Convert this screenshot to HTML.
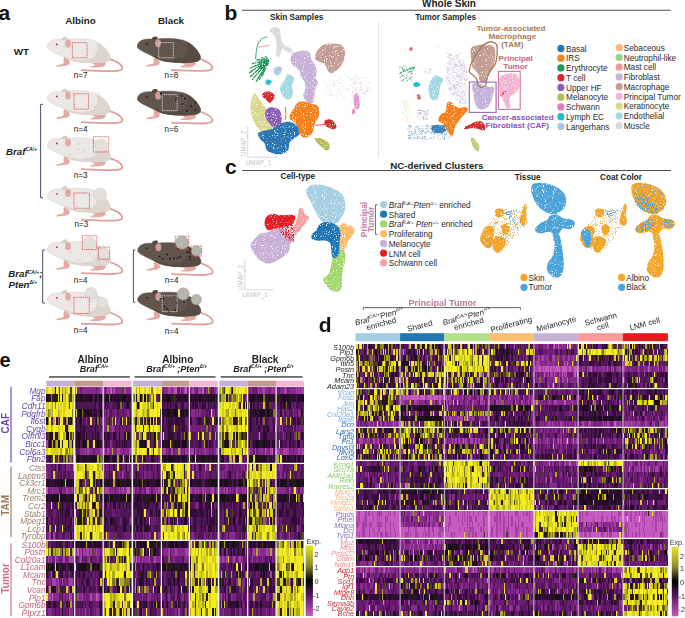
<!DOCTYPE html><html><head><meta charset="utf-8"><style>html,body{margin:0;padding:0;background:#fff;}body{width:685px;height:618px;overflow:hidden;}svg{display:block;font-family:"Liberation Sans",sans-serif;}</style></head><body>
<svg width="685" height="618" viewBox="0 0 685 618">
<defs>
<g id="mA">
<path d="M60.5,12 C70,14.5 76.5,19 74.6,22.6 C72.6,25.4 62,24.6 34.5,23.6" fill="none" stroke="#dfa09c" stroke-width="1.8" stroke-linecap="round"/>
<path d="M43,14 C49,15.2 56,14.5 58.5,16.5 C59,18.8 56.5,20.6 50.5,21 L44,21 C42.3,20.7 43,19.6 45,19.4 L48,18.6 C46,17.5 44,16 43,14 Z" fill="#e6aaa4"/>
<path d="M0,0 C0,-3 2.5,-5.5 6,-6.6 C9,-7.5 13,-7.4 16,-7 C24,-8 36,-8.5 46,-6.2 C54,-3.5 60,2.5 62.8,9 C64,12.5 62,15 57.5,15.6 C50,16.5 40,16.6 31,15.4 C25,14.6 20,13 16.5,10.5 C11,7.5 5,5.2 2.4,3.2 C0.8,2 -0.3,1 0,0 Z" fill="#ece8e5" stroke="#d6cec6" stroke-width="0.5"/>
<path d="M49,-4.4 C55,-2 60,3.5 62.8,9 C64,12.5 62,15 57.5,15.6 C50,16.5 42,16.6 30,15.2 C33,13.4 40,12.6 45,11.3 C49.5,8 51,2 49,-4.4 Z" fill="#ddd6cf"/>
<path d="M16.5,10.5 C20,13 25,14.6 31,15.4 C40,16.6 50,16.5 57.5,15.6 L56.5,14 C48,14.8 40,14.7 32,13.6 C26,12.8 21,11.4 17.5,9.3 Z" fill="#ddd6cf"/>
<path d="M17,11 C20,12.5 23,14 22.5,16.5 C22,18.4 19.5,19.3 16,19.5 L10.5,20.2 C8.8,20.4 8.6,19 10,18.6 L15.5,17.4 C16.5,16.6 16.8,15 16,13 Z" fill="#e6aaa4"/>
<path d="M14.2,-6.6 C14.5,-9.6 17.5,-10.6 20,-9.4 C20.5,-8.5 20,-7 19,-6.4 Z" fill="#d6cec6"/>
<ellipse cx="20.7" cy="-3.2" rx="2.9" ry="4" fill="#e2aaa7"/>
<circle cx="9.5" cy="-2.2" r="0.85" fill="#b3202d"/>
</g>
<g id="mB">
<path d="M60.5,12 C70,14.5 76.5,19 74.6,22.6 C72.6,25.4 62,24.6 34.5,23.6" fill="none" stroke="#dfa09c" stroke-width="1.8" stroke-linecap="round"/>
<path d="M43,14 C49,15.2 56,14.5 58.5,16.5 C59,18.8 56.5,20.6 50.5,21 L44,21 C42.3,20.7 43,19.6 45,19.4 L48,18.6 C46,17.5 44,16 43,14 Z" fill="#e6aaa4"/>
<path d="M0,0 C0,-3 2.5,-5.5 6,-6.6 C9,-7.5 13,-7.4 16,-7 C24,-8 36,-8.5 46,-6.2 C54,-3.5 60,2.5 62.8,9 C64,12.5 62,15 57.5,15.6 C50,16.5 40,16.6 31,15.4 C25,14.6 20,13 16.5,10.5 C11,7.5 5,5.2 2.4,3.2 C0.8,2 -0.3,1 0,0 Z" fill="#62554d" stroke="#55483f" stroke-width="0.5"/>
<path d="M49,-4.4 C55,-2 60,3.5 62.8,9 C64,12.5 62,15 57.5,15.6 C50,16.5 42,16.6 30,15.2 C33,13.4 40,12.6 45,11.3 C49.5,8 51,2 49,-4.4 Z" fill="#584b43"/>
<path d="M16.5,10.5 C20,13 25,14.6 31,15.4 C40,16.6 50,16.5 57.5,15.6 L56.5,14 C48,14.8 40,14.7 32,13.6 C26,12.8 21,11.4 17.5,9.3 Z" fill="#584b43"/>
<path d="M17,11 C20,12.5 23,14 22.5,16.5 C22,18.4 19.5,19.3 16,19.5 L10.5,20.2 C8.8,20.4 8.6,19 10,18.6 L15.5,17.4 C16.5,16.6 16.8,15 16,13 Z" fill="#e6aaa4"/>
<path d="M14.2,-6.6 C14.5,-9.6 17.5,-10.6 20,-9.4 C20.5,-8.5 20,-7 19,-6.4 Z" fill="#55483f"/>
<ellipse cx="20.7" cy="-3.2" rx="2.9" ry="4" fill="#cf9c98"/>
<circle cx="9.5" cy="-2.2" r="0.85" fill="#1a1210"/>
</g>
</defs>
<text x="-1.5" y="19.7" font-size="21" font-weight="bold" fill="#111">a</text>
<text x="80.5" y="23.5" font-size="9.8" font-weight="bold" text-anchor="middle" fill="#231f20">Albino</text>
<text x="171" y="23.5" font-size="9.8" font-weight="bold" text-anchor="middle" fill="#231f20">Black</text>
<text x="13.8" y="55" font-size="9.8" font-weight="bold" fill="#231f20">WT</text>
<use href="#mA" x="47.3" y="46.6"/>
<rect x="72.4" y="42.6" width="14.6" height="15.2" fill="none" stroke="#d5453f" stroke-width="0.8" stroke-dasharray="1.1 0.7"/>
<text x="73.7" y="77.6" font-size="8.2" fill="#222">n=7</text>
<use href="#mB" x="137.3" y="46.4"/>
<rect x="158.7" y="42.6" width="14.6" height="15.2" fill="none" stroke="#ebebeb" stroke-width="0.8" stroke-dasharray="1.1 0.7"/>
<text x="164.5" y="77.6" font-size="8.2" fill="#222">n=8</text>
<use href="#mA" x="47.3" y="98.6"/>
<circle cx="74.4" cy="107.9" r="0.7" fill="#eab9b9"/>
<circle cx="98.3" cy="97.2" r="0.7" fill="#eab9b9"/>
<circle cx="88.1" cy="100.7" r="0.7" fill="#eab9b9"/>
<circle cx="94.1" cy="106.8" r="0.7" fill="#eab9b9"/>
<circle cx="72.9" cy="93.1" r="0.7" fill="#eab9b9"/>
<circle cx="101.1" cy="100.4" r="0.7" fill="#eab9b9"/>
<circle cx="98.3" cy="92.6" r="0.7" fill="#eab9b9"/>
<circle cx="86.2" cy="105.6" r="0.7" fill="#eab9b9"/>
<rect x="74" y="93.8" width="14.6" height="15.3" fill="none" stroke="#d5453f" stroke-width="0.8" stroke-dasharray="1.1 0.7"/>
<text x="73.7" y="131.8" font-size="8.2" fill="#222">n=4</text>
<use href="#mB" x="137.4" y="99"/>
<circle cx="195.7" cy="110.1" r="0.9" fill="#1e1712"/>
<circle cx="161.5" cy="94.5" r="0.9" fill="#1e1712"/>
<circle cx="191.1" cy="106.2" r="0.9" fill="#1e1712"/>
<circle cx="184.8" cy="98.5" r="0.9" fill="#1e1712"/>
<circle cx="182.4" cy="103.9" r="0.9" fill="#1e1712"/>
<circle cx="181.5" cy="95.9" r="0.9" fill="#1e1712"/>
<circle cx="175.8" cy="100.1" r="0.9" fill="#1e1712"/>
<circle cx="186.9" cy="110.9" r="0.9" fill="#1e1712"/>
<circle cx="195.5" cy="102.8" r="0.9" fill="#1e1712"/>
<circle cx="176.3" cy="97.8" r="0.9" fill="#1e1712"/>
<circle cx="160.8" cy="93.5" r="0.9" fill="#1e1712"/>
<circle cx="177.1" cy="98.7" r="0.9" fill="#1e1712"/>
<rect x="162.2" y="94.6" width="14.9" height="16" fill="none" stroke="#ebebeb" stroke-width="0.8" stroke-dasharray="1.1 0.7"/>
<text x="164.39999999999998" y="131.8" font-size="8.2" fill="#222">n=6</text>
<use href="#mA" x="47.3" y="145.6"/>
<circle cx="78.3" cy="149.4" r="0.7" fill="#eab9b9"/>
<circle cx="83.4" cy="150.5" r="0.7" fill="#eab9b9"/>
<circle cx="93.1" cy="140.8" r="0.7" fill="#eab9b9"/>
<circle cx="69.8" cy="154.7" r="0.7" fill="#eab9b9"/>
<circle cx="79.2" cy="143.8" r="0.7" fill="#eab9b9"/>
<circle cx="107.1" cy="148.1" r="0.7" fill="#eab9b9"/>
<circle cx="101.1" cy="148.2" r="0.7" fill="#eab9b9"/>
<circle cx="93.6" cy="142.3" r="0.7" fill="#eab9b9"/>
<circle cx="101.2" cy="145.3" r="6.3" fill="#e4e0dc" stroke="#d0c9c2" stroke-width="0.5"/>
<rect x="93.4" y="136.7" width="15.4" height="15.3" fill="none" stroke="#d5453f" stroke-width="0.8" stroke-dasharray="1.1 0.7"/>
<text x="73.7" y="178" font-size="8.2" fill="#222">n=3</text>
<use href="#mA" x="47.3" y="196.2"/>
<circle cx="78.3" cy="192.1" r="0.7" fill="#eab9b9"/>
<circle cx="84.4" cy="193.0" r="0.7" fill="#eab9b9"/>
<circle cx="71.8" cy="197.4" r="0.7" fill="#eab9b9"/>
<circle cx="104.2" cy="204.6" r="0.7" fill="#eab9b9"/>
<circle cx="98.4" cy="194.2" r="0.7" fill="#eab9b9"/>
<circle cx="89.7" cy="195.2" r="0.7" fill="#eab9b9"/>
<circle cx="75.9" cy="192.1" r="0.7" fill="#eab9b9"/>
<circle cx="77.4" cy="206.9" r="0.7" fill="#eab9b9"/>
<circle cx="100" cy="194.3" r="6.4" fill="#e4e0dc" stroke="#d0c9c2" stroke-width="0.5"/>
<rect x="74" y="193" width="15.4" height="15.3" fill="none" stroke="#d5453f" stroke-width="0.8" stroke-dasharray="1.1 0.7"/>
<text x="74.5" y="227" font-size="8.2" fill="#222">n=3</text>
<use href="#mA" x="47.3" y="249.5"/>
<circle cx="93.0" cy="256.9" r="0.7" fill="#eab9b9"/>
<circle cx="99.5" cy="260.5" r="0.7" fill="#eab9b9"/>
<circle cx="97.4" cy="260.1" r="0.7" fill="#eab9b9"/>
<circle cx="70.4" cy="251.9" r="0.7" fill="#eab9b9"/>
<circle cx="105.1" cy="255.2" r="0.7" fill="#eab9b9"/>
<circle cx="103.5" cy="245.5" r="0.7" fill="#eab9b9"/>
<circle cx="87.1" cy="247.9" r="0.7" fill="#eab9b9"/>
<circle cx="90.0" cy="253.8" r="0.7" fill="#eab9b9"/>
<circle cx="69.8" cy="247.4" r="0.7" fill="#eab9b9"/>
<circle cx="79.9" cy="260.0" r="0.7" fill="#eab9b9"/>
<circle cx="89.6" cy="243" r="6.3" fill="#e4e0dc" stroke="#d0c9c2" stroke-width="0.5"/>
<circle cx="104" cy="253.5" r="5.5" fill="#e4e0dc" stroke="#d0c9c2" stroke-width="0.5"/>
<rect x="82.4" y="235.8" width="14.3" height="13.8" fill="none" stroke="#d5453f" stroke-width="0.8" stroke-dasharray="1.1 0.7"/>
<rect x="98.3" y="247.2" width="11.3" height="12.1" fill="none" stroke="#d5453f" stroke-width="0.8" stroke-dasharray="1.1 0.7"/>
<text x="73.7" y="283.1" font-size="8.2" fill="#222">n=4</text>
<use href="#mB" x="137.7" y="250.5"/>
<circle cx="189.8" cy="259.3" r="0.9" fill="#1e1712"/>
<circle cx="178.1" cy="249.2" r="0.9" fill="#1e1712"/>
<circle cx="159.7" cy="256.4" r="0.9" fill="#1e1712"/>
<circle cx="177.6" cy="258.2" r="0.9" fill="#1e1712"/>
<circle cx="173.9" cy="258.4" r="0.9" fill="#1e1712"/>
<circle cx="170.1" cy="258.9" r="0.9" fill="#1e1712"/>
<circle cx="187.4" cy="252.0" r="0.9" fill="#1e1712"/>
<circle cx="180.2" cy="256.8" r="0.9" fill="#1e1712"/>
<circle cx="167.0" cy="254.5" r="0.9" fill="#1e1712"/>
<circle cx="190.3" cy="249.3" r="0.9" fill="#1e1712"/>
<circle cx="190.2" cy="256.8" r="0.9" fill="#1e1712"/>
<circle cx="191.8" cy="250.5" r="0.9" fill="#1e1712"/>
<circle cx="163.2" cy="258.9" r="0.9" fill="#1e1712"/>
<circle cx="190.3" cy="252.5" r="0.9" fill="#1e1712"/>
<circle cx="182" cy="242.7" r="6.6" fill="#b8b4b0" stroke="#a29e9a" stroke-width="0.5"/>
<circle cx="196.4" cy="251" r="5.2" fill="#b8b4b0" stroke="#a29e9a" stroke-width="0.5"/>
<rect x="175.3" y="236.2" width="13.4" height="13" fill="none" stroke="#d5453f" stroke-width="0.8" stroke-dasharray="1.1 0.7"/>
<rect x="191.1" y="245.9" width="10.6" height="10.2" fill="none" stroke="#d5453f" stroke-width="0.8" stroke-dasharray="1.1 0.7"/>
<text x="164.7" y="282.7" font-size="8.2" fill="#222">n=4</text>
<use href="#mA" x="47.3" y="300"/>
<circle cx="81.6" cy="296.7" r="0.7" fill="#eab9b9"/>
<circle cx="94.0" cy="295.3" r="0.7" fill="#eab9b9"/>
<circle cx="89.7" cy="300.6" r="0.7" fill="#eab9b9"/>
<circle cx="71.5" cy="303.1" r="0.7" fill="#eab9b9"/>
<circle cx="70.7" cy="301.8" r="0.7" fill="#eab9b9"/>
<circle cx="72.0" cy="295.6" r="0.7" fill="#eab9b9"/>
<circle cx="85.4" cy="308.9" r="0.7" fill="#eab9b9"/>
<circle cx="74.0" cy="298.0" r="0.7" fill="#eab9b9"/>
<circle cx="93.1" cy="311.1" r="0.7" fill="#eab9b9"/>
<circle cx="91.2" cy="301.1" r="0.7" fill="#eab9b9"/>
<circle cx="91" cy="293.5" r="6" fill="#e4e0dc" stroke="#d0c9c2" stroke-width="0.5"/>
<circle cx="102.4" cy="302.6" r="5.2" fill="#e4e0dc" stroke="#d0c9c2" stroke-width="0.5"/>
<rect x="74" y="297.4" width="15.2" height="16.1" fill="none" stroke="#d5453f" stroke-width="0.8" stroke-dasharray="1.1 0.7"/>
<text x="73.7" y="333.4" font-size="8.2" fill="#222">n=4</text>
<use href="#mB" x="137.7" y="300"/>
<circle cx="168.3" cy="311.3" r="0.9" fill="#1e1712"/>
<circle cx="164.5" cy="306.7" r="0.9" fill="#1e1712"/>
<circle cx="162.9" cy="298.5" r="0.9" fill="#1e1712"/>
<circle cx="197.7" cy="297.8" r="0.9" fill="#1e1712"/>
<circle cx="184.1" cy="302.3" r="0.9" fill="#1e1712"/>
<circle cx="176.9" cy="302.9" r="0.9" fill="#1e1712"/>
<circle cx="167.0" cy="308.9" r="0.9" fill="#1e1712"/>
<circle cx="163.1" cy="298.2" r="0.9" fill="#1e1712"/>
<circle cx="160.5" cy="298.8" r="0.9" fill="#1e1712"/>
<circle cx="175.2" cy="310.2" r="0.9" fill="#1e1712"/>
<circle cx="174.1" cy="296.0" r="0.9" fill="#1e1712"/>
<circle cx="169.5" cy="311.8" r="0.9" fill="#1e1712"/>
<circle cx="183.2" cy="293.9" r="6.1" fill="#b8b4b0" stroke="#a29e9a" stroke-width="0.5"/>
<circle cx="196.3" cy="299.5" r="5.2" fill="#b8b4b0" stroke="#a29e9a" stroke-width="0.5"/>
<rect x="162.2" y="295.8" width="14.9" height="15.8" fill="none" stroke="#ebebeb" stroke-width="0.8" stroke-dasharray="1.1 0.7"/>
<text x="164.7" y="334" font-size="8.2" fill="#222">n=4</text>
<path d="M43,104.3 H40.6 V197.8 H43" fill="none" stroke="#4b4d6e" stroke-width="1"/>
<path d="M45.2,250 H42.7 V303 H45.2" fill="none" stroke="#4b4d6e" stroke-width="1"/>
<path d="M135.4,250 H133.4 V302.3 H135.4" fill="none" stroke="#4b4d6e" stroke-width="1"/>
<text x="6" y="155" font-size="9.7" font-weight="bold" font-style="italic" fill="#231f20">Braf<tspan font-size="5" dy="-3.6">CA/+</tspan></text>
<text x="8.3" y="277.4" font-size="9.7" font-weight="bold" font-style="italic" fill="#231f20">Braf<tspan font-size="5" dy="-3.6">CA/+</tspan><tspan dy="3.6">;</tspan></text>
<text x="8.5" y="287.9" font-size="9.7" font-weight="bold" font-style="italic" fill="#231f20">Pten<tspan font-size="5" dy="-3.6">Δ/+</tspan></text>
<defs><filter id="spkD" x="-5%" y="-5%" width="110%" height="110%"><feTurbulence type="fractalNoise" baseFrequency="0.9" numOctaves="2" seed="3" result="n"/><feColorMatrix in="n" type="matrix" values="0 0 0 0 0 0 0 0 0 0 0 0 0 0 0 7 0 0 0 -1.7" result="m"/><feComposite in="SourceGraphic" in2="m" operator="in"/></filter></defs>
<defs><filter id="spkM" x="-5%" y="-5%" width="110%" height="110%"><feTurbulence type="fractalNoise" baseFrequency="0.9" numOctaves="2" seed="5" result="n"/><feColorMatrix in="n" type="matrix" values="0 0 0 0 0 0 0 0 0 0 0 0 0 0 0 7 0 0 0 -3.2" result="m"/><feComposite in="SourceGraphic" in2="m" operator="in"/></filter></defs>
<defs><filter id="spkS" x="-5%" y="-5%" width="110%" height="110%"><feTurbulence type="fractalNoise" baseFrequency="0.9" numOctaves="2" seed="7" result="n"/><feColorMatrix in="n" type="matrix" values="0 0 0 0 0 0 0 0 0 0 0 0 0 0 0 7 0 0 0 -3.9" result="m"/><feComposite in="SourceGraphic" in2="m" operator="in"/></filter></defs>
<text x="224.4" y="20.3" font-size="21" font-weight="bold" fill="#111">b</text>
<path d="M242,10.3 H670.7" stroke="#4d4d4d" stroke-width="1.1"/>
<text x="422" y="6.6" font-size="10" font-weight="bold" fill="#231f20">Whole Skin</text>
<text x="270" y="19.6" font-size="8.2" font-weight="bold" fill="#231f20">Skin Samples</text>
<text x="415.2" y="19.6" font-size="8.2" font-weight="bold" fill="#231f20">Tumor Samples</text>
<path d="M378.6,23 V158" stroke="#b5b5b5" stroke-width="0.8" stroke-dasharray="0.8 0.8"/>
<g filter="url(#spkD)">
<path d="M270.3,29.1 C271.2,28.3 273.3,27.3 274.9,27.3 C276.4,27.2 278.4,27.6 279.4,28.6 C280.3,29.7 280.2,31.8 280.5,33.6 C280.8,35.4 280.6,37.4 281.2,39.3 C281.8,41.1 282.8,43.4 284.4,44.9 C286.0,46.4 289.3,47.2 290.7,48.3 C292.2,49.5 293.2,51.0 293.0,51.7 C292.8,52.5 290.9,53.0 289.6,52.9 C288.3,52.7 286.4,51.2 285.0,50.6 C283.7,50.0 282.4,48.9 281.7,49.5 C280.9,50.0 281.1,52.7 280.5,54.0 C280.0,55.3 279.0,57.2 278.3,57.4 C277.5,57.6 276.3,56.8 276.0,55.1 C275.7,53.4 276.7,49.6 276.7,47.2 C276.7,44.7 276.5,42.5 276.0,40.4 C275.5,38.3 274.7,36.2 273.7,34.7 C272.7,33.3 270.4,32.7 269.9,31.8 C269.3,30.8 269.5,29.8 270.3,29.1Z" fill="#dadada"/>
<path d="M266.9,37.0 C266.0,37.4 262.9,37.8 261.3,39.3 C259.6,40.8 258.1,42.8 257.2,46.1 C256.2,49.3 255.9,56.4 255.6,58.5" fill="none" stroke="#22985a" stroke-width="0.9" stroke-linecap="round"/>
<path d="M259.0,47.2 C259.9,47.0 263.0,46.4 264.7,46.1 C266.4,45.8 268.4,45.5 269.2,45.4" fill="none" stroke="#e87070" stroke-width="0.8" stroke-linecap="round"/>
<path d="M267.6,61.2 C266.2,62.1 262.2,64.3 259.2,66.2 C256.2,68.1 251.1,71.5 249.5,72.6" fill="none" stroke="#22985a" stroke-width="1.3" stroke-linecap="round"/>
<path d="M267.6,61.2 C266.3,62.4 262.5,65.7 259.7,68.3 C256.8,70.8 251.9,75.3 250.4,76.7" fill="none" stroke="#22985a" stroke-width="1.3" stroke-linecap="round"/>
<path d="M267.6,61.2 C266.5,62.6 263.3,66.6 260.8,69.6 C258.3,72.6 254.0,77.7 252.6,79.4" fill="none" stroke="#22985a" stroke-width="1.3" stroke-linecap="round"/>
<path d="M267.6,61.2 C266.8,62.8 264.5,67.2 262.6,70.5 C260.7,73.9 257.3,79.4 256.3,81.2" fill="none" stroke="#22985a" stroke-width="1.3" stroke-linecap="round"/>
<path d="M267.6,61.2 C267.0,62.6 265.6,66.6 264.2,69.6 C262.8,72.6 260.2,77.7 259.4,79.4" fill="none" stroke="#22985a" stroke-width="1.3" stroke-linecap="round"/>
<path d="M267.6,61.2 C267.3,62.3 266.5,65.3 265.7,67.7 C264.8,70.1 262.9,74.2 262.4,75.5" fill="none" stroke="#22985a" stroke-width="1.3" stroke-linecap="round"/>
<path d="M267.6,61.2 C266.3,61.7 262.5,62.8 259.7,64.0 C256.8,65.1 251.9,67.4 250.4,68.0" fill="none" stroke="#22985a" stroke-width="1.3" stroke-linecap="round"/>
<path d="M267.6,61.2 C266.5,61.3 263.3,61.3 260.8,61.7 C258.3,62.1 254.0,63.2 252.6,63.5" fill="none" stroke="#22985a" stroke-width="1.3" stroke-linecap="round"/>
<path d="M267.6,61.2 C266.8,61.0 264.7,60.1 262.8,59.9 C261.0,59.7 257.7,59.9 256.7,59.9" fill="none" stroke="#22985a" stroke-width="1.3" stroke-linecap="round"/>
<path d="M267.6,61.2 C267.2,60.8 266.2,59.4 265.1,58.7 C264.1,58.1 261.9,57.8 261.3,57.6" fill="none" stroke="#22985a" stroke-width="1.3" stroke-linecap="round"/>
<path d="M267.6,61.2 C267.5,60.8 267.5,59.1 267.1,58.3 C266.8,57.5 265.6,57.0 265.3,56.7" fill="none" stroke="#22985a" stroke-width="1.3" stroke-linecap="round"/>
<path d="M259.0,61.9 C259.9,60.5 263.0,59.4 264.7,59.0 C266.4,58.6 268.6,58.6 269.2,59.7 C269.8,60.7 269.0,63.8 268.1,65.3 C267.1,66.8 265.0,68.3 263.5,68.7 C262.0,69.1 259.7,68.7 259.0,67.6 C258.2,66.5 258.0,63.4 259.0,61.9Z" fill="#22985a"/>
<path d="M291.8,54.0 C293.0,52.5 295.2,52.3 297.5,51.7 C299.8,51.2 303.4,50.4 305.4,50.6 C307.5,50.8 309.0,51.5 310.0,52.9 C310.9,54.2 310.4,56.6 311.1,58.5 C311.9,60.4 313.6,62.1 314.5,64.2 C315.5,66.3 316.6,68.7 316.8,71.0 C317.0,73.3 315.5,75.9 315.6,77.8 C315.8,79.7 317.9,80.6 317.9,82.3 C317.9,84.0 316.2,85.9 315.6,88.0 C315.1,90.1 314.9,92.5 314.5,94.8 C314.1,97.0 314.1,100.1 313.4,101.6 C312.6,103.1 311.3,104.0 310.0,103.8 C308.7,103.7 306.6,102.0 305.4,100.4 C304.3,98.9 303.2,96.9 303.2,94.8 C303.2,92.7 305.3,90.2 305.4,88.0 C305.6,85.7 305.1,83.1 304.3,81.2 C303.6,79.3 301.7,78.4 300.9,76.7 C300.2,75.0 300.5,72.5 299.8,71.0 C299.0,69.5 297.5,68.5 296.4,67.6 C295.2,66.6 293.9,66.5 293.0,65.3 C292.0,64.2 290.9,62.7 290.7,60.8 C290.5,58.9 290.7,55.5 291.8,54.0Z" fill="#c8b1d8"/>
<path d="M315.6,54.0 C316.4,51.9 318.3,48.9 320.2,47.2 C322.1,45.5 324.3,44.4 327.0,43.8 C329.6,43.2 333.4,43.4 336.0,43.8 C338.7,44.2 341.3,44.4 342.8,46.1 C344.3,47.8 345.1,51.2 345.1,54.0 C345.1,56.8 344.0,60.6 342.8,63.1 C341.7,65.5 340.2,67.0 338.3,68.7 C336.4,70.4 333.2,72.9 331.5,73.3 C329.8,73.6 329.2,72.5 328.1,71.0 C327.0,69.5 326.0,65.7 324.7,64.2 C323.4,62.7 321.7,62.7 320.2,61.9 C318.7,61.2 316.4,61.0 315.6,59.7 C314.9,58.3 314.9,56.1 315.6,54.0Z" fill="#c39c93"/>
<path d="M329.0,60.3h0.5v0.5h-0.5zM342.9,57.5h0.5v0.5h-0.5zM330.6,61.1h0.5v0.5h-0.5zM321.1,58.9h0.5v0.5h-0.5zM334.2,67.2h0.5v0.5h-0.5zM318.4,52.7h0.5v0.5h-0.5zM336.1,45.0h0.5v0.5h-0.5zM334.9,61.9h0.5v0.5h-0.5zM331.2,45.5h0.5v0.5h-0.5zM321.2,50.9h0.5v0.5h-0.5zM316.5,57.5h0.5v0.5h-0.5zM328.6,68.6h0.5v0.5h-0.5zM330.9,62.7h0.5v0.5h-0.5zM330.4,63.3h0.5v0.5h-0.5zM329.1,52.0h0.5v0.5h-0.5zM340.4,64.6h0.5v0.5h-0.5zM324.9,50.6h0.5v0.5h-0.5zM324.2,45.9h0.5v0.5h-0.5zM338.2,55.6h0.5v0.5h-0.5zM340.6,55.2h0.5v0.5h-0.5zM342.5,57.6h0.5v0.5h-0.5zM344.5,55.5h0.5v0.5h-0.5zM338.6,51.7h0.5v0.5h-0.5zM318.2,53.6h0.5v0.5h-0.5zM319.1,51.1h0.5v0.5h-0.5zM339.1,49.0h0.5v0.5h-0.5zM332.1,57.0h0.5v0.5h-0.5zM319.1,56.2h0.5v0.5h-0.5zM321.9,51.7h0.5v0.5h-0.5zM321.8,55.4h0.5v0.5h-0.5zM340.8,62.7h0.5v0.5h-0.5zM321.9,51.4h0.5v0.5h-0.5zM338.4,53.5h0.5v0.5h-0.5zM324.4,46.0h0.5v0.5h-0.5zM318.3,61.0h0.5v0.5h-0.5zM322.8,61.5h0.5v0.5h-0.5zM326.6,57.1h0.5v0.5h-0.5zM343.9,58.0h0.5v0.5h-0.5zM332.6,69.3h0.5v0.5h-0.5zM321.0,48.3h0.5v0.5h-0.5zM323.0,49.4h0.5v0.5h-0.5zM341.6,61.6h0.5v0.5h-0.5zM328.1,46.9h0.5v0.5h-0.5zM333.2,52.4h0.5v0.5h-0.5zM332.1,68.9h0.5v0.5h-0.5zM333.7,52.0h0.5v0.5h-0.5zM342.7,49.8h0.5v0.5h-0.5zM328.8,45.6h0.5v0.5h-0.5zM320.8,54.7h0.5v0.5h-0.5zM332.5,47.7h0.5v0.5h-0.5zM336.0,61.0h0.5v0.5h-0.5zM329.8,65.3h0.5v0.5h-0.5zM317.9,59.9h0.5v0.5h-0.5zM337.4,64.5h0.5v0.5h-0.5zM326.0,64.0h0.5v0.5h-0.5zM327.9,67.1h0.5v0.5h-0.5zM341.1,60.7h0.5v0.5h-0.5zM334.1,55.1h0.5v0.5h-0.5zM332.8,61.7h0.5v0.5h-0.5zM337.1,55.2h0.5v0.5h-0.5z" fill="#ffffff" fill-opacity="0.7"/>
<path d="M273.7,68.7 C274.2,67.6 275.8,66.6 277.1,66.5 C278.4,66.3 281.1,66.5 281.7,67.6 C282.2,68.7 281.3,71.9 280.5,73.3 C279.8,74.6 278.1,75.5 277.1,75.5 C276.1,75.5 275.0,74.4 274.4,73.3 C273.8,72.1 273.3,69.9 273.7,68.7Z" fill="#abc6e6"/>
<path d="M265.3,80.7 C265.6,79.9 267.0,79.3 268.1,79.4 C269.1,79.4 271.1,80.3 271.5,81.2 C271.8,82.1 271.2,84.0 270.3,84.6 C269.5,85.1 267.3,85.2 266.5,84.6 C265.6,83.9 265.1,81.6 265.3,80.7Z" fill="#1fbccc"/>
<path d="M280.5,85.7 C281.3,83.7 283.9,81.3 285.0,79.4 C286.2,77.5 286.2,75.0 287.3,74.4 C288.4,73.7 290.7,74.6 291.8,75.5 C293.0,76.5 294.1,78.4 294.1,80.0 C294.1,81.7 292.0,83.6 291.8,85.7 C291.7,87.8 293.2,90.4 293.0,92.5 C292.8,94.6 291.8,97.0 290.7,98.2 C289.6,99.3 287.5,99.7 286.2,99.3 C284.9,98.9 283.7,97.2 282.8,95.9 C281.8,94.6 280.9,93.1 280.5,91.4 C280.1,89.7 279.8,87.7 280.5,85.7Z" fill="#a2d8e2"/>
<path d="M262.4,93.6 C263.0,92.7 265.4,91.6 266.9,91.4 C268.4,91.2 270.1,91.8 271.5,92.5 C272.8,93.3 274.7,94.6 274.9,95.9 C275.0,97.2 273.5,99.3 272.6,100.4 C271.6,101.6 270.3,102.9 269.2,102.7 C268.1,102.5 266.8,100.3 265.8,99.3 C264.8,98.4 263.6,98.0 263.1,97.0 C262.5,96.1 261.7,94.6 262.4,93.6Z" fill="#d62a2a"/>
<path d="M252.6,95.9 C253.4,94.1 253.9,92.4 254.9,93.0 C256.0,93.5 257.3,96.9 259.0,99.3 C260.7,101.7 263.4,104.2 265.3,107.2 C267.2,110.3 268.8,113.9 270.3,117.4 C271.8,121.0 273.6,125.9 274.4,128.8 C275.2,131.6 276.2,133.2 275.3,134.4 C274.4,135.6 271.5,136.6 269.2,136.0 C266.8,135.5 263.7,133.2 261.3,131.0 C258.8,128.9 256.2,126.1 254.5,123.1 C252.8,120.1 251.7,116.1 251.1,112.9 C250.4,109.7 250.1,106.7 250.4,103.8 C250.6,101.0 251.9,97.7 252.6,95.9Z" fill="#d8d98e"/>
<path d="M265.8,110.6 C266.5,108.9 268.4,107.6 270.3,107.2 C272.2,106.9 275.4,107.6 277.1,108.4 C278.8,109.1 279.8,109.9 280.5,111.8 C281.3,113.7 281.8,117.3 281.7,119.7 C281.5,122.2 280.7,125.2 279.4,126.5 C278.1,127.8 275.4,128.2 273.7,127.6 C272.0,127.1 270.5,124.8 269.2,123.1 C267.9,121.4 266.4,119.5 265.8,117.4 C265.2,115.4 265.0,112.3 265.8,110.6Z" fill="#8d60b6"/>
<path d="M257.9,133.3 C258.4,132.0 261.1,131.8 263.5,131.0 C266.0,130.3 269.6,130.1 272.6,128.8 C275.6,127.4 278.6,124.2 281.7,123.1 C284.7,122.0 288.1,121.4 290.7,122.0 C293.4,122.5 296.0,124.6 297.5,126.5 C299.0,128.4 300.2,131.4 299.8,133.3 C299.4,135.2 296.9,136.3 295.2,137.8 C293.5,139.3 290.7,140.5 289.6,142.4 C288.4,144.3 289.6,147.3 288.4,149.2 C287.3,151.1 285.2,152.9 282.8,153.7 C280.3,154.5 276.4,154.3 273.7,153.7 C271.1,153.1 268.4,152.0 266.9,150.3 C265.4,148.6 265.8,145.4 264.7,143.5 C263.5,141.6 261.3,140.7 260.1,139.0 C259.0,137.3 257.3,134.6 257.9,133.3Z" fill="#2b77b3"/>
<path d="M293.0,109.5 C294.3,107.4 295.8,104.0 297.5,102.7 C299.2,101.4 300.9,101.4 303.2,101.6 C305.4,101.8 308.7,103.1 311.1,103.8 C313.6,104.6 316.6,104.2 317.9,106.1 C319.2,108.0 319.4,112.5 319.0,115.2 C318.7,117.8 316.6,119.5 315.6,122.0 C314.7,124.4 314.1,127.8 313.4,129.9 C312.6,132.0 312.4,133.1 311.1,134.4 C309.8,135.8 307.1,137.6 305.4,137.8 C303.7,138.0 302.0,137.1 300.9,135.6 C299.8,134.1 299.6,130.8 298.6,128.8 C297.7,126.7 296.6,124.6 295.2,123.1 C293.9,121.6 291.7,121.0 290.7,119.7 C289.8,118.4 289.2,116.9 289.6,115.2 C290.0,113.5 291.7,111.6 293.0,109.5Z" fill="#f6801f"/>
<path d="M285.3,107.2 C285.4,108.2 285.7,110.8 285.7,112.9 C285.7,115.0 285.4,118.6 285.3,119.7" fill="none" stroke="#f6801f" stroke-width="1.2" stroke-linecap="round"/>
<path d="M324.7,120.8 C325.5,120.0 327.7,119.1 329.2,119.3 C330.7,119.4 332.6,120.3 333.8,121.5 C335.0,122.7 336.5,125.2 336.5,126.5 C336.5,127.8 335.2,129.0 333.8,129.2 C332.4,129.4 329.6,128.5 328.1,127.6 C326.6,126.8 325.3,125.4 324.7,124.2 C324.1,123.1 324.0,121.7 324.7,120.8Z" fill="#d62a2a"/>
<path d="M314.5,125.4 C315.5,125.3 318.5,125.1 320.2,124.9 C321.9,124.7 324.0,124.4 324.7,124.2" fill="none" stroke="#d62a2a" stroke-width="0.8" stroke-linecap="round"/>
<path d="M314.5,139.0 C314.7,137.9 318.1,137.9 320.2,138.3 C322.3,138.7 325.4,140.0 327.0,141.2 C328.6,142.5 329.5,144.3 329.7,145.8 C329.9,147.3 329.1,149.7 328.1,150.3 C327.1,150.9 325.1,150.1 323.6,149.2 C322.1,148.2 320.6,146.3 319.0,144.6 C317.5,142.9 314.3,140.0 314.5,139.0Z" fill="#b7bc58"/>
<path d="M354.2,94.8 C354.9,93.6 357.3,92.8 358.2,94.3 C359.2,95.8 359.8,101.5 359.8,103.8 C359.9,106.2 359.5,107.5 358.7,108.4 C357.9,109.2 356.1,110.0 355.3,108.8 C354.5,107.7 353.9,103.9 353.7,101.6 C353.5,99.2 353.4,96.0 354.2,94.8Z" fill="#de7ec0" fill-opacity="0.8"/>
<path d="M351.9,110.2 C352.3,109.2 354.1,108.4 354.6,108.8 C355.2,109.3 355.7,111.9 355.3,112.9 C354.9,113.9 352.9,115.2 352.4,114.7 C351.8,114.3 351.5,111.2 351.9,110.2Z" fill="#de7ec0" fill-opacity="0.8"/>
<path d="M345.0,89.3h0.6v0.6h-0.6zM354.2,77.6h0.6v0.6h-0.6zM335.5,92.7h0.6v0.6h-0.6zM355.3,88.0h0.6v0.6h-0.6zM349.0,89.4h0.6v0.6h-0.6zM329.4,84.4h0.6v0.6h-0.6zM330.2,94.9h0.6v0.6h-0.6zM325.2,92.9h0.6v0.6h-0.6zM326.0,90.0h0.6v0.6h-0.6zM338.5,83.6h0.6v0.6h-0.6zM346.7,76.4h0.6v0.6h-0.6zM327.8,84.0h0.6v0.6h-0.6zM328.9,81.5h0.6v0.6h-0.6zM352.0,78.1h0.6v0.6h-0.6zM355.6,75.5h0.6v0.6h-0.6zM330.6,92.9h0.6v0.6h-0.6zM341.5,83.9h0.6v0.6h-0.6zM350.8,85.2h0.6v0.6h-0.6zM340.7,75.1h0.6v0.6h-0.6zM339.4,82.6h0.6v0.6h-0.6zM355.3,89.7h0.6v0.6h-0.6zM327.9,79.7h0.6v0.6h-0.6zM339.7,86.0h0.6v0.6h-0.6zM361.0,85.7h0.6v0.6h-0.6zM342.9,86.1h0.6v0.6h-0.6zM333.0,84.1h0.6v0.6h-0.6zM340.9,91.9h0.6v0.6h-0.6zM327.3,86.8h0.6v0.6h-0.6zM330.9,90.2h0.6v0.6h-0.6zM324.2,80.7h0.6v0.6h-0.6zM338.8,88.8h0.6v0.6h-0.6zM324.9,84.8h0.6v0.6h-0.6zM332.4,80.8h0.6v0.6h-0.6zM345.1,96.1h0.6v0.6h-0.6zM345.3,96.0h0.6v0.6h-0.6zM330.4,95.3h0.6v0.6h-0.6zM339.8,78.7h0.6v0.6h-0.6zM358.1,95.1h0.6v0.6h-0.6zM359.1,82.1h0.6v0.6h-0.6zM324.3,88.4h0.6v0.6h-0.6zM346.4,74.9h0.6v0.6h-0.6zM337.8,92.2h0.6v0.6h-0.6zM362.0,88.9h0.6v0.6h-0.6zM333.4,86.3h0.6v0.6h-0.6zM345.2,88.6h0.6v0.6h-0.6zM365.0,78.1h0.6v0.6h-0.6zM336.3,94.2h0.6v0.6h-0.6zM335.7,95.8h0.6v0.6h-0.6zM347.0,90.2h0.6v0.6h-0.6zM356.0,79.2h0.6v0.6h-0.6zM336.0,80.2h0.6v0.6h-0.6zM355.0,90.1h0.6v0.6h-0.6zM328.7,94.5h0.6v0.6h-0.6zM342.4,79.9h0.6v0.6h-0.6zM343.2,96.6h0.6v0.6h-0.6zM349.1,88.5h0.6v0.6h-0.6zM358.6,83.8h0.6v0.6h-0.6zM350.4,94.8h0.6v0.6h-0.6zM360.0,87.5h0.6v0.6h-0.6zM339.0,82.7h0.6v0.6h-0.6zM357.5,87.1h0.6v0.6h-0.6zM365.4,92.5h0.6v0.6h-0.6zM365.1,95.0h0.6v0.6h-0.6zM347.9,92.3h0.6v0.6h-0.6zM340.5,76.6h0.6v0.6h-0.6zM339.2,81.5h0.6v0.6h-0.6zM366.9,90.0h0.6v0.6h-0.6zM348.2,88.5h0.6v0.6h-0.6zM328.4,86.5h0.6v0.6h-0.6zM355.8,83.3h0.6v0.6h-0.6zM334.1,83.6h0.6v0.6h-0.6zM337.8,89.9h0.6v0.6h-0.6zM329.2,76.4h0.6v0.6h-0.6zM337.3,90.2h0.6v0.6h-0.6zM358.6,89.3h0.6v0.6h-0.6zM366.9,82.7h0.6v0.6h-0.6zM323.9,85.4h0.6v0.6h-0.6zM343.6,78.4h0.6v0.6h-0.6zM354.2,82.1h0.6v0.6h-0.6zM333.8,81.8h0.6v0.6h-0.6zM339.6,80.7h0.6v0.6h-0.6zM332.0,84.2h0.6v0.6h-0.6zM332.9,95.2h0.6v0.6h-0.6zM346.3,90.2h0.6v0.6h-0.6zM330.2,84.9h0.6v0.6h-0.6zM351.3,93.5h0.6v0.6h-0.6zM334.3,84.8h0.6v0.6h-0.6zM363.1,93.2h0.6v0.6h-0.6zM333.3,86.6h0.6v0.6h-0.6zM358.7,83.3h0.6v0.6h-0.6zM354.5,89.4h0.6v0.6h-0.6zM368.7,86.9h0.6v0.6h-0.6zM354.8,82.3h0.6v0.6h-0.6zM357.3,81.7h0.6v0.6h-0.6zM346.2,82.6h0.6v0.6h-0.6zM337.1,77.5h0.6v0.6h-0.6zM333.2,86.7h0.6v0.6h-0.6zM334.4,75.4h0.6v0.6h-0.6zM360.7,80.9h0.6v0.6h-0.6zM367.0,88.0h0.6v0.6h-0.6zM341.0,94.2h0.6v0.6h-0.6zM365.1,81.7h0.6v0.6h-0.6zM328.4,88.9h0.6v0.6h-0.6zM362.5,88.2h0.6v0.6h-0.6zM359.8,83.7h0.6v0.6h-0.6zM351.8,80.3h0.6v0.6h-0.6zM341.8,83.0h0.6v0.6h-0.6zM340.7,83.4h0.6v0.6h-0.6zM360.9,78.2h0.6v0.6h-0.6zM332.2,80.2h0.6v0.6h-0.6zM368.6,86.2h0.6v0.6h-0.6zM325.0,93.3h0.6v0.6h-0.6zM364.0,93.0h0.6v0.6h-0.6zM339.5,91.0h0.6v0.6h-0.6zM337.0,77.5h0.6v0.6h-0.6zM363.6,93.3h0.6v0.6h-0.6zM332.5,94.3h0.6v0.6h-0.6zM323.6,81.4h0.6v0.6h-0.6zM323.1,78.3h0.6v0.6h-0.6zM330.2,90.6h0.6v0.6h-0.6z" fill="#c8b1d8"/>
<path d="M353.2,88.4h0.6v0.6h-0.6zM362.9,91.7h0.6v0.6h-0.6zM351.6,79.1h0.6v0.6h-0.6zM350.7,79.0h0.6v0.6h-0.6zM364.0,77.0h0.6v0.6h-0.6zM359.4,78.7h0.6v0.6h-0.6zM354.0,83.2h0.6v0.6h-0.6zM366.3,86.8h0.6v0.6h-0.6zM365.7,90.8h0.6v0.6h-0.6zM366.1,89.6h0.6v0.6h-0.6zM368.9,90.6h0.6v0.6h-0.6zM353.2,91.7h0.6v0.6h-0.6zM358.4,89.8h0.6v0.6h-0.6zM360.1,83.1h0.6v0.6h-0.6zM355.6,83.2h0.6v0.6h-0.6zM354.5,76.8h0.6v0.6h-0.6zM365.9,90.7h0.6v0.6h-0.6zM369.7,88.5h0.6v0.6h-0.6zM359.9,89.6h0.6v0.6h-0.6zM357.4,78.0h0.6v0.6h-0.6zM352.0,85.0h0.6v0.6h-0.6zM353.1,83.8h0.6v0.6h-0.6zM361.1,82.5h0.6v0.6h-0.6zM350.3,84.4h0.6v0.6h-0.6zM352.7,79.2h0.6v0.6h-0.6zM351.8,81.9h0.6v0.6h-0.6zM369.0,82.3h0.6v0.6h-0.6zM363.7,93.4h0.6v0.6h-0.6zM348.3,77.3h0.6v0.6h-0.6zM365.6,91.5h0.6v0.6h-0.6zM361.8,77.6h0.6v0.6h-0.6zM356.7,92.1h0.6v0.6h-0.6zM367.4,90.8h0.6v0.6h-0.6zM352.0,91.8h0.6v0.6h-0.6zM355.9,89.0h0.6v0.6h-0.6zM361.0,89.1h0.6v0.6h-0.6zM352.2,87.0h0.6v0.6h-0.6zM360.5,86.4h0.6v0.6h-0.6zM355.5,89.2h0.6v0.6h-0.6zM355.1,80.4h0.6v0.6h-0.6z" fill="#de7ec0"/>
</g>
<path d="M247.7,126.5 V157.2 H277" fill="none" stroke="#cfcfcf" stroke-width="0.8"/>
<text transform="translate(246,156) rotate(-90)" font-size="6.3" fill="#c3c3c3">UMAP_2</text>
<text x="245.7" y="165.2" font-size="6.3" fill="#c3c3c3">UMAP_1</text>
<path d="M449.2,88.2h0.7v0.7h-0.7zM459.1,77.2h0.7v0.7h-0.7zM462.8,79.0h0.7v0.7h-0.7zM456.4,64.6h0.7v0.7h-0.7zM458.1,55.9h0.7v0.7h-0.7zM462.5,64.4h0.7v0.7h-0.7zM450.6,54.5h0.7v0.7h-0.7zM464.2,84.4h0.7v0.7h-0.7zM446.5,69.4h0.7v0.7h-0.7zM456.2,58.3h0.7v0.7h-0.7zM465.8,71.5h0.7v0.7h-0.7zM455.3,81.0h0.7v0.7h-0.7zM453.0,77.5h0.7v0.7h-0.7zM449.7,54.2h0.7v0.7h-0.7zM464.0,64.5h0.7v0.7h-0.7zM462.2,63.1h0.7v0.7h-0.7zM461.7,92.0h0.7v0.7h-0.7zM458.0,90.3h0.7v0.7h-0.7zM448.3,77.1h0.7v0.7h-0.7zM463.2,62.7h0.7v0.7h-0.7zM465.2,98.5h0.7v0.7h-0.7zM454.4,71.3h0.7v0.7h-0.7zM455.3,72.4h0.7v0.7h-0.7zM466.7,72.4h0.7v0.7h-0.7zM456.2,77.9h0.7v0.7h-0.7zM457.3,91.3h0.7v0.7h-0.7zM450.4,84.0h0.7v0.7h-0.7zM457.5,84.7h0.7v0.7h-0.7zM449.5,61.1h0.7v0.7h-0.7zM453.0,83.4h0.7v0.7h-0.7zM452.2,57.6h0.7v0.7h-0.7zM462.1,71.8h0.7v0.7h-0.7zM460.2,87.5h0.7v0.7h-0.7zM464.7,102.2h0.7v0.7h-0.7zM466.0,83.0h0.7v0.7h-0.7zM464.4,77.9h0.7v0.7h-0.7zM453.7,65.2h0.7v0.7h-0.7zM462.1,77.5h0.7v0.7h-0.7zM451.2,67.4h0.7v0.7h-0.7zM454.6,61.2h0.7v0.7h-0.7zM447.2,69.9h0.7v0.7h-0.7zM464.7,103.5h0.7v0.7h-0.7zM461.5,77.2h0.7v0.7h-0.7zM456.8,90.2h0.7v0.7h-0.7zM463.4,93.7h0.7v0.7h-0.7zM464.3,83.6h0.7v0.7h-0.7zM454.7,82.6h0.7v0.7h-0.7zM463.7,68.3h0.7v0.7h-0.7zM457.0,66.7h0.7v0.7h-0.7zM460.2,102.0h0.7v0.7h-0.7zM459.3,96.7h0.7v0.7h-0.7zM458.1,65.7h0.7v0.7h-0.7zM447.7,57.2h0.7v0.7h-0.7zM446.3,75.6h0.7v0.7h-0.7zM459.6,58.9h0.7v0.7h-0.7zM457.1,69.2h0.7v0.7h-0.7zM456.2,63.7h0.7v0.7h-0.7zM449.2,61.9h0.7v0.7h-0.7zM453.7,89.3h0.7v0.7h-0.7zM457.3,54.7h0.7v0.7h-0.7zM460.7,97.8h0.7v0.7h-0.7zM462.1,93.5h0.7v0.7h-0.7zM449.4,89.4h0.7v0.7h-0.7zM451.1,88.6h0.7v0.7h-0.7zM452.4,54.5h0.7v0.7h-0.7zM453.9,68.4h0.7v0.7h-0.7zM464.7,67.6h0.7v0.7h-0.7zM456.4,80.9h0.7v0.7h-0.7zM458.4,78.8h0.7v0.7h-0.7zM461.2,102.7h0.7v0.7h-0.7zM452.3,88.7h0.7v0.7h-0.7zM456.8,81.5h0.7v0.7h-0.7zM466.3,70.8h0.7v0.7h-0.7zM448.0,56.2h0.7v0.7h-0.7zM461.8,75.6h0.7v0.7h-0.7zM458.8,53.3h0.7v0.7h-0.7zM459.3,75.3h0.7v0.7h-0.7zM456.7,72.6h0.7v0.7h-0.7zM454.2,64.0h0.7v0.7h-0.7zM446.8,74.9h0.7v0.7h-0.7zM450.9,89.0h0.7v0.7h-0.7zM463.0,90.0h0.7v0.7h-0.7zM455.4,64.6h0.7v0.7h-0.7zM453.9,77.6h0.7v0.7h-0.7zM459.1,102.5h0.7v0.7h-0.7zM447.5,77.3h0.7v0.7h-0.7zM456.1,89.6h0.7v0.7h-0.7zM464.5,92.9h0.7v0.7h-0.7zM459.0,91.8h0.7v0.7h-0.7zM459.8,97.0h0.7v0.7h-0.7zM460.5,87.9h0.7v0.7h-0.7zM453.9,84.3h0.7v0.7h-0.7zM463.1,102.5h0.7v0.7h-0.7zM452.3,68.5h0.7v0.7h-0.7zM454.0,59.8h0.7v0.7h-0.7zM457.4,56.4h0.7v0.7h-0.7zM461.4,76.4h0.7v0.7h-0.7zM460.6,63.0h0.7v0.7h-0.7zM452.8,85.7h0.7v0.7h-0.7zM460.1,65.9h0.7v0.7h-0.7zM465.8,69.1h0.7v0.7h-0.7zM449.0,87.8h0.7v0.7h-0.7zM450.0,83.4h0.7v0.7h-0.7zM451.6,72.0h0.7v0.7h-0.7zM465.6,76.6h0.7v0.7h-0.7zM455.0,84.4h0.7v0.7h-0.7zM451.7,61.4h0.7v0.7h-0.7zM453.9,66.5h0.7v0.7h-0.7zM465.5,89.0h0.7v0.7h-0.7zM446.1,78.4h0.7v0.7h-0.7zM460.5,64.8h0.7v0.7h-0.7zM445.9,80.6h0.7v0.7h-0.7zM447.7,68.4h0.7v0.7h-0.7zM455.3,98.9h0.7v0.7h-0.7zM453.5,59.3h0.7v0.7h-0.7zM462.4,95.1h0.7v0.7h-0.7zM456.9,54.8h0.7v0.7h-0.7zM449.7,73.3h0.7v0.7h-0.7zM457.4,64.0h0.7v0.7h-0.7zM462.7,96.2h0.7v0.7h-0.7zM465.3,98.3h0.7v0.7h-0.7zM446.1,82.6h0.7v0.7h-0.7zM461.5,91.8h0.7v0.7h-0.7zM449.7,55.4h0.7v0.7h-0.7zM462.9,83.9h0.7v0.7h-0.7zM458.8,76.8h0.7v0.7h-0.7zM462.6,69.9h0.7v0.7h-0.7zM451.4,70.7h0.7v0.7h-0.7zM452.0,85.0h0.7v0.7h-0.7zM447.2,78.9h0.7v0.7h-0.7zM460.0,62.2h0.7v0.7h-0.7zM451.4,55.3h0.7v0.7h-0.7zM446.5,78.1h0.7v0.7h-0.7zM460.1,86.3h0.7v0.7h-0.7zM449.1,57.7h0.7v0.7h-0.7zM465.4,80.3h0.7v0.7h-0.7zM454.4,88.3h0.7v0.7h-0.7zM461.1,79.6h0.7v0.7h-0.7zM450.2,54.4h0.7v0.7h-0.7zM453.2,80.0h0.7v0.7h-0.7zM459.0,61.3h0.7v0.7h-0.7zM460.7,78.0h0.7v0.7h-0.7zM462.8,99.5h0.7v0.7h-0.7zM460.1,63.6h0.7v0.7h-0.7zM462.1,99.3h0.7v0.7h-0.7zM457.0,99.6h0.7v0.7h-0.7zM466.2,72.6h0.7v0.7h-0.7zM465.6,101.1h0.7v0.7h-0.7zM453.2,84.2h0.7v0.7h-0.7zM458.5,91.7h0.7v0.7h-0.7zM459.4,60.7h0.7v0.7h-0.7zM465.4,80.2h0.7v0.7h-0.7zM462.1,90.8h0.7v0.7h-0.7zM464.4,71.2h0.7v0.7h-0.7zM447.5,73.4h0.7v0.7h-0.7zM449.5,80.4h0.7v0.7h-0.7zM462.9,71.1h0.7v0.7h-0.7zM448.5,53.7h0.7v0.7h-0.7zM454.7,82.5h0.7v0.7h-0.7zM450.2,57.8h0.7v0.7h-0.7zM465.3,79.5h0.7v0.7h-0.7zM464.6,79.1h0.7v0.7h-0.7zM448.3,64.8h0.7v0.7h-0.7zM454.7,85.7h0.7v0.7h-0.7zM462.0,91.4h0.7v0.7h-0.7zM459.5,65.5h0.7v0.7h-0.7zM454.8,72.0h0.7v0.7h-0.7zM456.1,66.1h0.7v0.7h-0.7zM457.1,76.2h0.7v0.7h-0.7zM458.1,94.1h0.7v0.7h-0.7zM461.3,90.4h0.7v0.7h-0.7zM466.7,71.9h0.7v0.7h-0.7zM454.0,52.5h0.7v0.7h-0.7zM459.8,82.6h0.7v0.7h-0.7zM449.9,64.1h0.7v0.7h-0.7zM461.2,94.6h0.7v0.7h-0.7zM455.9,55.1h0.7v0.7h-0.7zM453.6,95.3h0.7v0.7h-0.7zM456.3,76.3h0.7v0.7h-0.7zM454.0,85.0h0.7v0.7h-0.7zM458.4,88.4h0.7v0.7h-0.7zM464.0,91.4h0.7v0.7h-0.7zM453.6,65.3h0.7v0.7h-0.7zM462.2,93.6h0.7v0.7h-0.7zM463.6,98.7h0.7v0.7h-0.7zM447.4,68.3h0.7v0.7h-0.7zM459.1,59.9h0.7v0.7h-0.7zM463.3,66.1h0.7v0.7h-0.7zM460.1,67.7h0.7v0.7h-0.7zM450.3,63.1h0.7v0.7h-0.7zM456.2,89.4h0.7v0.7h-0.7zM450.3,88.0h0.7v0.7h-0.7zM452.8,86.1h0.7v0.7h-0.7zM453.5,62.3h0.7v0.7h-0.7zM448.7,55.3h0.7v0.7h-0.7zM460.4,73.8h0.7v0.7h-0.7zM459.6,53.4h0.7v0.7h-0.7zM461.0,83.3h0.7v0.7h-0.7zM455.1,78.4h0.7v0.7h-0.7zM466.0,71.8h0.7v0.7h-0.7zM459.2,85.4h0.7v0.7h-0.7zM453.5,70.3h0.7v0.7h-0.7zM461.7,85.4h0.7v0.7h-0.7zM455.4,79.0h0.7v0.7h-0.7zM455.3,63.8h0.7v0.7h-0.7zM458.1,82.7h0.7v0.7h-0.7zM447.6,77.8h0.7v0.7h-0.7zM452.6,69.4h0.7v0.7h-0.7zM450.3,54.8h0.7v0.7h-0.7zM449.7,60.2h0.7v0.7h-0.7zM458.9,96.4h0.7v0.7h-0.7zM450.4,58.1h0.7v0.7h-0.7zM457.0,58.3h0.7v0.7h-0.7zM454.3,91.9h0.7v0.7h-0.7zM450.0,88.7h0.7v0.7h-0.7zM457.1,56.7h0.7v0.7h-0.7zM450.9,83.5h0.7v0.7h-0.7zM447.8,62.9h0.7v0.7h-0.7zM457.9,94.9h0.7v0.7h-0.7zM456.7,86.8h0.7v0.7h-0.7zM453.3,93.2h0.7v0.7h-0.7zM446.5,78.2h0.7v0.7h-0.7zM464.5,92.5h0.7v0.7h-0.7zM458.0,61.8h0.7v0.7h-0.7zM460.9,79.9h0.7v0.7h-0.7zM449.2,70.0h0.7v0.7h-0.7zM459.7,86.5h0.7v0.7h-0.7zM454.0,94.0h0.7v0.7h-0.7zM446.9,67.2h0.7v0.7h-0.7zM447.6,69.2h0.7v0.7h-0.7zM462.5,91.5h0.7v0.7h-0.7zM448.9,68.3h0.7v0.7h-0.7zM448.1,86.8h0.7v0.7h-0.7zM455.1,64.3h0.7v0.7h-0.7zM453.6,97.4h0.7v0.7h-0.7zM454.7,88.3h0.7v0.7h-0.7zM459.0,77.0h0.7v0.7h-0.7zM457.5,71.2h0.7v0.7h-0.7zM449.9,78.0h0.7v0.7h-0.7zM452.2,69.5h0.7v0.7h-0.7zM454.7,62.7h0.7v0.7h-0.7zM464.1,69.8h0.7v0.7h-0.7zM459.8,64.3h0.7v0.7h-0.7zM459.5,75.7h0.7v0.7h-0.7zM461.3,79.8h0.7v0.7h-0.7zM453.7,66.9h0.7v0.7h-0.7zM458.3,95.6h0.7v0.7h-0.7zM460.3,77.3h0.7v0.7h-0.7zM460.1,92.5h0.7v0.7h-0.7zM460.0,102.5h0.7v0.7h-0.7zM464.3,65.1h0.7v0.7h-0.7zM449.3,72.9h0.7v0.7h-0.7zM458.9,66.5h0.7v0.7h-0.7zM451.4,93.7h0.7v0.7h-0.7zM458.7,91.0h0.7v0.7h-0.7zM462.4,97.7h0.7v0.7h-0.7zM464.6,95.2h0.7v0.7h-0.7zM466.4,78.3h0.7v0.7h-0.7zM460.5,79.0h0.7v0.7h-0.7zM466.2,86.4h0.7v0.7h-0.7zM454.8,86.9h0.7v0.7h-0.7zM452.0,59.0h0.7v0.7h-0.7zM453.9,59.4h0.7v0.7h-0.7zM455.3,92.1h0.7v0.7h-0.7zM448.1,78.9h0.7v0.7h-0.7zM452.0,75.5h0.7v0.7h-0.7zM460.8,73.8h0.7v0.7h-0.7zM454.0,90.2h0.7v0.7h-0.7zM448.2,70.5h0.7v0.7h-0.7zM460.5,95.8h0.7v0.7h-0.7zM458.9,68.6h0.7v0.7h-0.7zM460.5,96.4h0.7v0.7h-0.7zM448.6,70.2h0.7v0.7h-0.7zM465.5,70.6h0.7v0.7h-0.7zM459.1,94.9h0.7v0.7h-0.7zM451.6,93.1h0.7v0.7h-0.7zM449.3,70.3h0.7v0.7h-0.7zM450.2,53.6h0.7v0.7h-0.7zM462.7,61.3h0.7v0.7h-0.7zM457.8,81.2h0.7v0.7h-0.7zM463.7,96.4h0.7v0.7h-0.7zM458.9,61.1h0.7v0.7h-0.7zM465.3,68.3h0.7v0.7h-0.7zM451.1,63.6h0.7v0.7h-0.7zM454.1,93.5h0.7v0.7h-0.7zM463.8,91.2h0.7v0.7h-0.7zM461.1,65.0h0.7v0.7h-0.7zM452.5,68.1h0.7v0.7h-0.7zM454.9,97.8h0.7v0.7h-0.7zM455.5,88.4h0.7v0.7h-0.7zM462.3,62.0h0.7v0.7h-0.7zM464.3,99.8h0.7v0.7h-0.7zM456.0,99.7h0.7v0.7h-0.7zM449.3,80.9h0.7v0.7h-0.7zM452.3,59.6h0.7v0.7h-0.7zM459.1,85.1h0.7v0.7h-0.7zM466.1,75.2h0.7v0.7h-0.7zM457.9,71.2h0.7v0.7h-0.7zM458.5,73.0h0.7v0.7h-0.7zM455.0,91.3h0.7v0.7h-0.7zM449.7,67.8h0.7v0.7h-0.7zM461.8,64.0h0.7v0.7h-0.7zM449.1,73.7h0.7v0.7h-0.7zM452.4,65.9h0.7v0.7h-0.7zM453.2,80.3h0.7v0.7h-0.7zM448.2,80.1h0.7v0.7h-0.7zM446.8,56.4h0.7v0.7h-0.7zM450.0,64.8h0.7v0.7h-0.7zM452.9,67.4h0.7v0.7h-0.7zM463.4,86.6h0.7v0.7h-0.7zM455.7,92.5h0.7v0.7h-0.7zM460.2,68.7h0.7v0.7h-0.7zM458.7,91.1h0.7v0.7h-0.7zM457.0,91.5h0.7v0.7h-0.7zM459.1,100.6h0.7v0.7h-0.7zM451.3,87.3h0.7v0.7h-0.7zM466.3,79.8h0.7v0.7h-0.7zM461.0,66.1h0.7v0.7h-0.7zM461.6,74.3h0.7v0.7h-0.7zM457.0,65.2h0.7v0.7h-0.7zM459.3,85.0h0.7v0.7h-0.7zM448.2,67.5h0.7v0.7h-0.7zM457.1,88.6h0.7v0.7h-0.7zM456.5,81.2h0.7v0.7h-0.7zM450.7,74.7h0.7v0.7h-0.7zM454.6,87.9h0.7v0.7h-0.7zM460.0,65.9h0.7v0.7h-0.7zM460.3,74.7h0.7v0.7h-0.7zM453.7,62.5h0.7v0.7h-0.7zM465.4,85.1h0.7v0.7h-0.7zM463.8,77.9h0.7v0.7h-0.7zM458.1,98.8h0.7v0.7h-0.7zM447.0,71.2h0.7v0.7h-0.7zM453.6,70.0h0.7v0.7h-0.7zM454.8,55.2h0.7v0.7h-0.7zM460.1,102.1h0.7v0.7h-0.7zM450.7,61.9h0.7v0.7h-0.7zM452.8,93.8h0.7v0.7h-0.7zM450.5,92.4h0.7v0.7h-0.7zM449.4,83.3h0.7v0.7h-0.7zM461.0,87.4h0.7v0.7h-0.7zM463.6,77.3h0.7v0.7h-0.7zM463.9,83.6h0.7v0.7h-0.7zM449.3,73.0h0.7v0.7h-0.7zM463.1,76.4h0.7v0.7h-0.7zM446.6,60.9h0.7v0.7h-0.7zM449.7,82.8h0.7v0.7h-0.7zM459.3,75.6h0.7v0.7h-0.7zM453.0,87.3h0.7v0.7h-0.7zM450.1,79.1h0.7v0.7h-0.7zM449.5,58.2h0.7v0.7h-0.7zM452.8,58.3h0.7v0.7h-0.7zM453.8,86.3h0.7v0.7h-0.7zM457.3,93.7h0.7v0.7h-0.7zM455.8,56.6h0.7v0.7h-0.7zM461.1,73.2h0.7v0.7h-0.7zM461.6,103.1h0.7v0.7h-0.7zM456.8,65.3h0.7v0.7h-0.7zM453.3,78.3h0.7v0.7h-0.7zM452.5,57.6h0.7v0.7h-0.7zM454.1,86.5h0.7v0.7h-0.7zM463.0,92.0h0.7v0.7h-0.7zM464.4,94.0h0.7v0.7h-0.7zM454.4,85.9h0.7v0.7h-0.7zM460.7,66.1h0.7v0.7h-0.7zM455.7,66.4h0.7v0.7h-0.7zM462.5,74.5h0.7v0.7h-0.7zM462.2,100.4h0.7v0.7h-0.7zM462.1,72.1h0.7v0.7h-0.7zM453.4,93.3h0.7v0.7h-0.7zM461.7,67.0h0.7v0.7h-0.7zM447.6,66.6h0.7v0.7h-0.7zM459.8,99.6h0.7v0.7h-0.7zM465.7,76.7h0.7v0.7h-0.7zM462.4,102.9h0.7v0.7h-0.7zM452.7,64.1h0.7v0.7h-0.7zM451.2,93.0h0.7v0.7h-0.7zM448.7,80.8h0.7v0.7h-0.7zM459.0,79.9h0.7v0.7h-0.7zM466.1,79.0h0.7v0.7h-0.7zM456.1,99.4h0.7v0.7h-0.7zM461.6,59.8h0.7v0.7h-0.7zM462.7,73.1h0.7v0.7h-0.7zM456.1,74.0h0.7v0.7h-0.7zM450.5,66.7h0.7v0.7h-0.7zM450.1,61.0h0.7v0.7h-0.7zM458.4,83.4h0.7v0.7h-0.7zM461.3,81.8h0.7v0.7h-0.7zM465.3,66.9h0.7v0.7h-0.7zM447.7,82.6h0.7v0.7h-0.7zM465.2,88.1h0.7v0.7h-0.7zM463.3,65.0h0.7v0.7h-0.7zM456.0,72.2h0.7v0.7h-0.7zM453.0,71.8h0.7v0.7h-0.7zM455.8,86.4h0.7v0.7h-0.7zM446.3,80.4h0.7v0.7h-0.7zM457.4,83.0h0.7v0.7h-0.7zM452.4,89.1h0.7v0.7h-0.7zM460.7,99.7h0.7v0.7h-0.7zM458.0,66.3h0.7v0.7h-0.7zM459.0,54.9h0.7v0.7h-0.7zM461.4,68.2h0.7v0.7h-0.7zM460.9,59.1h0.7v0.7h-0.7zM458.3,61.1h0.7v0.7h-0.7zM446.5,66.0h0.7v0.7h-0.7zM463.6,72.5h0.7v0.7h-0.7zM456.8,93.5h0.7v0.7h-0.7zM460.4,93.0h0.7v0.7h-0.7zM462.5,70.3h0.7v0.7h-0.7zM455.7,93.1h0.7v0.7h-0.7zM451.0,77.6h0.7v0.7h-0.7zM459.1,96.6h0.7v0.7h-0.7zM450.9,86.9h0.7v0.7h-0.7zM450.3,60.4h0.7v0.7h-0.7zM455.8,86.0h0.7v0.7h-0.7zM459.2,101.7h0.7v0.7h-0.7zM449.2,79.9h0.7v0.7h-0.7zM455.9,65.8h0.7v0.7h-0.7zM451.2,54.4h0.7v0.7h-0.7zM459.3,86.5h0.7v0.7h-0.7zM459.1,62.8h0.7v0.7h-0.7zM465.6,96.7h0.7v0.7h-0.7zM448.5,70.4h0.7v0.7h-0.7zM452.0,72.4h0.7v0.7h-0.7zM452.9,80.9h0.7v0.7h-0.7zM464.2,66.2h0.7v0.7h-0.7zM456.9,85.4h0.7v0.7h-0.7zM457.9,73.5h0.7v0.7h-0.7zM459.4,68.7h0.7v0.7h-0.7zM449.0,52.7h0.7v0.7h-0.7zM458.5,82.2h0.7v0.7h-0.7zM462.6,60.4h0.7v0.7h-0.7zM459.9,75.9h0.7v0.7h-0.7zM456.8,95.6h0.7v0.7h-0.7zM456.7,75.0h0.7v0.7h-0.7zM459.4,60.0h0.7v0.7h-0.7zM464.2,79.2h0.7v0.7h-0.7zM446.6,77.4h0.7v0.7h-0.7zM454.7,66.1h0.7v0.7h-0.7zM465.5,67.1h0.7v0.7h-0.7zM455.7,87.4h0.7v0.7h-0.7zM447.1,69.7h0.7v0.7h-0.7zM461.1,70.2h0.7v0.7h-0.7zM449.4,89.3h0.7v0.7h-0.7zM454.9,88.5h0.7v0.7h-0.7zM456.0,94.6h0.7v0.7h-0.7zM462.9,89.9h0.7v0.7h-0.7zM456.1,84.0h0.7v0.7h-0.7zM453.7,56.2h0.7v0.7h-0.7zM464.4,94.4h0.7v0.7h-0.7zM461.9,97.0h0.7v0.7h-0.7zM447.4,72.0h0.7v0.7h-0.7zM457.8,94.9h0.7v0.7h-0.7zM456.7,93.5h0.7v0.7h-0.7zM453.6,87.6h0.7v0.7h-0.7zM462.5,83.6h0.7v0.7h-0.7zM449.3,89.8h0.7v0.7h-0.7zM447.3,63.1h0.7v0.7h-0.7zM460.4,100.5h0.7v0.7h-0.7zM447.2,84.3h0.7v0.7h-0.7zM454.1,84.7h0.7v0.7h-0.7zM447.4,53.1h0.7v0.7h-0.7zM456.1,84.2h0.7v0.7h-0.7zM448.6,88.0h0.7v0.7h-0.7zM462.2,96.5h0.7v0.7h-0.7zM459.3,70.2h0.7v0.7h-0.7zM462.2,68.4h0.7v0.7h-0.7zM458.9,84.9h0.7v0.7h-0.7zM447.8,61.5h0.7v0.7h-0.7zM453.3,72.9h0.7v0.7h-0.7zM460.9,65.8h0.7v0.7h-0.7zM457.5,75.8h0.7v0.7h-0.7zM452.2,85.7h0.7v0.7h-0.7zM459.2,76.2h0.7v0.7h-0.7zM462.7,70.5h0.7v0.7h-0.7zM460.8,80.0h0.7v0.7h-0.7zM452.3,77.3h0.7v0.7h-0.7zM461.8,97.9h0.7v0.7h-0.7zM463.8,71.4h0.7v0.7h-0.7zM457.4,74.8h0.7v0.7h-0.7zM464.0,89.9h0.7v0.7h-0.7zM459.6,94.5h0.7v0.7h-0.7zM453.1,75.4h0.7v0.7h-0.7zM447.9,70.5h0.7v0.7h-0.7zM449.9,90.4h0.7v0.7h-0.7zM458.4,75.5h0.7v0.7h-0.7zM448.3,75.5h0.7v0.7h-0.7zM457.6,59.8h0.7v0.7h-0.7zM466.3,71.1h0.7v0.7h-0.7zM454.9,67.1h0.7v0.7h-0.7zM453.6,66.7h0.7v0.7h-0.7zM453.4,83.4h0.7v0.7h-0.7zM455.9,69.2h0.7v0.7h-0.7zM456.0,55.5h0.7v0.7h-0.7zM452.2,74.9h0.7v0.7h-0.7zM461.9,74.7h0.7v0.7h-0.7zM454.5,86.4h0.7v0.7h-0.7zM451.6,80.9h0.7v0.7h-0.7zM449.8,84.4h0.7v0.7h-0.7zM457.1,86.4h0.7v0.7h-0.7zM464.2,93.7h0.7v0.7h-0.7zM465.9,75.4h0.7v0.7h-0.7zM453.5,76.0h0.7v0.7h-0.7zM465.2,102.0h0.7v0.7h-0.7zM462.7,68.0h0.7v0.7h-0.7zM448.2,62.9h0.7v0.7h-0.7zM459.9,88.9h0.7v0.7h-0.7zM447.1,52.5h0.7v0.7h-0.7zM466.7,69.9h0.7v0.7h-0.7zM446.6,76.5h0.7v0.7h-0.7zM456.9,84.2h0.7v0.7h-0.7zM458.5,75.1h0.7v0.7h-0.7zM453.3,84.6h0.7v0.7h-0.7zM465.7,101.7h0.7v0.7h-0.7zM465.1,103.3h0.7v0.7h-0.7zM448.5,53.7h0.7v0.7h-0.7zM463.2,65.1h0.7v0.7h-0.7zM456.7,76.7h0.7v0.7h-0.7zM466.3,75.3h0.7v0.7h-0.7zM448.6,62.9h0.7v0.7h-0.7z" fill="#c8b1d8"/>
<path d="M402.6,102.7h0.6v0.6h-0.6zM409.5,108.9h0.6v0.6h-0.6zM408.8,124.9h0.6v0.6h-0.6zM410.0,124.6h0.6v0.6h-0.6zM404.4,104.6h0.6v0.6h-0.6zM410.2,116.1h0.6v0.6h-0.6zM404.5,120.8h0.6v0.6h-0.6zM407.4,113.5h0.6v0.6h-0.6zM405.9,117.5h0.6v0.6h-0.6zM405.4,115.3h0.6v0.6h-0.6zM404.2,115.7h0.6v0.6h-0.6zM407.9,111.3h0.6v0.6h-0.6zM409.8,113.8h0.6v0.6h-0.6zM405.1,111.2h0.6v0.6h-0.6zM405.8,102.1h0.6v0.6h-0.6zM408.0,109.0h0.6v0.6h-0.6zM404.7,109.2h0.6v0.6h-0.6zM402.7,100.4h0.6v0.6h-0.6zM407.8,121.2h0.6v0.6h-0.6zM405.9,122.0h0.6v0.6h-0.6zM407.6,115.4h0.6v0.6h-0.6zM406.9,119.3h0.6v0.6h-0.6zM409.4,109.1h0.6v0.6h-0.6zM411.5,121.8h0.6v0.6h-0.6zM408.9,125.2h0.6v0.6h-0.6zM409.3,108.7h0.6v0.6h-0.6zM402.4,118.3h0.6v0.6h-0.6zM406.3,106.8h0.6v0.6h-0.6zM405.1,102.6h0.6v0.6h-0.6zM403.0,106.4h0.6v0.6h-0.6zM403.9,102.1h0.6v0.6h-0.6zM406.8,105.1h0.6v0.6h-0.6zM404.9,119.5h0.6v0.6h-0.6zM413.6,122.2h0.6v0.6h-0.6zM402.8,112.8h0.6v0.6h-0.6zM405.5,119.9h0.6v0.6h-0.6zM410.5,112.1h0.6v0.6h-0.6zM403.5,105.7h0.6v0.6h-0.6zM403.8,101.2h0.6v0.6h-0.6zM407.1,100.2h0.6v0.6h-0.6zM407.8,103.2h0.6v0.6h-0.6zM405.5,116.9h0.6v0.6h-0.6zM405.2,122.6h0.6v0.6h-0.6zM407.5,104.6h0.6v0.6h-0.6zM404.0,103.8h0.6v0.6h-0.6zM410.2,121.7h0.6v0.6h-0.6zM405.9,123.3h0.6v0.6h-0.6zM402.2,100.8h0.6v0.6h-0.6zM405.5,105.9h0.6v0.6h-0.6zM402.1,114.7h0.6v0.6h-0.6zM407.7,120.4h0.6v0.6h-0.6zM410.0,121.4h0.6v0.6h-0.6zM400.8,104.3h0.6v0.6h-0.6zM409.1,119.6h0.6v0.6h-0.6zM413.2,121.3h0.6v0.6h-0.6zM409.5,108.2h0.6v0.6h-0.6zM404.0,105.9h0.6v0.6h-0.6zM404.3,100.1h0.6v0.6h-0.6zM404.5,102.2h0.6v0.6h-0.6zM406.4,108.5h0.6v0.6h-0.6zM402.4,112.4h0.6v0.6h-0.6zM406.0,109.1h0.6v0.6h-0.6zM407.9,123.4h0.6v0.6h-0.6zM407.5,105.4h0.6v0.6h-0.6zM401.7,105.9h0.6v0.6h-0.6zM404.4,103.2h0.6v0.6h-0.6zM407.0,121.3h0.6v0.6h-0.6zM407.3,101.3h0.6v0.6h-0.6zM404.9,109.8h0.6v0.6h-0.6zM406.7,116.6h0.6v0.6h-0.6zM411.9,117.7h0.6v0.6h-0.6zM405.2,107.2h0.6v0.6h-0.6zM400.0,101.7h0.6v0.6h-0.6zM402.1,111.8h0.6v0.6h-0.6zM406.9,116.8h0.6v0.6h-0.6zM404.3,106.0h0.6v0.6h-0.6zM410.1,124.9h0.6v0.6h-0.6zM404.8,110.3h0.6v0.6h-0.6zM408.1,104.2h0.6v0.6h-0.6zM408.1,121.9h0.6v0.6h-0.6zM407.7,118.0h0.6v0.6h-0.6zM408.4,115.9h0.6v0.6h-0.6zM403.4,114.5h0.6v0.6h-0.6zM405.1,121.2h0.6v0.6h-0.6zM408.5,105.6h0.6v0.6h-0.6zM406.0,102.9h0.6v0.6h-0.6zM408.8,107.8h0.6v0.6h-0.6zM410.0,118.9h0.6v0.6h-0.6zM403.3,103.0h0.6v0.6h-0.6zM405.4,117.1h0.6v0.6h-0.6z" fill="#d8d98e"/>
<path d="M427.5,118.8h0.6v0.6h-0.6zM427.2,110.2h0.6v0.6h-0.6zM423.8,113.6h0.6v0.6h-0.6zM423.1,110.6h0.6v0.6h-0.6zM419.3,113.8h0.6v0.6h-0.6zM419.7,113.9h0.6v0.6h-0.6zM417.5,110.2h0.6v0.6h-0.6zM425.1,113.5h0.6v0.6h-0.6zM422.9,116.6h0.6v0.6h-0.6zM421.2,109.9h0.6v0.6h-0.6zM425.9,115.2h0.6v0.6h-0.6zM424.5,115.5h0.6v0.6h-0.6zM428.0,113.0h0.6v0.6h-0.6zM425.7,113.0h0.6v0.6h-0.6zM423.6,115.9h0.6v0.6h-0.6zM420.7,110.2h0.6v0.6h-0.6zM422.5,116.5h0.6v0.6h-0.6zM423.8,113.8h0.6v0.6h-0.6zM424.4,111.2h0.6v0.6h-0.6zM419.2,112.6h0.6v0.6h-0.6zM426.3,111.3h0.6v0.6h-0.6zM418.5,110.3h0.6v0.6h-0.6zM417.6,112.1h0.6v0.6h-0.6zM423.6,117.5h0.6v0.6h-0.6zM420.9,113.0h0.6v0.6h-0.6zM420.4,112.4h0.6v0.6h-0.6zM425.9,114.8h0.6v0.6h-0.6zM420.1,110.4h0.6v0.6h-0.6zM425.9,116.4h0.6v0.6h-0.6zM426.4,111.7h0.6v0.6h-0.6zM423.3,118.5h0.6v0.6h-0.6zM423.8,118.7h0.6v0.6h-0.6zM419.1,119.0h0.6v0.6h-0.6zM417.8,113.5h0.6v0.6h-0.6zM417.5,117.4h0.6v0.6h-0.6zM424.9,119.0h0.6v0.6h-0.6zM426.2,118.8h0.6v0.6h-0.6zM423.2,119.2h0.6v0.6h-0.6zM425.6,112.8h0.6v0.6h-0.6zM428.1,113.1h0.6v0.6h-0.6zM419.4,110.1h0.6v0.6h-0.6zM422.4,111.3h0.6v0.6h-0.6zM427.6,118.8h0.6v0.6h-0.6zM419.6,110.4h0.6v0.6h-0.6zM423.1,111.0h0.6v0.6h-0.6zM423.3,117.4h0.6v0.6h-0.6zM420.0,113.5h0.6v0.6h-0.6zM427.3,113.8h0.6v0.6h-0.6zM421.0,118.2h0.6v0.6h-0.6zM426.3,118.2h0.6v0.6h-0.6zM424.9,113.4h0.6v0.6h-0.6zM424.9,117.6h0.6v0.6h-0.6zM424.3,111.7h0.6v0.6h-0.6zM420.5,113.4h0.6v0.6h-0.6zM425.8,114.9h0.6v0.6h-0.6zM423.3,117.6h0.6v0.6h-0.6zM418.4,115.6h0.6v0.6h-0.6zM420.9,114.9h0.6v0.6h-0.6zM426.5,111.8h0.6v0.6h-0.6zM427.8,110.1h0.6v0.6h-0.6z" fill="#8d60b6"/>
<path d="M410.1,78.2h0.7v0.7h-0.7zM401.5,80.8h0.7v0.7h-0.7zM401.7,75.5h0.7v0.7h-0.7zM400.1,76.9h0.7v0.7h-0.7zM401.0,76.1h0.7v0.7h-0.7zM410.3,77.0h0.7v0.7h-0.7zM405.7,78.6h0.7v0.7h-0.7zM406.9,80.1h0.7v0.7h-0.7zM410.5,71.8h0.7v0.7h-0.7zM403.5,80.1h0.7v0.7h-0.7zM400.0,76.9h0.7v0.7h-0.7zM412.2,67.2h0.7v0.7h-0.7zM403.9,69.6h0.7v0.7h-0.7zM407.3,70.6h0.7v0.7h-0.7zM403.7,79.1h0.7v0.7h-0.7zM399.7,66.2h0.7v0.7h-0.7zM409.3,77.6h0.7v0.7h-0.7zM411.8,80.7h0.7v0.7h-0.7zM412.4,69.0h0.7v0.7h-0.7zM410.6,79.6h0.7v0.7h-0.7zM400.1,72.7h0.7v0.7h-0.7zM401.1,67.0h0.7v0.7h-0.7zM406.3,75.5h0.7v0.7h-0.7zM414.3,66.8h0.7v0.7h-0.7zM406.7,80.8h0.7v0.7h-0.7zM410.9,73.3h0.7v0.7h-0.7zM402.5,74.9h0.7v0.7h-0.7zM402.8,75.1h0.7v0.7h-0.7zM409.0,71.0h0.7v0.7h-0.7zM411.4,71.2h0.7v0.7h-0.7zM406.1,78.1h0.7v0.7h-0.7zM402.6,67.7h0.7v0.7h-0.7zM407.8,71.7h0.7v0.7h-0.7zM412.7,68.7h0.7v0.7h-0.7zM404.6,65.6h0.7v0.7h-0.7zM405.9,69.7h0.7v0.7h-0.7zM405.8,77.0h0.7v0.7h-0.7zM410.1,77.8h0.7v0.7h-0.7zM407.3,74.0h0.7v0.7h-0.7zM405.2,71.1h0.7v0.7h-0.7zM402.1,69.6h0.7v0.7h-0.7zM403.3,70.1h0.7v0.7h-0.7zM402.8,73.4h0.7v0.7h-0.7zM409.7,71.4h0.7v0.7h-0.7zM408.8,79.3h0.7v0.7h-0.7zM402.9,70.8h0.7v0.7h-0.7zM410.8,69.8h0.7v0.7h-0.7zM410.2,71.1h0.7v0.7h-0.7zM399.7,77.3h0.7v0.7h-0.7zM412.2,73.2h0.7v0.7h-0.7zM413.1,68.1h0.7v0.7h-0.7zM405.8,67.5h0.7v0.7h-0.7zM407.6,76.0h0.7v0.7h-0.7zM411.4,66.4h0.7v0.7h-0.7zM401.5,66.9h0.7v0.7h-0.7zM406.7,65.9h0.7v0.7h-0.7zM411.5,72.7h0.7v0.7h-0.7zM409.9,68.8h0.7v0.7h-0.7zM409.1,72.0h0.7v0.7h-0.7zM409.0,71.3h0.7v0.7h-0.7zM412.0,70.2h0.7v0.7h-0.7zM401.7,67.2h0.7v0.7h-0.7zM400.7,80.3h0.7v0.7h-0.7zM403.1,78.7h0.7v0.7h-0.7zM402.3,74.7h0.7v0.7h-0.7zM402.6,69.6h0.7v0.7h-0.7zM410.6,74.5h0.7v0.7h-0.7zM413.8,68.5h0.7v0.7h-0.7zM402.9,65.7h0.7v0.7h-0.7zM402.0,80.5h0.7v0.7h-0.7zM407.7,72.3h0.7v0.7h-0.7zM404.1,76.9h0.7v0.7h-0.7zM409.7,67.2h0.7v0.7h-0.7zM399.3,67.5h0.7v0.7h-0.7zM411.8,76.5h0.7v0.7h-0.7zM402.2,68.5h0.7v0.7h-0.7zM403.5,75.6h0.7v0.7h-0.7zM410.7,68.5h0.7v0.7h-0.7zM403.9,68.5h0.7v0.7h-0.7zM413.7,68.6h0.7v0.7h-0.7z" fill="#22985a"/>
<path d="M423.2,138.0h0.6v0.6h-0.6zM442.9,127.4h0.6v0.6h-0.6zM444.0,133.7h0.6v0.6h-0.6zM409.1,138.4h0.6v0.6h-0.6zM418.1,128.8h0.6v0.6h-0.6zM425.2,133.0h0.6v0.6h-0.6zM412.5,134.5h0.6v0.6h-0.6zM442.4,131.9h0.6v0.6h-0.6zM440.8,133.6h0.6v0.6h-0.6zM442.1,126.9h0.6v0.6h-0.6zM422.4,131.2h0.6v0.6h-0.6zM411.7,138.7h0.6v0.6h-0.6zM434.1,125.7h0.6v0.6h-0.6zM431.9,130.4h0.6v0.6h-0.6zM415.3,126.6h0.6v0.6h-0.6zM426.7,125.3h0.6v0.6h-0.6zM431.0,131.9h0.6v0.6h-0.6zM412.6,137.3h0.6v0.6h-0.6zM409.0,126.8h0.6v0.6h-0.6zM441.7,127.5h0.6v0.6h-0.6zM425.2,132.6h0.6v0.6h-0.6zM425.6,131.6h0.6v0.6h-0.6zM428.6,131.4h0.6v0.6h-0.6zM409.7,136.4h0.6v0.6h-0.6zM419.2,125.0h0.6v0.6h-0.6zM424.5,136.4h0.6v0.6h-0.6zM433.8,131.1h0.6v0.6h-0.6zM427.4,127.5h0.6v0.6h-0.6zM433.3,129.5h0.6v0.6h-0.6zM410.0,126.2h0.6v0.6h-0.6zM411.2,134.4h0.6v0.6h-0.6zM444.5,135.5h0.6v0.6h-0.6zM416.5,126.4h0.6v0.6h-0.6zM447.4,129.8h0.6v0.6h-0.6zM414.3,132.8h0.6v0.6h-0.6zM433.4,132.3h0.6v0.6h-0.6zM426.3,128.8h0.6v0.6h-0.6zM428.1,131.1h0.6v0.6h-0.6zM436.0,130.9h0.6v0.6h-0.6zM422.2,138.9h0.6v0.6h-0.6zM411.9,135.5h0.6v0.6h-0.6zM424.9,136.2h0.6v0.6h-0.6zM437.1,132.7h0.6v0.6h-0.6zM433.0,127.7h0.6v0.6h-0.6zM407.9,135.4h0.6v0.6h-0.6zM418.2,125.9h0.6v0.6h-0.6zM441.5,133.0h0.6v0.6h-0.6zM408.6,132.0h0.6v0.6h-0.6zM414.2,137.1h0.6v0.6h-0.6zM418.7,138.2h0.6v0.6h-0.6zM433.1,125.4h0.6v0.6h-0.6zM424.5,138.6h0.6v0.6h-0.6zM436.8,126.6h0.6v0.6h-0.6zM422.8,128.3h0.6v0.6h-0.6zM411.2,133.1h0.6v0.6h-0.6zM436.6,127.5h0.6v0.6h-0.6zM430.6,137.1h0.6v0.6h-0.6zM444.9,126.8h0.6v0.6h-0.6zM410.4,137.8h0.6v0.6h-0.6zM421.0,126.7h0.6v0.6h-0.6zM441.0,128.2h0.6v0.6h-0.6zM437.6,134.5h0.6v0.6h-0.6zM419.6,131.1h0.6v0.6h-0.6zM419.5,136.3h0.6v0.6h-0.6zM419.2,128.3h0.6v0.6h-0.6zM443.4,128.4h0.6v0.6h-0.6zM425.7,131.9h0.6v0.6h-0.6zM407.4,128.5h0.6v0.6h-0.6zM438.6,138.9h0.6v0.6h-0.6zM421.7,131.3h0.6v0.6h-0.6zM409.7,131.5h0.6v0.6h-0.6zM422.4,131.7h0.6v0.6h-0.6zM419.9,128.9h0.6v0.6h-0.6zM445.8,135.8h0.6v0.6h-0.6zM422.5,125.3h0.6v0.6h-0.6zM409.5,125.7h0.6v0.6h-0.6zM412.8,132.9h0.6v0.6h-0.6zM429.3,126.2h0.6v0.6h-0.6zM444.3,134.2h0.6v0.6h-0.6zM437.2,137.6h0.6v0.6h-0.6zM420.5,137.7h0.6v0.6h-0.6zM448.5,137.8h0.6v0.6h-0.6zM409.2,136.9h0.6v0.6h-0.6zM448.8,125.8h0.6v0.6h-0.6zM443.8,136.4h0.6v0.6h-0.6zM408.6,134.8h0.6v0.6h-0.6zM439.3,135.4h0.6v0.6h-0.6zM409.7,138.7h0.6v0.6h-0.6zM410.4,125.5h0.6v0.6h-0.6zM447.2,131.4h0.6v0.6h-0.6zM414.8,130.1h0.6v0.6h-0.6zM433.6,128.2h0.6v0.6h-0.6zM445.9,134.3h0.6v0.6h-0.6zM423.6,129.7h0.6v0.6h-0.6zM412.1,138.9h0.6v0.6h-0.6zM420.2,138.2h0.6v0.6h-0.6zM430.1,132.2h0.6v0.6h-0.6zM414.7,131.7h0.6v0.6h-0.6zM411.4,130.9h0.6v0.6h-0.6zM433.1,138.0h0.6v0.6h-0.6zM416.6,126.9h0.6v0.6h-0.6zM440.5,126.2h0.6v0.6h-0.6zM415.5,131.4h0.6v0.6h-0.6zM425.3,139.0h0.6v0.6h-0.6zM410.0,137.2h0.6v0.6h-0.6zM426.8,126.3h0.6v0.6h-0.6zM417.3,137.8h0.6v0.6h-0.6zM414.7,130.5h0.6v0.6h-0.6zM408.9,131.5h0.6v0.6h-0.6zM436.8,135.2h0.6v0.6h-0.6zM421.6,130.6h0.6v0.6h-0.6zM442.1,137.3h0.6v0.6h-0.6zM426.1,125.1h0.6v0.6h-0.6zM446.9,129.4h0.6v0.6h-0.6zM427.3,124.9h0.6v0.6h-0.6zM408.2,125.9h0.6v0.6h-0.6zM430.2,128.1h0.6v0.6h-0.6zM440.8,126.4h0.6v0.6h-0.6zM434.9,124.6h0.6v0.6h-0.6zM422.4,138.3h0.6v0.6h-0.6zM418.1,128.9h0.6v0.6h-0.6zM408.6,137.2h0.6v0.6h-0.6zM428.1,128.0h0.6v0.6h-0.6zM430.9,128.2h0.6v0.6h-0.6zM444.7,130.6h0.6v0.6h-0.6zM410.1,127.5h0.6v0.6h-0.6zM409.5,135.6h0.6v0.6h-0.6zM411.6,131.5h0.6v0.6h-0.6zM432.3,125.6h0.6v0.6h-0.6zM434.3,133.6h0.6v0.6h-0.6zM446.6,138.2h0.6v0.6h-0.6zM448.6,132.1h0.6v0.6h-0.6zM427.8,130.6h0.6v0.6h-0.6zM412.8,133.1h0.6v0.6h-0.6zM449.4,131.7h0.6v0.6h-0.6zM443.3,128.2h0.6v0.6h-0.6zM423.1,130.5h0.6v0.6h-0.6zM448.2,129.7h0.6v0.6h-0.6zM439.3,126.5h0.6v0.6h-0.6zM439.3,131.3h0.6v0.6h-0.6zM449.1,124.5h0.6v0.6h-0.6zM418.3,137.5h0.6v0.6h-0.6zM425.8,128.4h0.6v0.6h-0.6zM444.0,130.6h0.6v0.6h-0.6zM444.4,132.4h0.6v0.6h-0.6zM409.8,125.7h0.6v0.6h-0.6zM443.9,137.8h0.6v0.6h-0.6zM414.4,139.1h0.6v0.6h-0.6zM442.6,132.2h0.6v0.6h-0.6zM439.9,132.1h0.6v0.6h-0.6zM408.7,128.6h0.6v0.6h-0.6zM421.6,137.6h0.6v0.6h-0.6zM418.8,134.6h0.6v0.6h-0.6zM434.0,126.0h0.6v0.6h-0.6zM426.6,132.4h0.6v0.6h-0.6zM437.9,129.5h0.6v0.6h-0.6zM448.9,136.2h0.6v0.6h-0.6zM408.3,137.4h0.6v0.6h-0.6zM433.0,138.2h0.6v0.6h-0.6zM416.9,135.8h0.6v0.6h-0.6zM437.5,130.2h0.6v0.6h-0.6zM422.2,133.2h0.6v0.6h-0.6zM448.6,134.5h0.6v0.6h-0.6zM434.4,134.5h0.6v0.6h-0.6zM442.8,133.0h0.6v0.6h-0.6zM437.3,124.8h0.6v0.6h-0.6zM443.8,138.6h0.6v0.6h-0.6zM431.6,132.8h0.6v0.6h-0.6zM446.7,132.7h0.6v0.6h-0.6zM444.9,132.4h0.6v0.6h-0.6zM431.3,137.9h0.6v0.6h-0.6zM446.2,133.1h0.6v0.6h-0.6zM430.1,132.5h0.6v0.6h-0.6zM427.0,129.8h0.6v0.6h-0.6zM416.8,128.5h0.6v0.6h-0.6zM416.6,138.3h0.6v0.6h-0.6zM424.4,137.3h0.6v0.6h-0.6zM427.1,139.1h0.6v0.6h-0.6zM432.3,129.3h0.6v0.6h-0.6zM425.2,128.2h0.6v0.6h-0.6zM421.1,128.5h0.6v0.6h-0.6zM419.0,130.0h0.6v0.6h-0.6zM408.3,138.3h0.6v0.6h-0.6zM441.4,129.3h0.6v0.6h-0.6zM442.7,125.0h0.6v0.6h-0.6zM433.3,133.0h0.6v0.6h-0.6zM444.5,138.8h0.6v0.6h-0.6zM432.9,136.6h0.6v0.6h-0.6zM436.7,125.6h0.6v0.6h-0.6zM411.8,125.9h0.6v0.6h-0.6zM439.1,131.3h0.6v0.6h-0.6zM422.2,131.7h0.6v0.6h-0.6zM446.9,131.4h0.6v0.6h-0.6zM442.5,129.7h0.6v0.6h-0.6zM434.9,135.8h0.6v0.6h-0.6zM415.0,137.8h0.6v0.6h-0.6zM415.6,126.6h0.6v0.6h-0.6zM448.2,127.7h0.6v0.6h-0.6zM425.4,138.2h0.6v0.6h-0.6zM416.1,134.1h0.6v0.6h-0.6zM437.5,125.4h0.6v0.6h-0.6zM412.1,138.9h0.6v0.6h-0.6zM442.1,134.2h0.6v0.6h-0.6zM433.9,131.6h0.6v0.6h-0.6zM445.6,124.6h0.6v0.6h-0.6zM419.2,128.5h0.6v0.6h-0.6zM434.3,138.2h0.6v0.6h-0.6zM417.7,125.9h0.6v0.6h-0.6zM417.5,137.0h0.6v0.6h-0.6zM433.4,126.4h0.6v0.6h-0.6zM437.2,130.3h0.6v0.6h-0.6zM409.7,129.0h0.6v0.6h-0.6zM443.3,138.4h0.6v0.6h-0.6zM423.6,135.9h0.6v0.6h-0.6zM446.6,125.8h0.6v0.6h-0.6zM415.3,129.2h0.6v0.6h-0.6zM421.2,133.8h0.6v0.6h-0.6zM448.9,127.2h0.6v0.6h-0.6zM419.0,131.9h0.6v0.6h-0.6zM438.1,126.5h0.6v0.6h-0.6zM431.1,133.5h0.6v0.6h-0.6zM439.8,129.5h0.6v0.6h-0.6zM420.8,132.8h0.6v0.6h-0.6zM423.1,130.9h0.6v0.6h-0.6zM440.1,138.7h0.6v0.6h-0.6zM449.1,126.8h0.6v0.6h-0.6zM430.1,132.3h0.6v0.6h-0.6zM430.5,127.2h0.6v0.6h-0.6zM420.9,130.1h0.6v0.6h-0.6zM415.4,131.5h0.6v0.6h-0.6zM445.6,134.1h0.6v0.6h-0.6zM413.9,128.0h0.6v0.6h-0.6zM422.7,136.5h0.6v0.6h-0.6zM408.6,125.5h0.6v0.6h-0.6zM442.8,129.7h0.6v0.6h-0.6zM415.0,132.3h0.6v0.6h-0.6zM409.0,134.9h0.6v0.6h-0.6zM444.8,125.1h0.6v0.6h-0.6zM429.4,138.1h0.6v0.6h-0.6zM420.4,128.7h0.6v0.6h-0.6zM444.5,124.3h0.6v0.6h-0.6zM409.1,133.2h0.6v0.6h-0.6zM442.1,132.8h0.6v0.6h-0.6zM436.2,130.4h0.6v0.6h-0.6zM447.8,128.9h0.6v0.6h-0.6zM431.0,126.8h0.6v0.6h-0.6zM420.1,133.4h0.6v0.6h-0.6zM410.3,135.5h0.6v0.6h-0.6zM417.4,136.0h0.6v0.6h-0.6zM413.0,133.6h0.6v0.6h-0.6zM428.2,127.9h0.6v0.6h-0.6zM440.5,134.5h0.6v0.6h-0.6zM424.4,132.4h0.6v0.6h-0.6zM425.2,135.7h0.6v0.6h-0.6zM408.7,125.0h0.6v0.6h-0.6zM431.3,125.2h0.6v0.6h-0.6zM444.4,137.5h0.6v0.6h-0.6zM417.1,127.0h0.6v0.6h-0.6zM444.0,125.2h0.6v0.6h-0.6zM428.7,125.9h0.6v0.6h-0.6z" fill="#2b77b3"/>
<path d="M429.0,69.4h0.7v0.7h-0.7zM424.9,71.4h0.7v0.7h-0.7zM423.8,72.3h0.7v0.7h-0.7zM429.1,68.6h0.7v0.7h-0.7zM428.5,70.9h0.7v0.7h-0.7zM428.1,73.1h0.7v0.7h-0.7zM430.7,70.4h0.7v0.7h-0.7zM429.7,72.3h0.7v0.7h-0.7zM430.6,68.5h0.7v0.7h-0.7zM430.4,69.5h0.7v0.7h-0.7zM424.4,71.4h0.7v0.7h-0.7zM429.6,73.1h0.7v0.7h-0.7zM426.1,72.5h0.7v0.7h-0.7zM423.6,73.2h0.7v0.7h-0.7zM425.6,71.1h0.7v0.7h-0.7zM424.3,68.6h0.7v0.7h-0.7zM423.5,71.4h0.7v0.7h-0.7zM427.6,72.4h0.7v0.7h-0.7zM429.7,70.5h0.7v0.7h-0.7zM429.7,69.4h0.7v0.7h-0.7z" fill="#abc6e6"/>
<path d="M429.1,55.3h0.5v0.5h-0.5zM438.3,47.7h0.5v0.5h-0.5zM411.7,57.1h0.5v0.5h-0.5zM419.7,50.4h0.5v0.5h-0.5zM434.0,47.6h0.5v0.5h-0.5zM436.8,52.1h0.5v0.5h-0.5zM411.9,58.5h0.5v0.5h-0.5zM426.8,46.0h0.5v0.5h-0.5zM434.7,56.4h0.5v0.5h-0.5zM431.8,54.6h0.5v0.5h-0.5zM439.3,45.0h0.5v0.5h-0.5zM438.8,54.4h0.5v0.5h-0.5zM417.3,53.9h0.5v0.5h-0.5zM419.8,54.5h0.5v0.5h-0.5zM430.7,52.6h0.5v0.5h-0.5zM412.7,50.7h0.5v0.5h-0.5zM418.7,56.0h0.5v0.5h-0.5zM437.5,56.4h0.5v0.5h-0.5zM425.5,47.4h0.5v0.5h-0.5zM430.8,48.8h0.5v0.5h-0.5zM439.5,47.4h0.5v0.5h-0.5zM438.6,45.0h0.5v0.5h-0.5zM433.0,50.0h0.5v0.5h-0.5zM426.8,51.0h0.5v0.5h-0.5zM418.9,51.3h0.5v0.5h-0.5zM434.0,50.1h0.5v0.5h-0.5zM420.5,56.5h0.5v0.5h-0.5zM415.0,50.1h0.5v0.5h-0.5zM425.1,52.5h0.5v0.5h-0.5zM414.8,56.2h0.5v0.5h-0.5z" fill="#c9c9c9"/>
<g filter="url(#spkD)">
<path d="M431.6,126.2 C432.6,125.2 436.1,124.8 438.3,124.7 C440.5,124.7 443.5,125.0 445.0,125.7 C446.4,126.5 447.4,128.0 447.0,129.2 C446.6,130.4 444.4,132.0 442.5,132.7 C440.6,133.3 437.5,133.4 435.8,133.2 C434.1,132.9 432.8,132.4 432.1,131.2 C431.4,130.0 430.6,127.3 431.6,126.2Z" fill="#2b77b3" fill-opacity="0.9"/>
<path d="M429.1,84.5 C430.0,81.4 432.8,77.2 434.6,75.8 C436.3,74.5 438.1,76.0 439.5,76.6 C441.0,77.2 443.2,77.8 443.3,79.6 C443.3,81.3 440.7,84.5 440.0,87.0 C439.3,89.5 439.5,92.4 439.0,94.5 C438.5,96.5 438.2,98.5 437.1,99.4 C435.9,100.3 433.4,100.7 432.1,99.9 C430.8,99.1 429.6,97.0 429.1,94.5 C428.6,91.9 428.2,87.6 429.1,84.5Z" fill="#a2d8e2"/>
<path d="M413.5,83.3 C414.0,82.5 416.1,81.8 417.2,82.1 C418.3,82.3 420.0,83.7 420.2,84.5 C420.4,85.4 419.4,86.7 418.4,87.0 C417.4,87.3 415.0,87.1 414.2,86.5 C413.4,85.9 413.0,84.0 413.5,83.3Z" fill="#1fbccc"/>
<path d="M447.0,103.1 C447.8,101.5 449.5,101.5 450.7,101.9 C451.9,102.3 453.0,104.6 454.4,105.6 C455.9,106.7 457.7,107.9 459.4,108.1 C461.0,108.3 462.9,106.7 464.4,106.9 C465.8,107.1 468.3,107.9 468.1,109.4 C467.9,110.8 464.8,113.5 463.1,115.6 C461.5,117.6 459.6,119.5 458.1,121.8 C456.7,124.0 455.5,126.7 454.4,129.2 C453.4,131.7 453.0,136.2 451.9,136.7 C450.9,137.1 449.7,133.8 448.2,131.7 C446.8,129.6 444.9,126.1 443.3,124.2 C441.6,122.4 438.7,122.2 438.3,120.5 C437.9,118.9 439.5,115.8 440.8,114.3 C442.0,112.9 444.7,113.7 445.7,111.8 C446.8,110.0 446.2,104.8 447.0,103.1Z" fill="#f6801f"/>
<path d="M464.4,127.2 C465.2,126.4 468.7,125.2 470.6,124.2 C472.4,123.3 473.7,122.2 475.5,121.8 C477.4,121.3 480.1,120.9 481.7,121.8 C483.4,122.6 485.0,125.3 485.4,126.7 C485.9,128.2 485.2,130.0 484.2,130.4 C483.2,130.9 481.1,129.6 479.2,129.2 C477.4,128.8 475.3,128.0 473.0,128.0 C470.8,128.0 467.0,129.3 465.6,129.2 C464.1,129.1 463.5,128.0 464.4,127.2Z" fill="#d62a2a"/>
<path d="M470.6,139.1 C470.6,137.4 472.8,137.4 474.3,138.6 C475.7,139.9 478.6,144.4 479.2,146.6 C479.9,148.7 478.8,151.1 478.0,151.5 C477.2,152.0 475.5,151.1 474.3,149.1 C473.0,147.0 470.6,140.9 470.6,139.1Z" fill="#b7bc58" fill-opacity="0.8"/>
<path d="M399.8,73.4 C401.1,72.7 404.8,70.7 407.3,69.6 C409.7,68.6 413.5,67.6 414.7,67.2" fill="none" stroke="#22985a" stroke-width="1.0" stroke-linecap="round"/>
<path d="M409.7,47.8 C410.2,47.2 411.8,46.9 412.2,47.3 C412.6,47.7 412.6,49.7 412.2,50.3 C411.8,50.9 410.2,51.2 409.7,50.8 C409.3,50.4 409.3,48.4 409.7,47.8Z" fill="#e06868"/>
<path d="M416.7,95.0 C417.0,94.2 419.0,93.8 419.7,94.5 C420.4,95.1 421.2,98.2 420.9,98.9 C420.6,99.7 418.4,99.6 417.7,98.9 C417.0,98.3 416.4,95.7 416.7,95.0Z" fill="#e06868"/>
<path d="M471.8,47.3 C473.2,45.9 476.6,45.2 479.2,44.8 C481.9,44.4 485.4,44.4 487.9,44.8 C490.4,45.2 492.9,45.2 494.1,47.3 C495.4,49.4 495.6,53.9 495.4,57.2 C495.2,60.5 493.9,64.5 492.9,67.2 C491.9,69.8 490.2,71.1 489.2,73.4 C488.1,75.6 487.7,79.2 486.7,80.8 C485.7,82.5 484.2,83.5 483.0,83.3 C481.7,83.1 480.1,81.2 479.2,79.6 C478.4,77.9 479.0,75.2 478.0,73.4 C477.0,71.5 474.2,70.5 473.0,68.4 C471.9,66.3 471.7,63.4 471.3,61.0 C470.9,58.5 470.5,55.8 470.6,53.5 C470.6,51.2 470.4,48.7 471.8,47.3Z" fill="#c39c93"/>
<path d="M471.8,85.0 C472.4,83.6 474.7,83.3 476.8,83.3 C478.8,83.3 482.1,84.4 484.2,85.0 C486.3,85.6 487.5,86.8 489.2,87.0 C490.8,87.3 493.4,85.7 494.1,86.5 C494.9,87.3 494.1,89.8 493.6,92.0 C493.2,94.1 492.6,96.9 491.7,99.4 C490.7,101.9 489.6,105.2 487.9,106.9 C486.3,108.5 483.6,109.4 481.7,109.4 C479.9,109.4 478.0,108.5 476.8,106.9 C475.5,105.2 474.9,101.9 474.3,99.4 C473.7,96.9 473.5,94.4 473.0,92.0 C472.6,89.6 471.2,86.5 471.8,85.0Z" fill="#c8b1d8"/>
<path d="M500.3,77.1 C501.6,75.0 504.3,74.0 506.5,73.4 C508.8,72.7 512.0,72.7 514.0,73.4 C516.0,74.0 517.5,75.2 518.5,77.1 C519.4,78.9 519.6,82.3 519.5,84.5 C519.3,86.8 518.8,89.1 517.7,90.7 C516.6,92.4 514.2,93.0 512.8,94.5 C511.3,95.9 509.4,97.4 509.0,99.4 C508.6,101.5 510.7,105.4 510.3,106.9 C509.9,108.3 507.6,108.9 506.5,108.1 C505.5,107.3 505.1,104.2 504.1,101.9 C503.0,99.6 501.2,97.1 500.3,94.5 C499.5,91.8 499.1,88.7 499.1,85.8 C499.1,82.9 499.1,79.2 500.3,77.1Z" fill="#f3b3d1"/>
<path d="M501.1,95.7 L505.3,91.5" fill="none" stroke="#d62a2a" stroke-width="1.2" stroke-linecap="round"/>
</g>
<path d="M469.3,70.9 C469.3,68.3 471.4,63.2 473.0,59.7 C474.7,56.2 477.2,52.5 479.2,49.8 C481.3,47.1 483.4,44.9 485.4,43.6 C487.5,42.3 489.8,41.6 491.7,41.8 C493.5,42.0 495.7,42.7 496.6,44.8 C497.5,47.0 497.3,51.6 497.1,54.7 C496.9,57.9 496.5,60.7 495.4,63.4 C494.3,66.1 491.8,68.5 490.4,70.9 C489.0,73.2 488.0,75.2 487.2,77.6 C486.4,79.9 486.6,83.4 485.7,85.0 C484.8,86.7 483.0,87.5 481.7,87.5 C480.4,87.5 478.8,86.4 478.0,85.0 C477.2,83.6 477.6,80.7 476.8,79.1 C475.9,77.4 474.3,76.5 473.0,75.1 C471.8,73.7 469.3,73.4 469.3,70.9Z" fill="none" stroke="#a47a4e" stroke-width="1.3"/>
<rect x="469.3" y="82.1" width="26.8" height="30.3" fill="none" stroke="#9466bd" stroke-width="1.1"/>
<rect x="498.4" y="71.4" width="21.8" height="38.0" fill="none" stroke="#d4708f" stroke-width="1.1"/>
<text x="511" y="31" font-size="8.1" font-weight="bold" text-anchor="middle" fill="#a87b52">Tumor-associated</text>
<text x="512.3" y="39.2" font-size="8.1" font-weight="bold" text-anchor="middle" fill="#a87b52">Macrophage</text>
<text x="512.3" y="47" font-size="8.1" font-weight="bold" text-anchor="middle" fill="#a87b52">(TAM)</text>
<text x="515.7" y="60.6" font-size="8.1" font-weight="bold" text-anchor="middle" fill="#cf5f82">Principal</text>
<text x="515.6" y="68.8" font-size="8.1" font-weight="bold" text-anchor="middle" fill="#cf5f82">Tumor</text>
<text x="517.7" y="120" font-size="8.1" font-weight="bold" text-anchor="middle" fill="#8552b5">Cancer-associated</text>
<text x="517.3" y="128.2" font-size="8.1" font-weight="bold" text-anchor="middle" fill="#8552b5">Fibroblast (CAF)</text>
<circle cx="560.9" cy="48.40" r="3.6" fill="#2b77b3"/>
<text x="566.1" y="51.5" font-size="8.2" fill="#2a2a2a">Basal</text>
<circle cx="560.9" cy="58.15" r="3.6" fill="#f6801f"/>
<text x="566.1" y="61.25" font-size="8.2" fill="#2a2a2a">IRS</text>
<circle cx="560.9" cy="67.90" r="3.6" fill="#22985a"/>
<text x="566.1" y="71.0" font-size="8.2" fill="#2a2a2a">Erythrocyte</text>
<circle cx="560.9" cy="77.65" r="3.6" fill="#d62a2a"/>
<text x="566.1" y="80.75" font-size="8.2" fill="#2a2a2a">T cell</text>
<circle cx="560.9" cy="87.40" r="3.6" fill="#8d60b6"/>
<text x="566.1" y="90.5" font-size="8.2" fill="#2a2a2a">Upper HF</text>
<circle cx="560.9" cy="97.15" r="3.6" fill="#b7bc58"/>
<text x="566.1" y="100.25" font-size="8.2" fill="#2a2a2a">Melanocyte</text>
<circle cx="560.9" cy="106.90" r="3.6" fill="#de7ec0"/>
<text x="566.1" y="110.0" font-size="8.2" fill="#2a2a2a">Schwann</text>
<circle cx="560.9" cy="116.65" r="3.6" fill="#1fbccc"/>
<text x="566.1" y="119.75" font-size="8.2" fill="#2a2a2a">Lymph EC</text>
<circle cx="560.9" cy="126.40" r="3.6" fill="#abc6e6"/>
<text x="566.1" y="129.5" font-size="8.2" fill="#2a2a2a">Langerhans</text>
<circle cx="619.2" cy="47.70" r="3.6" fill="#fcb97b"/>
<text x="623.8" y="50.8" font-size="8.2" fill="#2a2a2a">Sebaceous</text>
<circle cx="619.2" cy="57.45" r="3.6" fill="#98d38a"/>
<text x="623.8" y="60.55" font-size="8.2" fill="#2a2a2a">Neutrophil-like</text>
<circle cx="619.2" cy="67.20" r="3.6" fill="#f49895"/>
<text x="623.8" y="70.3" font-size="8.2" fill="#2a2a2a">Mast cell</text>
<circle cx="619.2" cy="76.95" r="3.6" fill="#c8b1d8"/>
<text x="623.8" y="80.05" font-size="8.2" fill="#2a2a2a">Fibroblast</text>
<circle cx="619.2" cy="86.70" r="3.6" fill="#c39c93"/>
<text x="623.8" y="89.8" font-size="8.2" fill="#2a2a2a">Macrophage</text>
<circle cx="619.2" cy="96.45" r="3.6" fill="#f3b3d1"/>
<text x="623.8" y="99.55" font-size="8.2" fill="#2a2a2a">Principal Tumor</text>
<circle cx="619.2" cy="106.20" r="3.6" fill="#d8d98e"/>
<text x="623.8" y="109.3" font-size="8.2" fill="#2a2a2a">Keratinocyte</text>
<circle cx="619.2" cy="115.95" r="3.6" fill="#a2d8e2"/>
<text x="623.8" y="119.05" font-size="8.2" fill="#2a2a2a">Endothelial</text>
<circle cx="619.2" cy="125.70" r="3.6" fill="#dadada"/>
<text x="623.8" y="128.8" font-size="8.2" fill="#2a2a2a">Muscle</text>
<text x="225" y="174.3" font-size="21" font-weight="bold" fill="#111">c</text>
<path d="M242.2,170.5 H671" stroke="#4d4d4d" stroke-width="1.1"/>
<text x="390.3" y="169.1" font-size="9.7" font-weight="bold" fill="#231f20">NC-derived Clusters</text>
<text x="280.5" y="179.3" font-size="8.2" font-weight="bold" fill="#231f20">Cell-type</text>
<text x="540.5" y="179.5" font-size="8.2" font-weight="bold" text-anchor="end" fill="#231f20">Tissue</text>
<text x="600" y="179.6" font-size="8.2" font-weight="bold" fill="#231f20">Coat Color</text>
<g filter="url(#spkD)">
<path d="M253.0,240.7 C254.6,238.8 257.7,235.1 260.0,233.7 C262.4,232.4 265.1,233.1 267.0,232.6 C269.0,232.0 269.8,230.8 271.7,230.2 C273.7,229.6 276.4,229.1 278.7,229.1 C281.1,229.1 283.6,229.1 285.7,230.2 C287.9,231.4 290.8,233.5 291.6,236.1 C292.4,238.6 291.0,242.7 290.4,245.4 C289.8,248.1 289.6,250.3 288.1,252.4 C286.5,254.6 283.8,256.5 281.1,258.3 C278.3,260.0 274.4,262.1 271.7,262.9 C269.0,263.7 267.0,263.7 264.7,262.9 C262.4,262.1 259.8,260.4 257.7,258.3 C255.6,256.1 253.0,252.2 251.9,250.1 C250.7,247.9 250.5,247.0 250.7,245.4 C250.9,243.8 251.5,242.7 253.0,240.7Z" fill="#c9b0d8"/>
<path d="M265.9,217.4 C267.0,215.4 269.6,214.3 271.7,213.9 C273.9,213.5 276.4,214.8 278.7,215.0 C281.1,215.2 283.2,215.0 285.7,215.0 C288.3,215.0 292.4,214.5 293.9,215.0 C295.5,215.6 295.3,217.0 295.1,218.5 C294.9,220.1 294.3,223.0 292.7,224.4 C291.2,225.7 287.9,226.1 285.7,226.7 C283.6,227.3 281.8,227.5 279.9,227.9 C277.9,228.3 276.0,228.7 274.1,229.1 C272.1,229.4 269.8,230.8 268.2,230.2 C266.7,229.6 265.1,227.7 264.7,225.6 C264.3,223.4 264.7,219.3 265.9,217.4Z" fill="#e31f26"/>
</g><g filter="url(#spkM)">
<path d="M278.7,225.6 C279.7,224.4 283.3,224.8 285.7,224.4 C288.1,224.0 291.8,221.7 293.2,223.2 C294.6,224.8 293.6,230.8 293.9,233.7 C294.2,236.6 295.7,239.4 295.1,240.7 C294.5,242.1 292.2,242.5 290.4,241.9 C288.7,241.3 286.3,239.0 284.6,237.2 C282.8,235.5 280.9,233.3 279.9,231.4 C278.9,229.4 277.8,226.7 278.7,225.6Z" fill="#e31f26"/>
</g><g filter="url(#spkD)">
<path d="M293.9,226.7 C294.5,224.0 296.6,220.1 297.4,217.4 C298.2,214.6 298.0,212.0 298.6,210.4 C299.2,208.7 300.1,207.6 300.9,207.6 C301.7,207.6 302.5,209.1 303.3,210.4 C304.0,211.6 304.6,213.9 305.6,215.0 C306.6,216.2 309.1,216.0 309.1,217.4 C309.1,218.7 307.1,221.1 305.6,223.2 C304.0,225.4 301.3,228.3 299.7,230.2 C298.2,232.2 297.2,234.3 296.2,234.9 C295.3,235.5 294.3,235.1 293.9,233.7 C293.5,232.4 293.3,229.4 293.9,226.7Z" fill="#f4a0a0"/>
<path d="M306.8,189.3 C307.6,187.9 309.1,185.9 311.4,185.1 C313.8,184.4 317.3,184.2 320.8,184.7 C324.3,185.2 328.9,186.6 332.5,188.2 C336.0,189.7 339.7,191.5 341.8,194.0 C343.9,196.5 344.9,200.2 345.3,203.4 C345.7,206.5 344.9,210.2 344.1,212.7 C343.4,215.2 341.8,216.8 340.6,218.5 C339.5,220.3 338.9,222.2 337.1,223.2 C335.4,224.2 332.5,224.6 330.1,224.4 C327.8,224.2 324.9,223.0 323.1,222.0 C321.4,221.1 321.0,220.5 319.6,218.5 C318.2,216.6 316.5,213.3 314.9,210.4 C313.4,207.4 311.7,203.7 310.3,201.0 C308.8,198.3 306.9,196.0 306.3,194.0 C305.7,192.1 305.9,190.8 306.8,189.3Z" fill="#a6cfe4"/>
<path d="M333.6,254.7 C335.0,252.4 337.7,251.1 339.5,250.1 C341.2,249.1 343.2,247.4 344.1,248.9 C345.1,250.5 345.5,256.1 345.3,259.4 C345.1,262.7 343.5,265.6 343.0,268.8 C342.4,271.9 342.0,275.0 341.8,278.1 C341.6,281.2 342.6,285.2 341.8,287.5 C341.0,289.7 339.1,291.3 337.1,291.7 C335.2,292.0 332.3,291.3 330.1,289.8 C328.0,288.3 325.4,284.7 324.3,282.8 C323.1,280.8 322.3,279.7 323.1,278.1 C323.9,276.6 327.6,275.8 328.9,273.4 C330.3,271.1 330.5,267.2 331.3,264.1 C332.1,261.0 332.3,257.1 333.6,254.7Z" fill="#a4d66e"/>
<path d="M339.5,225.6 C340.3,223.4 342.6,223.2 344.1,223.2 C345.7,223.2 347.2,225.0 348.8,225.6 C350.4,226.1 352.5,225.7 353.5,226.7 C354.4,227.7 355.0,229.6 354.6,231.4 C354.3,233.1 352.3,235.5 351.1,237.2 C350.0,239.0 348.6,240.1 347.6,241.9 C346.7,243.7 346.3,246.4 345.3,247.7 C344.3,249.1 342.8,250.5 341.8,250.1 C340.8,249.7 339.9,247.7 339.5,245.4 C339.0,243.1 339.0,239.4 339.0,236.1 C339.0,232.8 338.6,227.7 339.5,225.6Z" fill="#fdbc6c"/>
<path d="M311.4,234.9 C312.0,233.3 314.7,232.0 316.1,230.2 C317.5,228.5 318.0,225.7 319.6,224.4 C321.2,223.0 323.3,222.2 325.4,222.0 C327.6,221.9 330.3,222.4 332.5,223.2 C334.6,224.0 336.9,225.0 338.3,226.7 C339.7,228.5 340.4,231.4 340.6,233.7 C340.8,236.1 339.7,238.0 339.5,240.7 C339.3,243.5 339.8,247.4 339.5,250.1 C339.1,252.8 338.3,255.9 337.1,257.1 C336.0,258.3 333.4,258.3 332.5,257.1 C331.5,255.9 331.7,252.4 331.3,250.1 C330.9,247.7 331.1,244.6 330.1,243.1 C329.1,241.5 327.4,241.1 325.4,240.7 C323.5,240.3 320.6,240.9 318.4,240.7 C316.3,240.5 313.8,240.5 312.6,239.6 C311.4,238.6 310.8,236.5 311.4,234.9Z" fill="#1f78b4"/>
</g>
<path d="M244.9,259.4 V289.8 H274" fill="none" stroke="#cfcfcf" stroke-width="0.8"/>
<text transform="translate(243.3,290) rotate(-90)" font-size="6.3" fill="#c3c3c3">UMAP_2</text>
<text x="242.5" y="297" font-size="6.3" fill="#c3c3c3">UMAP_1</text>
<text transform="translate(367.3,219.5) rotate(-90)" font-size="8.4" font-weight="bold" fill="#c27fa5" text-anchor="middle">Principal</text>
<text transform="translate(374,219.5) rotate(-90)" font-size="8.4" font-weight="bold" fill="#c27fa5" text-anchor="middle">Tumor</text>
<path d="M377.8,204.6 H375.5 V234.4 H377.8" fill="none" stroke="#555" stroke-width="0.8"/>
<circle cx="383.6" cy="204.50" r="3.6" fill="#a6cfe4"/>
<text x="388.8" y="208.00" font-size="8.2" fill="#2a2a2a"><tspan font-style="italic">Braf<tspan font-size="4.3" dy="-3">CA/+</tspan><tspan dy="3">Pten</tspan><tspan font-size="4.3" dy="-3">Δ/+</tspan></tspan><tspan dy="3"> enriched</tspan></text>
<circle cx="383.6" cy="214.22" r="3.6" fill="#1f78b4"/>
<text x="388.8" y="217.72" font-size="8.2" fill="#2a2a2a">Shared</text>
<circle cx="383.6" cy="223.94" r="3.6" fill="#a4d66e"/>
<text x="388.8" y="227.44" font-size="8.2" fill="#2a2a2a"><tspan font-style="italic">Braf<tspan font-size="4.3" dy="-3">CA/+</tspan><tspan dy="3"> Pten</tspan><tspan font-size="4.3" dy="-3">+/+</tspan></tspan><tspan dy="3"> enriched</tspan></text>
<circle cx="383.6" cy="233.66" r="3.6" fill="#fdbc6c"/>
<text x="388.8" y="237.16" font-size="8.2" fill="#2a2a2a">Proliferating</text>
<circle cx="383.6" cy="243.38" r="3.6" fill="#c9b0d8"/>
<text x="388.8" y="246.88" font-size="8.2" fill="#2a2a2a">Melanocyte</text>
<circle cx="383.6" cy="253.10" r="3.6" fill="#e31f26"/>
<text x="388.8" y="256.60" font-size="8.2" fill="#2a2a2a">LNM cell</text>
<circle cx="383.6" cy="262.82" r="3.6" fill="#f4a0a0"/>
<text x="388.8" y="266.32" font-size="8.2" fill="#2a2a2a">Schwann cell</text>
<g filter="url(#spkS)">
<path d="M480.1,238.1 C480.7,234.8 484.5,229.8 486.9,226.3 C489.2,222.8 492.5,219.8 494.1,217.2 C495.8,214.7 495.3,212.2 496.9,210.9 C498.4,209.5 500.6,209.2 503.2,209.1 C505.8,208.9 509.7,209.7 512.3,210.0 C514.8,210.3 516.8,211.6 518.6,210.9 C520.4,210.1 521.9,206.6 523.1,205.4 C524.4,204.2 525.3,200.8 525.9,203.6 C526.5,206.5 527.8,218.3 526.8,222.7 C525.7,227.0 521.6,227.3 519.5,229.9 C517.4,232.5 516.0,235.5 514.1,238.1 C512.1,240.6 510.1,242.8 507.7,245.3 C505.3,247.8 502.3,252.4 499.6,253.0 C496.9,253.6 494.1,250.1 491.4,249.0 C488.7,247.8 485.1,248.1 483.3,246.2 C481.4,244.4 479.5,241.4 480.1,238.1Z" fill="#f3a629"/>
</g><g filter="url(#spkD)">
<path d="M495.0,210.9 C495.3,209.7 496.6,208.9 497.8,208.6 C499.0,208.3 501.2,208.5 502.3,209.1 C503.3,209.6 504.0,210.7 504.1,211.8 C504.3,212.9 504.0,215.0 503.2,215.9 C502.4,216.8 500.8,217.2 499.6,217.2 C498.4,217.2 496.7,216.9 495.9,215.9 C495.2,214.8 494.7,212.1 495.0,210.9Z" fill="#f3a629"/>
<path d="M480.5,236.3 C481.0,234.5 482.5,231.4 483.3,229.9 C484.0,228.4 484.0,227.9 485.1,227.2 C486.1,226.5 488.2,225.8 489.6,225.8 C491.0,225.8 492.5,226.1 493.2,227.2 C494.0,228.3 494.1,230.8 494.1,232.6 C494.1,234.5 493.2,236.3 493.2,238.1 C493.2,239.9 494.4,242.0 494.1,243.5 C493.8,245.0 492.6,246.4 491.4,247.1 C490.2,247.9 488.2,248.4 486.9,248.1 C485.5,247.7 484.3,246.5 483.3,245.3 C482.2,244.1 481.0,242.3 480.5,240.8 C480.1,239.3 480.1,238.1 480.5,236.3Z" fill="#f3a629"/>
<path d="M493.2,239.0 C493.8,237.5 495.3,236.6 496.9,236.3 C498.4,236.0 500.8,236.6 502.3,237.2 C503.8,237.8 505.5,238.5 505.9,239.9 C506.4,241.3 505.8,243.7 505.0,245.3 C504.3,247.0 502.6,248.6 501.4,249.9 C500.2,251.1 499.0,252.9 497.8,253.0 C496.6,253.2 494.9,252.1 494.1,250.8 C493.4,249.5 493.4,247.3 493.2,245.3 C493.1,243.4 492.6,240.5 493.2,239.0Z" fill="#f3a629"/>
<path d="M501.4,227.2 C501.6,225.6 503.1,224.5 504.1,224.0 C505.1,223.6 506.4,223.8 507.3,224.5 C508.2,225.2 509.3,226.7 509.5,228.1 C509.8,229.5 509.2,231.4 508.6,232.6 C508.0,233.8 506.9,235.2 505.9,235.4 C504.9,235.5 503.5,234.9 502.7,233.5 C502.0,232.2 501.2,228.8 501.4,227.2Z" fill="#f3a629"/>
<path d="M520.4,216.3 C520.9,214.7 521.6,212.7 522.2,210.9 C522.8,209.1 523.5,206.6 524.1,205.4 C524.6,204.2 525.0,203.3 525.4,203.6 C525.9,203.9 526.7,205.6 526.8,207.3 C526.8,208.9 525.9,211.3 525.9,213.6 C525.9,215.9 526.9,218.9 526.8,220.9 C526.6,222.8 525.9,224.8 525.0,225.4 C524.1,226.0 522.2,225.2 521.3,224.5 C520.4,223.7 519.7,222.2 519.5,220.9 C519.4,219.5 520.0,218.0 520.4,216.3Z" fill="#f3a629"/>
<path d="M531.7,185.6 C532.6,183.9 534.3,183.4 536.8,183.0 C539.3,182.7 543.5,182.7 546.9,183.4 C550.2,184.1 554.2,185.6 557.0,187.3 C559.8,188.9 562.1,191.0 563.7,193.1 C565.2,195.2 566.1,197.5 566.2,199.9 C566.4,202.3 565.5,205.5 564.5,207.4 C563.5,209.4 561.7,210.5 560.3,211.6 C558.9,212.8 557.8,213.8 556.1,214.2 C554.4,214.5 552.3,214.2 550.2,213.7 C548.1,213.1 545.5,212.0 543.5,210.8 C541.5,209.6 540.0,208.4 538.5,206.6 C536.9,204.8 535.4,202.1 534.3,199.9 C533.1,197.6 532.1,195.5 531.7,193.1 C531.3,190.8 530.9,187.3 531.7,185.6Z" fill="#4ba3dc"/>
<path d="M535.1,228.5 C535.8,227.1 538.2,224.8 540.1,223.4 C542.1,222.0 545.2,221.3 546.9,220.1 C548.5,218.8 548.5,216.7 550.2,215.8 C551.9,215.0 554.7,214.6 557.0,215.0 C559.2,215.4 561.4,217.7 563.7,218.4 C565.9,219.1 568.6,218.7 570.4,219.2 C572.2,219.8 574.1,220.5 574.6,221.7 C575.2,223.0 574.8,225.5 573.8,226.8 C572.8,228.0 570.6,229.0 568.7,229.3 C566.9,229.6 564.5,227.8 562.8,228.5 C561.2,229.2 560.2,232.7 558.6,233.5 C557.1,234.3 555.3,233.8 553.6,233.5 C551.9,233.2 550.5,231.8 548.5,231.8 C546.6,231.8 543.9,233.5 541.8,233.5 C539.7,233.5 537.1,232.7 535.9,231.8 C534.8,231.0 534.4,229.9 535.1,228.5Z" fill="#4ba3dc"/>
<path d="M552.8,233.5 C553.5,231.7 557.2,232.9 558.6,234.3 C560.0,235.8 560.5,239.0 561.2,241.9 C561.9,244.9 562.4,248.6 562.8,252.0 C563.3,255.4 563.7,258.7 563.7,262.1 C563.7,265.5 563.7,269.7 562.8,272.2 C562.0,274.7 560.5,276.5 558.6,277.2 C556.8,277.9 553.9,277.7 551.9,276.4 C550.0,275.1 547.4,272.1 546.9,269.7 C546.3,267.3 547.6,264.5 548.5,262.1 C549.5,259.7 551.8,258.2 552.8,255.4 C553.7,252.6 554.4,248.9 554.4,245.3 C554.4,241.6 552.1,235.3 552.8,233.5Z" fill="#4ba3dc"/>
</g>
<g filter="url(#spkM)">
<path d="M505.9,211.8 C507.9,211.2 514.8,209.9 516.8,209.8 C518.8,209.7 518.7,210.3 517.9,211.2 C517.1,212.2 512.9,213.3 511.8,215.4 C510.7,217.5 511.6,222.3 511.2,223.8 C510.8,225.2 510.0,225.3 509.5,224.1 C509.1,222.9 509.4,218.3 508.6,216.5 C507.9,214.7 505.5,214.4 505.0,213.6 C504.6,212.8 504.0,212.4 505.9,211.8Z" fill="#4ba3dc"/>
<path d="M512.1,219.2 C511.4,217.2 512.4,216.7 513.5,218.5 C514.7,220.3 518.2,227.9 518.8,229.9 C519.4,232.0 518.5,232.6 517.3,230.8 C516.2,229.0 512.7,221.3 512.1,219.2Z" fill="#4ba3dc"/>
</g>
<path d="M498.4,237.4h0.7v0.7h-0.7zM490.9,241.1h0.7v0.7h-0.7zM487.0,240.2h0.7v0.7h-0.7zM511.0,210.4h0.7v0.7h-0.7zM505.1,225.8h0.7v0.7h-0.7zM499.3,252.9h0.7v0.7h-0.7zM524.0,223.5h0.7v0.7h-0.7zM497.1,250.8h0.7v0.7h-0.7zM507.4,230.7h0.7v0.7h-0.7zM496.7,213.7h0.7v0.7h-0.7zM481.5,239.9h0.7v0.7h-0.7zM490.3,243.0h0.7v0.7h-0.7zM514.2,213.2h0.7v0.7h-0.7zM510.0,214.5h0.7v0.7h-0.7zM495.7,223.2h0.7v0.7h-0.7zM509.2,230.6h0.7v0.7h-0.7zM508.2,238.0h0.7v0.7h-0.7zM501.3,243.2h0.7v0.7h-0.7zM500.8,242.6h0.7v0.7h-0.7zM506.3,209.5h0.7v0.7h-0.7zM495.7,238.9h0.7v0.7h-0.7zM520.0,227.1h0.7v0.7h-0.7zM503.3,242.6h0.7v0.7h-0.7zM493.1,222.0h0.7v0.7h-0.7zM508.7,235.1h0.7v0.7h-0.7zM486.5,239.5h0.7v0.7h-0.7zM515.9,216.2h0.7v0.7h-0.7zM497.6,217.6h0.7v0.7h-0.7zM485.9,246.4h0.7v0.7h-0.7zM518.4,218.4h0.7v0.7h-0.7zM488.7,226.1h0.7v0.7h-0.7zM512.5,229.5h0.7v0.7h-0.7zM520.2,223.5h0.7v0.7h-0.7zM504.5,239.1h0.7v0.7h-0.7zM501.6,239.1h0.7v0.7h-0.7zM501.9,210.2h0.7v0.7h-0.7zM485.8,242.3h0.7v0.7h-0.7zM512.3,232.3h0.7v0.7h-0.7zM487.8,245.8h0.7v0.7h-0.7zM494.4,224.7h0.7v0.7h-0.7zM513.3,230.4h0.7v0.7h-0.7zM491.4,242.1h0.7v0.7h-0.7zM521.9,216.4h0.7v0.7h-0.7zM489.5,243.8h0.7v0.7h-0.7zM497.1,223.5h0.7v0.7h-0.7zM518.3,222.6h0.7v0.7h-0.7zM496.2,238.1h0.7v0.7h-0.7zM497.3,241.7h0.7v0.7h-0.7zM509.3,227.3h0.7v0.7h-0.7zM494.0,227.0h0.7v0.7h-0.7zM497.8,241.1h0.7v0.7h-0.7zM494.1,248.7h0.7v0.7h-0.7zM507.1,223.6h0.7v0.7h-0.7zM516.4,215.1h0.7v0.7h-0.7zM505.3,219.4h0.7v0.7h-0.7zM484.6,232.0h0.7v0.7h-0.7zM511.5,229.3h0.7v0.7h-0.7zM520.2,218.9h0.7v0.7h-0.7zM498.2,237.1h0.7v0.7h-0.7zM506.0,214.6h0.7v0.7h-0.7zM499.3,244.3h0.7v0.7h-0.7zM491.4,238.5h0.7v0.7h-0.7zM512.0,219.6h0.7v0.7h-0.7zM499.2,230.2h0.7v0.7h-0.7zM500.6,210.6h0.7v0.7h-0.7zM500.6,227.3h0.7v0.7h-0.7zM502.4,237.5h0.7v0.7h-0.7zM514.0,220.4h0.7v0.7h-0.7zM495.1,222.9h0.7v0.7h-0.7zM499.6,250.3h0.7v0.7h-0.7z" fill="#4ba3dc"/>
<path d="M550.0,201.3h0.6v0.6h-0.6zM560.8,211.0h0.6v0.6h-0.6zM562.1,194.4h0.6v0.6h-0.6zM564.4,196.2h0.6v0.6h-0.6zM542.3,186.0h0.6v0.6h-0.6zM549.4,187.9h0.6v0.6h-0.6zM541.2,202.0h0.6v0.6h-0.6zM558.5,206.5h0.6v0.6h-0.6zM534.7,185.0h0.6v0.6h-0.6zM540.5,200.2h0.6v0.6h-0.6zM560.7,208.0h0.6v0.6h-0.6zM563.9,201.4h0.6v0.6h-0.6zM553.7,192.1h0.6v0.6h-0.6zM542.6,189.5h0.6v0.6h-0.6zM550.2,201.9h0.6v0.6h-0.6zM551.5,195.2h0.6v0.6h-0.6zM546.3,190.8h0.6v0.6h-0.6zM559.8,201.1h0.6v0.6h-0.6zM557.5,208.3h0.6v0.6h-0.6zM541.4,186.7h0.6v0.6h-0.6zM559.0,195.7h0.6v0.6h-0.6zM558.5,193.7h0.6v0.6h-0.6zM546.2,197.4h0.6v0.6h-0.6zM536.2,191.6h0.6v0.6h-0.6zM539.8,192.3h0.6v0.6h-0.6z" fill="#f3a629"/>
<path d="M556.8,228.9h0.6v0.6h-0.6zM557.5,228.8h0.6v0.6h-0.6zM545.9,221.8h0.6v0.6h-0.6zM563.4,225.8h0.6v0.6h-0.6zM564.8,221.7h0.6v0.6h-0.6zM563.6,221.9h0.6v0.6h-0.6zM536.1,227.5h0.6v0.6h-0.6zM571.0,225.1h0.6v0.6h-0.6zM554.7,222.3h0.6v0.6h-0.6zM550.5,219.9h0.6v0.6h-0.6zM558.6,232.9h0.6v0.6h-0.6zM555.0,229.0h0.6v0.6h-0.6zM561.6,225.2h0.6v0.6h-0.6zM568.8,223.2h0.6v0.6h-0.6zM562.0,219.8h0.6v0.6h-0.6zM558.1,219.1h0.6v0.6h-0.6zM538.8,232.6h0.6v0.6h-0.6zM570.4,226.4h0.6v0.6h-0.6zM564.8,220.4h0.6v0.6h-0.6zM552.6,222.3h0.6v0.6h-0.6zM555.7,226.5h0.6v0.6h-0.6zM556.4,218.1h0.6v0.6h-0.6zM559.0,220.4h0.6v0.6h-0.6zM557.4,221.5h0.6v0.6h-0.6zM553.3,227.7h0.6v0.6h-0.6z" fill="#f3a629"/>
<g filter="url(#spkS)">
<path d="M580.1,238.1 C580.7,234.8 584.5,229.8 586.9,226.3 C589.2,222.8 592.5,219.8 594.1,217.2 C595.8,214.7 595.3,212.2 596.9,210.9 C598.4,209.5 600.6,209.2 603.2,209.1 C605.8,208.9 609.7,209.7 612.3,210.0 C614.8,210.3 616.8,211.6 618.6,210.9 C620.4,210.1 621.9,206.6 623.1,205.4 C624.4,204.2 625.3,200.8 625.9,203.6 C626.5,206.5 627.8,218.3 626.8,222.7 C625.7,227.0 621.6,227.3 619.5,229.9 C617.4,232.5 616.0,235.5 614.1,238.1 C612.1,240.6 610.1,242.8 607.7,245.3 C605.3,247.8 602.3,252.4 599.6,253.0 C596.9,253.6 594.1,250.1 591.4,249.0 C588.7,247.8 585.1,248.1 583.3,246.2 C581.4,244.4 579.5,241.4 580.1,238.1Z" fill="#f3a629"/>
</g><g filter="url(#spkD)">
<path d="M595.0,210.9 C595.3,209.7 596.6,208.9 597.8,208.6 C599.0,208.3 601.2,208.5 602.3,209.1 C603.3,209.6 604.0,210.7 604.1,211.8 C604.3,212.9 604.0,215.0 603.2,215.9 C602.4,216.8 600.8,217.2 599.6,217.2 C598.4,217.2 596.7,216.9 595.9,215.9 C595.2,214.8 594.7,212.1 595.0,210.9Z" fill="#f3a629"/>
<path d="M580.5,236.3 C581.0,234.5 582.5,231.4 583.3,229.9 C584.0,228.4 584.0,227.9 585.1,227.2 C586.1,226.5 588.2,225.8 589.6,225.8 C591.0,225.8 592.5,226.1 593.2,227.2 C594.0,228.3 594.1,230.8 594.1,232.6 C594.1,234.5 593.2,236.3 593.2,238.1 C593.2,239.9 594.4,242.0 594.1,243.5 C593.8,245.0 592.6,246.4 591.4,247.1 C590.2,247.9 588.2,248.4 586.9,248.1 C585.5,247.7 584.3,246.5 583.3,245.3 C582.2,244.1 581.0,242.3 580.5,240.8 C580.1,239.3 580.1,238.1 580.5,236.3Z" fill="#f3a629"/>
<path d="M593.2,239.0 C593.8,237.5 595.3,236.6 596.9,236.3 C598.4,236.0 600.8,236.6 602.3,237.2 C603.8,237.8 605.5,238.5 605.9,239.9 C606.4,241.3 605.8,243.7 605.0,245.3 C604.3,247.0 602.6,248.6 601.4,249.9 C600.2,251.1 599.0,252.9 597.8,253.0 C596.6,253.2 594.9,252.1 594.1,250.8 C593.4,249.5 593.4,247.3 593.2,245.3 C593.1,243.4 592.6,240.5 593.2,239.0Z" fill="#f3a629"/>
<path d="M601.4,227.2 C601.6,225.6 603.1,224.5 604.1,224.0 C605.1,223.6 606.4,223.8 607.3,224.5 C608.2,225.2 609.3,226.7 609.5,228.1 C609.8,229.5 609.2,231.4 608.6,232.6 C608.0,233.8 606.9,235.2 605.9,235.4 C604.9,235.5 603.5,234.9 602.7,233.5 C602.0,232.2 601.2,228.8 601.4,227.2Z" fill="#f3a629"/>
<path d="M620.4,216.3 C620.9,214.7 621.6,212.7 622.2,210.9 C622.8,209.1 623.5,206.6 624.1,205.4 C624.6,204.2 625.0,203.3 625.4,203.6 C625.9,203.9 626.7,205.6 626.8,207.3 C626.8,208.9 625.9,211.3 625.9,213.6 C625.9,215.9 626.9,218.9 626.8,220.9 C626.6,222.8 625.9,224.8 625.0,225.4 C624.1,226.0 622.2,225.2 621.3,224.5 C620.4,223.7 619.7,222.2 619.5,220.9 C619.4,219.5 620.0,218.0 620.4,216.3Z" fill="#f3a629"/>
<path d="M580.9,233.5 C580.9,230.8 583.6,228.7 585.1,228.5 C586.6,228.2 589.2,229.6 590.1,231.8 C591.1,234.1 591.3,239.4 591.0,241.9 C590.7,244.4 589.4,246.5 588.5,247.0 C587.5,247.4 586.4,246.7 585.1,244.4 C583.8,242.2 580.9,236.2 580.9,233.5Z" fill="#4ba3dc"/>
<path d="M631.7,185.6 C632.6,183.9 634.3,183.4 636.8,183.0 C639.3,182.7 643.5,182.7 646.9,183.4 C650.2,184.1 654.2,185.6 657.0,187.3 C659.8,188.9 662.1,191.0 663.7,193.1 C665.2,195.2 666.1,197.5 666.2,199.9 C666.4,202.3 665.5,205.5 664.5,207.4 C663.5,209.4 661.7,210.5 660.3,211.6 C658.9,212.8 657.8,213.8 656.1,214.2 C654.4,214.5 652.3,214.2 650.2,213.7 C648.1,213.1 645.5,212.0 643.5,210.8 C641.5,209.6 640.0,208.4 638.5,206.6 C636.9,204.8 635.4,202.1 634.3,199.9 C633.1,197.6 632.1,195.5 631.7,193.1 C631.3,190.8 630.9,187.3 631.7,185.6Z" fill="#f3a629"/>
<path d="M635.1,228.5 C635.8,227.1 638.2,224.8 640.1,223.4 C642.1,222.0 645.2,221.3 646.9,220.1 C648.5,218.8 648.5,216.7 650.2,215.8 C651.9,215.0 654.7,214.6 657.0,215.0 C659.2,215.4 661.4,217.7 663.7,218.4 C665.9,219.1 668.6,218.7 670.4,219.2 C672.2,219.8 674.1,220.5 674.6,221.7 C675.2,223.0 674.8,225.5 673.8,226.8 C672.8,228.0 670.6,229.0 668.7,229.3 C666.9,229.6 664.5,227.8 662.8,228.5 C661.2,229.2 660.2,232.7 658.6,233.5 C657.1,234.3 655.3,233.8 653.6,233.5 C651.9,233.2 650.5,231.8 648.5,231.8 C646.6,231.8 643.9,233.5 641.8,233.5 C639.7,233.5 637.1,232.7 635.9,231.8 C634.8,231.0 634.4,229.9 635.1,228.5Z" fill="#f3a629"/>
<path d="M652.8,233.5 C653.5,231.7 657.2,232.9 658.6,234.3 C660.0,235.8 660.5,239.0 661.2,241.9 C661.9,244.9 662.4,248.6 662.8,252.0 C663.3,255.4 663.7,258.7 663.7,262.1 C663.7,265.5 663.7,269.7 662.8,272.2 C662.0,274.7 660.5,276.5 658.6,277.2 C656.8,277.9 653.9,277.7 651.9,276.4 C650.0,275.1 647.4,272.1 646.9,269.7 C646.3,267.3 647.6,264.5 648.5,262.1 C649.5,259.7 651.8,258.2 652.8,255.4 C653.7,252.6 654.4,248.9 654.4,245.3 C654.4,241.6 652.1,235.3 652.8,233.5Z" fill="#f3a629"/>
</g>
<g filter="url(#spkM)">
<path d="M635.1,199.9 C635.7,197.8 637.9,193.4 640.1,193.1 C642.4,192.9 646.0,196.2 648.5,198.2 C651.1,200.1 653.6,202.7 655.3,204.9 C657.0,207.2 658.9,210.2 658.6,211.6 C658.4,213.1 656.1,213.8 653.6,213.7 C651.1,213.5 646.3,212.1 643.5,210.8 C640.7,209.5 638.2,207.6 636.8,205.8 C635.4,203.9 634.5,202.0 635.1,199.9Z" fill="#4ba3dc"/>
<path d="M635.1,228.5 C635.1,226.8 639.3,224.3 641.8,222.6 C644.3,220.9 648.0,218.2 650.2,218.4 C652.5,218.5 655.3,221.7 655.3,223.4 C655.3,225.1 652.5,226.9 650.2,228.5 C648.0,230.0 644.3,232.7 641.8,232.7 C639.3,232.7 635.1,230.1 635.1,228.5Z" fill="#4ba3dc"/>
<path d="M662.0,220.1 C662.6,218.8 666.8,218.8 668.7,219.2 C670.7,219.6 673.2,221.2 673.8,222.6 C674.3,224.0 673.5,226.9 672.1,227.6 C670.7,228.3 667.1,228.0 665.4,226.8 C663.7,225.5 661.4,221.3 662.0,220.1Z" fill="#4ba3dc"/>
<path d="M605.9,211.8 C607.9,211.2 614.8,209.9 616.8,209.8 C618.8,209.7 618.7,210.3 617.9,211.2 C617.1,212.2 612.9,213.3 611.8,215.4 C610.7,217.5 611.6,222.3 611.2,223.8 C610.8,225.2 610.0,225.3 609.5,224.1 C609.1,222.9 609.4,218.3 608.6,216.5 C607.9,214.7 605.5,214.4 605.0,213.6 C604.6,212.8 604.0,212.4 605.9,211.8Z" fill="#4ba3dc"/>
</g>
<path d="M636.7,197.4h0.7v0.7h-0.7zM654.9,207.7h0.7v0.7h-0.7zM647.4,198.6h0.7v0.7h-0.7zM644.6,209.6h0.7v0.7h-0.7zM650.6,206.6h0.7v0.7h-0.7zM646.7,188.5h0.7v0.7h-0.7zM661.1,208.6h0.7v0.7h-0.7zM644.7,186.0h0.7v0.7h-0.7zM649.4,198.5h0.7v0.7h-0.7zM658.4,201.6h0.7v0.7h-0.7zM649.2,200.9h0.7v0.7h-0.7zM644.7,184.6h0.7v0.7h-0.7zM660.7,192.3h0.7v0.7h-0.7zM662.4,199.3h0.7v0.7h-0.7zM651.9,212.1h0.7v0.7h-0.7zM653.2,207.5h0.7v0.7h-0.7zM662.7,193.4h0.7v0.7h-0.7zM650.0,204.9h0.7v0.7h-0.7zM652.1,194.5h0.7v0.7h-0.7zM638.1,201.9h0.7v0.7h-0.7zM665.1,200.2h0.7v0.7h-0.7zM635.6,198.4h0.7v0.7h-0.7zM665.1,201.8h0.7v0.7h-0.7zM634.6,187.0h0.7v0.7h-0.7zM635.5,199.7h0.7v0.7h-0.7zM647.0,184.2h0.7v0.7h-0.7zM643.4,205.4h0.7v0.7h-0.7zM648.9,212.2h0.7v0.7h-0.7zM656.0,209.3h0.7v0.7h-0.7zM661.3,195.0h0.7v0.7h-0.7zM645.7,204.4h0.7v0.7h-0.7zM651.6,191.1h0.7v0.7h-0.7zM651.9,211.4h0.7v0.7h-0.7zM643.0,193.8h0.7v0.7h-0.7zM638.1,188.6h0.7v0.7h-0.7zM660.3,205.0h0.7v0.7h-0.7zM665.0,203.9h0.7v0.7h-0.7zM638.2,189.8h0.7v0.7h-0.7zM639.5,197.3h0.7v0.7h-0.7zM650.5,202.1h0.7v0.7h-0.7zM649.3,211.5h0.7v0.7h-0.7zM651.7,191.2h0.7v0.7h-0.7zM637.1,183.2h0.7v0.7h-0.7zM655.8,186.9h0.7v0.7h-0.7zM653.2,189.3h0.7v0.7h-0.7zM646.4,183.5h0.7v0.7h-0.7zM644.7,193.3h0.7v0.7h-0.7zM640.7,187.2h0.7v0.7h-0.7zM651.6,204.6h0.7v0.7h-0.7zM638.6,184.4h0.7v0.7h-0.7zM641.0,204.8h0.7v0.7h-0.7zM641.2,203.2h0.7v0.7h-0.7zM636.6,190.0h0.7v0.7h-0.7zM656.9,197.8h0.7v0.7h-0.7zM653.8,191.9h0.7v0.7h-0.7zM654.8,192.4h0.7v0.7h-0.7zM648.3,196.9h0.7v0.7h-0.7zM663.2,206.5h0.7v0.7h-0.7zM650.6,209.4h0.7v0.7h-0.7zM652.8,205.6h0.7v0.7h-0.7zM649.6,200.9h0.7v0.7h-0.7zM653.8,208.6h0.7v0.7h-0.7zM655.9,211.2h0.7v0.7h-0.7zM665.7,202.1h0.7v0.7h-0.7zM656.9,199.1h0.7v0.7h-0.7zM640.6,198.2h0.7v0.7h-0.7zM647.7,192.3h0.7v0.7h-0.7zM643.5,196.8h0.7v0.7h-0.7zM640.9,187.4h0.7v0.7h-0.7zM659.5,194.2h0.7v0.7h-0.7zM644.3,207.4h0.7v0.7h-0.7zM655.8,197.0h0.7v0.7h-0.7zM642.4,207.8h0.7v0.7h-0.7zM639.9,197.5h0.7v0.7h-0.7zM640.0,201.5h0.7v0.7h-0.7zM649.9,184.6h0.7v0.7h-0.7zM658.9,189.7h0.7v0.7h-0.7zM652.0,205.3h0.7v0.7h-0.7zM649.0,211.5h0.7v0.7h-0.7zM638.2,191.0h0.7v0.7h-0.7zM662.1,209.2h0.7v0.7h-0.7zM649.5,187.2h0.7v0.7h-0.7zM660.5,192.6h0.7v0.7h-0.7zM657.8,191.0h0.7v0.7h-0.7zM645.3,194.7h0.7v0.7h-0.7zM646.9,197.3h0.7v0.7h-0.7zM648.0,203.2h0.7v0.7h-0.7zM648.5,208.5h0.7v0.7h-0.7zM641.6,203.8h0.7v0.7h-0.7zM638.8,204.8h0.7v0.7h-0.7zM655.2,200.0h0.7v0.7h-0.7zM648.3,212.6h0.7v0.7h-0.7zM644.1,185.6h0.7v0.7h-0.7zM643.1,184.4h0.7v0.7h-0.7zM662.5,209.0h0.7v0.7h-0.7zM638.1,202.6h0.7v0.7h-0.7zM646.0,184.9h0.7v0.7h-0.7zM652.9,190.7h0.7v0.7h-0.7zM635.6,192.5h0.7v0.7h-0.7zM654.8,208.2h0.7v0.7h-0.7zM654.4,190.0h0.7v0.7h-0.7zM641.3,202.0h0.7v0.7h-0.7zM659.0,202.5h0.7v0.7h-0.7zM642.8,207.9h0.7v0.7h-0.7zM645.9,202.6h0.7v0.7h-0.7zM661.0,203.7h0.7v0.7h-0.7zM647.6,201.4h0.7v0.7h-0.7zM638.8,196.6h0.7v0.7h-0.7zM660.4,198.1h0.7v0.7h-0.7zM637.1,184.1h0.7v0.7h-0.7zM651.7,206.9h0.7v0.7h-0.7zM635.6,196.9h0.7v0.7h-0.7zM647.6,186.9h0.7v0.7h-0.7zM653.4,190.9h0.7v0.7h-0.7zM655.6,198.7h0.7v0.7h-0.7zM649.8,190.2h0.7v0.7h-0.7zM642.5,186.2h0.7v0.7h-0.7zM649.8,185.3h0.7v0.7h-0.7zM635.7,196.5h0.7v0.7h-0.7zM655.2,189.3h0.7v0.7h-0.7zM654.4,200.4h0.7v0.7h-0.7zM663.6,208.3h0.7v0.7h-0.7zM662.3,193.0h0.7v0.7h-0.7zM641.5,196.3h0.7v0.7h-0.7zM633.8,196.3h0.7v0.7h-0.7zM642.0,194.1h0.7v0.7h-0.7zM642.3,186.9h0.7v0.7h-0.7zM653.9,192.5h0.7v0.7h-0.7zM641.1,192.8h0.7v0.7h-0.7zM643.9,207.7h0.7v0.7h-0.7zM639.2,186.9h0.7v0.7h-0.7zM643.1,200.8h0.7v0.7h-0.7zM641.5,186.5h0.7v0.7h-0.7zM662.6,196.9h0.7v0.7h-0.7zM646.7,188.4h0.7v0.7h-0.7zM654.9,205.5h0.7v0.7h-0.7zM640.6,202.5h0.7v0.7h-0.7zM635.2,192.8h0.7v0.7h-0.7zM641.7,207.8h0.7v0.7h-0.7zM653.1,199.0h0.7v0.7h-0.7zM646.8,200.2h0.7v0.7h-0.7zM648.3,191.1h0.7v0.7h-0.7zM660.4,207.8h0.7v0.7h-0.7zM645.1,195.6h0.7v0.7h-0.7zM658.1,188.3h0.7v0.7h-0.7zM638.3,193.9h0.7v0.7h-0.7zM653.2,193.0h0.7v0.7h-0.7zM649.6,199.0h0.7v0.7h-0.7zM663.5,201.1h0.7v0.7h-0.7zM641.1,202.7h0.7v0.7h-0.7zM650.9,192.5h0.7v0.7h-0.7zM647.3,206.3h0.7v0.7h-0.7zM640.5,203.4h0.7v0.7h-0.7zM640.9,188.4h0.7v0.7h-0.7zM646.9,198.7h0.7v0.7h-0.7zM633.3,188.2h0.7v0.7h-0.7zM644.9,200.0h0.7v0.7h-0.7zM655.9,187.3h0.7v0.7h-0.7zM660.1,194.2h0.7v0.7h-0.7zM647.2,194.2h0.7v0.7h-0.7zM652.1,206.6h0.7v0.7h-0.7zM637.0,198.2h0.7v0.7h-0.7zM641.6,191.5h0.7v0.7h-0.7zM645.3,202.5h0.7v0.7h-0.7zM647.5,204.8h0.7v0.7h-0.7zM665.8,201.4h0.7v0.7h-0.7zM660.6,204.8h0.7v0.7h-0.7zM643.4,205.6h0.7v0.7h-0.7zM660.3,196.9h0.7v0.7h-0.7zM653.7,194.9h0.7v0.7h-0.7zM663.5,199.4h0.7v0.7h-0.7zM640.1,196.4h0.7v0.7h-0.7zM652.0,194.8h0.7v0.7h-0.7zM643.1,202.6h0.7v0.7h-0.7zM642.7,198.2h0.7v0.7h-0.7zM634.6,193.0h0.7v0.7h-0.7zM635.7,198.0h0.7v0.7h-0.7zM643.0,194.8h0.7v0.7h-0.7zM639.0,183.4h0.7v0.7h-0.7zM651.4,211.5h0.7v0.7h-0.7zM633.7,197.8h0.7v0.7h-0.7zM660.5,190.5h0.7v0.7h-0.7zM636.3,184.9h0.7v0.7h-0.7zM655.7,206.8h0.7v0.7h-0.7zM646.4,193.9h0.7v0.7h-0.7zM659.3,208.2h0.7v0.7h-0.7zM647.3,207.5h0.7v0.7h-0.7zM657.4,202.4h0.7v0.7h-0.7zM660.7,204.0h0.7v0.7h-0.7zM661.6,194.0h0.7v0.7h-0.7zM646.7,192.8h0.7v0.7h-0.7zM659.6,194.0h0.7v0.7h-0.7zM646.1,200.7h0.7v0.7h-0.7zM635.0,192.2h0.7v0.7h-0.7zM646.5,208.0h0.7v0.7h-0.7zM659.3,206.1h0.7v0.7h-0.7zM656.9,199.0h0.7v0.7h-0.7zM634.7,194.0h0.7v0.7h-0.7zM640.1,183.6h0.7v0.7h-0.7zM643.0,193.2h0.7v0.7h-0.7z" fill="#4ba3dc"/>
<path d="M621.6,223.4h0.7v0.7h-0.7zM590.8,229.1h0.7v0.7h-0.7zM595.0,244.4h0.7v0.7h-0.7zM619.4,210.3h0.7v0.7h-0.7zM602.4,211.3h0.7v0.7h-0.7zM615.0,230.5h0.7v0.7h-0.7zM603.7,242.1h0.7v0.7h-0.7zM595.7,246.7h0.7v0.7h-0.7zM616.2,213.7h0.7v0.7h-0.7zM608.6,238.8h0.7v0.7h-0.7zM606.2,221.7h0.7v0.7h-0.7zM615.2,231.7h0.7v0.7h-0.7zM607.3,212.1h0.7v0.7h-0.7zM584.8,246.0h0.7v0.7h-0.7zM613.5,212.8h0.7v0.7h-0.7zM594.1,232.0h0.7v0.7h-0.7zM616.3,221.7h0.7v0.7h-0.7zM610.5,210.3h0.7v0.7h-0.7zM597.9,242.2h0.7v0.7h-0.7zM602.1,238.5h0.7v0.7h-0.7zM625.6,222.3h0.7v0.7h-0.7zM595.0,236.0h0.7v0.7h-0.7zM622.7,206.4h0.7v0.7h-0.7zM591.6,222.9h0.7v0.7h-0.7zM594.4,231.1h0.7v0.7h-0.7zM591.3,248.0h0.7v0.7h-0.7zM595.4,247.8h0.7v0.7h-0.7zM615.6,218.1h0.7v0.7h-0.7zM600.5,252.0h0.7v0.7h-0.7zM583.6,235.9h0.7v0.7h-0.7zM608.3,239.0h0.7v0.7h-0.7zM610.8,240.1h0.7v0.7h-0.7zM590.8,230.6h0.7v0.7h-0.7zM608.3,240.2h0.7v0.7h-0.7zM587.3,228.1h0.7v0.7h-0.7zM592.0,234.6h0.7v0.7h-0.7zM595.4,218.3h0.7v0.7h-0.7zM603.0,227.1h0.7v0.7h-0.7zM604.8,212.5h0.7v0.7h-0.7zM623.8,225.0h0.7v0.7h-0.7zM585.9,237.3h0.7v0.7h-0.7zM583.3,234.2h0.7v0.7h-0.7zM586.2,232.0h0.7v0.7h-0.7zM593.1,227.8h0.7v0.7h-0.7zM609.1,242.3h0.7v0.7h-0.7zM601.7,211.0h0.7v0.7h-0.7zM595.5,224.3h0.7v0.7h-0.7zM596.0,213.8h0.7v0.7h-0.7zM626.0,220.9h0.7v0.7h-0.7zM595.8,248.8h0.7v0.7h-0.7zM587.4,246.8h0.7v0.7h-0.7zM591.2,227.1h0.7v0.7h-0.7zM588.8,244.9h0.7v0.7h-0.7zM598.3,235.4h0.7v0.7h-0.7zM598.6,251.6h0.7v0.7h-0.7zM595.2,246.2h0.7v0.7h-0.7zM620.0,212.7h0.7v0.7h-0.7zM623.2,220.9h0.7v0.7h-0.7zM596.8,239.6h0.7v0.7h-0.7zM614.0,217.7h0.7v0.7h-0.7z" fill="#4ba3dc"/>
<circle cx="524" cy="277.4" r="3.6" fill="#f3a629"/><circle cx="524" cy="287.3" r="3.6" fill="#4ba3dc"/>
<text x="528.6" y="280.5" font-size="8.2" fill="#2a2a2a">Skin</text>
<text x="528.6" y="290.4" font-size="8.2" fill="#2a2a2a">Tumor</text>
<circle cx="621.6" cy="277.4" r="3.6" fill="#f3a629"/><circle cx="621.6" cy="287.3" r="3.6" fill="#4ba3dc"/>
<text x="626.2" y="280.5" font-size="8.2" fill="#2a2a2a">Albino</text>
<text x="626.2" y="290.4" font-size="8.2" fill="#2a2a2a">Black</text>
<text x="-0.5" y="367.4" font-size="20" font-weight="bold" fill="#111">e</text>
<defs><filter id="hb" x="-2%" y="-2%" width="104%" height="104%"><feGaussianBlur stdDeviation="0.45 0.3"/></filter></defs>
<g filter="url(#hb)">
<g transform="translate(46.30,386.50) scale(1.4175,7.6300)" shape-rendering="crispEdges">
<path fill="#a642a5" d="M8 4h1v1h-1zM0 7h1v1h-1zM16 9h1v1h-1z"/>
<path fill="#862a8b" d="M19 6h1v1h-1z"/>
<path fill="#6c1e73" d="M4 4h1v1h-1zM7 9h1v1h-1zM18 9h1v1h-1z"/>
<path fill="#501457" d="M4 1h1v1h-1zM3 4h1v1h-1zM12 4h1v1h-1zM16 4h1v1h-1zM0 6h1v1h-1zM1 7h1v1h-1zM3 7h1v1h-1zM0 9h2v1h-2zM9 9h2v1h-2zM15 9h1v1h-1z"/>
<path fill="#330b37" d="M2 1h1v1h-1zM7 4h1v1h-1zM13 4h1v1h-1zM15 4h1v1h-1zM14 5h1v1h-1zM2 6h1v1h-1zM7 6h1v1h-1zM5 7h1v1h-1zM9 7h1v1h-1zM18 7h1v1h-1zM11 9h1v1h-1zM13 9h1v1h-1z"/>
<path fill="#1d071e" d="M6 0h1v1h-1zM0 1h2v1h-2zM9 1h1v1h-1zM11 1h1v1h-1zM0 4h1v1h-1zM13 5h1v1h-1zM3 6h2v1h-2zM6 6h1v1h-1zM14 6h2v1h-2zM2 7h1v1h-1zM8 7h1v1h-1zM15 7h1v1h-1zM2 9h1v1h-1zM6 9h1v1h-1z"/>
<path fill="#241a14" d="M5 1h3v1h-3zM17 4h1v1h-1zM11 7h1v1h-1z"/>
<path fill="#494318" d="M9 0h1v1h-1zM17 0h1v1h-1zM16 1h2v1h-2zM16 2h1v1h-1zM9 4h1v1h-1zM1 6h1v1h-1zM17 6h1v1h-1zM3 9h2v1h-2z"/>
<path fill="#7b761e" d="M3 1h1v1h-1zM6 2h1v1h-1zM1 3h1v1h-1zM18 3h1v1h-1zM1 4h1v1h-1zM18 4h1v1h-1zM6 7h1v1h-1zM14 8h1v1h-1zM16 8h1v1h-1zM12 9h1v1h-1zM17 9h1v1h-1z"/>
<path fill="#aea923" d="M11 0h1v1h-1zM13 0h1v1h-1zM13 1h1v1h-1zM15 1h1v1h-1zM19 1h1v1h-1zM4 2h1v1h-1zM2 3h1v1h-1zM4 3h1v1h-1zM8 3h1v1h-1zM5 4h1v1h-1zM14 4h1v1h-1zM3 5h1v1h-1zM8 6h2v1h-2zM12 6h1v1h-1zM18 6h1v1h-1zM4 7h1v1h-1zM7 7h1v1h-1zM16 7h2v1h-2zM10 8h1v1h-1zM13 8h1v1h-1zM18 8h1v1h-1zM8 9h1v1h-1zM14 9h1v1h-1z"/>
<path fill="#d8d121" d="M0 0h1v1h-1zM4 0h2v1h-2zM8 0h1v1h-1zM12 0h1v1h-1zM14 0h1v1h-1zM12 1h1v1h-1zM18 1h1v1h-1zM0 2h2v1h-2zM3 2h1v1h-1zM8 2h1v1h-1zM10 2h1v1h-1zM12 2h2v1h-2zM15 2h1v1h-1zM18 2h2v1h-2zM0 3h1v1h-1zM3 3h1v1h-1zM9 3h2v1h-2zM12 3h1v1h-1zM0 5h1v1h-1zM4 5h1v1h-1zM8 5h2v1h-2zM11 5h1v1h-1zM15 5h2v1h-2zM5 6h1v1h-1zM13 6h1v1h-1zM16 6h1v1h-1zM19 7h1v1h-1zM0 8h1v1h-1zM3 8h6v1h-6zM17 8h1v1h-1zM19 9h1v1h-1z"/>
<path fill="#f2eb22" d="M1 0h1v1h-1zM3 0h1v1h-1zM10 0h1v1h-1zM15 0h2v1h-2zM18 0h2v1h-2zM8 1h1v1h-1zM10 1h1v1h-1zM2 2h1v1h-1zM7 2h1v1h-1zM11 2h1v1h-1zM14 2h1v1h-1zM17 2h1v1h-1zM6 3h2v1h-2zM13 3h4v1h-4zM19 3h1v1h-1zM6 4h1v1h-1zM10 4h2v1h-2zM1 5h1v1h-1zM7 5h1v1h-1zM10 5h1v1h-1zM12 5h1v1h-1zM17 5h3v1h-3zM10 7h1v1h-1zM12 7h3v1h-3zM11 8h1v1h-1zM15 8h1v1h-1zM19 8h1v1h-1zM5 9h1v1h-1z"/>
<path fill="#f8f228" d="M2 0h1v1h-1zM7 0h1v1h-1zM14 1h1v1h-1zM5 2h1v1h-1zM9 2h1v1h-1zM5 3h1v1h-1zM11 3h1v1h-1zM17 3h1v1h-1zM2 4h1v1h-1zM19 4h1v1h-1zM2 5h1v1h-1zM5 5h2v1h-2zM10 6h2v1h-2zM1 8h2v1h-2zM9 8h1v1h-1zM12 8h1v1h-1z"/>
</g>
<g transform="translate(74.65,386.50) scale(1.4225,7.6300)" shape-rendering="crispEdges">
<path fill="#a642a5" d="M18 0h1v1h-1zM7 8h1v1h-1zM9 8h1v1h-1zM18 8h1v1h-1z"/>
<path fill="#862a8b" d="M0 0h1v1h-1zM2 0h2v1h-2zM5 0h10v1h-10zM16 0h2v1h-2zM19 0h1v1h-1zM8 4h1v1h-1zM0 8h1v1h-1zM4 8h3v1h-3zM10 8h3v1h-3zM14 8h4v1h-4z"/>
<path fill="#6c1e73" d="M4 0h1v1h-1zM15 0h1v1h-1zM15 2h1v1h-1zM19 2h1v1h-1zM5 4h1v1h-1zM13 4h1v1h-1zM18 4h2v1h-2zM17 5h1v1h-1zM7 6h1v1h-1zM18 6h1v1h-1zM1 8h1v1h-1zM3 8h1v1h-1zM8 8h1v1h-1zM13 8h1v1h-1z"/>
<path fill="#501457" d="M13 1h1v1h-1zM16 1h1v1h-1zM0 2h1v1h-1zM2 2h12v1h-12zM16 2h1v1h-1zM12 3h1v1h-1zM16 3h1v1h-1zM2 4h1v1h-1zM6 4h2v1h-2zM9 4h2v1h-2zM12 4h1v1h-1zM14 4h1v1h-1zM2 5h2v1h-2zM5 5h1v1h-1zM7 5h7v1h-7zM15 5h2v1h-2zM18 5h1v1h-1zM9 6h3v1h-3zM13 6h1v1h-1zM15 6h1v1h-1zM17 6h1v1h-1zM19 6h1v1h-1zM4 7h1v1h-1zM12 7h1v1h-1zM2 8h1v1h-1zM19 8h1v1h-1z"/>
<path fill="#330b37" d="M1 1h1v1h-1zM3 1h1v1h-1zM6 1h2v1h-2zM9 1h1v1h-1zM12 1h1v1h-1zM19 1h1v1h-1zM1 2h1v1h-1zM14 2h1v1h-1zM17 2h2v1h-2zM8 3h1v1h-1zM10 3h1v1h-1zM13 3h3v1h-3zM17 3h1v1h-1zM0 4h2v1h-2zM3 4h1v1h-1zM17 4h1v1h-1zM0 5h2v1h-2zM4 5h1v1h-1zM6 5h1v1h-1zM14 5h1v1h-1zM19 5h1v1h-1zM0 6h2v1h-2zM4 6h3v1h-3zM8 6h1v1h-1zM12 6h1v1h-1zM14 6h1v1h-1zM16 6h1v1h-1zM2 7h1v1h-1zM11 7h1v1h-1zM15 7h1v1h-1zM17 7h2v1h-2zM3 9h3v1h-3zM7 9h1v1h-1zM9 9h2v1h-2zM17 9h1v1h-1z"/>
<path fill="#1d071e" d="M0 1h1v1h-1zM4 1h2v1h-2zM8 1h1v1h-1zM10 1h2v1h-2zM14 1h2v1h-2zM17 1h2v1h-2zM0 3h1v1h-1zM3 3h2v1h-2zM7 3h1v1h-1zM9 3h1v1h-1zM11 3h1v1h-1zM18 3h1v1h-1zM4 4h1v1h-1zM15 4h1v1h-1zM2 6h2v1h-2zM0 7h1v1h-1zM3 7h1v1h-1zM6 7h2v1h-2zM10 7h1v1h-1zM14 7h1v1h-1zM16 7h1v1h-1zM19 7h1v1h-1zM2 9h1v1h-1zM6 9h1v1h-1zM8 9h1v1h-1zM11 9h4v1h-4zM19 9h1v1h-1z"/>
<path fill="#241a14" d="M2 1h1v1h-1zM2 3h1v1h-1zM6 3h1v1h-1zM19 3h1v1h-1zM1 7h1v1h-1zM5 7h1v1h-1zM8 7h1v1h-1zM1 9h1v1h-1zM15 9h1v1h-1z"/>
<path fill="#7b761e" d="M5 3h1v1h-1zM16 4h1v1h-1zM18 9h1v1h-1z"/>
<path fill="#aea923" d="M9 7h1v1h-1zM16 9h1v1h-1z"/>
<path fill="#d8d121" d="M1 3h1v1h-1zM0 9h1v1h-1z"/>
<path fill="#f2eb22" d="M11 4h1v1h-1zM13 7h1v1h-1z"/>
<path fill="#f8f228" d="M1 0h1v1h-1z"/>
</g>
<g transform="translate(103.10,386.50) scale(1.4250,7.6300)" shape-rendering="crispEdges">
<path fill="#c65abe" d="M5 0h1v1h-1zM0 8h1v1h-1z"/>
<path fill="#a642a5" d="M3 0h1v1h-1zM7 0h1v1h-1zM15 0h1v1h-1zM6 5h1v1h-1zM3 8h1v1h-1zM10 8h2v1h-2zM18 8h2v1h-2z"/>
<path fill="#862a8b" d="M0 0h1v1h-1zM2 0h1v1h-1zM4 0h1v1h-1zM6 0h1v1h-1zM8 0h5v1h-5zM14 0h1v1h-1zM16 0h4v1h-4zM1 3h1v1h-1zM3 3h1v1h-1zM8 3h1v1h-1zM17 3h1v1h-1zM0 4h2v1h-2zM0 5h2v1h-2zM5 5h1v1h-1zM7 5h1v1h-1zM5 7h1v1h-1zM2 8h1v1h-1zM4 8h2v1h-2zM7 8h1v1h-1zM9 8h1v1h-1zM12 8h2v1h-2zM15 8h3v1h-3z"/>
<path fill="#6c1e73" d="M1 0h1v1h-1zM0 2h1v1h-1zM5 2h1v1h-1zM14 2h1v1h-1zM0 3h1v1h-1zM4 3h1v1h-1zM6 3h2v1h-2zM9 3h1v1h-1zM11 3h3v1h-3zM15 3h2v1h-2zM18 3h1v1h-1zM2 4h1v1h-1zM5 4h1v1h-1zM9 4h2v1h-2zM14 4h2v1h-2zM18 4h1v1h-1zM2 5h1v1h-1zM4 5h1v1h-1zM9 5h2v1h-2zM12 5h4v1h-4zM17 5h1v1h-1zM19 5h1v1h-1zM6 6h1v1h-1zM10 6h1v1h-1zM12 6h3v1h-3zM0 7h1v1h-1zM6 7h1v1h-1zM1 8h1v1h-1zM8 8h1v1h-1zM14 8h1v1h-1z"/>
<path fill="#501457" d="M0 1h1v1h-1zM2 2h3v1h-3zM6 2h4v1h-4zM13 2h1v1h-1zM15 2h1v1h-1zM18 2h2v1h-2zM2 3h1v1h-1zM5 3h1v1h-1zM10 3h1v1h-1zM14 3h1v1h-1zM19 3h1v1h-1zM7 4h1v1h-1zM8 5h1v1h-1zM11 5h1v1h-1zM16 5h1v1h-1zM18 5h1v1h-1zM2 6h1v1h-1zM5 6h1v1h-1zM9 6h1v1h-1zM19 6h1v1h-1zM1 7h1v1h-1zM3 7h2v1h-2zM7 7h2v1h-2zM10 7h1v1h-1zM12 7h1v1h-1zM14 7h1v1h-1zM17 7h3v1h-3zM5 9h1v1h-1zM13 9h1v1h-1zM15 9h1v1h-1z"/>
<path fill="#330b37" d="M1 1h1v1h-1zM6 1h2v1h-2zM9 1h1v1h-1zM11 1h1v1h-1zM16 1h2v1h-2zM19 1h1v1h-1zM1 2h1v1h-1zM10 2h2v1h-2zM16 2h1v1h-1zM4 4h1v1h-1zM12 4h1v1h-1zM17 4h1v1h-1zM0 6h2v1h-2zM3 6h2v1h-2zM7 6h2v1h-2zM15 6h1v1h-1zM2 7h1v1h-1zM9 7h1v1h-1zM11 7h1v1h-1zM13 7h1v1h-1zM15 7h2v1h-2zM6 9h1v1h-1zM8 9h2v1h-2zM17 9h1v1h-1z"/>
<path fill="#1d071e" d="M2 1h2v1h-2zM5 1h1v1h-1zM8 1h1v1h-1zM10 1h1v1h-1zM13 1h3v1h-3zM18 1h1v1h-1zM17 2h1v1h-1zM19 4h1v1h-1zM11 6h1v1h-1zM17 6h1v1h-1zM0 9h5v1h-5zM7 9h1v1h-1zM12 9h1v1h-1zM16 9h1v1h-1zM19 9h1v1h-1z"/>
<path fill="#241a14" d="M12 1h1v1h-1zM18 6h1v1h-1zM11 9h1v1h-1z"/>
<path fill="#494318" d="M13 0h1v1h-1zM3 4h1v1h-1zM11 4h1v1h-1z"/>
<path fill="#7b761e" d="M4 1h1v1h-1zM12 2h1v1h-1z"/>
<path fill="#aea923" d="M6 4h1v1h-1zM3 5h1v1h-1zM16 6h1v1h-1zM6 8h1v1h-1zM10 9h1v1h-1z"/>
<path fill="#d8d121" d="M13 4h1v1h-1zM14 9h1v1h-1zM18 9h1v1h-1z"/>
<path fill="#f2eb22" d="M8 4h1v1h-1zM16 4h1v1h-1z"/>
</g>
<g transform="translate(133.10,386.50) scale(1.4100,7.6300)" shape-rendering="crispEdges">
<path fill="#862a8b" d="M19 6h1v1h-1zM18 7h1v1h-1z"/>
<path fill="#6c1e73" d="M14 1h1v1h-1zM16 1h1v1h-1zM15 4h1v1h-1zM2 6h1v1h-1zM11 6h1v1h-1zM13 7h1v1h-1zM3 9h1v1h-1zM9 9h1v1h-1zM11 9h2v1h-2zM16 9h1v1h-1zM18 9h1v1h-1z"/>
<path fill="#501457" d="M10 1h1v1h-1zM18 1h1v1h-1zM8 4h1v1h-1zM10 4h1v1h-1zM18 4h1v1h-1zM10 6h1v1h-1zM9 7h1v1h-1zM12 7h1v1h-1zM14 7h1v1h-1zM19 7h1v1h-1zM4 9h2v1h-2zM10 9h1v1h-1zM15 9h1v1h-1z"/>
<path fill="#330b37" d="M14 2h1v1h-1zM19 3h1v1h-1zM2 4h1v1h-1zM11 4h1v1h-1zM19 4h1v1h-1zM1 5h1v1h-1zM6 6h1v1h-1zM12 6h1v1h-1zM14 8h1v1h-1zM8 9h1v1h-1zM14 9h1v1h-1zM17 9h1v1h-1z"/>
<path fill="#1d071e" d="M2 1h1v1h-1zM5 1h1v1h-1zM8 1h1v1h-1zM3 2h1v1h-1zM13 4h1v1h-1zM17 4h1v1h-1zM15 6h1v1h-1zM5 7h2v1h-2zM8 7h1v1h-1zM10 8h1v1h-1zM0 9h1v1h-1zM7 9h1v1h-1zM13 9h1v1h-1z"/>
<path fill="#241a14" d="M1 4h1v1h-1zM6 4h1v1h-1zM7 5h1v1h-1zM11 5h1v1h-1zM4 7h1v1h-1zM7 7h1v1h-1zM15 7h1v1h-1z"/>
<path fill="#494318" d="M17 1h1v1h-1zM5 4h1v1h-1zM19 5h1v1h-1zM3 6h1v1h-1zM13 6h2v1h-2zM18 6h1v1h-1z"/>
<path fill="#7b761e" d="M13 0h1v1h-1zM0 1h1v1h-1zM6 1h1v1h-1zM11 1h2v1h-2zM4 2h1v1h-1zM10 3h1v1h-1zM5 6h1v1h-1zM9 6h1v1h-1zM17 6h1v1h-1zM2 7h1v1h-1zM1 9h1v1h-1z"/>
<path fill="#aea923" d="M2 0h1v1h-1zM4 0h1v1h-1zM4 1h1v1h-1zM19 1h1v1h-1zM2 2h1v1h-1zM10 2h1v1h-1zM12 2h2v1h-2zM2 3h1v1h-1zM7 3h1v1h-1zM0 4h1v1h-1zM3 4h1v1h-1zM9 4h1v1h-1zM2 5h1v1h-1zM14 5h1v1h-1zM1 7h1v1h-1zM1 8h2v1h-2zM18 8h1v1h-1zM19 9h1v1h-1z"/>
<path fill="#d8d121" d="M8 0h1v1h-1zM11 0h1v1h-1zM17 0h1v1h-1zM19 0h1v1h-1zM1 1h1v1h-1zM3 1h1v1h-1zM7 1h1v1h-1zM9 1h1v1h-1zM13 1h1v1h-1zM7 2h2v1h-2zM17 2h1v1h-1zM1 3h1v1h-1zM3 3h1v1h-1zM6 3h1v1h-1zM8 3h2v1h-2zM11 3h1v1h-1zM17 3h1v1h-1zM4 4h1v1h-1zM7 4h1v1h-1zM12 4h1v1h-1zM14 4h1v1h-1zM4 5h1v1h-1zM10 5h1v1h-1zM18 5h1v1h-1zM0 6h1v1h-1zM4 6h1v1h-1zM0 7h1v1h-1zM3 7h1v1h-1zM11 7h1v1h-1zM16 7h1v1h-1zM4 8h1v1h-1zM9 8h1v1h-1zM13 8h1v1h-1zM2 9h1v1h-1zM6 9h1v1h-1z"/>
<path fill="#f2eb22" d="M5 0h2v1h-2zM9 0h2v1h-2zM14 0h1v1h-1zM16 0h1v1h-1zM18 0h1v1h-1zM6 2h1v1h-1zM9 2h1v1h-1zM11 2h1v1h-1zM15 2h2v1h-2zM18 2h2v1h-2zM4 3h2v1h-2zM13 3h2v1h-2zM16 4h1v1h-1zM0 5h1v1h-1zM3 5h1v1h-1zM5 5h1v1h-1zM8 5h2v1h-2zM12 5h1v1h-1zM7 6h2v1h-2zM16 6h1v1h-1zM10 7h1v1h-1zM0 8h1v1h-1zM5 8h1v1h-1zM8 8h1v1h-1zM11 8h1v1h-1zM17 8h1v1h-1zM19 8h1v1h-1z"/>
<path fill="#f8f228" d="M0 0h2v1h-2zM3 0h1v1h-1zM7 0h1v1h-1zM12 0h1v1h-1zM15 0h1v1h-1zM15 1h1v1h-1zM0 2h2v1h-2zM5 2h1v1h-1zM0 3h1v1h-1zM12 3h1v1h-1zM15 3h2v1h-2zM18 3h1v1h-1zM6 5h1v1h-1zM13 5h1v1h-1zM15 5h3v1h-3zM1 6h1v1h-1zM17 7h1v1h-1zM3 8h1v1h-1zM6 8h2v1h-2zM12 8h1v1h-1zM15 8h2v1h-2z"/>
</g>
<g transform="translate(161.30,386.50) scale(1.4000,7.6300)" shape-rendering="crispEdges">
<path fill="#c65abe" d="M10 0h1v1h-1zM17 0h1v1h-1z"/>
<path fill="#a642a5" d="M5 0h2v1h-2zM8 0h2v1h-2zM13 0h1v1h-1zM16 0h1v1h-1zM1 8h2v1h-2zM7 8h1v1h-1zM13 8h1v1h-1zM17 8h1v1h-1z"/>
<path fill="#862a8b" d="M0 0h1v1h-1zM2 0h3v1h-3zM7 0h1v1h-1zM15 0h1v1h-1zM0 8h1v1h-1zM4 8h1v1h-1zM10 8h1v1h-1zM15 8h1v1h-1zM18 8h2v1h-2z"/>
<path fill="#6c1e73" d="M1 0h1v1h-1zM11 0h2v1h-2zM14 0h1v1h-1zM18 0h2v1h-2zM3 2h1v1h-1zM12 2h1v1h-1zM16 2h3v1h-3zM2 4h1v1h-1zM17 4h2v1h-2zM8 5h1v1h-1zM11 5h1v1h-1zM18 5h1v1h-1zM14 6h1v1h-1zM3 8h1v1h-1zM5 8h2v1h-2zM8 8h2v1h-2zM11 8h1v1h-1zM14 8h1v1h-1zM16 8h1v1h-1z"/>
<path fill="#501457" d="M1 2h2v1h-2zM5 2h1v1h-1zM7 2h3v1h-3zM11 2h1v1h-1zM13 2h2v1h-2zM0 4h1v1h-1zM4 4h1v1h-1zM8 4h2v1h-2zM13 4h1v1h-1zM19 4h1v1h-1zM1 5h4v1h-4zM7 5h1v1h-1zM10 5h1v1h-1zM13 5h2v1h-2zM17 5h1v1h-1zM19 5h1v1h-1zM0 6h1v1h-1zM2 6h3v1h-3zM9 6h2v1h-2zM13 6h1v1h-1zM15 6h1v1h-1zM18 6h1v1h-1zM7 7h1v1h-1zM13 7h1v1h-1zM13 9h1v1h-1zM18 9h1v1h-1z"/>
<path fill="#330b37" d="M1 1h2v1h-2zM6 1h1v1h-1zM8 1h1v1h-1zM10 1h1v1h-1zM13 1h1v1h-1zM15 1h2v1h-2zM18 1h1v1h-1zM0 2h1v1h-1zM4 2h1v1h-1zM6 2h1v1h-1zM10 2h1v1h-1zM15 2h1v1h-1zM1 3h2v1h-2zM4 3h1v1h-1zM7 3h1v1h-1zM13 3h1v1h-1zM16 3h1v1h-1zM3 4h1v1h-1zM5 4h3v1h-3zM10 4h1v1h-1zM12 4h1v1h-1zM14 4h3v1h-3zM5 5h2v1h-2zM12 5h1v1h-1zM15 5h2v1h-2zM5 6h2v1h-2zM8 6h1v1h-1zM11 6h2v1h-2zM17 6h1v1h-1zM2 7h1v1h-1zM4 7h1v1h-1zM8 7h1v1h-1zM11 7h1v1h-1zM1 9h1v1h-1zM3 9h1v1h-1zM9 9h3v1h-3zM14 9h1v1h-1zM17 9h1v1h-1z"/>
<path fill="#1d071e" d="M0 1h1v1h-1zM3 1h3v1h-3zM12 1h1v1h-1zM14 1h1v1h-1zM17 1h1v1h-1zM19 2h1v1h-1zM0 3h1v1h-1zM3 3h1v1h-1zM5 3h1v1h-1zM8 3h4v1h-4zM14 3h2v1h-2zM18 3h2v1h-2zM1 4h1v1h-1zM11 4h1v1h-1zM0 5h1v1h-1zM0 7h1v1h-1zM3 7h1v1h-1zM5 7h1v1h-1zM10 7h1v1h-1zM12 7h1v1h-1zM15 7h3v1h-3zM19 7h1v1h-1zM0 9h1v1h-1zM2 9h1v1h-1zM5 9h4v1h-4zM12 9h1v1h-1zM15 9h2v1h-2z"/>
<path fill="#241a14" d="M7 1h1v1h-1zM11 1h1v1h-1zM19 1h1v1h-1zM6 3h1v1h-1zM17 3h1v1h-1zM7 6h1v1h-1zM1 7h1v1h-1zM9 7h1v1h-1zM14 7h1v1h-1zM4 9h1v1h-1zM19 9h1v1h-1z"/>
<path fill="#494318" d="M9 1h1v1h-1zM18 7h1v1h-1z"/>
<path fill="#7b761e" d="M16 6h1v1h-1zM19 6h1v1h-1z"/>
<path fill="#aea923" d="M12 8h1v1h-1z"/>
<path fill="#d8d121" d="M12 3h1v1h-1zM9 5h1v1h-1zM6 7h1v1h-1z"/>
<path fill="#f8f228" d="M1 6h1v1h-1z"/>
</g>
<g transform="translate(189.30,386.50) scale(1.4250,7.6300)" shape-rendering="crispEdges">
<path fill="#c65abe" d="M9 0h1v1h-1z"/>
<path fill="#a642a5" d="M2 0h1v1h-1zM6 0h2v1h-2zM19 0h1v1h-1zM1 8h2v1h-2zM4 8h1v1h-1zM11 8h1v1h-1zM19 8h1v1h-1z"/>
<path fill="#862a8b" d="M0 0h2v1h-2zM3 0h2v1h-2zM8 0h1v1h-1zM12 0h1v1h-1zM14 0h1v1h-1zM17 0h2v1h-2zM1 3h3v1h-3zM5 3h1v1h-1zM7 3h1v1h-1zM16 3h2v1h-2zM0 5h1v1h-1zM3 5h1v1h-1zM8 5h1v1h-1zM14 5h1v1h-1zM17 5h1v1h-1zM19 5h1v1h-1zM17 7h1v1h-1zM0 8h1v1h-1zM5 8h1v1h-1zM7 8h1v1h-1zM9 8h2v1h-2zM12 8h2v1h-2zM15 8h1v1h-1zM17 8h2v1h-2z"/>
<path fill="#6c1e73" d="M5 0h1v1h-1zM10 0h2v1h-2zM16 0h1v1h-1zM6 2h1v1h-1zM12 2h1v1h-1zM4 3h1v1h-1zM6 3h1v1h-1zM8 3h4v1h-4zM13 3h1v1h-1zM19 3h1v1h-1zM2 4h3v1h-3zM11 4h1v1h-1zM1 5h2v1h-2zM4 5h4v1h-4zM9 5h3v1h-3zM15 5h1v1h-1zM18 5h1v1h-1zM5 6h1v1h-1zM11 6h1v1h-1zM13 6h1v1h-1zM15 6h1v1h-1zM3 7h1v1h-1zM9 7h1v1h-1zM13 7h1v1h-1zM18 7h1v1h-1zM6 8h1v1h-1zM8 8h1v1h-1zM14 8h1v1h-1zM16 8h1v1h-1z"/>
<path fill="#501457" d="M15 0h1v1h-1zM18 1h1v1h-1zM0 2h2v1h-2zM3 2h1v1h-1zM7 2h2v1h-2zM14 2h3v1h-3zM18 2h2v1h-2zM0 3h1v1h-1zM12 3h1v1h-1zM14 3h1v1h-1zM18 3h1v1h-1zM5 4h1v1h-1zM8 4h2v1h-2zM14 4h2v1h-2zM18 4h1v1h-1zM13 5h1v1h-1zM16 5h1v1h-1zM2 6h3v1h-3zM8 6h1v1h-1zM10 6h1v1h-1zM16 6h2v1h-2zM19 6h1v1h-1zM0 7h3v1h-3zM4 7h3v1h-3zM8 7h1v1h-1zM15 7h2v1h-2zM19 7h1v1h-1zM3 8h1v1h-1zM1 9h1v1h-1z"/>
<path fill="#330b37" d="M0 1h1v1h-1zM2 1h2v1h-2zM5 1h2v1h-2zM8 1h2v1h-2zM11 1h2v1h-2zM14 1h1v1h-1zM19 1h1v1h-1zM2 2h1v1h-1zM4 2h2v1h-2zM9 2h3v1h-3zM13 2h1v1h-1zM17 2h1v1h-1zM0 4h2v1h-2zM6 4h2v1h-2zM13 4h1v1h-1zM17 4h1v1h-1zM1 6h1v1h-1zM7 6h1v1h-1zM7 7h1v1h-1zM11 7h2v1h-2zM14 7h1v1h-1zM5 9h2v1h-2zM11 9h1v1h-1zM14 9h1v1h-1zM17 9h2v1h-2z"/>
<path fill="#1d071e" d="M1 1h1v1h-1zM4 1h1v1h-1zM7 1h1v1h-1zM13 1h1v1h-1zM15 1h1v1h-1zM17 1h1v1h-1zM19 4h1v1h-1zM2 9h2v1h-2zM9 9h2v1h-2zM13 9h1v1h-1zM16 9h1v1h-1zM19 9h1v1h-1z"/>
<path fill="#241a14" d="M10 1h1v1h-1zM16 1h1v1h-1zM12 4h1v1h-1zM0 9h1v1h-1zM7 9h2v1h-2zM12 9h1v1h-1zM15 9h1v1h-1z"/>
<path fill="#494318" d="M12 6h1v1h-1z"/>
<path fill="#7b761e" d="M12 5h1v1h-1z"/>
<path fill="#aea923" d="M13 0h1v1h-1zM10 4h1v1h-1zM14 6h1v1h-1zM18 6h1v1h-1zM10 7h1v1h-1z"/>
<path fill="#d8d121" d="M0 6h1v1h-1z"/>
<path fill="#f2eb22" d="M15 3h1v1h-1zM6 6h1v1h-1zM9 6h1v1h-1z"/>
<path fill="#f8f228" d="M16 4h1v1h-1zM4 9h1v1h-1z"/>
</g>
<g transform="translate(219.30,386.50) scale(1.4150,7.6300)" shape-rendering="crispEdges">
<path fill="#a642a5" d="M19 1h1v1h-1z"/>
<path fill="#862a8b" d="M15 1h1v1h-1zM18 4h1v1h-1zM16 9h1v1h-1z"/>
<path fill="#6c1e73" d="M7 1h1v1h-1zM18 6h1v1h-1zM10 7h1v1h-1zM3 9h2v1h-2zM9 9h1v1h-1z"/>
<path fill="#501457" d="M17 1h1v1h-1zM14 2h1v1h-1zM0 4h1v1h-1zM12 4h1v1h-1zM4 6h1v1h-1zM15 6h1v1h-1zM0 9h1v1h-1zM5 9h1v1h-1zM17 9h1v1h-1zM19 9h1v1h-1z"/>
<path fill="#330b37" d="M5 6h1v1h-1zM4 7h1v1h-1zM6 7h1v1h-1zM0 8h1v1h-1zM1 9h1v1h-1zM6 9h1v1h-1zM11 9h1v1h-1zM13 9h1v1h-1z"/>
<path fill="#1d071e" d="M9 0h1v1h-1zM17 2h1v1h-1zM10 4h1v1h-1zM15 4h1v1h-1zM12 6h1v1h-1zM5 7h1v1h-1zM2 9h1v1h-1zM12 9h1v1h-1z"/>
<path fill="#241a14" d="M5 1h1v1h-1zM19 2h1v1h-1zM11 4h1v1h-1zM10 6h1v1h-1zM16 6h1v1h-1zM19 6h1v1h-1zM3 7h1v1h-1z"/>
<path fill="#494318" d="M3 0h1v1h-1zM8 0h1v1h-1zM0 1h1v1h-1zM18 1h1v1h-1zM2 6h1v1h-1zM17 6h1v1h-1zM2 7h1v1h-1zM9 7h1v1h-1zM12 7h1v1h-1zM16 8h1v1h-1zM18 9h1v1h-1z"/>
<path fill="#7b761e" d="M2 0h1v1h-1zM8 1h1v1h-1zM10 1h2v1h-2zM11 3h1v1h-1zM2 4h1v1h-1zM14 4h1v1h-1zM19 4h1v1h-1zM2 5h1v1h-1zM0 6h1v1h-1zM6 6h1v1h-1zM14 6h1v1h-1zM18 7h2v1h-2z"/>
<path fill="#aea923" d="M0 0h1v1h-1zM1 1h3v1h-3zM6 1h1v1h-1zM9 1h1v1h-1zM12 1h1v1h-1zM14 1h1v1h-1zM13 2h1v1h-1zM5 3h2v1h-2zM3 4h2v1h-2zM7 4h2v1h-2zM5 5h1v1h-1zM12 5h1v1h-1zM18 5h1v1h-1zM0 7h1v1h-1zM7 7h1v1h-1zM11 7h1v1h-1zM14 7h1v1h-1zM2 8h1v1h-1zM8 8h1v1h-1zM11 8h1v1h-1zM18 8h1v1h-1zM7 9h2v1h-2z"/>
<path fill="#d8d121" d="M4 0h1v1h-1zM7 0h1v1h-1zM10 0h2v1h-2zM13 0h1v1h-1zM18 0h2v1h-2zM4 1h1v1h-1zM0 2h1v1h-1zM2 2h1v1h-1zM7 2h1v1h-1zM9 2h2v1h-2zM12 2h1v1h-1zM18 2h1v1h-1zM2 3h1v1h-1zM4 3h1v1h-1zM8 3h3v1h-3zM12 3h1v1h-1zM14 3h2v1h-2zM18 3h1v1h-1zM5 4h2v1h-2zM9 4h1v1h-1zM0 5h2v1h-2zM6 5h1v1h-1zM8 5h1v1h-1zM10 5h2v1h-2zM15 5h1v1h-1zM1 6h1v1h-1zM3 6h1v1h-1zM7 6h2v1h-2zM11 6h1v1h-1zM13 6h1v1h-1zM1 7h1v1h-1zM13 7h1v1h-1zM15 7h1v1h-1zM17 7h1v1h-1zM1 8h1v1h-1zM4 8h1v1h-1zM6 8h1v1h-1zM9 8h2v1h-2zM14 8h2v1h-2zM10 9h1v1h-1zM15 9h1v1h-1z"/>
<path fill="#f2eb22" d="M1 0h1v1h-1zM5 0h2v1h-2zM12 0h1v1h-1zM14 0h2v1h-2zM17 0h1v1h-1zM13 1h1v1h-1zM1 2h1v1h-1zM4 2h3v1h-3zM15 2h2v1h-2zM0 3h2v1h-2zM3 3h1v1h-1zM7 3h1v1h-1zM13 3h1v1h-1zM17 3h1v1h-1zM19 3h1v1h-1zM1 4h1v1h-1zM13 4h1v1h-1zM17 4h1v1h-1zM4 5h1v1h-1zM9 5h1v1h-1zM13 5h2v1h-2zM16 5h1v1h-1zM9 6h1v1h-1zM8 7h1v1h-1zM3 8h1v1h-1zM5 8h1v1h-1zM12 8h2v1h-2zM17 8h1v1h-1zM19 8h1v1h-1zM14 9h1v1h-1z"/>
<path fill="#f8f228" d="M16 0h1v1h-1zM16 1h1v1h-1zM3 2h1v1h-1zM8 2h1v1h-1zM11 2h1v1h-1zM16 3h1v1h-1zM16 4h1v1h-1zM3 5h1v1h-1zM7 5h1v1h-1zM17 5h1v1h-1zM19 5h1v1h-1zM16 7h1v1h-1zM7 8h1v1h-1z"/>
</g>
<g transform="translate(247.60,386.50) scale(1.4200,7.6300)" shape-rendering="crispEdges">
<path fill="#c65abe" d="M12 8h1v1h-1zM17 8h1v1h-1z"/>
<path fill="#a642a5" d="M7 0h1v1h-1zM10 0h2v1h-2zM17 0h1v1h-1zM0 8h2v1h-2zM5 8h1v1h-1zM10 8h1v1h-1zM16 8h1v1h-1z"/>
<path fill="#862a8b" d="M0 0h1v1h-1zM2 0h1v1h-1zM8 0h2v1h-2zM12 0h3v1h-3zM16 0h1v1h-1zM18 0h2v1h-2zM2 8h2v1h-2zM7 8h3v1h-3zM13 8h3v1h-3zM19 8h1v1h-1z"/>
<path fill="#6c1e73" d="M1 0h1v1h-1zM3 0h4v1h-4zM15 0h1v1h-1zM3 2h1v1h-1zM5 2h1v1h-1zM8 2h1v1h-1zM15 2h1v1h-1zM17 2h1v1h-1zM5 4h1v1h-1zM8 4h1v1h-1zM10 4h1v1h-1zM15 4h2v1h-2zM10 5h1v1h-1zM16 5h2v1h-2zM7 6h1v1h-1zM4 8h1v1h-1zM6 8h1v1h-1zM11 8h1v1h-1z"/>
<path fill="#501457" d="M0 2h1v1h-1zM6 2h1v1h-1zM9 2h2v1h-2zM12 2h2v1h-2zM18 2h1v1h-1zM12 3h1v1h-1zM0 4h2v1h-2zM3 4h2v1h-2zM7 4h1v1h-1zM13 4h2v1h-2zM17 4h2v1h-2zM0 5h2v1h-2zM3 5h4v1h-4zM9 5h1v1h-1zM12 5h1v1h-1zM15 5h1v1h-1zM0 6h7v1h-7zM9 6h2v1h-2zM14 6h5v1h-5zM0 7h1v1h-1zM3 7h1v1h-1zM16 7h1v1h-1zM18 8h1v1h-1zM14 9h1v1h-1zM17 9h1v1h-1z"/>
<path fill="#330b37" d="M0 1h2v1h-2zM5 1h2v1h-2zM8 1h1v1h-1zM12 1h2v1h-2zM16 1h3v1h-3zM4 2h1v1h-1zM7 2h1v1h-1zM14 2h1v1h-1zM19 2h1v1h-1zM0 3h1v1h-1zM3 3h1v1h-1zM6 3h3v1h-3zM13 3h1v1h-1zM17 3h1v1h-1zM2 4h1v1h-1zM6 4h1v1h-1zM9 4h1v1h-1zM12 4h1v1h-1zM19 4h1v1h-1zM2 5h1v1h-1zM7 5h2v1h-2zM11 5h1v1h-1zM13 5h2v1h-2zM18 5h1v1h-1zM11 6h1v1h-1zM13 6h1v1h-1zM19 6h1v1h-1zM4 7h2v1h-2zM8 7h1v1h-1zM10 7h1v1h-1zM12 7h1v1h-1zM14 7h1v1h-1zM17 7h1v1h-1zM5 9h1v1h-1zM10 9h1v1h-1zM12 9h1v1h-1zM15 9h2v1h-2z"/>
<path fill="#1d071e" d="M2 1h3v1h-3zM7 1h1v1h-1zM9 1h2v1h-2zM15 1h1v1h-1zM19 1h1v1h-1zM2 2h1v1h-1zM5 3h1v1h-1zM9 3h3v1h-3zM14 3h1v1h-1zM19 3h1v1h-1zM12 6h1v1h-1zM1 7h1v1h-1zM6 7h2v1h-2zM11 7h1v1h-1zM13 7h1v1h-1zM15 7h1v1h-1zM18 7h1v1h-1zM1 9h1v1h-1zM3 9h1v1h-1zM6 9h2v1h-2zM9 9h1v1h-1zM11 9h1v1h-1zM13 9h1v1h-1zM19 9h1v1h-1z"/>
<path fill="#241a14" d="M14 1h1v1h-1zM2 3h1v1h-1zM4 3h1v1h-1zM15 3h2v1h-2zM9 7h1v1h-1zM19 7h1v1h-1zM2 9h1v1h-1zM8 9h1v1h-1zM18 9h1v1h-1z"/>
<path fill="#494318" d="M16 2h1v1h-1zM1 3h1v1h-1zM2 7h1v1h-1z"/>
<path fill="#7b761e" d="M11 1h1v1h-1zM18 3h1v1h-1zM11 4h1v1h-1z"/>
<path fill="#aea923" d="M1 2h1v1h-1zM19 5h1v1h-1zM8 6h1v1h-1zM0 9h1v1h-1z"/>
<path fill="#d8d121" d="M11 2h1v1h-1zM4 9h1v1h-1z"/>
</g>
<g transform="translate(276.00,386.50) scale(1.4000,7.6300)" shape-rendering="crispEdges">
<path fill="#a642a5" d="M6 0h2v1h-2zM14 0h1v1h-1zM16 0h1v1h-1zM18 0h2v1h-2zM0 4h1v1h-1zM1 8h2v1h-2zM5 8h4v1h-4zM16 8h1v1h-1zM18 8h2v1h-2z"/>
<path fill="#862a8b" d="M0 0h1v1h-1zM3 0h3v1h-3zM9 0h5v1h-5zM15 0h1v1h-1zM17 0h1v1h-1zM5 3h1v1h-1zM12 3h1v1h-1zM16 3h2v1h-2zM19 3h1v1h-1zM1 4h1v1h-1zM2 5h1v1h-1zM4 5h1v1h-1zM12 5h1v1h-1zM14 5h1v1h-1zM17 5h1v1h-1zM19 5h1v1h-1zM5 6h1v1h-1zM13 6h1v1h-1zM0 8h1v1h-1zM3 8h2v1h-2zM10 8h2v1h-2zM13 8h3v1h-3zM17 8h1v1h-1z"/>
<path fill="#6c1e73" d="M1 0h2v1h-2zM8 0h1v1h-1zM11 2h1v1h-1zM13 2h1v1h-1zM19 2h1v1h-1zM0 3h3v1h-3zM4 3h1v1h-1zM7 3h2v1h-2zM13 3h2v1h-2zM2 4h1v1h-1zM6 4h1v1h-1zM14 4h1v1h-1zM1 5h1v1h-1zM3 5h1v1h-1zM7 5h1v1h-1zM15 5h2v1h-2zM18 5h1v1h-1zM0 6h1v1h-1zM2 6h1v1h-1zM4 6h1v1h-1zM6 6h1v1h-1zM17 6h1v1h-1zM1 7h1v1h-1zM8 7h1v1h-1zM14 7h1v1h-1zM17 7h2v1h-2zM9 8h1v1h-1zM12 8h1v1h-1z"/>
<path fill="#501457" d="M2 1h1v1h-1zM14 1h1v1h-1zM0 2h3v1h-3zM4 2h1v1h-1zM12 2h1v1h-1zM14 2h1v1h-1zM16 2h3v1h-3zM6 3h1v1h-1zM9 3h3v1h-3zM15 3h1v1h-1zM4 4h2v1h-2zM8 4h2v1h-2zM11 4h1v1h-1zM17 4h1v1h-1zM19 4h1v1h-1zM0 5h1v1h-1zM5 5h2v1h-2zM8 5h4v1h-4zM13 5h1v1h-1zM1 6h1v1h-1zM3 6h1v1h-1zM8 6h2v1h-2zM11 6h2v1h-2zM19 6h1v1h-1zM4 7h4v1h-4zM11 7h1v1h-1zM13 7h1v1h-1zM19 7h1v1h-1zM7 9h1v1h-1zM12 9h1v1h-1zM14 9h2v1h-2zM18 9h1v1h-1z"/>
<path fill="#330b37" d="M3 1h1v1h-1zM7 1h1v1h-1zM9 1h1v1h-1zM11 1h1v1h-1zM13 1h1v1h-1zM17 1h1v1h-1zM3 2h1v1h-1zM6 2h1v1h-1zM8 2h2v1h-2zM15 2h1v1h-1zM3 3h1v1h-1zM12 4h2v1h-2zM15 4h2v1h-2zM7 6h1v1h-1zM15 6h1v1h-1zM18 6h1v1h-1zM0 7h1v1h-1zM3 7h1v1h-1zM9 7h2v1h-2zM12 7h1v1h-1zM15 7h1v1h-1zM4 9h2v1h-2zM9 9h3v1h-3zM17 9h1v1h-1z"/>
<path fill="#1d071e" d="M4 1h3v1h-3zM8 1h1v1h-1zM12 1h1v1h-1zM16 1h1v1h-1zM18 1h2v1h-2zM5 2h1v1h-1zM10 2h1v1h-1zM10 6h1v1h-1zM16 7h1v1h-1zM0 9h1v1h-1zM2 9h1v1h-1zM6 9h1v1h-1zM8 9h1v1h-1zM13 9h1v1h-1zM16 9h1v1h-1zM19 9h1v1h-1z"/>
<path fill="#241a14" d="M1 1h1v1h-1zM10 1h1v1h-1zM15 1h1v1h-1zM18 3h1v1h-1z"/>
<path fill="#494318" d="M18 4h1v1h-1z"/>
<path fill="#7b761e" d="M0 1h1v1h-1zM7 2h1v1h-1zM14 6h1v1h-1zM16 6h1v1h-1z"/>
<path fill="#aea923" d="M7 4h1v1h-1zM1 9h1v1h-1z"/>
<path fill="#d8d121" d="M10 4h1v1h-1z"/>
<path fill="#f2eb22" d="M3 4h1v1h-1zM2 7h1v1h-1zM3 9h1v1h-1z"/>
</g>
<g transform="translate(46.30,463.80) scale(1.4175,7.6000)" shape-rendering="crispEdges">
<path fill="#c65abe" d="M0 3h1v1h-1z"/>
<path fill="#a642a5" d="M4 3h1v1h-1zM14 3h1v1h-1zM18 3h1v1h-1zM2 9h1v1h-1zM5 9h1v1h-1z"/>
<path fill="#862a8b" d="M7 0h1v1h-1zM14 0h1v1h-1zM16 0h1v1h-1zM0 1h1v1h-1zM6 1h1v1h-1zM2 3h1v1h-1zM5 3h4v1h-4zM11 3h2v1h-2zM15 3h3v1h-3zM18 7h1v1h-1zM1 9h1v1h-1zM16 9h1v1h-1zM18 9h1v1h-1z"/>
<path fill="#6c1e73" d="M0 0h4v1h-4zM5 0h1v1h-1zM11 0h2v1h-2zM15 0h1v1h-1zM17 0h2v1h-2zM1 1h2v1h-2zM7 1h1v1h-1zM9 1h1v1h-1zM11 1h1v1h-1zM14 1h1v1h-1zM17 1h3v1h-3zM1 3h1v1h-1zM3 3h1v1h-1zM9 3h1v1h-1zM13 3h1v1h-1zM4 5h1v1h-1zM13 5h1v1h-1zM0 6h1v1h-1zM5 6h2v1h-2zM9 6h1v1h-1zM17 6h1v1h-1zM1 7h2v1h-2zM5 7h1v1h-1zM9 8h1v1h-1zM18 8h1v1h-1zM0 9h1v1h-1zM6 9h1v1h-1zM8 9h4v1h-4zM13 9h2v1h-2z"/>
<path fill="#501457" d="M4 0h1v1h-1zM8 0h1v1h-1zM10 0h1v1h-1zM3 1h2v1h-2zM8 1h1v1h-1zM10 1h1v1h-1zM12 1h2v1h-2zM15 1h2v1h-2zM10 3h1v1h-1zM19 3h1v1h-1zM0 5h3v1h-3zM5 5h1v1h-1zM7 5h1v1h-1zM10 5h1v1h-1zM12 5h1v1h-1zM15 5h1v1h-1zM17 5h1v1h-1zM1 6h4v1h-4zM7 6h2v1h-2zM12 6h1v1h-1zM18 6h1v1h-1zM4 7h1v1h-1zM6 7h2v1h-2zM9 7h2v1h-2zM12 7h1v1h-1zM14 7h3v1h-3zM19 7h1v1h-1zM0 8h1v1h-1zM3 8h3v1h-3zM7 8h1v1h-1zM10 8h1v1h-1zM12 8h1v1h-1zM14 8h1v1h-1zM17 8h1v1h-1zM19 8h1v1h-1zM4 9h1v1h-1zM7 9h1v1h-1zM12 9h1v1h-1zM15 9h1v1h-1zM19 9h1v1h-1z"/>
<path fill="#330b37" d="M6 0h1v1h-1zM9 0h1v1h-1zM13 0h1v1h-1zM2 2h1v1h-1zM4 2h2v1h-2zM7 2h1v1h-1zM9 2h1v1h-1zM15 2h1v1h-1zM18 2h1v1h-1zM1 4h2v1h-2zM6 4h1v1h-1zM14 4h1v1h-1zM6 5h1v1h-1zM9 5h1v1h-1zM14 5h1v1h-1zM16 5h1v1h-1zM18 5h2v1h-2zM10 6h2v1h-2zM13 6h4v1h-4zM19 6h1v1h-1zM0 7h1v1h-1zM3 7h1v1h-1zM8 7h1v1h-1zM11 7h1v1h-1zM17 7h1v1h-1zM1 8h1v1h-1zM8 8h1v1h-1zM13 8h1v1h-1zM16 8h1v1h-1zM3 9h1v1h-1zM17 9h1v1h-1z"/>
<path fill="#1d071e" d="M0 2h2v1h-2zM6 2h1v1h-1zM8 2h1v1h-1zM10 2h2v1h-2zM14 2h1v1h-1zM16 2h2v1h-2zM19 2h1v1h-1zM0 4h1v1h-1zM3 4h3v1h-3zM7 4h2v1h-2zM10 4h4v1h-4zM15 4h1v1h-1zM17 4h2v1h-2zM11 5h1v1h-1zM13 7h1v1h-1zM15 8h1v1h-1z"/>
<path fill="#241a14" d="M3 2h1v1h-1zM12 2h1v1h-1zM16 4h1v1h-1zM19 4h1v1h-1z"/>
<path fill="#aea923" d="M19 0h1v1h-1zM9 4h1v1h-1zM2 8h1v1h-1z"/>
<path fill="#d8d121" d="M5 1h1v1h-1zM13 2h1v1h-1zM8 5h1v1h-1z"/>
<path fill="#f2eb22" d="M3 5h1v1h-1zM6 8h1v1h-1zM11 8h1v1h-1z"/>
</g>
<g transform="translate(74.65,463.80) scale(1.4225,7.6000)" shape-rendering="crispEdges">
<path fill="#6c1e73" d="M3 2h1v1h-1zM8 2h1v1h-1zM17 2h1v1h-1zM11 3h1v1h-1zM18 5h1v1h-1zM9 6h1v1h-1zM7 7h2v1h-2z"/>
<path fill="#501457" d="M8 1h1v1h-1zM5 2h1v1h-1zM16 2h1v1h-1zM12 3h1v1h-1zM15 3h1v1h-1zM17 3h1v1h-1zM8 4h1v1h-1zM10 4h1v1h-1zM12 5h1v1h-1zM14 5h1v1h-1zM17 5h1v1h-1zM19 5h1v1h-1zM1 6h2v1h-2zM15 6h1v1h-1zM17 6h1v1h-1zM10 7h1v1h-1zM16 7h2v1h-2z"/>
<path fill="#330b37" d="M7 0h1v1h-1zM4 2h1v1h-1zM15 2h1v1h-1zM14 3h1v1h-1zM2 4h1v1h-1zM15 4h1v1h-1zM18 4h2v1h-2zM1 5h1v1h-1zM3 6h1v1h-1zM18 6h1v1h-1zM13 7h1v1h-1z"/>
<path fill="#1d071e" d="M19 0h1v1h-1zM13 1h1v1h-1zM18 2h1v1h-1zM7 4h1v1h-1zM13 5h1v1h-1zM7 6h1v1h-1zM14 6h1v1h-1z"/>
<path fill="#241a14" d="M7 1h1v1h-1zM10 2h1v1h-1zM13 2h1v1h-1zM19 2h1v1h-1zM3 3h1v1h-1zM0 5h1v1h-1zM4 6h1v1h-1zM2 7h3v1h-3zM6 7h1v1h-1zM4 9h1v1h-1zM11 9h1v1h-1z"/>
<path fill="#494318" d="M6 2h1v1h-1zM9 2h1v1h-1zM16 4h1v1h-1zM7 5h1v1h-1zM6 6h1v1h-1zM19 6h1v1h-1z"/>
<path fill="#7b761e" d="M8 0h1v1h-1zM9 1h1v1h-1zM14 2h1v1h-1zM0 3h1v1h-1zM4 3h2v1h-2zM7 3h1v1h-1zM6 4h1v1h-1zM12 4h1v1h-1zM17 4h1v1h-1zM5 5h1v1h-1zM9 5h1v1h-1zM0 7h1v1h-1zM18 7h1v1h-1z"/>
<path fill="#aea923" d="M2 0h1v1h-1zM16 0h1v1h-1zM14 1h1v1h-1zM17 1h1v1h-1zM7 2h1v1h-1zM8 3h1v1h-1zM10 3h1v1h-1zM13 3h1v1h-1zM18 3h2v1h-2zM9 4h1v1h-1zM14 4h1v1h-1zM3 5h1v1h-1zM8 6h1v1h-1zM10 6h1v1h-1zM12 6h1v1h-1zM16 6h1v1h-1zM5 7h1v1h-1zM12 7h1v1h-1zM19 7h1v1h-1zM6 8h1v1h-1zM12 8h1v1h-1zM14 8h1v1h-1zM6 9h1v1h-1zM12 9h1v1h-1zM17 9h2v1h-2z"/>
<path fill="#d8d121" d="M3 0h3v1h-3zM9 0h2v1h-2zM12 0h1v1h-1zM17 0h2v1h-2zM6 1h1v1h-1zM12 1h1v1h-1zM16 1h1v1h-1zM18 1h2v1h-2zM1 2h2v1h-2zM1 3h2v1h-2zM4 4h2v1h-2zM2 5h1v1h-1zM4 5h1v1h-1zM6 5h1v1h-1zM8 5h1v1h-1zM16 5h1v1h-1zM5 6h1v1h-1zM11 6h1v1h-1zM1 7h1v1h-1zM11 7h1v1h-1zM14 7h1v1h-1zM2 8h1v1h-1zM4 8h1v1h-1zM9 8h1v1h-1zM16 8h2v1h-2zM2 9h2v1h-2zM8 9h1v1h-1zM10 9h1v1h-1zM15 9h1v1h-1zM19 9h1v1h-1z"/>
<path fill="#f2eb22" d="M6 0h1v1h-1zM11 0h1v1h-1zM1 1h2v1h-2zM4 1h2v1h-2zM10 1h2v1h-2zM15 1h1v1h-1zM0 2h1v1h-1zM12 2h1v1h-1zM6 3h1v1h-1zM9 3h1v1h-1zM16 3h1v1h-1zM3 4h1v1h-1zM13 4h1v1h-1zM15 5h1v1h-1zM0 6h1v1h-1zM9 7h1v1h-1zM15 7h1v1h-1zM1 8h1v1h-1zM5 8h1v1h-1zM8 8h1v1h-1zM10 8h2v1h-2zM19 8h1v1h-1zM0 9h1v1h-1zM5 9h1v1h-1zM7 9h1v1h-1zM13 9h2v1h-2zM16 9h1v1h-1z"/>
<path fill="#f8f228" d="M0 0h2v1h-2zM13 0h3v1h-3zM0 1h1v1h-1zM3 1h1v1h-1zM11 2h1v1h-1zM0 4h2v1h-2zM11 4h1v1h-1zM10 5h2v1h-2zM13 6h1v1h-1zM0 8h1v1h-1zM3 8h1v1h-1zM7 8h1v1h-1zM13 8h1v1h-1zM15 8h1v1h-1zM18 8h1v1h-1zM1 9h1v1h-1zM9 9h1v1h-1z"/>
</g>
<g transform="translate(103.10,463.80) scale(1.4250,7.6000)" shape-rendering="crispEdges">
<path fill="#c65abe" d="M17 3h2v1h-2z"/>
<path fill="#a642a5" d="M13 1h1v1h-1zM1 3h3v1h-3zM11 3h1v1h-1zM13 3h1v1h-1zM16 3h1v1h-1z"/>
<path fill="#862a8b" d="M0 0h1v1h-1zM2 0h1v1h-1zM8 0h1v1h-1zM17 0h1v1h-1zM11 1h1v1h-1zM14 1h1v1h-1zM19 1h1v1h-1zM0 3h1v1h-1zM4 3h4v1h-4zM9 3h2v1h-2zM12 3h1v1h-1zM15 3h1v1h-1zM19 7h1v1h-1zM3 9h2v1h-2z"/>
<path fill="#6c1e73" d="M3 0h1v1h-1zM5 0h2v1h-2zM13 0h3v1h-3zM18 0h2v1h-2zM0 1h2v1h-2zM3 1h1v1h-1zM6 1h1v1h-1zM8 1h1v1h-1zM10 1h1v1h-1zM12 1h1v1h-1zM15 1h1v1h-1zM18 1h1v1h-1zM8 3h1v1h-1zM4 4h1v1h-1zM3 5h1v1h-1zM6 5h1v1h-1zM9 5h1v1h-1zM15 5h1v1h-1zM6 6h2v1h-2zM9 6h1v1h-1zM11 6h1v1h-1zM4 7h1v1h-1zM12 7h1v1h-1zM18 7h1v1h-1zM18 8h1v1h-1zM1 9h1v1h-1zM5 9h2v1h-2zM8 9h2v1h-2zM13 9h1v1h-1zM15 9h5v1h-5z"/>
<path fill="#501457" d="M1 0h1v1h-1zM4 0h1v1h-1zM9 0h1v1h-1zM11 0h2v1h-2zM2 1h1v1h-1zM5 1h1v1h-1zM9 1h1v1h-1zM16 1h2v1h-2zM8 2h1v1h-1zM0 5h1v1h-1zM4 5h2v1h-2zM10 5h1v1h-1zM12 5h2v1h-2zM17 5h1v1h-1zM19 5h1v1h-1zM1 6h5v1h-5zM8 6h1v1h-1zM10 6h1v1h-1zM12 6h8v1h-8zM0 7h1v1h-1zM3 7h1v1h-1zM8 7h1v1h-1zM10 7h2v1h-2zM13 7h1v1h-1zM17 7h1v1h-1zM2 8h6v1h-6zM10 8h4v1h-4zM16 8h2v1h-2zM0 9h1v1h-1zM10 9h3v1h-3zM14 9h1v1h-1z"/>
<path fill="#330b37" d="M7 0h1v1h-1zM16 0h1v1h-1zM4 1h1v1h-1zM1 2h2v1h-2zM5 2h2v1h-2zM9 2h1v1h-1zM14 2h2v1h-2zM0 4h1v1h-1zM7 4h1v1h-1zM9 4h1v1h-1zM11 4h1v1h-1zM13 4h1v1h-1zM2 5h1v1h-1zM8 5h1v1h-1zM11 5h1v1h-1zM14 5h1v1h-1zM0 6h1v1h-1zM1 7h2v1h-2zM6 7h2v1h-2zM9 7h1v1h-1zM14 7h3v1h-3zM0 8h2v1h-2zM8 8h2v1h-2zM14 8h1v1h-1z"/>
<path fill="#1d071e" d="M3 2h1v1h-1zM10 2h2v1h-2zM13 2h1v1h-1zM17 2h1v1h-1zM19 2h1v1h-1zM1 4h2v1h-2zM5 4h2v1h-2zM8 4h1v1h-1zM12 4h1v1h-1zM14 4h2v1h-2zM17 4h3v1h-3zM1 5h1v1h-1zM7 5h1v1h-1zM16 5h1v1h-1zM5 7h1v1h-1zM15 8h1v1h-1zM19 8h1v1h-1z"/>
<path fill="#241a14" d="M0 2h1v1h-1zM4 2h1v1h-1zM12 2h1v1h-1zM16 2h1v1h-1zM18 2h1v1h-1zM3 4h1v1h-1zM10 4h1v1h-1zM18 5h1v1h-1z"/>
<path fill="#494318" d="M19 3h1v1h-1zM7 9h1v1h-1z"/>
<path fill="#7b761e" d="M14 3h1v1h-1z"/>
<path fill="#aea923" d="M7 2h1v1h-1zM16 4h1v1h-1z"/>
<path fill="#f2eb22" d="M10 0h1v1h-1zM7 1h1v1h-1z"/>
<path fill="#f8f228" d="M2 9h1v1h-1z"/>
</g>
<g transform="translate(133.10,463.80) scale(1.4100,7.6000)" shape-rendering="crispEdges">
<path fill="#a642a5" d="M0 3h1v1h-1zM9 3h2v1h-2zM16 3h1v1h-1zM18 3h1v1h-1z"/>
<path fill="#862a8b" d="M8 1h1v1h-1zM11 1h1v1h-1zM3 3h1v1h-1zM6 3h2v1h-2zM11 3h2v1h-2zM14 3h2v1h-2zM17 3h1v1h-1zM19 3h1v1h-1zM7 9h1v1h-1zM9 9h1v1h-1zM11 9h2v1h-2zM18 9h2v1h-2z"/>
<path fill="#6c1e73" d="M0 0h2v1h-2zM5 0h2v1h-2zM8 0h1v1h-1zM11 0h1v1h-1zM14 0h3v1h-3zM19 0h1v1h-1zM0 1h1v1h-1zM5 1h2v1h-2zM9 1h2v1h-2zM12 1h2v1h-2zM15 1h2v1h-2zM19 1h1v1h-1zM1 3h2v1h-2zM5 3h1v1h-1zM8 3h1v1h-1zM13 3h1v1h-1zM18 5h1v1h-1zM7 6h1v1h-1zM10 6h1v1h-1zM14 6h1v1h-1zM9 7h1v1h-1zM13 7h3v1h-3zM17 7h1v1h-1zM1 8h1v1h-1zM7 8h1v1h-1zM13 8h1v1h-1zM19 8h1v1h-1zM0 9h1v1h-1zM2 9h2v1h-2zM5 9h1v1h-1zM8 9h1v1h-1zM10 9h1v1h-1zM16 9h2v1h-2z"/>
<path fill="#501457" d="M2 0h1v1h-1zM4 0h1v1h-1zM7 0h1v1h-1zM9 0h2v1h-2zM12 0h2v1h-2zM18 0h1v1h-1zM1 1h1v1h-1zM3 1h2v1h-2zM7 1h1v1h-1zM17 1h2v1h-2zM4 3h1v1h-1zM0 4h1v1h-1zM6 4h1v1h-1zM6 5h2v1h-2zM9 5h1v1h-1zM11 5h5v1h-5zM19 5h1v1h-1zM0 6h3v1h-3zM9 6h1v1h-1zM11 6h1v1h-1zM15 6h1v1h-1zM17 6h1v1h-1zM19 6h1v1h-1zM0 7h1v1h-1zM3 7h2v1h-2zM6 7h2v1h-2zM10 7h1v1h-1zM12 7h1v1h-1zM16 7h1v1h-1zM18 7h2v1h-2zM0 8h1v1h-1zM4 8h1v1h-1zM6 8h1v1h-1zM11 8h1v1h-1zM14 8h2v1h-2zM17 8h2v1h-2zM1 9h1v1h-1zM4 9h1v1h-1zM6 9h1v1h-1zM13 9h2v1h-2z"/>
<path fill="#330b37" d="M17 0h1v1h-1zM2 1h1v1h-1zM14 1h1v1h-1zM2 2h1v1h-1zM5 2h1v1h-1zM9 2h1v1h-1zM11 2h5v1h-5zM2 4h1v1h-1zM4 4h2v1h-2zM7 4h1v1h-1zM9 4h1v1h-1zM15 4h1v1h-1zM17 4h1v1h-1zM0 5h6v1h-6zM8 5h1v1h-1zM16 5h2v1h-2zM3 6h4v1h-4zM12 6h2v1h-2zM16 6h1v1h-1zM18 6h1v1h-1zM1 7h1v1h-1zM8 7h1v1h-1zM2 8h2v1h-2zM5 8h1v1h-1zM8 8h1v1h-1zM10 8h1v1h-1zM12 8h1v1h-1zM16 8h1v1h-1z"/>
<path fill="#1d071e" d="M0 2h1v1h-1zM4 2h1v1h-1zM7 2h1v1h-1zM10 2h1v1h-1zM16 2h3v1h-3zM3 4h1v1h-1zM13 4h2v1h-2zM18 4h2v1h-2zM10 5h1v1h-1zM2 7h1v1h-1zM5 7h1v1h-1zM9 8h1v1h-1z"/>
<path fill="#241a14" d="M1 2h1v1h-1zM3 2h1v1h-1zM8 2h1v1h-1zM19 2h1v1h-1zM1 4h1v1h-1zM8 4h1v1h-1zM10 4h3v1h-3z"/>
<path fill="#7b761e" d="M6 2h1v1h-1z"/>
<path fill="#aea923" d="M3 0h1v1h-1zM16 4h1v1h-1z"/>
<path fill="#d8d121" d="M11 7h1v1h-1z"/>
<path fill="#f2eb22" d="M15 9h1v1h-1z"/>
<path fill="#f8f228" d="M8 6h1v1h-1z"/>
</g>
<g transform="translate(161.30,463.80) scale(1.4000,7.6000)" shape-rendering="crispEdges">
<path fill="#a642a5" d="M11 2h1v1h-1z"/>
<path fill="#862a8b" d="M5 7h1v1h-1zM8 7h1v1h-1z"/>
<path fill="#6c1e73" d="M10 2h1v1h-1zM14 2h1v1h-1zM19 2h1v1h-1zM6 3h1v1h-1zM8 6h1v1h-1zM3 7h1v1h-1zM18 7h1v1h-1z"/>
<path fill="#501457" d="M4 2h1v1h-1zM12 2h1v1h-1zM1 4h2v1h-2zM4 4h2v1h-2zM18 4h1v1h-1zM3 5h1v1h-1zM5 5h2v1h-2zM9 5h1v1h-1zM13 5h1v1h-1zM2 6h1v1h-1zM6 7h1v1h-1zM10 7h1v1h-1zM12 7h2v1h-2zM15 7h1v1h-1z"/>
<path fill="#330b37" d="M16 1h1v1h-1zM0 2h1v1h-1zM3 2h1v1h-1zM8 3h1v1h-1zM16 3h1v1h-1zM18 3h1v1h-1zM0 4h1v1h-1zM3 4h1v1h-1zM7 4h1v1h-1zM10 4h1v1h-1zM14 4h1v1h-1zM0 5h2v1h-2zM14 5h1v1h-1zM12 6h1v1h-1zM7 7h1v1h-1zM19 7h1v1h-1z"/>
<path fill="#1d071e" d="M8 1h1v1h-1zM8 4h1v1h-1zM17 5h2v1h-2zM17 6h1v1h-1zM4 7h1v1h-1zM9 7h1v1h-1zM16 7h2v1h-2z"/>
<path fill="#241a14" d="M7 0h1v1h-1zM16 0h1v1h-1zM3 1h2v1h-2zM9 1h1v1h-1zM2 2h1v1h-1zM7 2h1v1h-1zM2 3h1v1h-1zM5 3h1v1h-1zM9 3h1v1h-1zM10 5h1v1h-1zM12 5h1v1h-1zM18 6h1v1h-1zM1 7h1v1h-1zM14 7h1v1h-1zM19 8h1v1h-1zM1 9h1v1h-1z"/>
<path fill="#494318" d="M5 1h1v1h-1zM7 3h1v1h-1zM11 4h1v1h-1zM11 6h1v1h-1zM0 7h1v1h-1z"/>
<path fill="#7b761e" d="M8 0h1v1h-1zM0 1h1v1h-1zM17 1h1v1h-1zM6 2h1v1h-1zM8 2h1v1h-1zM13 2h1v1h-1zM16 2h1v1h-1zM18 2h1v1h-1zM11 3h1v1h-1zM2 5h1v1h-1zM8 5h1v1h-1zM11 5h1v1h-1zM15 5h1v1h-1zM4 6h1v1h-1zM15 6h1v1h-1zM2 7h1v1h-1zM7 8h1v1h-1zM16 9h1v1h-1z"/>
<path fill="#aea923" d="M1 0h2v1h-2zM7 1h1v1h-1zM15 2h1v1h-1zM1 3h1v1h-1zM3 3h1v1h-1zM10 3h1v1h-1zM12 3h1v1h-1zM14 3h2v1h-2zM19 3h1v1h-1zM9 4h1v1h-1zM19 4h1v1h-1zM4 5h1v1h-1zM7 5h1v1h-1zM0 6h2v1h-2zM5 6h1v1h-1zM16 6h1v1h-1zM11 7h1v1h-1zM3 8h1v1h-1zM8 8h1v1h-1zM11 8h1v1h-1zM11 9h2v1h-2zM15 9h1v1h-1zM18 9h1v1h-1z"/>
<path fill="#d8d121" d="M9 0h1v1h-1zM11 0h1v1h-1zM15 0h1v1h-1zM17 0h1v1h-1zM6 1h1v1h-1zM11 1h1v1h-1zM13 1h3v1h-3zM1 2h1v1h-1zM5 2h1v1h-1zM9 2h1v1h-1zM0 3h1v1h-1zM13 3h1v1h-1zM15 4h3v1h-3zM16 5h1v1h-1zM19 5h1v1h-1zM9 6h1v1h-1zM2 8h1v1h-1zM4 8h3v1h-3zM9 8h1v1h-1zM12 8h1v1h-1zM15 8h1v1h-1zM5 9h1v1h-1zM8 9h1v1h-1z"/>
<path fill="#f2eb22" d="M0 0h1v1h-1zM3 0h1v1h-1zM5 0h1v1h-1zM12 0h3v1h-3zM18 0h1v1h-1zM2 1h1v1h-1zM10 1h1v1h-1zM12 1h1v1h-1zM18 1h2v1h-2zM17 2h1v1h-1zM4 3h1v1h-1zM17 3h1v1h-1zM6 4h1v1h-1zM12 4h2v1h-2zM3 6h1v1h-1zM6 6h2v1h-2zM14 6h1v1h-1zM19 6h1v1h-1zM0 8h1v1h-1zM13 8h2v1h-2zM16 8h1v1h-1zM0 9h1v1h-1zM6 9h2v1h-2zM9 9h2v1h-2z"/>
<path fill="#f8f228" d="M4 0h1v1h-1zM6 0h1v1h-1zM10 0h1v1h-1zM19 0h1v1h-1zM1 1h1v1h-1zM10 6h1v1h-1zM13 6h1v1h-1zM1 8h1v1h-1zM10 8h1v1h-1zM17 8h2v1h-2zM2 9h3v1h-3zM13 9h2v1h-2zM17 9h1v1h-1zM19 9h1v1h-1z"/>
</g>
<g transform="translate(189.30,463.80) scale(1.4250,7.6000)" shape-rendering="crispEdges">
<path fill="#a642a5" d="M0 3h2v1h-2zM4 3h1v1h-1zM6 3h1v1h-1zM9 3h1v1h-1zM11 3h1v1h-1zM15 3h2v1h-2z"/>
<path fill="#862a8b" d="M0 0h1v1h-1zM2 0h1v1h-1zM5 0h1v1h-1zM12 0h1v1h-1zM6 1h1v1h-1zM10 1h1v1h-1zM2 3h2v1h-2zM5 3h1v1h-1zM7 3h1v1h-1zM10 3h1v1h-1zM12 3h3v1h-3zM17 3h1v1h-1zM19 3h1v1h-1zM5 5h1v1h-1zM1 9h2v1h-2zM10 9h1v1h-1zM15 9h1v1h-1z"/>
<path fill="#6c1e73" d="M4 0h1v1h-1zM6 0h1v1h-1zM9 0h1v1h-1zM13 0h1v1h-1zM15 0h1v1h-1zM17 0h1v1h-1zM19 0h1v1h-1zM0 1h2v1h-2zM3 1h1v1h-1zM5 1h1v1h-1zM8 1h2v1h-2zM11 1h3v1h-3zM16 1h1v1h-1zM18 1h1v1h-1zM8 3h1v1h-1zM18 3h1v1h-1zM3 5h1v1h-1zM6 5h1v1h-1zM10 5h1v1h-1zM17 5h2v1h-2zM13 6h1v1h-1zM1 7h1v1h-1zM6 8h1v1h-1zM12 8h1v1h-1zM18 8h1v1h-1zM3 9h1v1h-1zM5 9h1v1h-1zM11 9h2v1h-2zM14 9h1v1h-1zM17 9h3v1h-3z"/>
<path fill="#501457" d="M1 0h1v1h-1zM3 0h1v1h-1zM8 0h1v1h-1zM10 0h1v1h-1zM16 0h1v1h-1zM18 0h1v1h-1zM4 1h1v1h-1zM7 1h1v1h-1zM14 1h2v1h-2zM17 1h1v1h-1zM19 1h1v1h-1zM9 2h2v1h-2zM3 4h1v1h-1zM0 5h3v1h-3zM4 5h1v1h-1zM9 5h1v1h-1zM19 5h1v1h-1zM6 6h1v1h-1zM10 6h2v1h-2zM16 6h1v1h-1zM18 6h1v1h-1zM0 7h1v1h-1zM2 7h1v1h-1zM5 7h3v1h-3zM9 7h3v1h-3zM13 7h1v1h-1zM18 7h1v1h-1zM1 8h2v1h-2zM5 8h1v1h-1zM7 8h1v1h-1zM9 8h2v1h-2zM16 8h1v1h-1zM0 9h1v1h-1zM4 9h1v1h-1zM6 9h4v1h-4zM13 9h1v1h-1zM16 9h1v1h-1z"/>
<path fill="#330b37" d="M7 0h1v1h-1zM2 2h4v1h-4zM12 2h1v1h-1zM2 4h1v1h-1zM4 4h3v1h-3zM10 4h1v1h-1zM12 4h1v1h-1zM15 4h1v1h-1zM7 5h1v1h-1zM11 5h4v1h-4zM16 5h1v1h-1zM0 6h6v1h-6zM7 6h3v1h-3zM12 6h1v1h-1zM14 6h1v1h-1zM17 6h1v1h-1zM19 6h1v1h-1zM3 7h2v1h-2zM8 7h1v1h-1zM12 7h1v1h-1zM14 7h4v1h-4zM19 7h1v1h-1zM0 8h1v1h-1zM3 8h2v1h-2zM11 8h1v1h-1zM13 8h3v1h-3zM17 8h1v1h-1zM19 8h1v1h-1z"/>
<path fill="#1d071e" d="M0 2h2v1h-2zM6 2h1v1h-1zM11 2h1v1h-1zM13 2h1v1h-1zM15 2h5v1h-5zM0 4h2v1h-2zM7 4h2v1h-2zM13 4h2v1h-2zM17 4h3v1h-3zM8 5h1v1h-1zM8 8h1v1h-1z"/>
<path fill="#241a14" d="M7 2h2v1h-2zM14 2h1v1h-1z"/>
<path fill="#494318" d="M9 4h1v1h-1z"/>
<path fill="#aea923" d="M11 0h1v1h-1zM11 4h1v1h-1zM15 6h1v1h-1z"/>
<path fill="#d8d121" d="M14 0h1v1h-1z"/>
<path fill="#f2eb22" d="M2 1h1v1h-1zM16 4h1v1h-1zM15 5h1v1h-1z"/>
</g>
<g transform="translate(219.30,463.80) scale(1.4150,7.6000)" shape-rendering="crispEdges">
<path fill="#a642a5" d="M3 3h1v1h-1zM5 3h1v1h-1zM12 3h1v1h-1zM16 3h1v1h-1zM18 3h1v1h-1z"/>
<path fill="#862a8b" d="M4 0h2v1h-2zM15 0h1v1h-1zM17 0h1v1h-1zM19 0h1v1h-1zM0 1h1v1h-1zM2 1h1v1h-1zM4 1h1v1h-1zM12 1h1v1h-1zM15 1h1v1h-1zM18 1h1v1h-1zM0 3h3v1h-3zM7 3h1v1h-1zM9 3h1v1h-1zM11 3h1v1h-1zM13 3h2v1h-2zM17 3h1v1h-1zM0 9h1v1h-1zM5 9h1v1h-1zM7 9h4v1h-4zM15 9h1v1h-1zM18 9h1v1h-1z"/>
<path fill="#6c1e73" d="M0 0h1v1h-1zM2 0h2v1h-2zM6 0h3v1h-3zM10 0h5v1h-5zM16 0h1v1h-1zM1 1h1v1h-1zM3 1h1v1h-1zM5 1h1v1h-1zM8 1h3v1h-3zM13 1h2v1h-2zM4 3h1v1h-1zM6 3h1v1h-1zM8 3h1v1h-1zM10 3h1v1h-1zM15 3h1v1h-1zM19 3h1v1h-1zM9 5h1v1h-1zM13 5h1v1h-1zM16 5h1v1h-1zM2 6h1v1h-1zM13 6h1v1h-1zM1 7h2v1h-2zM12 7h1v1h-1zM9 8h1v1h-1zM13 8h1v1h-1zM1 9h1v1h-1zM3 9h2v1h-2zM11 9h3v1h-3zM19 9h1v1h-1z"/>
<path fill="#501457" d="M1 0h1v1h-1zM9 0h1v1h-1zM18 0h1v1h-1zM6 1h1v1h-1zM11 1h1v1h-1zM16 1h2v1h-2zM9 2h1v1h-1zM12 2h1v1h-1zM1 5h2v1h-2zM4 5h4v1h-4zM11 5h2v1h-2zM15 5h1v1h-1zM18 5h2v1h-2zM0 6h2v1h-2zM4 6h1v1h-1zM7 6h2v1h-2zM10 6h1v1h-1zM12 6h1v1h-1zM16 6h3v1h-3zM0 7h1v1h-1zM4 7h2v1h-2zM8 7h2v1h-2zM11 7h1v1h-1zM13 7h1v1h-1zM15 7h2v1h-2zM0 8h2v1h-2zM4 8h5v1h-5zM10 8h1v1h-1zM12 8h1v1h-1zM14 8h2v1h-2zM2 9h1v1h-1zM6 9h1v1h-1zM14 9h1v1h-1zM16 9h2v1h-2z"/>
<path fill="#330b37" d="M7 1h1v1h-1zM2 2h1v1h-1zM6 2h1v1h-1zM13 2h1v1h-1zM7 4h1v1h-1zM10 4h1v1h-1zM14 4h1v1h-1zM19 4h1v1h-1zM0 5h1v1h-1zM3 5h1v1h-1zM8 5h1v1h-1zM10 5h1v1h-1zM14 5h1v1h-1zM3 6h1v1h-1zM6 6h1v1h-1zM11 6h1v1h-1zM15 6h1v1h-1zM19 6h1v1h-1zM3 7h1v1h-1zM7 7h1v1h-1zM14 7h1v1h-1zM17 7h1v1h-1zM19 7h1v1h-1zM11 8h1v1h-1zM16 8h3v1h-3z"/>
<path fill="#1d071e" d="M0 2h2v1h-2zM3 2h3v1h-3zM11 2h1v1h-1zM14 2h1v1h-1zM16 2h1v1h-1zM18 2h2v1h-2zM0 4h5v1h-5zM6 4h1v1h-1zM9 4h1v1h-1zM11 4h1v1h-1zM16 4h3v1h-3zM14 6h1v1h-1zM10 7h1v1h-1z"/>
<path fill="#241a14" d="M7 2h2v1h-2zM10 2h1v1h-1zM15 2h1v1h-1zM5 4h1v1h-1zM8 4h1v1h-1zM15 4h1v1h-1z"/>
<path fill="#494318" d="M17 2h1v1h-1zM9 6h1v1h-1zM19 8h1v1h-1z"/>
<path fill="#7b761e" d="M18 7h1v1h-1z"/>
<path fill="#aea923" d="M19 1h1v1h-1zM13 4h1v1h-1zM17 5h1v1h-1zM5 6h1v1h-1zM6 7h1v1h-1zM2 8h1v1h-1z"/>
<path fill="#d8d121" d="M3 8h1v1h-1z"/>
<path fill="#f2eb22" d="M12 4h1v1h-1z"/>
</g>
<g transform="translate(247.60,463.80) scale(1.4200,7.6000)" shape-rendering="crispEdges">
<path fill="#862a8b" d="M8 3h1v1h-1zM16 4h1v1h-1zM0 5h1v1h-1zM5 6h1v1h-1zM13 7h1v1h-1z"/>
<path fill="#6c1e73" d="M11 2h1v1h-1zM17 2h1v1h-1zM4 3h2v1h-2zM11 3h1v1h-1zM9 5h1v1h-1zM11 5h1v1h-1zM14 7h1v1h-1z"/>
<path fill="#501457" d="M6 0h1v1h-1zM9 2h1v1h-1zM18 2h1v1h-1zM1 3h1v1h-1zM6 3h1v1h-1zM7 4h1v1h-1zM8 5h1v1h-1zM12 5h1v1h-1zM14 5h1v1h-1zM9 6h1v1h-1zM13 6h1v1h-1zM15 6h1v1h-1zM5 7h1v1h-1zM10 7h1v1h-1zM18 7h1v1h-1z"/>
<path fill="#330b37" d="M13 3h1v1h-1zM1 4h1v1h-1zM3 4h1v1h-1zM17 4h1v1h-1zM17 5h1v1h-1zM19 5h1v1h-1zM18 6h1v1h-1zM1 7h1v1h-1z"/>
<path fill="#1d071e" d="M3 0h1v1h-1zM16 0h1v1h-1zM10 3h1v1h-1zM10 4h1v1h-1zM2 5h1v1h-1zM4 5h1v1h-1zM1 6h1v1h-1zM19 6h1v1h-1zM16 7h1v1h-1z"/>
<path fill="#241a14" d="M0 1h1v1h-1zM16 2h1v1h-1zM2 7h1v1h-1zM3 9h1v1h-1zM5 9h1v1h-1z"/>
<path fill="#494318" d="M0 0h1v1h-1zM4 4h1v1h-1zM7 5h1v1h-1zM4 6h1v1h-1zM8 6h1v1h-1zM8 7h1v1h-1zM6 8h1v1h-1zM19 9h1v1h-1z"/>
<path fill="#7b761e" d="M7 0h1v1h-1zM9 0h1v1h-1zM1 2h1v1h-1zM4 2h1v1h-1zM6 2h1v1h-1zM13 2h1v1h-1zM19 2h1v1h-1zM0 3h1v1h-1zM2 3h1v1h-1zM7 3h1v1h-1zM15 3h1v1h-1zM19 3h1v1h-1zM0 4h1v1h-1zM6 4h1v1h-1zM8 4h1v1h-1zM15 4h1v1h-1zM1 5h1v1h-1zM6 7h2v1h-2zM9 7h1v1h-1zM11 7h2v1h-2zM19 7h1v1h-1zM14 9h1v1h-1z"/>
<path fill="#aea923" d="M1 0h1v1h-1zM13 0h1v1h-1zM1 1h1v1h-1zM9 1h1v1h-1zM5 2h1v1h-1zM10 2h1v1h-1zM15 2h1v1h-1zM3 3h1v1h-1zM9 3h1v1h-1zM18 3h1v1h-1zM9 4h1v1h-1zM12 4h2v1h-2zM18 4h1v1h-1zM10 5h1v1h-1zM13 5h1v1h-1zM18 5h1v1h-1zM2 6h1v1h-1zM11 6h1v1h-1zM0 7h1v1h-1zM3 7h1v1h-1zM17 7h1v1h-1zM0 8h1v1h-1zM4 8h1v1h-1zM8 8h1v1h-1zM17 8h2v1h-2zM4 9h1v1h-1zM8 9h2v1h-2z"/>
<path fill="#d8d121" d="M4 0h1v1h-1zM8 0h1v1h-1zM11 0h1v1h-1zM14 0h2v1h-2zM2 1h1v1h-1zM4 1h2v1h-2zM7 1h2v1h-2zM13 1h1v1h-1zM15 1h1v1h-1zM17 1h1v1h-1zM19 1h1v1h-1zM0 2h1v1h-1zM3 2h1v1h-1zM8 2h1v1h-1zM14 2h1v1h-1zM14 3h1v1h-1zM16 3h1v1h-1zM2 4h1v1h-1zM5 4h1v1h-1zM11 4h1v1h-1zM14 4h1v1h-1zM3 5h1v1h-1zM5 5h2v1h-2zM6 6h2v1h-2zM10 6h1v1h-1zM12 6h1v1h-1zM16 6h2v1h-2zM4 7h1v1h-1zM15 7h1v1h-1zM3 8h1v1h-1zM5 8h1v1h-1zM9 8h1v1h-1zM11 8h1v1h-1zM15 8h1v1h-1zM1 9h1v1h-1zM6 9h2v1h-2zM13 9h1v1h-1zM15 9h1v1h-1zM17 9h2v1h-2z"/>
<path fill="#f2eb22" d="M5 0h1v1h-1zM10 0h1v1h-1zM18 0h1v1h-1zM6 1h1v1h-1zM10 1h2v1h-2zM14 1h1v1h-1zM16 1h1v1h-1zM18 1h1v1h-1zM12 2h1v1h-1zM12 3h1v1h-1zM17 3h1v1h-1zM19 4h1v1h-1zM15 5h2v1h-2zM0 6h1v1h-1zM1 8h2v1h-2zM7 8h1v1h-1zM10 8h1v1h-1zM12 8h1v1h-1zM14 8h1v1h-1zM16 8h1v1h-1zM19 8h1v1h-1zM2 9h1v1h-1zM11 9h2v1h-2zM16 9h1v1h-1z"/>
<path fill="#f8f228" d="M2 0h1v1h-1zM12 0h1v1h-1zM17 0h1v1h-1zM19 0h1v1h-1zM3 1h1v1h-1zM12 1h1v1h-1zM2 2h1v1h-1zM7 2h1v1h-1zM3 6h1v1h-1zM14 6h1v1h-1zM13 8h1v1h-1zM0 9h1v1h-1zM10 9h1v1h-1z"/>
</g>
<g transform="translate(276.00,463.80) scale(1.4000,7.6000)" shape-rendering="crispEdges">
<path fill="#a642a5" d="M2 0h1v1h-1zM0 3h1v1h-1zM9 3h1v1h-1zM12 3h1v1h-1zM17 3h1v1h-1zM19 3h1v1h-1zM9 9h1v1h-1z"/>
<path fill="#862a8b" d="M3 0h2v1h-2zM17 0h1v1h-1zM3 1h1v1h-1zM6 1h1v1h-1zM1 3h6v1h-6zM10 3h1v1h-1zM14 3h2v1h-2zM18 3h1v1h-1zM17 7h1v1h-1zM3 9h1v1h-1zM19 9h1v1h-1z"/>
<path fill="#6c1e73" d="M1 0h1v1h-1zM7 0h1v1h-1zM9 0h3v1h-3zM15 0h1v1h-1zM19 0h1v1h-1zM1 1h2v1h-2zM4 1h1v1h-1zM8 1h2v1h-2zM12 1h1v1h-1zM15 1h2v1h-2zM19 1h1v1h-1zM7 3h2v1h-2zM11 3h1v1h-1zM17 5h1v1h-1zM1 7h1v1h-1zM3 7h1v1h-1zM19 7h1v1h-1zM3 8h1v1h-1zM16 8h2v1h-2zM2 9h1v1h-1zM4 9h2v1h-2zM7 9h2v1h-2zM11 9h2v1h-2zM15 9h1v1h-1z"/>
<path fill="#501457" d="M0 0h1v1h-1zM5 0h2v1h-2zM8 0h1v1h-1zM12 0h1v1h-1zM16 0h1v1h-1zM18 0h1v1h-1zM0 1h1v1h-1zM5 1h1v1h-1zM11 1h1v1h-1zM13 1h2v1h-2zM17 1h2v1h-2zM2 2h1v1h-1zM8 2h1v1h-1zM16 3h1v1h-1zM0 5h4v1h-4zM6 5h1v1h-1zM8 5h2v1h-2zM12 5h1v1h-1zM14 5h1v1h-1zM16 5h1v1h-1zM19 5h1v1h-1zM1 6h1v1h-1zM5 6h2v1h-2zM9 6h3v1h-3zM14 6h5v1h-5zM2 7h1v1h-1zM4 7h7v1h-7zM15 7h1v1h-1zM18 7h1v1h-1zM1 8h2v1h-2zM5 8h2v1h-2zM8 8h2v1h-2zM11 8h2v1h-2zM14 8h1v1h-1zM18 8h1v1h-1zM1 9h1v1h-1zM6 9h1v1h-1zM10 9h1v1h-1zM13 9h2v1h-2zM17 9h1v1h-1z"/>
<path fill="#330b37" d="M7 1h1v1h-1zM9 2h1v1h-1zM12 2h1v1h-1zM1 4h1v1h-1zM4 4h1v1h-1zM8 4h1v1h-1zM11 4h1v1h-1zM17 4h2v1h-2zM5 5h1v1h-1zM7 5h1v1h-1zM10 5h2v1h-2zM13 5h1v1h-1zM15 5h1v1h-1zM18 5h1v1h-1zM2 6h3v1h-3zM7 6h2v1h-2zM12 6h2v1h-2zM19 6h1v1h-1zM11 7h4v1h-4zM16 7h1v1h-1zM10 8h1v1h-1zM13 8h1v1h-1zM19 8h1v1h-1zM0 9h1v1h-1zM16 9h1v1h-1z"/>
<path fill="#1d071e" d="M0 2h2v1h-2zM3 2h5v1h-5zM10 2h1v1h-1zM14 2h4v1h-4zM19 2h1v1h-1zM0 4h1v1h-1zM2 4h2v1h-2zM5 4h2v1h-2zM10 4h1v1h-1zM12 4h2v1h-2zM15 4h1v1h-1zM4 5h1v1h-1zM0 7h1v1h-1z"/>
<path fill="#241a14" d="M11 2h1v1h-1zM13 2h1v1h-1zM18 2h1v1h-1zM7 4h1v1h-1zM0 6h1v1h-1z"/>
<path fill="#494318" d="M18 9h1v1h-1z"/>
<path fill="#7b761e" d="M9 4h1v1h-1zM16 4h1v1h-1zM4 8h1v1h-1zM15 8h1v1h-1z"/>
<path fill="#aea923" d="M13 0h1v1h-1z"/>
<path fill="#d8d121" d="M14 0h1v1h-1zM0 8h1v1h-1z"/>
<path fill="#f2eb22" d="M10 1h1v1h-1zM14 4h1v1h-1zM19 4h1v1h-1zM7 8h1v1h-1z"/>
<path fill="#f8f228" d="M13 3h1v1h-1z"/>
</g>
<g transform="translate(46.30,540.80) scale(1.4175,7.5200)" shape-rendering="crispEdges">
<path fill="#c65abe" d="M6 2h1v1h-1zM4 7h1v1h-1zM16 7h1v1h-1z"/>
<path fill="#a642a5" d="M1 2h1v1h-1zM3 2h1v1h-1zM12 2h1v1h-1zM16 2h4v1h-4zM4 5h3v1h-3zM8 5h1v1h-1zM11 5h1v1h-1zM16 5h3v1h-3zM15 6h1v1h-1zM1 7h2v1h-2zM17 7h1v1h-1z"/>
<path fill="#862a8b" d="M2 2h1v1h-1zM7 2h2v1h-2zM11 2h1v1h-1zM15 2h1v1h-1zM6 4h1v1h-1zM16 4h1v1h-1zM2 5h1v1h-1zM7 5h1v1h-1zM13 5h1v1h-1zM15 5h1v1h-1zM1 6h1v1h-1zM7 6h1v1h-1zM9 6h1v1h-1zM3 7h1v1h-1zM5 7h4v1h-4zM12 7h1v1h-1zM14 7h1v1h-1zM19 7h1v1h-1zM13 8h1v1h-1zM1 9h3v1h-3zM10 9h1v1h-1zM17 9h2v1h-2z"/>
<path fill="#6c1e73" d="M2 0h1v1h-1zM12 0h1v1h-1zM17 0h1v1h-1zM0 2h1v1h-1zM4 2h2v1h-2zM9 2h2v1h-2zM13 2h2v1h-2zM2 4h1v1h-1zM8 4h1v1h-1zM12 4h1v1h-1zM0 5h2v1h-2zM3 5h1v1h-1zM9 5h2v1h-2zM12 5h1v1h-1zM14 5h1v1h-1zM19 5h1v1h-1zM16 6h1v1h-1zM9 7h2v1h-2zM13 7h1v1h-1zM15 7h1v1h-1zM18 7h1v1h-1zM3 8h1v1h-1zM12 8h1v1h-1zM15 8h1v1h-1zM18 8h2v1h-2zM0 9h1v1h-1zM4 9h2v1h-2zM7 9h2v1h-2zM12 9h1v1h-1zM14 9h1v1h-1z"/>
<path fill="#501457" d="M1 0h1v1h-1zM3 0h4v1h-4zM8 0h1v1h-1zM11 0h1v1h-1zM13 0h1v1h-1zM15 0h2v1h-2zM18 0h1v1h-1zM17 1h1v1h-1zM9 3h1v1h-1zM14 3h1v1h-1zM1 4h1v1h-1zM4 4h1v1h-1zM9 4h1v1h-1zM13 4h3v1h-3zM17 4h1v1h-1zM19 4h1v1h-1zM10 6h1v1h-1zM12 6h1v1h-1zM11 7h1v1h-1zM0 8h1v1h-1zM4 8h1v1h-1zM7 8h3v1h-3zM6 9h1v1h-1zM9 9h1v1h-1zM13 9h1v1h-1zM15 9h1v1h-1zM19 9h1v1h-1z"/>
<path fill="#330b37" d="M7 0h1v1h-1zM9 0h1v1h-1zM14 0h1v1h-1zM19 0h1v1h-1zM3 1h1v1h-1zM11 1h1v1h-1zM10 3h1v1h-1zM12 3h1v1h-1zM15 3h2v1h-2zM18 3h2v1h-2zM10 4h2v1h-2zM18 4h1v1h-1zM0 6h1v1h-1zM3 6h1v1h-1zM5 6h1v1h-1zM13 6h1v1h-1zM1 8h2v1h-2zM5 8h2v1h-2zM11 8h1v1h-1zM16 8h1v1h-1z"/>
<path fill="#1d071e" d="M1 3h1v1h-1zM3 3h2v1h-2zM7 3h2v1h-2zM11 3h1v1h-1zM13 3h1v1h-1zM17 3h1v1h-1zM5 4h1v1h-1zM4 6h1v1h-1zM6 6h1v1h-1zM17 6h1v1h-1zM11 9h1v1h-1z"/>
<path fill="#241a14" d="M10 0h1v1h-1zM0 3h1v1h-1zM2 3h1v1h-1zM5 3h1v1h-1zM0 4h1v1h-1zM11 6h1v1h-1zM14 8h1v1h-1z"/>
<path fill="#494318" d="M4 1h1v1h-1zM13 1h1v1h-1z"/>
<path fill="#7b761e" d="M1 1h1v1h-1zM6 1h1v1h-1zM10 1h1v1h-1zM3 4h1v1h-1zM8 6h1v1h-1zM16 9h1v1h-1z"/>
<path fill="#aea923" d="M0 0h1v1h-1zM5 1h1v1h-1zM7 1h2v1h-2zM12 1h1v1h-1zM14 1h2v1h-2zM18 1h1v1h-1zM2 6h1v1h-1zM10 8h1v1h-1zM17 8h1v1h-1z"/>
<path fill="#d8d121" d="M2 1h1v1h-1zM9 1h1v1h-1zM19 1h1v1h-1zM14 6h1v1h-1zM18 6h2v1h-2z"/>
<path fill="#f2eb22" d="M16 1h1v1h-1zM6 3h1v1h-1zM7 4h1v1h-1zM0 7h1v1h-1z"/>
<path fill="#f8f228" d="M0 1h1v1h-1z"/>
</g>
<g transform="translate(74.65,540.80) scale(1.4225,7.5200)" shape-rendering="crispEdges">
<path fill="#c65abe" d="M2 1h1v1h-1zM15 7h1v1h-1z"/>
<path fill="#a642a5" d="M0 1h1v1h-1zM4 1h1v1h-1zM6 1h1v1h-1zM8 1h2v1h-2zM11 1h1v1h-1zM15 1h1v1h-1zM4 2h1v1h-1zM10 2h1v1h-1zM2 7h1v1h-1zM5 7h1v1h-1zM11 7h1v1h-1zM16 7h1v1h-1zM7 9h1v1h-1z"/>
<path fill="#862a8b" d="M1 1h1v1h-1zM3 1h1v1h-1zM7 1h1v1h-1zM10 1h1v1h-1zM13 1h2v1h-2zM16 1h2v1h-2zM19 1h1v1h-1zM3 2h1v1h-1zM9 2h1v1h-1zM16 2h1v1h-1zM15 5h1v1h-1zM15 6h1v1h-1zM0 7h1v1h-1zM3 7h2v1h-2zM7 7h1v1h-1zM10 7h1v1h-1zM12 7h3v1h-3zM17 7h1v1h-1zM19 7h1v1h-1zM3 9h1v1h-1zM5 9h1v1h-1zM10 9h1v1h-1zM15 9h2v1h-2z"/>
<path fill="#6c1e73" d="M5 1h1v1h-1zM18 1h1v1h-1zM0 2h1v1h-1zM2 2h1v1h-1zM6 2h2v1h-2zM12 2h4v1h-4zM8 4h1v1h-1zM13 4h1v1h-1zM15 4h1v1h-1zM2 5h1v1h-1zM7 5h1v1h-1zM11 5h2v1h-2zM14 5h1v1h-1zM5 6h1v1h-1zM9 6h1v1h-1zM6 7h1v1h-1zM8 7h2v1h-2zM18 7h1v1h-1zM6 8h1v1h-1zM8 8h2v1h-2zM13 8h4v1h-4zM0 9h3v1h-3zM4 9h1v1h-1zM6 9h1v1h-1zM8 9h2v1h-2zM12 9h3v1h-3zM17 9h1v1h-1z"/>
<path fill="#501457" d="M12 0h1v1h-1zM19 0h1v1h-1zM5 2h1v1h-1zM8 2h1v1h-1zM11 2h1v1h-1zM17 2h3v1h-3zM0 4h1v1h-1zM2 4h1v1h-1zM4 4h2v1h-2zM7 4h1v1h-1zM9 4h4v1h-4zM14 4h1v1h-1zM16 4h2v1h-2zM3 5h2v1h-2zM6 5h1v1h-1zM10 5h1v1h-1zM13 5h1v1h-1zM16 5h1v1h-1zM0 6h1v1h-1zM2 6h3v1h-3zM7 6h2v1h-2zM11 6h4v1h-4zM16 6h1v1h-1zM0 8h5v1h-5zM7 8h1v1h-1zM11 8h2v1h-2zM11 9h1v1h-1zM19 9h1v1h-1z"/>
<path fill="#330b37" d="M0 0h1v1h-1zM2 0h2v1h-2zM7 0h1v1h-1zM9 0h1v1h-1zM15 0h2v1h-2zM18 0h1v1h-1zM1 2h1v1h-1zM1 3h2v1h-2zM9 3h1v1h-1zM14 3h2v1h-2zM17 3h1v1h-1zM1 4h1v1h-1zM6 4h1v1h-1zM19 4h1v1h-1zM0 5h2v1h-2zM5 5h1v1h-1zM8 5h2v1h-2zM19 5h1v1h-1zM1 6h1v1h-1zM6 6h1v1h-1zM10 6h1v1h-1zM17 6h1v1h-1zM19 6h1v1h-1zM5 8h1v1h-1zM17 8h3v1h-3zM18 9h1v1h-1z"/>
<path fill="#1d071e" d="M1 0h1v1h-1zM4 0h3v1h-3zM10 0h1v1h-1zM14 0h1v1h-1zM17 0h1v1h-1zM3 3h5v1h-5zM12 3h2v1h-2zM16 3h1v1h-1zM3 4h1v1h-1zM18 4h1v1h-1zM17 5h1v1h-1zM18 6h1v1h-1zM10 8h1v1h-1z"/>
<path fill="#241a14" d="M11 0h1v1h-1zM13 0h1v1h-1zM8 3h1v1h-1zM10 3h1v1h-1zM19 3h1v1h-1z"/>
<path fill="#494318" d="M12 1h1v1h-1zM18 3h1v1h-1zM1 7h1v1h-1z"/>
<path fill="#7b761e" d="M11 3h1v1h-1z"/>
<path fill="#aea923" d="M8 0h1v1h-1z"/>
<path fill="#d8d121" d="M18 5h1v1h-1z"/>
<path fill="#f2eb22" d="M0 3h1v1h-1z"/>
</g>
<g transform="translate(103.10,540.80) scale(1.4250,7.5200)" shape-rendering="crispEdges">
<path fill="#862a8b" d="M6 6h1v1h-1z"/>
<path fill="#6c1e73" d="M6 0h1v1h-1zM7 2h1v1h-1zM2 5h1v1h-1zM2 6h1v1h-1zM4 6h1v1h-1zM16 6h1v1h-1z"/>
<path fill="#501457" d="M0 0h1v1h-1zM3 0h1v1h-1zM8 0h1v1h-1zM10 0h1v1h-1zM3 2h1v1h-1zM5 2h2v1h-2zM19 5h1v1h-1zM1 6h1v1h-1zM7 6h3v1h-3zM13 6h2v1h-2zM13 8h1v1h-1zM1 9h1v1h-1zM7 9h2v1h-2zM16 9h1v1h-1z"/>
<path fill="#330b37" d="M1 0h2v1h-2zM9 0h1v1h-1zM11 0h1v1h-1zM18 0h2v1h-2zM18 1h1v1h-1zM8 2h1v1h-1zM11 2h1v1h-1zM13 2h1v1h-1zM15 2h1v1h-1zM0 5h1v1h-1zM10 5h1v1h-1zM3 6h1v1h-1zM17 6h1v1h-1zM19 6h1v1h-1zM5 9h1v1h-1z"/>
<path fill="#1d071e" d="M12 0h1v1h-1zM14 0h1v1h-1zM9 1h1v1h-1zM19 3h1v1h-1zM1 4h1v1h-1zM15 4h1v1h-1zM0 6h1v1h-1zM10 6h2v1h-2zM7 8h1v1h-1zM12 9h1v1h-1zM19 9h1v1h-1z"/>
<path fill="#241a14" d="M5 0h1v1h-1z"/>
<path fill="#494318" d="M1 5h1v1h-1zM9 5h1v1h-1zM18 8h1v1h-1zM4 9h1v1h-1z"/>
<path fill="#7b761e" d="M4 0h1v1h-1zM13 0h1v1h-1zM15 0h1v1h-1zM7 1h1v1h-1zM1 2h1v1h-1zM12 2h1v1h-1zM6 5h2v1h-2zM15 5h4v1h-4zM5 6h1v1h-1zM15 6h1v1h-1zM15 7h1v1h-1zM17 8h1v1h-1zM11 9h1v1h-1zM14 9h1v1h-1z"/>
<path fill="#aea923" d="M16 0h1v1h-1zM0 1h1v1h-1zM5 1h2v1h-2zM0 2h1v1h-1zM4 2h1v1h-1zM10 2h1v1h-1zM14 2h1v1h-1zM16 2h1v1h-1zM18 2h2v1h-2zM1 3h1v1h-1zM5 3h1v1h-1zM10 3h1v1h-1zM16 3h1v1h-1zM4 4h1v1h-1zM6 4h2v1h-2zM4 5h1v1h-1zM8 5h1v1h-1zM12 5h3v1h-3zM5 7h1v1h-1zM7 7h2v1h-2zM0 8h1v1h-1zM5 8h2v1h-2zM10 8h2v1h-2zM0 9h1v1h-1z"/>
<path fill="#d8d121" d="M17 0h1v1h-1zM2 1h1v1h-1zM4 1h1v1h-1zM10 1h1v1h-1zM14 1h2v1h-2zM19 1h1v1h-1zM2 2h1v1h-1zM0 3h1v1h-1zM2 3h1v1h-1zM4 3h1v1h-1zM6 3h4v1h-4zM11 3h1v1h-1zM13 3h1v1h-1zM15 3h1v1h-1zM18 3h1v1h-1zM2 4h1v1h-1zM14 4h1v1h-1zM18 4h1v1h-1zM18 6h1v1h-1zM0 7h1v1h-1zM6 7h1v1h-1zM9 7h2v1h-2zM16 7h1v1h-1zM1 8h1v1h-1zM9 8h1v1h-1zM15 8h1v1h-1zM9 9h2v1h-2zM15 9h1v1h-1zM17 9h1v1h-1z"/>
<path fill="#f2eb22" d="M7 0h1v1h-1zM1 1h1v1h-1zM8 1h1v1h-1zM13 1h1v1h-1zM16 1h1v1h-1zM9 2h1v1h-1zM3 3h1v1h-1zM12 3h1v1h-1zM0 4h1v1h-1zM3 4h1v1h-1zM5 4h1v1h-1zM9 4h5v1h-5zM16 4h2v1h-2zM19 4h1v1h-1zM5 5h1v1h-1zM11 5h1v1h-1zM1 7h1v1h-1zM3 7h2v1h-2zM11 7h4v1h-4zM18 7h1v1h-1zM2 8h1v1h-1zM4 8h1v1h-1zM8 8h1v1h-1zM12 8h1v1h-1zM14 8h1v1h-1zM16 8h1v1h-1zM2 9h2v1h-2zM6 9h1v1h-1zM18 9h1v1h-1z"/>
<path fill="#f8f228" d="M3 1h1v1h-1zM11 1h2v1h-2zM17 1h1v1h-1zM17 2h1v1h-1zM14 3h1v1h-1zM17 3h1v1h-1zM8 4h1v1h-1zM3 5h1v1h-1zM12 6h1v1h-1zM2 7h1v1h-1zM17 7h1v1h-1zM19 7h1v1h-1zM3 8h1v1h-1zM19 8h1v1h-1zM13 9h1v1h-1z"/>
</g>
<g transform="translate(133.10,540.80) scale(1.4100,7.5200)" shape-rendering="crispEdges">
<path fill="#c65abe" d="M2 2h1v1h-1z"/>
<path fill="#a642a5" d="M0 2h1v1h-1zM4 2h1v1h-1zM6 2h1v1h-1zM11 2h1v1h-1zM15 2h1v1h-1zM9 6h1v1h-1z"/>
<path fill="#862a8b" d="M1 2h1v1h-1zM3 2h1v1h-1zM7 2h4v1h-4zM14 2h1v1h-1zM16 2h3v1h-3zM2 4h1v1h-1zM6 7h1v1h-1zM10 7h3v1h-3zM1 9h1v1h-1zM3 9h1v1h-1zM6 9h1v1h-1zM10 9h1v1h-1zM17 9h1v1h-1z"/>
<path fill="#6c1e73" d="M9 1h1v1h-1zM5 2h1v1h-1zM12 2h2v1h-2zM19 2h1v1h-1zM5 3h1v1h-1zM12 3h1v1h-1zM1 4h1v1h-1zM13 4h2v1h-2zM18 4h1v1h-1zM8 5h1v1h-1zM12 5h1v1h-1zM0 6h1v1h-1zM5 6h1v1h-1zM11 6h1v1h-1zM13 6h1v1h-1zM16 6h1v1h-1zM1 7h5v1h-5zM7 7h2v1h-2zM13 7h4v1h-4zM18 7h2v1h-2zM2 8h1v1h-1zM10 8h1v1h-1zM14 8h1v1h-1zM7 9h2v1h-2zM11 9h1v1h-1zM18 9h2v1h-2z"/>
<path fill="#501457" d="M2 0h1v1h-1zM3 1h2v1h-2zM16 1h1v1h-1zM18 1h1v1h-1zM2 3h2v1h-2zM6 3h1v1h-1zM8 3h4v1h-4zM13 3h1v1h-1zM15 3h1v1h-1zM0 4h1v1h-1zM3 4h2v1h-2zM8 4h1v1h-1zM19 4h1v1h-1zM0 5h1v1h-1zM2 5h2v1h-2zM10 5h1v1h-1zM13 5h1v1h-1zM16 5h4v1h-4zM12 6h1v1h-1zM0 7h1v1h-1zM9 7h1v1h-1zM17 7h1v1h-1zM1 8h1v1h-1zM6 8h1v1h-1zM11 8h2v1h-2zM19 8h1v1h-1zM0 9h1v1h-1zM4 9h1v1h-1zM13 9h4v1h-4z"/>
<path fill="#330b37" d="M3 0h1v1h-1zM6 0h1v1h-1zM9 0h1v1h-1zM15 0h1v1h-1zM17 0h2v1h-2zM10 1h1v1h-1zM14 1h1v1h-1zM19 1h1v1h-1zM0 3h1v1h-1zM4 3h1v1h-1zM14 3h1v1h-1zM16 3h1v1h-1zM18 3h2v1h-2zM6 4h2v1h-2zM15 4h1v1h-1zM4 5h1v1h-1zM6 5h2v1h-2zM11 5h1v1h-1zM7 6h1v1h-1zM15 6h1v1h-1zM5 8h1v1h-1zM7 8h2v1h-2zM13 8h1v1h-1zM15 8h1v1h-1zM18 8h1v1h-1zM12 9h1v1h-1z"/>
<path fill="#1d071e" d="M0 0h1v1h-1zM5 0h1v1h-1zM7 0h2v1h-2zM11 0h3v1h-3zM19 0h1v1h-1zM1 1h1v1h-1zM8 1h1v1h-1zM12 1h1v1h-1zM15 1h1v1h-1zM7 3h1v1h-1zM17 3h1v1h-1zM9 4h1v1h-1zM17 4h1v1h-1zM5 5h1v1h-1zM9 5h1v1h-1zM14 5h1v1h-1zM2 6h1v1h-1zM17 6h2v1h-2zM0 8h1v1h-1zM4 8h1v1h-1zM9 8h1v1h-1zM17 8h1v1h-1zM5 9h1v1h-1z"/>
<path fill="#241a14" d="M4 0h1v1h-1zM14 0h1v1h-1zM17 1h1v1h-1zM5 4h1v1h-1z"/>
<path fill="#494318" d="M16 0h1v1h-1zM0 1h1v1h-1zM2 1h1v1h-1zM13 1h1v1h-1zM2 9h1v1h-1z"/>
<path fill="#7b761e" d="M5 1h1v1h-1zM10 4h2v1h-2zM3 6h1v1h-1zM6 6h1v1h-1zM10 6h1v1h-1z"/>
<path fill="#aea923" d="M1 0h1v1h-1zM6 1h1v1h-1zM1 3h1v1h-1zM16 4h1v1h-1zM1 5h1v1h-1zM15 5h1v1h-1zM1 6h1v1h-1zM8 6h1v1h-1zM16 8h1v1h-1z"/>
<path fill="#d8d121" d="M12 4h1v1h-1zM14 6h1v1h-1zM19 6h1v1h-1z"/>
<path fill="#f2eb22" d="M7 1h1v1h-1zM3 8h1v1h-1zM9 9h1v1h-1z"/>
<path fill="#f8f228" d="M10 0h1v1h-1zM11 1h1v1h-1zM4 6h1v1h-1z"/>
</g>
<g transform="translate(161.30,540.80) scale(1.4000,7.5200)" shape-rendering="crispEdges">
<path fill="#a642a5" d="M5 1h1v1h-1zM10 1h1v1h-1zM17 1h3v1h-3zM12 9h1v1h-1z"/>
<path fill="#862a8b" d="M2 1h3v1h-3zM7 1h3v1h-3zM11 1h6v1h-6zM8 2h2v1h-2zM16 2h3v1h-3zM1 7h1v1h-1zM5 7h1v1h-1zM10 7h1v1h-1zM14 7h2v1h-2zM19 7h1v1h-1zM11 8h1v1h-1zM3 9h1v1h-1zM10 9h1v1h-1z"/>
<path fill="#6c1e73" d="M0 1h2v1h-2zM6 1h1v1h-1zM2 2h1v1h-1zM4 2h1v1h-1zM6 2h2v1h-2zM10 2h5v1h-5zM19 2h1v1h-1zM2 4h1v1h-1zM2 5h1v1h-1zM13 5h1v1h-1zM5 6h1v1h-1zM8 6h1v1h-1zM10 6h2v1h-2zM18 6h1v1h-1zM0 7h1v1h-1zM2 7h1v1h-1zM4 7h1v1h-1zM6 7h1v1h-1zM17 7h2v1h-2zM2 8h1v1h-1zM5 8h2v1h-2zM14 8h1v1h-1zM17 8h1v1h-1zM1 9h2v1h-2zM5 9h1v1h-1zM7 9h3v1h-3zM13 9h2v1h-2zM16 9h1v1h-1zM19 9h1v1h-1z"/>
<path fill="#501457" d="M1 0h1v1h-1zM3 0h2v1h-2zM9 0h1v1h-1zM13 0h1v1h-1zM18 0h1v1h-1zM0 2h1v1h-1zM3 2h1v1h-1zM15 2h1v1h-1zM0 4h2v1h-2zM3 4h4v1h-4zM8 4h1v1h-1zM11 4h1v1h-1zM13 4h3v1h-3zM18 4h1v1h-1zM1 5h1v1h-1zM3 5h2v1h-2zM7 5h1v1h-1zM10 5h1v1h-1zM14 5h2v1h-2zM18 5h2v1h-2zM0 6h2v1h-2zM4 6h1v1h-1zM7 6h1v1h-1zM9 6h1v1h-1zM13 6h1v1h-1zM19 6h1v1h-1zM7 7h3v1h-3zM12 7h2v1h-2zM16 7h1v1h-1zM8 8h2v1h-2zM13 8h1v1h-1zM15 8h1v1h-1zM18 8h2v1h-2zM4 9h1v1h-1zM6 9h1v1h-1zM11 9h1v1h-1zM15 9h1v1h-1zM18 9h1v1h-1z"/>
<path fill="#330b37" d="M2 0h1v1h-1zM12 0h1v1h-1zM16 0h2v1h-2zM19 0h1v1h-1zM1 2h1v1h-1zM4 3h2v1h-2zM9 3h1v1h-1zM11 3h3v1h-3zM15 3h1v1h-1zM17 3h3v1h-3zM7 4h1v1h-1zM9 4h1v1h-1zM12 4h1v1h-1zM16 4h1v1h-1zM19 4h1v1h-1zM0 5h1v1h-1zM5 5h2v1h-2zM8 5h1v1h-1zM11 5h2v1h-2zM16 5h1v1h-1zM2 6h2v1h-2zM6 6h1v1h-1zM12 6h1v1h-1zM15 6h1v1h-1zM17 6h1v1h-1zM3 7h1v1h-1zM0 8h2v1h-2zM3 8h2v1h-2zM10 8h1v1h-1zM12 8h1v1h-1z"/>
<path fill="#1d071e" d="M6 0h3v1h-3zM10 0h2v1h-2zM14 0h2v1h-2zM0 3h3v1h-3zM8 3h1v1h-1zM14 3h1v1h-1zM16 3h1v1h-1zM9 5h1v1h-1zM16 6h1v1h-1zM16 8h1v1h-1z"/>
<path fill="#241a14" d="M0 0h1v1h-1zM5 0h1v1h-1zM6 3h2v1h-2zM10 3h1v1h-1zM11 7h1v1h-1z"/>
<path fill="#494318" d="M3 3h1v1h-1z"/>
<path fill="#7b761e" d="M5 2h1v1h-1zM10 4h1v1h-1zM7 8h1v1h-1zM17 9h1v1h-1z"/>
<path fill="#aea923" d="M17 5h1v1h-1z"/>
<path fill="#d8d121" d="M14 6h1v1h-1zM0 9h1v1h-1z"/>
<path fill="#f2eb22" d="M17 4h1v1h-1z"/>
</g>
<g transform="translate(189.30,540.80) scale(1.4250,7.5200)" shape-rendering="crispEdges">
<path fill="#862a8b" d="M2 0h1v1h-1z"/>
<path fill="#6c1e73" d="M13 0h1v1h-1zM12 5h1v1h-1z"/>
<path fill="#501457" d="M4 0h1v1h-1zM17 0h1v1h-1zM3 4h1v1h-1zM5 5h1v1h-1zM16 5h1v1h-1z"/>
<path fill="#330b37" d="M5 0h1v1h-1zM19 5h1v1h-1zM4 7h1v1h-1zM4 8h1v1h-1zM8 9h1v1h-1z"/>
<path fill="#1d071e" d="M15 0h1v1h-1zM0 3h1v1h-1zM3 3h1v1h-1zM13 5h1v1h-1zM14 6h1v1h-1zM11 8h1v1h-1zM18 9h1v1h-1z"/>
<path fill="#241a14" d="M0 2h1v1h-1zM4 5h1v1h-1zM7 5h1v1h-1zM14 5h1v1h-1zM2 6h1v1h-1zM13 6h1v1h-1zM12 7h1v1h-1zM16 9h1v1h-1z"/>
<path fill="#494318" d="M6 0h1v1h-1zM9 0h1v1h-1zM12 0h1v1h-1zM0 6h1v1h-1z"/>
<path fill="#7b761e" d="M11 0h1v1h-1zM18 0h1v1h-1zM5 2h1v1h-1zM9 3h1v1h-1zM0 5h1v1h-1zM10 5h1v1h-1zM9 7h1v1h-1zM4 9h1v1h-1zM12 9h1v1h-1z"/>
<path fill="#aea923" d="M0 0h1v1h-1zM7 0h2v1h-2zM14 0h1v1h-1zM16 0h1v1h-1zM19 0h1v1h-1zM0 1h1v1h-1zM6 1h1v1h-1zM8 1h1v1h-1zM12 1h1v1h-1zM14 1h2v1h-2zM17 1h1v1h-1zM4 3h2v1h-2zM18 3h1v1h-1zM0 4h1v1h-1zM8 4h1v1h-1zM12 4h1v1h-1zM2 5h2v1h-2zM9 5h1v1h-1zM7 6h2v1h-2zM18 6h2v1h-2zM0 7h1v1h-1zM7 7h1v1h-1zM2 8h1v1h-1zM6 8h1v1h-1zM9 8h1v1h-1zM0 9h1v1h-1zM11 9h1v1h-1z"/>
<path fill="#d8d121" d="M1 1h1v1h-1zM4 1h1v1h-1zM10 1h1v1h-1zM18 1h2v1h-2zM2 2h3v1h-3zM8 2h5v1h-5zM16 2h3v1h-3zM2 3h1v1h-1zM8 3h1v1h-1zM12 3h1v1h-1zM14 3h2v1h-2zM19 3h1v1h-1zM2 4h1v1h-1zM4 4h2v1h-2zM7 4h1v1h-1zM9 4h1v1h-1zM14 4h2v1h-2zM18 4h1v1h-1zM8 5h1v1h-1zM15 5h1v1h-1zM18 5h1v1h-1zM4 6h1v1h-1zM6 6h1v1h-1zM9 6h1v1h-1zM12 6h1v1h-1zM5 7h1v1h-1zM8 7h1v1h-1zM10 7h2v1h-2zM14 7h1v1h-1zM3 8h1v1h-1zM7 8h2v1h-2zM10 8h1v1h-1zM14 8h1v1h-1zM19 8h1v1h-1zM3 9h1v1h-1zM5 9h1v1h-1zM7 9h1v1h-1zM17 9h1v1h-1zM19 9h1v1h-1z"/>
<path fill="#f2eb22" d="M1 0h1v1h-1zM2 1h2v1h-2zM5 1h1v1h-1zM9 1h1v1h-1zM11 1h1v1h-1zM16 1h1v1h-1zM1 2h1v1h-1zM6 2h2v1h-2zM14 2h2v1h-2zM10 3h2v1h-2zM13 3h1v1h-1zM17 3h1v1h-1zM1 4h1v1h-1zM6 4h1v1h-1zM10 4h1v1h-1zM13 4h1v1h-1zM16 4h2v1h-2zM19 4h1v1h-1zM1 5h1v1h-1zM6 5h1v1h-1zM11 5h1v1h-1zM1 6h1v1h-1zM3 6h1v1h-1zM5 6h1v1h-1zM10 6h1v1h-1zM15 6h3v1h-3zM1 7h2v1h-2zM6 7h1v1h-1zM13 7h1v1h-1zM15 7h5v1h-5zM0 8h1v1h-1zM5 8h1v1h-1zM12 8h1v1h-1zM15 8h2v1h-2zM18 8h1v1h-1zM1 9h2v1h-2zM6 9h1v1h-1zM9 9h1v1h-1zM13 9h3v1h-3z"/>
<path fill="#f8f228" d="M3 0h1v1h-1zM10 0h1v1h-1zM7 1h1v1h-1zM13 1h1v1h-1zM13 2h1v1h-1zM19 2h1v1h-1zM1 3h1v1h-1zM6 3h2v1h-2zM16 3h1v1h-1zM11 4h1v1h-1zM17 5h1v1h-1zM11 6h1v1h-1zM3 7h1v1h-1zM1 8h1v1h-1zM13 8h1v1h-1zM17 8h1v1h-1zM10 9h1v1h-1z"/>
</g>
<g transform="translate(219.30,540.80) scale(1.4150,7.5200)" shape-rendering="crispEdges">
<path fill="#a642a5" d="M0 2h1v1h-1zM2 2h1v1h-1zM5 2h1v1h-1zM10 2h1v1h-1zM14 2h1v1h-1zM1 7h1v1h-1z"/>
<path fill="#862a8b" d="M5 1h1v1h-1zM3 2h2v1h-2zM9 2h1v1h-1zM11 2h1v1h-1zM13 2h1v1h-1zM15 2h2v1h-2zM12 5h1v1h-1zM16 5h2v1h-2zM5 6h1v1h-1zM14 6h1v1h-1zM0 7h1v1h-1zM3 7h1v1h-1zM5 7h1v1h-1zM8 7h2v1h-2zM11 7h1v1h-1zM16 7h1v1h-1zM2 9h1v1h-1zM11 9h1v1h-1zM14 9h2v1h-2z"/>
<path fill="#6c1e73" d="M1 1h2v1h-2zM9 1h1v1h-1zM1 2h1v1h-1zM7 2h2v1h-2zM12 2h1v1h-1zM17 2h3v1h-3zM0 3h1v1h-1zM5 3h1v1h-1zM9 3h1v1h-1zM16 3h2v1h-2zM0 4h1v1h-1zM9 4h1v1h-1zM11 4h1v1h-1zM15 4h1v1h-1zM1 5h1v1h-1zM3 5h1v1h-1zM5 5h1v1h-1zM8 5h2v1h-2zM17 6h1v1h-1zM2 7h1v1h-1zM10 7h1v1h-1zM13 7h1v1h-1zM15 7h1v1h-1zM19 7h1v1h-1zM5 8h1v1h-1zM16 8h2v1h-2zM0 9h2v1h-2zM3 9h5v1h-5zM12 9h1v1h-1zM17 9h1v1h-1zM19 9h1v1h-1z"/>
<path fill="#501457" d="M14 0h1v1h-1zM17 0h1v1h-1zM7 1h1v1h-1zM11 1h2v1h-2zM14 1h2v1h-2zM19 1h1v1h-1zM1 3h4v1h-4zM6 3h2v1h-2zM2 4h1v1h-1zM6 4h2v1h-2zM10 4h1v1h-1zM17 4h1v1h-1zM10 5h1v1h-1zM19 5h1v1h-1zM0 6h3v1h-3zM12 6h1v1h-1zM15 6h1v1h-1zM18 6h1v1h-1zM7 7h1v1h-1zM12 7h1v1h-1zM14 7h1v1h-1zM17 7h2v1h-2zM0 8h1v1h-1zM4 8h1v1h-1zM14 8h1v1h-1zM19 8h1v1h-1zM8 9h3v1h-3zM13 9h1v1h-1zM16 9h1v1h-1zM18 9h1v1h-1z"/>
<path fill="#330b37" d="M7 0h2v1h-2zM12 0h1v1h-1zM15 0h1v1h-1zM3 1h2v1h-2zM6 1h1v1h-1zM10 1h1v1h-1zM16 1h2v1h-2zM8 3h1v1h-1zM10 3h2v1h-2zM13 3h2v1h-2zM14 4h1v1h-1zM16 4h1v1h-1zM6 5h2v1h-2zM15 5h1v1h-1zM18 5h1v1h-1zM3 6h1v1h-1zM6 6h1v1h-1zM9 6h2v1h-2zM13 6h1v1h-1zM19 6h1v1h-1zM4 7h1v1h-1zM6 7h1v1h-1zM2 8h1v1h-1zM7 8h1v1h-1zM9 8h3v1h-3zM18 8h1v1h-1z"/>
<path fill="#1d071e" d="M0 0h2v1h-2zM5 0h2v1h-2zM9 0h3v1h-3zM13 0h1v1h-1zM0 1h1v1h-1zM8 1h1v1h-1zM13 1h1v1h-1zM18 3h2v1h-2zM3 4h1v1h-1zM12 4h1v1h-1zM0 5h1v1h-1zM4 5h1v1h-1zM4 6h1v1h-1zM11 6h1v1h-1zM6 8h1v1h-1zM12 8h1v1h-1zM15 8h1v1h-1z"/>
<path fill="#241a14" d="M2 0h1v1h-1zM4 0h1v1h-1zM2 5h1v1h-1zM11 5h1v1h-1zM8 6h1v1h-1zM8 8h1v1h-1zM13 8h1v1h-1z"/>
<path fill="#494318" d="M19 0h1v1h-1zM5 4h1v1h-1z"/>
<path fill="#7b761e" d="M18 0h1v1h-1zM18 1h1v1h-1zM18 4h1v1h-1zM7 6h1v1h-1zM16 6h1v1h-1z"/>
<path fill="#aea923" d="M3 0h1v1h-1zM16 0h1v1h-1zM4 4h1v1h-1zM8 4h1v1h-1zM13 4h1v1h-1zM19 4h1v1h-1zM13 5h2v1h-2zM1 8h1v1h-1z"/>
<path fill="#d8d121" d="M6 2h1v1h-1zM1 4h1v1h-1zM3 8h1v1h-1z"/>
<path fill="#f8f228" d="M12 3h1v1h-1zM15 3h1v1h-1z"/>
</g>
<g transform="translate(247.60,540.80) scale(1.4200,7.5200)" shape-rendering="crispEdges">
<path fill="#a642a5" d="M4 1h1v1h-1zM8 1h1v1h-1zM13 1h2v1h-2zM19 1h1v1h-1zM3 2h1v1h-1zM16 4h1v1h-1z"/>
<path fill="#862a8b" d="M3 1h1v1h-1zM5 1h1v1h-1zM7 1h1v1h-1zM9 1h4v1h-4zM15 1h1v1h-1zM17 1h1v1h-1zM6 2h1v1h-1zM10 2h1v1h-1zM17 2h1v1h-1zM8 6h1v1h-1zM0 7h1v1h-1zM13 7h2v1h-2zM19 7h1v1h-1zM0 9h1v1h-1zM13 9h1v1h-1zM17 9h1v1h-1z"/>
<path fill="#6c1e73" d="M0 1h3v1h-3zM18 1h1v1h-1zM2 2h1v1h-1zM4 2h2v1h-2zM7 2h3v1h-3zM11 2h1v1h-1zM14 2h1v1h-1zM18 2h2v1h-2zM0 3h1v1h-1zM2 4h1v1h-1zM6 4h1v1h-1zM8 4h1v1h-1zM19 4h1v1h-1zM0 6h1v1h-1zM4 6h1v1h-1zM10 6h1v1h-1zM14 6h1v1h-1zM19 6h1v1h-1zM2 7h2v1h-2zM5 7h4v1h-4zM15 7h1v1h-1zM17 7h1v1h-1zM0 8h1v1h-1zM4 8h1v1h-1zM4 9h2v1h-2zM7 9h2v1h-2zM10 9h3v1h-3zM14 9h1v1h-1zM16 9h1v1h-1zM18 9h2v1h-2z"/>
<path fill="#501457" d="M3 0h1v1h-1zM6 0h1v1h-1zM0 2h2v1h-2zM12 2h2v1h-2zM15 2h2v1h-2zM0 4h2v1h-2zM3 4h3v1h-3zM7 4h1v1h-1zM10 4h1v1h-1zM12 4h1v1h-1zM14 4h2v1h-2zM18 4h1v1h-1zM0 5h1v1h-1zM4 5h4v1h-4zM10 5h1v1h-1zM12 5h1v1h-1zM17 5h3v1h-3zM1 6h1v1h-1zM5 6h1v1h-1zM9 6h1v1h-1zM17 6h1v1h-1zM1 7h1v1h-1zM9 7h3v1h-3zM16 7h1v1h-1zM1 8h1v1h-1zM7 8h2v1h-2zM10 8h5v1h-5zM16 8h1v1h-1zM19 8h1v1h-1zM1 9h2v1h-2zM6 9h1v1h-1zM9 9h1v1h-1zM15 9h1v1h-1z"/>
<path fill="#330b37" d="M0 0h1v1h-1zM5 0h1v1h-1zM8 0h1v1h-1zM13 0h2v1h-2zM17 0h1v1h-1zM19 0h1v1h-1zM1 3h4v1h-4zM8 3h2v1h-2zM12 3h1v1h-1zM14 3h1v1h-1zM17 3h1v1h-1zM19 3h1v1h-1zM9 4h1v1h-1zM13 4h1v1h-1zM17 4h1v1h-1zM2 5h2v1h-2zM8 5h1v1h-1zM11 5h1v1h-1zM13 5h1v1h-1zM16 5h1v1h-1zM2 6h2v1h-2zM7 6h1v1h-1zM12 6h2v1h-2zM15 6h2v1h-2zM18 6h1v1h-1zM12 7h1v1h-1zM2 8h2v1h-2zM5 8h2v1h-2zM15 8h1v1h-1zM18 8h1v1h-1z"/>
<path fill="#1d071e" d="M2 0h1v1h-1zM4 0h1v1h-1zM7 0h1v1h-1zM9 0h1v1h-1zM11 0h2v1h-2zM16 0h1v1h-1zM18 0h1v1h-1zM5 3h3v1h-3zM10 3h2v1h-2zM13 3h1v1h-1zM16 3h1v1h-1zM18 3h1v1h-1zM11 4h1v1h-1zM15 5h1v1h-1zM9 8h1v1h-1z"/>
<path fill="#241a14" d="M1 0h1v1h-1zM15 0h1v1h-1z"/>
<path fill="#494318" d="M10 0h1v1h-1z"/>
<path fill="#aea923" d="M6 1h1v1h-1zM16 1h1v1h-1zM9 5h1v1h-1zM4 7h1v1h-1zM18 7h1v1h-1zM17 8h1v1h-1zM3 9h1v1h-1z"/>
<path fill="#d8d121" d="M15 3h1v1h-1zM14 5h1v1h-1zM6 6h1v1h-1zM11 6h1v1h-1z"/>
<path fill="#f2eb22" d="M1 5h1v1h-1z"/>
</g>
<g transform="translate(276.00,540.80) scale(1.4000,7.5200)" shape-rendering="crispEdges">
<path fill="#862a8b" d="M10 5h1v1h-1z"/>
<path fill="#6c1e73" d="M10 0h1v1h-1zM2 5h1v1h-1zM15 5h1v1h-1z"/>
<path fill="#501457" d="M19 5h1v1h-1zM11 6h1v1h-1zM1 7h1v1h-1z"/>
<path fill="#330b37" d="M0 0h1v1h-1zM13 0h1v1h-1zM18 0h1v1h-1zM11 3h1v1h-1zM2 4h1v1h-1zM11 5h1v1h-1zM17 5h1v1h-1zM3 9h1v1h-1z"/>
<path fill="#1d071e" d="M12 3h1v1h-1zM19 3h1v1h-1zM5 4h1v1h-1zM6 5h1v1h-1zM3 6h1v1h-1z"/>
<path fill="#241a14" d="M3 4h1v1h-1zM5 5h1v1h-1zM16 5h1v1h-1zM2 7h1v1h-1zM8 9h1v1h-1zM12 9h1v1h-1z"/>
<path fill="#494318" d="M5 0h1v1h-1zM7 3h1v1h-1zM1 5h1v1h-1zM14 5h1v1h-1zM15 6h1v1h-1z"/>
<path fill="#7b761e" d="M1 0h1v1h-1zM4 0h1v1h-1zM15 0h1v1h-1zM13 1h1v1h-1zM5 2h1v1h-1zM1 3h1v1h-1zM8 3h2v1h-2zM0 5h1v1h-1zM8 5h1v1h-1zM8 8h1v1h-1zM10 9h1v1h-1z"/>
<path fill="#aea923" d="M3 0h1v1h-1zM8 0h1v1h-1zM12 0h1v1h-1zM16 0h1v1h-1zM19 0h1v1h-1zM18 1h1v1h-1zM1 2h1v1h-1zM2 3h1v1h-1zM8 4h1v1h-1zM14 4h2v1h-2zM19 4h1v1h-1zM7 5h1v1h-1zM9 5h1v1h-1zM12 5h1v1h-1zM2 6h1v1h-1zM7 6h1v1h-1zM13 6h1v1h-1zM6 7h1v1h-1zM10 7h2v1h-2zM13 7h1v1h-1zM19 7h1v1h-1zM2 8h1v1h-1zM10 8h1v1h-1zM15 8h1v1h-1zM2 9h1v1h-1zM14 9h3v1h-3z"/>
<path fill="#d8d121" d="M2 0h1v1h-1zM9 0h1v1h-1zM11 0h1v1h-1zM14 0h1v1h-1zM17 0h1v1h-1zM1 1h1v1h-1zM4 1h1v1h-1zM7 1h2v1h-2zM10 1h1v1h-1zM14 1h1v1h-1zM16 1h1v1h-1zM2 2h2v1h-2zM8 2h2v1h-2zM13 2h1v1h-1zM19 2h1v1h-1zM3 3h1v1h-1zM15 3h1v1h-1zM18 3h1v1h-1zM7 4h1v1h-1zM9 4h1v1h-1zM11 4h1v1h-1zM13 4h1v1h-1zM3 5h2v1h-2zM18 5h1v1h-1zM1 6h1v1h-1zM4 6h2v1h-2zM9 6h2v1h-2zM16 6h1v1h-1zM19 6h1v1h-1zM0 7h1v1h-1zM3 7h1v1h-1zM8 7h2v1h-2zM15 7h1v1h-1zM18 7h1v1h-1zM3 8h2v1h-2zM6 8h1v1h-1zM9 8h1v1h-1zM13 8h2v1h-2zM16 8h1v1h-1zM19 8h1v1h-1zM0 9h2v1h-2zM6 9h1v1h-1zM9 9h1v1h-1zM11 9h1v1h-1zM13 9h1v1h-1zM19 9h1v1h-1z"/>
<path fill="#f2eb22" d="M6 0h2v1h-2zM2 1h2v1h-2zM6 1h1v1h-1zM9 1h1v1h-1zM11 1h1v1h-1zM15 1h1v1h-1zM17 1h1v1h-1zM19 1h1v1h-1zM0 2h1v1h-1zM4 2h1v1h-1zM6 2h2v1h-2zM10 2h3v1h-3zM14 2h5v1h-5zM4 3h1v1h-1zM6 3h1v1h-1zM10 3h1v1h-1zM13 3h2v1h-2zM16 3h1v1h-1zM0 4h2v1h-2zM6 4h1v1h-1zM10 4h1v1h-1zM16 4h1v1h-1zM18 4h1v1h-1zM13 5h1v1h-1zM0 6h1v1h-1zM6 6h1v1h-1zM8 6h1v1h-1zM12 6h1v1h-1zM14 6h1v1h-1zM4 7h2v1h-2zM7 7h1v1h-1zM12 7h1v1h-1zM14 7h1v1h-1zM1 8h1v1h-1zM7 8h1v1h-1zM11 8h2v1h-2zM18 8h1v1h-1zM5 9h1v1h-1z"/>
<path fill="#f8f228" d="M0 1h1v1h-1zM5 1h1v1h-1zM12 1h1v1h-1zM0 3h1v1h-1zM5 3h1v1h-1zM17 3h1v1h-1zM4 4h1v1h-1zM12 4h1v1h-1zM17 4h1v1h-1zM17 6h2v1h-2zM16 7h2v1h-2zM0 8h1v1h-1zM5 8h1v1h-1zM17 8h1v1h-1zM4 9h1v1h-1zM7 9h1v1h-1zM17 9h2v1h-2z"/>
</g>
</g>
<rect x="74.15" y="386.5" width="1.1" height="229.5" fill="#fff"/>
<rect x="102.60" y="386.5" width="1.1" height="229.5" fill="#fff"/>
<rect x="160.80" y="386.5" width="1.1" height="229.5" fill="#fff"/>
<rect x="188.80" y="386.5" width="1.1" height="229.5" fill="#fff"/>
<rect x="247.10" y="386.5" width="1.1" height="229.5" fill="#fff"/>
<rect x="275.50" y="386.5" width="1.1" height="229.5" fill="#fff"/>
<rect x="131.60" y="380.5" width="1.50" height="236" fill="#fff"/>
<rect x="217.80" y="380.5" width="1.50" height="236" fill="#fff"/>
<rect x="46.3" y="462.80" width="257.7" height="1" fill="#fff"/>
<rect x="46.3" y="539.80" width="257.7" height="1" fill="#fff"/>
<rect x="46.30" y="380.7" width="28.35" height="5.8" fill="#c6b0d8"/>
<rect x="74.65" y="380.7" width="28.45" height="5.8" fill="#c49a90"/>
<rect x="103.10" y="380.7" width="28.50" height="5.8" fill="#f4b6d2"/>
<rect x="133.10" y="380.7" width="28.20" height="5.8" fill="#c6b0d8"/>
<rect x="161.30" y="380.7" width="28.00" height="5.8" fill="#c49a90"/>
<rect x="189.30" y="380.7" width="28.50" height="5.8" fill="#f4b6d2"/>
<rect x="219.30" y="380.7" width="28.30" height="5.8" fill="#c6b0d8"/>
<rect x="247.60" y="380.7" width="28.40" height="5.8" fill="#c49a90"/>
<rect x="276.00" y="380.7" width="28.00" height="5.8" fill="#f4b6d2"/>
<rect x="49" y="376.2" width="80.8" height="1.5" fill="#4a4a4a"/>
<rect x="134.6" y="376.2" width="80.9" height="1.5" fill="#4a4a4a"/>
<rect x="220.7" y="376.2" width="81.8" height="1.5" fill="#4a4a4a"/>
<text x="93" y="363.4" font-size="10" font-weight="bold" text-anchor="middle" fill="#231f20">Albino</text>
<text x="94" y="371.8" font-size="9" font-weight="bold" font-style="italic" text-anchor="middle" fill="#231f20">Braf<tspan font-size="4.6" dy="-3.4">CA/+</tspan></text>
<text x="177.8" y="363.4" font-size="10" font-weight="bold" text-anchor="middle" fill="#231f20">Albino</text>
<text x="176.5" y="371.8" font-size="9" font-weight="bold" font-style="italic" text-anchor="middle" fill="#231f20">Braf<tspan font-size="4.6" dy="-3.4">CA/+</tspan><tspan dy="3.4"> ;Pten</tspan><tspan font-size="4.6" dy="-3.4">Δ/+</tspan></text>
<text x="265" y="363.4" font-size="10" font-weight="bold" text-anchor="middle" fill="#231f20">Black</text>
<text x="263.5" y="371.8" font-size="9" font-weight="bold" font-style="italic" text-anchor="middle" fill="#231f20">Braf<tspan font-size="4.6" dy="-3.4">CA/+</tspan><tspan dy="3.4"> ;Pten</tspan><tspan font-size="4.6" dy="-3.4">Δ/+</tspan></text>
<text x="45.6" y="393.62" font-size="8.3" font-style="italic" text-anchor="end" fill="#6548a8">Mgp</text>
<text x="45.6" y="401.25" font-size="8.3" font-style="italic" text-anchor="end" fill="#6548a8">Fap</text>
<text x="45.6" y="408.88" font-size="8.3" font-style="italic" text-anchor="end" fill="#6548a8">Cdh11</text>
<text x="45.6" y="416.50" font-size="8.3" font-style="italic" text-anchor="end" fill="#6548a8">Pdgfrb</text>
<text x="45.6" y="424.13" font-size="8.3" font-style="italic" text-anchor="end" fill="#6548a8">Il6st</text>
<text x="45.6" y="431.76" font-size="8.3" font-style="italic" text-anchor="end" fill="#6548a8">Cygb</text>
<text x="45.6" y="439.39" font-size="8.3" font-style="italic" text-anchor="end" fill="#6548a8">Olfml3</text>
<text x="45.6" y="447.03" font-size="8.3" font-style="italic" text-anchor="end" fill="#6548a8">Bicc1</text>
<text x="45.6" y="454.66" font-size="8.3" font-style="italic" text-anchor="end" fill="#6548a8">Col6a3</text>
<text x="45.6" y="462.29" font-size="8.3" font-style="italic" text-anchor="end" fill="#6548a8">Fbn2</text>
<text x="45.6" y="470.90" font-size="8.3" font-style="italic" text-anchor="end" fill="#9b7f6c">Ctss</text>
<text x="45.6" y="478.50" font-size="8.3" font-style="italic" text-anchor="end" fill="#9b7f6c">Laptm5</text>
<text x="45.6" y="486.10" font-size="8.3" font-style="italic" text-anchor="end" fill="#9b7f6c">Cx3cr1</text>
<text x="45.6" y="493.70" font-size="8.3" font-style="italic" text-anchor="end" fill="#9b7f6c">Mrc1</text>
<text x="45.6" y="501.30" font-size="8.3" font-style="italic" text-anchor="end" fill="#9b7f6c">Trem2</text>
<text x="45.6" y="508.90" font-size="8.3" font-style="italic" text-anchor="end" fill="#9b7f6c">Ccr2</text>
<text x="45.6" y="516.50" font-size="8.3" font-style="italic" text-anchor="end" fill="#9b7f6c">Stab1</text>
<text x="45.6" y="524.10" font-size="8.3" font-style="italic" text-anchor="end" fill="#9b7f6c">Mpeg1</text>
<text x="45.6" y="531.70" font-size="8.3" font-style="italic" text-anchor="end" fill="#9b7f6c">Lcp1</text>
<text x="45.6" y="539.30" font-size="8.3" font-style="italic" text-anchor="end" fill="#9b7f6c">Tyrobp</text>
<text x="45.6" y="547.86" font-size="8.3" font-style="italic" text-anchor="end" fill="#c46478">S100b</text>
<text x="45.6" y="555.38" font-size="8.3" font-style="italic" text-anchor="end" fill="#c46478">Postn</text>
<text x="45.6" y="562.90" font-size="8.3" font-style="italic" text-anchor="end" fill="#c46478">Col20a1</text>
<text x="45.6" y="570.42" font-size="8.3" font-style="italic" text-anchor="end" fill="#c46478">L1cam</text>
<text x="45.6" y="577.94" font-size="8.3" font-style="italic" text-anchor="end" fill="#c46478">Mcam</text>
<text x="45.6" y="585.46" font-size="8.3" font-style="italic" text-anchor="end" fill="#c46478">Tnc</text>
<text x="45.6" y="592.98" font-size="8.3" font-style="italic" text-anchor="end" fill="#c46478">Vcan</text>
<text x="45.6" y="600.50" font-size="8.3" font-style="italic" text-anchor="end" fill="#c46478">Plp1</text>
<text x="45.6" y="608.02" font-size="8.3" font-style="italic" text-anchor="end" fill="#c46478">Gpm6b</text>
<text x="45.6" y="615.54" font-size="8.3" font-style="italic" text-anchor="end" fill="#c46478">Ptprz1</text>
<rect x="10.4" y="386.7" width="1.2" height="75.8" fill="#7450b0"/>
<rect x="10.4" y="466.4" width="1.2" height="70.6" fill="#a08266"/>
<rect x="10.4" y="543.4" width="1.2" height="72.8" fill="#d07486"/>
<text transform="translate(9.2,423.2) rotate(-90)" font-size="10" font-weight="bold" fill="#6e44a8" text-anchor="middle">CAF</text>
<text transform="translate(9.2,505.4) rotate(-90)" font-size="10" font-weight="bold" fill="#9c7b5e" text-anchor="middle">TAM</text>
<text transform="translate(9.2,578.4) rotate(-90)" font-size="10" font-weight="bold" fill="#cc6a80" text-anchor="middle">Tumor</text>
<defs><linearGradient id="cb305" x1="0" y1="0" x2="0" y2="1"><stop offset="0" stop-color="#ece51f"/><stop offset="0.28" stop-color="#8f8a2c"/><stop offset="0.5" stop-color="#000"/><stop offset="0.72" stop-color="#5c1c64"/><stop offset="1" stop-color="#c65bbd"/></linearGradient></defs>
<rect x="305.7" y="545.4" width="7.2" height="70.6" fill="url(#cb305)"/>
<text x="306.5" y="543.8" font-size="7.2" fill="#333">Exp.</text>
<text x="314.5" y="556.5" font-size="7.2" fill="#333">2</text>
<text x="314.5" y="570.1" font-size="7.2" fill="#333">1</text>
<text x="314.5" y="583.5" font-size="7.2" fill="#333">0</text>
<text x="313.09999999999997" y="597.9" font-size="7.2" fill="#333">-1</text>
<text x="313.09999999999997" y="611.4" font-size="7.2" fill="#333">-2</text>
<defs><linearGradient id="cb671" x1="0" y1="0" x2="0" y2="1"><stop offset="0" stop-color="#ece51f"/><stop offset="0.28" stop-color="#8f8a2c"/><stop offset="0.5" stop-color="#000"/><stop offset="0.72" stop-color="#5c1c64"/><stop offset="1" stop-color="#c65bbd"/></linearGradient></defs>
<rect x="671.8" y="547" width="6.6" height="69.3" fill="url(#cb671)"/>
<text x="669.6999999999999" y="545.4" font-size="7.2" fill="#333">Exp.</text>
<text x="680.0" y="558.8" font-size="7.2" fill="#333">2</text>
<text x="680.0" y="571.2" font-size="7.2" fill="#333">1</text>
<text x="680.0" y="585.0" font-size="7.2" fill="#333">0</text>
<text x="678.6" y="598.5" font-size="7.2" fill="#333">-1</text>
<text x="678.6" y="612.2" font-size="7.2" fill="#333">-2</text>
<text x="318.8" y="331.5" font-size="21" font-weight="bold" fill="#111">d</text>
<text x="408.6" y="306" font-size="9" font-weight="bold" fill="#b97a9c">Principal Tumor</text>
<path d="M363.3,310 V307.6 H520.4 V310" fill="none" stroke="#555" stroke-width="0.9"/>
<rect x="355.5" y="333.2" width="44.6" height="8" fill="#a6cee3"/>
<rect x="400.1" y="333.2" width="44.2" height="8" fill="#1f78b4"/>
<rect x="444.3" y="333.2" width="44.7" height="8" fill="#b2df8a"/>
<rect x="489.0" y="333.2" width="44.9" height="8" fill="#fdbf6f"/>
<rect x="533.9" y="333.2" width="44.3" height="8" fill="#cab2d6"/>
<rect x="578.2" y="333.2" width="44.8" height="8" fill="#fb9a99"/>
<rect x="623.0" y="333.2" width="44.9" height="8" fill="#e31a1c"/>
<g filter="url(#hb)">
<g transform="translate(355.50,343.90) scale(1.2389,5.5375)" shape-rendering="crispEdges">
<path fill="#a642a5" d="M13 2h1v1h-1zM18 2h1v1h-1zM18 5h1v1h-1zM5 6h1v1h-1z"/>
<path fill="#862a8b" d="M29 1h1v1h-1zM11 2h1v1h-1zM12 4h1v1h-1zM27 4h1v1h-1zM1 6h1v1h-1zM7 6h1v1h-1zM10 6h1v1h-1zM17 6h1v1h-1zM2 7h1v1h-1zM10 7h1v1h-1zM13 7h1v1h-1zM32 7h1v1h-1z"/>
<path fill="#6c1e73" d="M17 0h1v1h-1zM4 1h3v1h-3zM12 1h1v1h-1zM14 1h1v1h-1zM18 1h1v1h-1zM14 2h1v1h-1zM31 2h1v1h-1zM8 4h1v1h-1zM4 5h3v1h-3zM9 5h2v1h-2zM19 5h1v1h-1zM24 5h1v1h-1zM28 5h1v1h-1zM6 6h1v1h-1zM31 6h1v1h-1zM34 6h1v1h-1zM11 7h1v1h-1zM18 7h1v1h-1zM22 7h1v1h-1z"/>
<path fill="#501457" d="M2 0h1v1h-1zM8 0h1v1h-1zM10 0h1v1h-1zM13 0h1v1h-1zM15 0h1v1h-1zM31 0h1v1h-1zM33 0h1v1h-1zM8 1h1v1h-1zM11 1h1v1h-1zM15 1h1v1h-1zM17 1h1v1h-1zM21 1h1v1h-1zM23 1h1v1h-1zM25 1h1v1h-1zM28 1h1v1h-1zM32 1h1v1h-1zM34 1h1v1h-1zM1 2h1v1h-1zM4 2h1v1h-1zM6 2h3v1h-3zM10 2h1v1h-1zM24 2h1v1h-1zM15 3h1v1h-1zM25 3h1v1h-1zM2 4h1v1h-1zM14 4h1v1h-1zM34 4h1v1h-1zM13 5h1v1h-1zM16 5h2v1h-2zM20 5h2v1h-2zM31 5h1v1h-1zM34 5h1v1h-1zM2 6h1v1h-1zM11 6h1v1h-1zM18 6h1v1h-1zM21 6h1v1h-1zM24 6h1v1h-1zM1 7h1v1h-1zM3 7h2v1h-2zM15 7h1v1h-1zM24 7h1v1h-1zM26 7h1v1h-1zM29 7h1v1h-1z"/>
<path fill="#330b37" d="M5 0h1v1h-1zM7 0h1v1h-1zM14 0h1v1h-1zM24 0h2v1h-2zM27 0h2v1h-2zM30 0h1v1h-1zM34 0h1v1h-1zM1 1h1v1h-1zM3 1h1v1h-1zM7 1h1v1h-1zM27 1h1v1h-1zM16 2h1v1h-1zM20 2h1v1h-1zM29 2h2v1h-2zM32 2h1v1h-1zM2 3h1v1h-1zM20 3h1v1h-1zM33 3h1v1h-1zM4 4h1v1h-1zM22 4h1v1h-1zM33 4h1v1h-1zM0 5h1v1h-1zM7 5h1v1h-1zM11 5h1v1h-1zM32 5h2v1h-2zM35 5h1v1h-1zM8 6h2v1h-2zM13 6h1v1h-1zM16 6h1v1h-1zM25 6h1v1h-1zM28 6h1v1h-1zM5 7h1v1h-1zM14 7h1v1h-1zM17 7h1v1h-1zM20 7h2v1h-2zM27 7h2v1h-2zM34 7h1v1h-1z"/>
<path fill="#1d071e" d="M11 0h1v1h-1zM23 0h1v1h-1zM35 0h1v1h-1zM0 1h1v1h-1zM16 1h1v1h-1zM19 1h1v1h-1zM5 2h1v1h-1zM17 2h1v1h-1zM19 2h1v1h-1zM21 2h1v1h-1zM34 2h1v1h-1zM6 3h1v1h-1zM11 3h1v1h-1zM18 3h1v1h-1zM16 4h1v1h-1zM30 4h1v1h-1zM3 5h1v1h-1zM15 5h1v1h-1zM27 5h1v1h-1zM29 5h2v1h-2zM3 6h1v1h-1zM23 6h1v1h-1zM19 7h1v1h-1zM23 7h1v1h-1zM30 7h2v1h-2zM35 7h1v1h-1z"/>
<path fill="#241a14" d="M12 0h1v1h-1zM18 0h1v1h-1zM9 2h1v1h-1zM22 2h1v1h-1zM28 2h1v1h-1zM19 3h1v1h-1zM25 4h1v1h-1zM22 5h1v1h-1zM29 6h2v1h-2zM9 7h1v1h-1z"/>
<path fill="#494318" d="M19 0h1v1h-1zM32 0h1v1h-1zM14 3h1v1h-1zM16 3h2v1h-2zM26 3h1v1h-1zM15 4h1v1h-1zM18 4h1v1h-1zM24 4h1v1h-1zM12 6h1v1h-1zM14 6h1v1h-1zM20 6h1v1h-1zM26 6h1v1h-1zM6 7h1v1h-1zM8 7h1v1h-1z"/>
<path fill="#7b761e" d="M20 0h1v1h-1zM22 0h1v1h-1zM29 0h1v1h-1zM10 1h1v1h-1zM20 1h1v1h-1zM0 2h1v1h-1zM2 2h1v1h-1zM12 2h1v1h-1zM15 2h1v1h-1zM26 2h1v1h-1zM35 2h1v1h-1zM0 3h1v1h-1zM5 3h1v1h-1zM7 3h1v1h-1zM9 3h1v1h-1zM12 3h2v1h-2zM24 3h1v1h-1zM28 3h1v1h-1zM9 4h1v1h-1zM35 4h1v1h-1zM2 5h1v1h-1zM25 5h1v1h-1zM0 6h1v1h-1z"/>
<path fill="#aea923" d="M6 0h1v1h-1zM9 0h1v1h-1zM21 0h1v1h-1zM2 1h1v1h-1zM9 1h1v1h-1zM26 1h1v1h-1zM35 1h1v1h-1zM23 2h1v1h-1zM25 2h1v1h-1zM27 2h1v1h-1zM1 3h1v1h-1zM4 3h1v1h-1zM8 3h1v1h-1zM10 3h1v1h-1zM21 3h1v1h-1zM27 3h1v1h-1zM0 4h2v1h-2zM3 4h1v1h-1zM23 4h1v1h-1zM29 4h1v1h-1zM32 4h1v1h-1zM23 5h1v1h-1zM4 6h1v1h-1zM15 6h1v1h-1zM19 6h1v1h-1zM32 6h2v1h-2zM12 7h1v1h-1zM16 7h1v1h-1zM25 7h1v1h-1z"/>
<path fill="#d8d121" d="M0 0h1v1h-1zM16 0h1v1h-1zM26 0h1v1h-1zM13 1h1v1h-1zM24 1h1v1h-1zM30 1h1v1h-1zM33 1h1v1h-1zM29 3h2v1h-2zM34 3h1v1h-1zM5 4h2v1h-2zM13 4h1v1h-1zM17 4h1v1h-1zM19 4h3v1h-3zM26 4h1v1h-1zM31 4h1v1h-1zM1 5h1v1h-1zM12 5h1v1h-1zM14 5h1v1h-1zM26 5h1v1h-1zM27 6h1v1h-1zM7 7h1v1h-1z"/>
<path fill="#f2eb22" d="M1 0h1v1h-1zM3 0h1v1h-1zM22 1h1v1h-1zM3 2h1v1h-1zM33 2h1v1h-1zM3 3h1v1h-1zM23 3h1v1h-1zM31 3h2v1h-2zM35 3h1v1h-1zM7 4h1v1h-1zM8 5h1v1h-1zM22 6h1v1h-1zM35 6h1v1h-1zM33 7h1v1h-1z"/>
<path fill="#f8f228" d="M4 0h1v1h-1zM31 1h1v1h-1zM22 3h1v1h-1zM10 4h2v1h-2zM28 4h1v1h-1zM0 7h1v1h-1z"/>
</g>
<g transform="translate(400.10,343.90) scale(1.2629,5.5375)" shape-rendering="crispEdges">
<path fill="#a642a5" d="M0 6h1v1h-1z"/>
<path fill="#862a8b" d="M6 0h1v1h-1zM15 0h1v1h-1zM1 1h1v1h-1zM4 1h1v1h-1zM23 1h1v1h-1zM27 1h1v1h-1zM17 2h1v1h-1zM11 3h1v1h-1zM25 3h1v1h-1zM33 3h1v1h-1zM4 6h1v1h-1z"/>
<path fill="#6c1e73" d="M11 0h1v1h-1zM29 0h1v1h-1zM3 1h1v1h-1zM17 1h1v1h-1zM20 1h1v1h-1zM0 2h2v1h-2zM7 2h1v1h-1zM13 2h1v1h-1zM20 2h1v1h-1zM25 2h1v1h-1zM27 2h1v1h-1zM31 2h1v1h-1zM26 3h1v1h-1zM30 3h1v1h-1zM32 3h1v1h-1zM13 4h1v1h-1zM25 4h1v1h-1zM28 4h1v1h-1zM3 5h1v1h-1zM5 5h1v1h-1zM20 5h1v1h-1zM6 6h1v1h-1zM15 6h1v1h-1zM34 6h1v1h-1zM0 7h1v1h-1zM13 7h1v1h-1zM15 7h1v1h-1zM22 7h1v1h-1z"/>
<path fill="#501457" d="M1 0h1v1h-1zM3 0h3v1h-3zM13 0h1v1h-1zM32 0h2v1h-2zM5 1h1v1h-1zM7 1h1v1h-1zM9 1h1v1h-1zM12 1h1v1h-1zM14 1h1v1h-1zM22 1h1v1h-1zM33 1h1v1h-1zM6 2h1v1h-1zM8 2h1v1h-1zM10 2h1v1h-1zM15 2h2v1h-2zM18 2h1v1h-1zM22 2h2v1h-2zM32 2h1v1h-1zM34 2h1v1h-1zM8 3h1v1h-1zM15 3h1v1h-1zM20 3h1v1h-1zM22 3h1v1h-1zM28 3h1v1h-1zM0 4h2v1h-2zM18 4h1v1h-1zM23 4h1v1h-1zM27 4h1v1h-1zM2 5h1v1h-1zM9 5h1v1h-1zM8 6h1v1h-1zM11 6h2v1h-2zM21 6h1v1h-1zM24 6h1v1h-1zM26 6h1v1h-1zM30 6h1v1h-1zM4 7h1v1h-1zM7 7h1v1h-1zM17 7h1v1h-1zM19 7h1v1h-1zM23 7h1v1h-1zM26 7h2v1h-2z"/>
<path fill="#330b37" d="M2 0h1v1h-1zM9 0h2v1h-2zM14 0h1v1h-1zM18 0h1v1h-1zM25 0h1v1h-1zM28 0h1v1h-1zM31 0h1v1h-1zM6 1h1v1h-1zM19 1h1v1h-1zM21 1h1v1h-1zM31 1h1v1h-1zM2 2h2v1h-2zM9 2h1v1h-1zM11 2h1v1h-1zM19 2h1v1h-1zM26 2h1v1h-1zM28 2h2v1h-2zM2 3h1v1h-1zM4 3h1v1h-1zM17 3h1v1h-1zM19 3h1v1h-1zM31 3h1v1h-1zM2 4h1v1h-1zM6 4h1v1h-1zM8 4h1v1h-1zM15 4h1v1h-1zM19 4h1v1h-1zM26 4h1v1h-1zM31 4h1v1h-1zM34 4h1v1h-1zM16 5h1v1h-1zM3 6h1v1h-1zM9 6h2v1h-2zM14 6h1v1h-1zM16 6h1v1h-1zM19 6h2v1h-2zM23 6h1v1h-1zM25 6h1v1h-1zM27 6h1v1h-1zM29 6h1v1h-1zM32 6h2v1h-2zM1 7h1v1h-1zM16 7h1v1h-1zM24 7h1v1h-1zM28 7h2v1h-2zM32 7h1v1h-1z"/>
<path fill="#1d071e" d="M17 0h1v1h-1zM21 0h2v1h-2zM26 0h1v1h-1zM30 0h1v1h-1zM8 1h1v1h-1zM11 1h1v1h-1zM16 1h1v1h-1zM32 1h1v1h-1zM4 2h1v1h-1zM12 2h1v1h-1zM1 3h1v1h-1zM3 3h1v1h-1zM5 3h2v1h-2zM7 4h1v1h-1zM10 4h1v1h-1zM12 4h1v1h-1zM17 4h1v1h-1zM20 4h1v1h-1zM22 4h1v1h-1zM27 5h1v1h-1zM7 6h1v1h-1zM13 6h1v1h-1zM8 7h1v1h-1z"/>
<path fill="#241a14" d="M19 0h1v1h-1zM0 1h1v1h-1zM10 1h1v1h-1zM26 1h1v1h-1zM29 1h1v1h-1zM18 3h1v1h-1zM29 3h1v1h-1zM3 4h1v1h-1zM33 4h1v1h-1zM11 5h1v1h-1zM11 7h1v1h-1zM33 7h1v1h-1z"/>
<path fill="#494318" d="M13 3h1v1h-1zM24 3h1v1h-1zM34 3h1v1h-1zM0 5h1v1h-1zM6 5h1v1h-1zM22 6h1v1h-1zM6 7h1v1h-1zM14 7h1v1h-1z"/>
<path fill="#7b761e" d="M0 0h1v1h-1zM23 0h1v1h-1zM34 0h1v1h-1zM30 1h1v1h-1zM5 2h1v1h-1zM14 2h1v1h-1zM21 2h1v1h-1zM24 2h1v1h-1zM33 2h1v1h-1zM24 4h1v1h-1zM30 4h1v1h-1zM32 4h1v1h-1zM8 5h1v1h-1zM14 5h1v1h-1zM21 5h1v1h-1zM32 5h1v1h-1zM1 6h1v1h-1zM3 7h1v1h-1z"/>
<path fill="#aea923" d="M7 0h1v1h-1zM16 0h1v1h-1zM24 0h1v1h-1zM27 0h1v1h-1zM2 1h1v1h-1zM13 1h1v1h-1zM15 1h1v1h-1zM24 1h2v1h-2zM34 1h1v1h-1zM14 3h1v1h-1zM16 3h1v1h-1zM23 3h1v1h-1zM27 3h1v1h-1zM5 4h1v1h-1zM9 4h1v1h-1zM11 4h1v1h-1zM16 4h1v1h-1zM21 4h1v1h-1zM15 5h1v1h-1zM28 5h1v1h-1zM30 5h1v1h-1zM34 5h1v1h-1zM28 6h1v1h-1zM12 7h1v1h-1zM21 7h1v1h-1zM34 7h1v1h-1z"/>
<path fill="#d8d121" d="M8 0h1v1h-1zM18 1h1v1h-1zM28 1h1v1h-1zM30 2h1v1h-1zM0 3h1v1h-1zM12 3h1v1h-1zM21 3h1v1h-1zM4 4h1v1h-1zM14 4h1v1h-1zM1 5h1v1h-1zM7 5h1v1h-1zM13 5h1v1h-1zM17 5h2v1h-2zM22 5h1v1h-1zM24 5h2v1h-2zM31 5h1v1h-1zM2 6h1v1h-1zM5 6h1v1h-1zM17 6h1v1h-1zM2 7h1v1h-1zM5 7h1v1h-1zM10 7h1v1h-1z"/>
<path fill="#f2eb22" d="M12 0h1v1h-1zM20 0h1v1h-1zM7 3h1v1h-1zM9 3h1v1h-1zM4 5h1v1h-1zM12 5h1v1h-1zM19 5h1v1h-1zM26 5h1v1h-1zM33 5h1v1h-1zM18 7h1v1h-1zM25 7h1v1h-1zM30 7h1v1h-1z"/>
<path fill="#f8f228" d="M10 3h1v1h-1zM29 4h1v1h-1zM10 5h1v1h-1zM23 5h1v1h-1zM29 5h1v1h-1zM18 6h1v1h-1zM31 6h1v1h-1zM9 7h1v1h-1zM20 7h1v1h-1zM31 7h1v1h-1z"/>
</g>
<g transform="translate(444.30,343.90) scale(1.2417,5.5375)" shape-rendering="crispEdges">
<path fill="#c65abe" d="M12 7h1v1h-1z"/>
<path fill="#a642a5" d="M18 0h1v1h-1zM33 7h1v1h-1z"/>
<path fill="#862a8b" d="M10 0h1v1h-1zM0 1h1v1h-1zM30 5h1v1h-1zM19 7h1v1h-1z"/>
<path fill="#6c1e73" d="M14 0h1v1h-1zM16 0h1v1h-1zM26 0h1v1h-1zM24 1h1v1h-1zM29 1h1v1h-1zM34 1h1v1h-1zM1 5h1v1h-1zM27 5h1v1h-1zM33 5h1v1h-1zM4 6h1v1h-1zM23 6h1v1h-1zM25 6h1v1h-1zM1 7h1v1h-1zM11 7h1v1h-1zM20 7h1v1h-1zM22 7h1v1h-1zM24 7h1v1h-1z"/>
<path fill="#501457" d="M0 0h2v1h-2zM9 0h1v1h-1zM11 0h1v1h-1zM22 0h1v1h-1zM24 0h1v1h-1zM29 0h1v1h-1zM32 0h1v1h-1zM6 1h1v1h-1zM18 1h1v1h-1zM27 1h1v1h-1zM32 1h2v1h-2zM35 1h1v1h-1zM8 5h2v1h-2zM13 5h1v1h-1zM26 5h1v1h-1zM12 6h1v1h-1zM17 6h1v1h-1zM3 7h2v1h-2zM9 7h2v1h-2zM26 7h1v1h-1zM28 7h1v1h-1zM34 7h1v1h-1z"/>
<path fill="#330b37" d="M17 0h1v1h-1zM28 0h1v1h-1zM4 2h1v1h-1zM11 3h1v1h-1zM4 5h1v1h-1zM17 5h1v1h-1zM21 5h1v1h-1zM23 5h1v1h-1zM32 5h1v1h-1zM7 6h1v1h-1zM10 6h1v1h-1zM16 6h1v1h-1zM20 6h1v1h-1zM29 6h2v1h-2zM5 7h1v1h-1zM15 7h1v1h-1zM25 7h1v1h-1zM30 7h1v1h-1z"/>
<path fill="#1d071e" d="M6 0h1v1h-1zM12 0h1v1h-1zM15 0h1v1h-1zM21 0h1v1h-1zM1 1h1v1h-1zM28 1h1v1h-1zM30 3h1v1h-1zM19 5h1v1h-1zM24 6h1v1h-1zM8 7h1v1h-1zM16 7h2v1h-2zM27 7h1v1h-1zM29 7h1v1h-1zM35 7h1v1h-1z"/>
<path fill="#241a14" d="M31 0h1v1h-1zM26 1h1v1h-1zM30 2h1v1h-1zM9 3h1v1h-1zM31 4h1v1h-1zM1 6h1v1h-1zM34 6h2v1h-2z"/>
<path fill="#494318" d="M2 0h1v1h-1zM34 0h2v1h-2zM9 1h1v1h-1zM27 2h1v1h-1zM22 3h1v1h-1zM13 4h1v1h-1zM3 5h1v1h-1zM22 5h1v1h-1zM8 6h1v1h-1zM14 6h1v1h-1zM7 7h1v1h-1z"/>
<path fill="#7b761e" d="M5 0h1v1h-1zM8 0h1v1h-1zM27 0h1v1h-1zM30 0h1v1h-1zM33 0h1v1h-1zM3 1h1v1h-1zM10 1h1v1h-1zM22 1h1v1h-1zM8 2h1v1h-1zM22 2h1v1h-1zM27 3h1v1h-1zM18 4h1v1h-1zM18 5h1v1h-1zM3 6h1v1h-1zM18 6h1v1h-1zM27 6h1v1h-1z"/>
<path fill="#aea923" d="M23 0h1v1h-1zM25 0h1v1h-1zM4 1h1v1h-1zM8 1h1v1h-1zM11 1h1v1h-1zM14 1h2v1h-2zM25 1h1v1h-1zM30 1h1v1h-1zM2 2h1v1h-1zM6 2h1v1h-1zM16 2h1v1h-1zM21 2h1v1h-1zM31 2h1v1h-1zM0 3h1v1h-1zM6 3h1v1h-1zM15 3h1v1h-1zM17 3h2v1h-2zM21 3h1v1h-1zM24 3h1v1h-1zM10 4h1v1h-1zM12 4h1v1h-1zM24 4h1v1h-1zM26 4h1v1h-1zM5 5h2v1h-2zM10 5h1v1h-1zM15 5h2v1h-2zM29 5h1v1h-1zM31 5h1v1h-1zM34 5h2v1h-2zM5 6h1v1h-1zM9 6h1v1h-1zM11 6h1v1h-1zM26 6h1v1h-1zM28 6h1v1h-1zM32 6h2v1h-2zM0 7h1v1h-1zM13 7h1v1h-1zM18 7h1v1h-1zM21 7h1v1h-1zM32 7h1v1h-1z"/>
<path fill="#d8d121" d="M4 0h1v1h-1zM7 0h1v1h-1zM13 0h1v1h-1zM5 1h1v1h-1zM12 1h1v1h-1zM16 1h1v1h-1zM19 1h1v1h-1zM0 2h1v1h-1zM12 2h3v1h-3zM18 2h1v1h-1zM20 2h1v1h-1zM23 2h1v1h-1zM26 2h1v1h-1zM34 2h1v1h-1zM1 3h1v1h-1zM7 3h2v1h-2zM10 3h1v1h-1zM12 3h2v1h-2zM16 3h1v1h-1zM19 3h1v1h-1zM26 3h1v1h-1zM34 3h2v1h-2zM3 4h1v1h-1zM5 4h1v1h-1zM15 4h3v1h-3zM19 4h1v1h-1zM22 4h2v1h-2zM28 4h2v1h-2zM32 4h1v1h-1zM34 4h2v1h-2zM11 5h2v1h-2zM14 5h1v1h-1zM20 5h1v1h-1zM25 5h1v1h-1zM0 6h1v1h-1zM2 6h1v1h-1zM6 6h1v1h-1zM13 6h1v1h-1zM15 6h1v1h-1zM21 6h2v1h-2zM31 6h1v1h-1zM2 7h1v1h-1zM14 7h1v1h-1z"/>
<path fill="#f2eb22" d="M3 0h1v1h-1zM19 0h1v1h-1zM7 1h1v1h-1zM13 1h1v1h-1zM20 1h2v1h-2zM23 1h1v1h-1zM31 1h1v1h-1zM1 2h1v1h-1zM3 2h1v1h-1zM5 2h1v1h-1zM9 2h1v1h-1zM11 2h1v1h-1zM15 2h1v1h-1zM17 2h1v1h-1zM24 2h2v1h-2zM28 2h1v1h-1zM35 2h1v1h-1zM4 3h2v1h-2zM14 3h1v1h-1zM20 3h1v1h-1zM23 3h1v1h-1zM25 3h1v1h-1zM28 3h1v1h-1zM31 3h2v1h-2zM0 4h3v1h-3zM6 4h1v1h-1zM14 4h1v1h-1zM20 4h1v1h-1zM25 4h1v1h-1zM30 4h1v1h-1zM7 5h1v1h-1zM28 5h1v1h-1zM6 7h1v1h-1zM23 7h1v1h-1zM31 7h1v1h-1z"/>
<path fill="#f8f228" d="M20 0h1v1h-1zM2 1h1v1h-1zM17 1h1v1h-1zM7 2h1v1h-1zM10 2h1v1h-1zM19 2h1v1h-1zM29 2h1v1h-1zM32 2h2v1h-2zM2 3h2v1h-2zM29 3h1v1h-1zM33 3h1v1h-1zM4 4h1v1h-1zM7 4h3v1h-3zM11 4h1v1h-1zM21 4h1v1h-1zM27 4h1v1h-1zM33 4h1v1h-1zM0 5h1v1h-1zM2 5h1v1h-1zM24 5h1v1h-1zM19 6h1v1h-1z"/>
</g>
<g transform="translate(489.00,343.90) scale(1.2472,5.5375)" shape-rendering="crispEdges">
<path fill="#a642a5" d="M20 0h1v1h-1zM14 4h1v1h-1z"/>
<path fill="#862a8b" d="M17 2h1v1h-1zM27 2h1v1h-1zM30 2h1v1h-1zM20 4h1v1h-1zM22 4h1v1h-1zM5 5h1v1h-1zM11 5h1v1h-1zM2 6h1v1h-1zM9 6h1v1h-1zM12 6h1v1h-1zM18 6h1v1h-1zM29 6h1v1h-1zM26 7h1v1h-1z"/>
<path fill="#6c1e73" d="M3 0h1v1h-1zM8 0h1v1h-1zM12 0h1v1h-1zM15 0h1v1h-1zM17 0h1v1h-1zM19 0h1v1h-1zM22 0h1v1h-1zM24 0h1v1h-1zM26 0h2v1h-2zM29 0h1v1h-1zM7 1h1v1h-1zM19 1h1v1h-1zM21 1h1v1h-1zM24 1h1v1h-1zM26 1h1v1h-1zM28 1h1v1h-1zM32 1h1v1h-1zM11 2h1v1h-1zM19 2h2v1h-2zM22 2h1v1h-1zM24 2h2v1h-2zM29 2h1v1h-1zM35 2h1v1h-1zM2 3h1v1h-1zM10 3h1v1h-1zM24 3h2v1h-2zM34 3h1v1h-1zM1 4h1v1h-1zM3 4h1v1h-1zM6 4h1v1h-1zM11 4h1v1h-1zM17 4h1v1h-1zM19 4h1v1h-1zM25 4h1v1h-1zM29 4h1v1h-1zM34 4h1v1h-1zM7 5h1v1h-1zM28 5h1v1h-1zM34 5h1v1h-1zM4 6h1v1h-1zM15 6h2v1h-2zM19 6h1v1h-1zM4 7h1v1h-1zM7 7h4v1h-4zM14 7h1v1h-1zM16 7h1v1h-1zM21 7h1v1h-1zM23 7h1v1h-1zM27 7h2v1h-2zM33 7h1v1h-1zM35 7h1v1h-1z"/>
<path fill="#501457" d="M1 0h2v1h-2zM5 0h2v1h-2zM9 0h1v1h-1zM11 0h1v1h-1zM18 0h1v1h-1zM21 0h1v1h-1zM25 0h1v1h-1zM28 0h1v1h-1zM30 0h1v1h-1zM34 0h2v1h-2zM5 1h1v1h-1zM13 1h1v1h-1zM17 1h1v1h-1zM22 1h1v1h-1zM27 1h1v1h-1zM29 1h1v1h-1zM1 2h1v1h-1zM3 2h3v1h-3zM9 2h1v1h-1zM13 2h1v1h-1zM15 2h1v1h-1zM21 2h1v1h-1zM26 2h1v1h-1zM28 2h1v1h-1zM31 2h1v1h-1zM34 2h1v1h-1zM0 3h1v1h-1zM3 3h1v1h-1zM8 3h1v1h-1zM15 3h1v1h-1zM17 3h1v1h-1zM19 3h2v1h-2zM35 3h1v1h-1zM7 4h3v1h-3zM12 4h2v1h-2zM16 4h1v1h-1zM18 4h1v1h-1zM21 4h1v1h-1zM23 4h1v1h-1zM26 4h2v1h-2zM30 4h1v1h-1zM1 5h1v1h-1zM13 5h1v1h-1zM23 5h1v1h-1zM29 5h1v1h-1zM1 6h1v1h-1zM20 6h4v1h-4zM26 6h1v1h-1zM28 6h1v1h-1zM33 6h2v1h-2zM0 7h1v1h-1zM5 7h1v1h-1zM12 7h1v1h-1zM17 7h1v1h-1zM19 7h2v1h-2zM24 7h1v1h-1zM30 7h1v1h-1zM34 7h1v1h-1z"/>
<path fill="#330b37" d="M0 0h1v1h-1zM10 0h1v1h-1zM14 0h1v1h-1zM16 0h1v1h-1zM23 0h1v1h-1zM33 0h1v1h-1zM9 1h1v1h-1zM12 1h1v1h-1zM16 1h1v1h-1zM18 1h1v1h-1zM20 1h1v1h-1zM35 1h1v1h-1zM0 2h1v1h-1zM6 2h3v1h-3zM12 2h1v1h-1zM16 2h1v1h-1zM23 2h1v1h-1zM33 2h1v1h-1zM11 3h1v1h-1zM13 3h1v1h-1zM21 3h1v1h-1zM32 3h1v1h-1zM2 4h1v1h-1zM5 4h1v1h-1zM15 4h1v1h-1zM31 4h1v1h-1zM33 4h1v1h-1zM3 5h1v1h-1zM8 5h1v1h-1zM10 5h1v1h-1zM19 5h1v1h-1zM24 5h2v1h-2zM27 5h1v1h-1zM31 5h1v1h-1zM0 6h1v1h-1zM5 6h2v1h-2zM8 6h1v1h-1zM10 6h2v1h-2zM13 6h2v1h-2zM17 6h1v1h-1zM25 6h1v1h-1zM32 6h1v1h-1zM35 6h1v1h-1zM3 7h1v1h-1zM11 7h1v1h-1zM13 7h1v1h-1zM22 7h1v1h-1zM29 7h1v1h-1zM32 7h1v1h-1z"/>
<path fill="#1d071e" d="M6 1h1v1h-1zM8 1h1v1h-1zM11 1h1v1h-1zM14 1h1v1h-1zM10 2h1v1h-1zM14 2h1v1h-1zM32 2h1v1h-1zM16 3h1v1h-1zM31 3h1v1h-1zM0 4h1v1h-1zM4 4h1v1h-1zM24 4h1v1h-1zM35 4h1v1h-1zM0 5h1v1h-1zM22 5h1v1h-1zM26 5h1v1h-1zM33 5h1v1h-1zM7 6h1v1h-1zM30 6h2v1h-2zM6 7h1v1h-1zM25 7h1v1h-1z"/>
<path fill="#241a14" d="M1 1h1v1h-1zM10 1h1v1h-1zM15 1h1v1h-1zM18 2h1v1h-1zM12 3h1v1h-1zM24 6h1v1h-1z"/>
<path fill="#494318" d="M25 1h1v1h-1zM2 2h1v1h-1zM4 3h1v1h-1zM18 3h1v1h-1zM29 3h1v1h-1zM2 5h1v1h-1zM12 5h1v1h-1zM17 5h2v1h-2zM2 7h1v1h-1z"/>
<path fill="#7b761e" d="M4 0h1v1h-1zM0 1h1v1h-1zM3 1h1v1h-1zM6 5h1v1h-1zM9 5h1v1h-1zM14 5h2v1h-2zM20 5h2v1h-2zM32 5h1v1h-1zM35 5h1v1h-1zM15 7h1v1h-1z"/>
<path fill="#aea923" d="M7 0h1v1h-1zM13 0h1v1h-1zM31 0h1v1h-1zM4 1h1v1h-1zM7 3h1v1h-1zM22 3h2v1h-2zM28 3h1v1h-1zM28 4h1v1h-1zM4 5h1v1h-1zM30 5h1v1h-1zM1 7h1v1h-1z"/>
<path fill="#d8d121" d="M32 0h1v1h-1zM23 1h1v1h-1zM34 1h1v1h-1zM1 3h1v1h-1zM9 3h1v1h-1zM14 3h1v1h-1zM27 3h1v1h-1zM32 4h1v1h-1zM16 5h1v1h-1zM3 6h1v1h-1zM18 7h1v1h-1z"/>
<path fill="#f2eb22" d="M2 1h1v1h-1zM30 1h1v1h-1zM33 1h1v1h-1zM5 3h1v1h-1zM26 3h1v1h-1zM30 3h1v1h-1zM33 3h1v1h-1zM27 6h1v1h-1zM31 7h1v1h-1z"/>
<path fill="#f8f228" d="M31 1h1v1h-1zM6 3h1v1h-1zM10 4h1v1h-1z"/>
</g>
<g transform="translate(533.90,343.90) scale(1.2657,5.5375)" shape-rendering="crispEdges">
<path fill="#c65abe" d="M16 0h1v1h-1zM19 0h1v1h-1zM34 2h1v1h-1zM26 3h1v1h-1zM3 4h3v1h-3zM7 4h1v1h-1zM9 4h3v1h-3zM13 4h1v1h-1zM15 4h1v1h-1zM17 4h4v1h-4zM22 4h4v1h-4zM28 4h1v1h-1zM32 4h3v1h-3zM8 5h1v1h-1zM16 5h1v1h-1zM22 5h1v1h-1zM32 5h1v1h-1zM26 6h1v1h-1z"/>
<path fill="#a642a5" d="M10 0h2v1h-2zM15 0h1v1h-1zM22 0h1v1h-1zM3 2h2v1h-2zM6 2h2v1h-2zM10 2h1v1h-1zM14 2h1v1h-1zM16 2h1v1h-1zM23 2h1v1h-1zM27 2h1v1h-1zM31 2h1v1h-1zM2 3h3v1h-3zM11 3h1v1h-1zM15 3h1v1h-1zM24 3h1v1h-1zM31 3h1v1h-1zM0 4h3v1h-3zM6 4h1v1h-1zM8 4h1v1h-1zM12 4h1v1h-1zM14 4h1v1h-1zM16 4h1v1h-1zM21 4h1v1h-1zM26 4h2v1h-2zM29 4h3v1h-3zM11 5h1v1h-1zM13 5h2v1h-2zM20 5h1v1h-1zM24 5h2v1h-2zM0 6h1v1h-1zM4 6h1v1h-1zM15 6h1v1h-1zM18 6h3v1h-3zM22 6h2v1h-2zM34 6h1v1h-1zM3 7h1v1h-1zM11 7h1v1h-1zM14 7h1v1h-1zM20 7h1v1h-1z"/>
<path fill="#862a8b" d="M1 0h2v1h-2zM7 0h3v1h-3zM17 0h2v1h-2zM20 0h2v1h-2zM23 0h2v1h-2zM27 0h1v1h-1zM29 0h2v1h-2zM33 0h2v1h-2zM11 1h1v1h-1zM15 1h1v1h-1zM20 1h1v1h-1zM0 2h1v1h-1zM2 2h1v1h-1zM8 2h2v1h-2zM11 2h1v1h-1zM17 2h2v1h-2zM20 2h1v1h-1zM22 2h1v1h-1zM24 2h1v1h-1zM26 2h1v1h-1zM28 2h3v1h-3zM32 2h1v1h-1zM0 3h2v1h-2zM5 3h6v1h-6zM12 3h3v1h-3zM16 3h3v1h-3zM23 3h1v1h-1zM25 3h1v1h-1zM27 3h2v1h-2zM33 3h2v1h-2zM0 5h1v1h-1zM2 5h1v1h-1zM4 5h2v1h-2zM7 5h1v1h-1zM9 5h2v1h-2zM17 5h2v1h-2zM21 5h1v1h-1zM23 5h1v1h-1zM31 5h1v1h-1zM33 5h1v1h-1zM2 6h2v1h-2zM6 6h3v1h-3zM10 6h4v1h-4zM16 6h1v1h-1zM24 6h2v1h-2zM28 6h6v1h-6zM10 7h1v1h-1zM12 7h1v1h-1zM16 7h1v1h-1zM18 7h1v1h-1zM24 7h1v1h-1zM26 7h1v1h-1zM30 7h1v1h-1zM32 7h1v1h-1z"/>
<path fill="#6c1e73" d="M0 0h1v1h-1zM3 0h4v1h-4zM12 0h3v1h-3zM25 0h1v1h-1zM31 0h2v1h-2zM2 1h2v1h-2zM7 1h4v1h-4zM12 1h3v1h-3zM16 1h1v1h-1zM19 1h1v1h-1zM22 1h3v1h-3zM28 1h1v1h-1zM32 1h3v1h-3zM1 2h1v1h-1zM5 2h1v1h-1zM12 2h2v1h-2zM21 2h1v1h-1zM25 2h1v1h-1zM20 3h3v1h-3zM29 3h1v1h-1zM32 3h1v1h-1zM1 5h1v1h-1zM6 5h1v1h-1zM12 5h1v1h-1zM15 5h1v1h-1zM19 5h1v1h-1zM26 5h5v1h-5zM1 6h1v1h-1zM14 6h1v1h-1zM21 6h1v1h-1zM27 6h1v1h-1zM4 7h2v1h-2zM8 7h1v1h-1zM13 7h1v1h-1zM19 7h1v1h-1zM23 7h1v1h-1zM25 7h1v1h-1zM34 7h1v1h-1z"/>
<path fill="#501457" d="M1 1h1v1h-1zM4 1h3v1h-3zM17 1h2v1h-2zM21 1h1v1h-1zM25 1h1v1h-1zM30 1h1v1h-1zM3 5h1v1h-1zM9 6h1v1h-1zM0 7h2v1h-2zM6 7h2v1h-2zM9 7h1v1h-1zM17 7h1v1h-1zM21 7h2v1h-2zM27 7h3v1h-3zM31 7h1v1h-1zM33 7h1v1h-1z"/>
<path fill="#330b37" d="M26 1h1v1h-1zM29 1h1v1h-1zM31 1h1v1h-1zM2 7h1v1h-1z"/>
<path fill="#494318" d="M27 1h1v1h-1z"/>
<path fill="#7b761e" d="M15 2h1v1h-1zM19 2h1v1h-1zM5 6h1v1h-1z"/>
<path fill="#aea923" d="M0 1h1v1h-1z"/>
<path fill="#d8d121" d="M28 0h1v1h-1zM19 3h1v1h-1zM30 3h1v1h-1zM34 5h1v1h-1zM15 7h1v1h-1z"/>
<path fill="#f2eb22" d="M26 0h1v1h-1zM17 6h1v1h-1z"/>
<path fill="#f8f228" d="M33 2h1v1h-1z"/>
</g>
<g transform="translate(578.20,343.90) scale(1.2444,5.5375)" shape-rendering="crispEdges">
<path fill="#c65abe" d="M10 4h1v1h-1z"/>
<path fill="#a642a5" d="M3 4h1v1h-1zM7 4h1v1h-1zM9 4h1v1h-1zM20 4h1v1h-1zM23 4h1v1h-1zM26 4h1v1h-1zM28 4h1v1h-1zM31 4h1v1h-1zM33 4h1v1h-1z"/>
<path fill="#862a8b" d="M16 0h1v1h-1zM8 2h1v1h-1zM35 3h1v1h-1zM1 4h1v1h-1zM4 4h2v1h-2zM8 4h1v1h-1zM11 4h1v1h-1zM13 4h2v1h-2zM16 4h4v1h-4zM21 4h2v1h-2zM24 4h1v1h-1zM27 4h1v1h-1zM30 4h1v1h-1zM32 4h1v1h-1zM35 4h1v1h-1zM15 6h1v1h-1z"/>
<path fill="#6c1e73" d="M9 0h1v1h-1zM17 0h1v1h-1zM28 0h1v1h-1zM34 0h2v1h-2zM0 2h1v1h-1zM7 2h1v1h-1zM12 2h1v1h-1zM22 2h1v1h-1zM24 2h1v1h-1zM28 2h1v1h-1zM33 2h1v1h-1zM18 3h1v1h-1zM23 3h1v1h-1zM26 3h2v1h-2zM31 3h1v1h-1zM0 4h1v1h-1zM2 4h1v1h-1zM12 4h1v1h-1zM15 4h1v1h-1zM25 4h1v1h-1zM29 4h1v1h-1zM34 4h1v1h-1zM15 5h1v1h-1zM18 5h2v1h-2zM33 5h1v1h-1zM1 6h1v1h-1zM27 6h1v1h-1zM29 6h1v1h-1zM1 7h1v1h-1zM7 7h1v1h-1zM19 7h2v1h-2zM31 7h1v1h-1z"/>
<path fill="#501457" d="M7 0h2v1h-2zM13 0h1v1h-1zM20 0h1v1h-1zM29 0h1v1h-1zM32 0h1v1h-1zM3 2h1v1h-1zM5 2h2v1h-2zM13 2h1v1h-1zM18 2h1v1h-1zM20 2h2v1h-2zM23 2h1v1h-1zM26 2h2v1h-2zM31 2h1v1h-1zM34 2h1v1h-1zM2 3h7v1h-7zM11 3h1v1h-1zM13 3h4v1h-4zM19 3h4v1h-4zM28 3h1v1h-1zM33 3h1v1h-1zM6 4h1v1h-1zM0 5h1v1h-1zM5 5h2v1h-2zM10 5h2v1h-2zM16 5h1v1h-1zM20 5h2v1h-2zM27 5h3v1h-3zM31 5h1v1h-1zM35 5h1v1h-1zM0 6h1v1h-1zM2 6h2v1h-2zM5 6h4v1h-4zM11 6h1v1h-1zM13 6h1v1h-1zM19 6h2v1h-2zM28 6h1v1h-1zM30 6h1v1h-1zM32 6h2v1h-2zM35 6h1v1h-1zM2 7h2v1h-2zM5 7h2v1h-2zM14 7h2v1h-2zM17 7h2v1h-2zM21 7h1v1h-1zM24 7h1v1h-1zM27 7h1v1h-1zM32 7h3v1h-3z"/>
<path fill="#330b37" d="M1 0h1v1h-1zM5 0h1v1h-1zM10 0h1v1h-1zM15 0h1v1h-1zM19 0h1v1h-1zM1 2h2v1h-2zM10 2h2v1h-2zM14 2h1v1h-1zM17 2h1v1h-1zM30 2h1v1h-1zM35 2h1v1h-1zM0 3h2v1h-2zM9 3h2v1h-2zM12 3h1v1h-1zM17 3h1v1h-1zM24 3h2v1h-2zM29 3h2v1h-2zM32 3h1v1h-1zM34 3h1v1h-1zM1 5h2v1h-2zM8 5h2v1h-2zM13 5h1v1h-1zM17 5h1v1h-1zM22 5h3v1h-3zM26 5h1v1h-1zM30 5h1v1h-1zM32 5h1v1h-1zM34 5h1v1h-1zM4 6h1v1h-1zM9 6h2v1h-2zM12 6h1v1h-1zM14 6h1v1h-1zM16 6h3v1h-3zM21 6h6v1h-6zM31 6h1v1h-1zM34 6h1v1h-1zM0 7h1v1h-1zM4 7h1v1h-1zM8 7h6v1h-6zM16 7h1v1h-1zM22 7h1v1h-1zM26 7h1v1h-1zM28 7h3v1h-3zM35 7h1v1h-1z"/>
<path fill="#1d071e" d="M12 0h1v1h-1zM14 0h1v1h-1zM22 0h1v1h-1zM6 1h1v1h-1zM19 2h1v1h-1zM25 2h1v1h-1zM12 5h1v1h-1zM14 5h1v1h-1zM25 5h1v1h-1zM23 7h1v1h-1z"/>
<path fill="#241a14" d="M21 0h1v1h-1z"/>
<path fill="#494318" d="M18 0h1v1h-1zM23 0h1v1h-1zM30 0h1v1h-1zM33 0h1v1h-1zM15 2h1v1h-1z"/>
<path fill="#7b761e" d="M11 0h1v1h-1zM27 0h1v1h-1zM3 1h1v1h-1zM19 1h2v1h-2zM32 1h1v1h-1zM16 2h1v1h-1zM7 5h1v1h-1z"/>
<path fill="#aea923" d="M24 0h1v1h-1zM7 1h1v1h-1zM9 1h1v1h-1zM18 1h1v1h-1zM31 1h1v1h-1zM33 1h2v1h-2zM3 5h1v1h-1zM25 7h1v1h-1z"/>
<path fill="#d8d121" d="M3 0h1v1h-1zM26 0h1v1h-1zM31 0h1v1h-1zM0 1h1v1h-1zM5 1h1v1h-1zM11 1h1v1h-1zM14 1h2v1h-2zM21 1h1v1h-1zM27 1h2v1h-2zM35 1h1v1h-1zM4 2h1v1h-1zM29 2h1v1h-1zM32 2h1v1h-1z"/>
<path fill="#f2eb22" d="M0 0h1v1h-1zM2 0h1v1h-1zM6 0h1v1h-1zM25 0h1v1h-1zM1 1h1v1h-1zM13 1h1v1h-1zM16 1h1v1h-1zM22 1h1v1h-1zM24 1h3v1h-3zM29 1h2v1h-2z"/>
<path fill="#f8f228" d="M4 0h1v1h-1zM2 1h1v1h-1zM4 1h1v1h-1zM8 1h1v1h-1zM10 1h1v1h-1zM12 1h1v1h-1zM17 1h1v1h-1zM23 1h1v1h-1zM9 2h1v1h-1zM4 5h1v1h-1z"/>
</g>
<g transform="translate(623.00,343.90) scale(1.2472,5.5375)" shape-rendering="crispEdges">
<path fill="#c65abe" d="M20 4h1v1h-1z"/>
<path fill="#a642a5" d="M1 3h1v1h-1zM1 4h1v1h-1zM12 4h1v1h-1zM21 4h1v1h-1zM28 4h1v1h-1zM31 4h1v1h-1zM34 4h2v1h-2zM17 5h1v1h-1zM21 7h1v1h-1z"/>
<path fill="#862a8b" d="M4 0h1v1h-1zM14 1h1v1h-1zM12 2h1v1h-1zM0 4h1v1h-1zM2 4h2v1h-2zM5 4h3v1h-3zM9 4h1v1h-1zM11 4h1v1h-1zM13 4h1v1h-1zM16 4h4v1h-4zM22 4h1v1h-1zM24 4h4v1h-4zM12 5h1v1h-1zM23 5h1v1h-1zM1 6h1v1h-1zM32 6h2v1h-2zM15 7h1v1h-1zM18 7h1v1h-1z"/>
<path fill="#6c1e73" d="M16 0h1v1h-1zM19 0h1v1h-1zM27 0h1v1h-1zM9 1h1v1h-1zM19 1h1v1h-1zM25 1h1v1h-1zM11 2h1v1h-1zM23 2h2v1h-2zM29 2h1v1h-1zM8 3h1v1h-1zM11 3h1v1h-1zM14 3h1v1h-1zM20 3h1v1h-1zM26 3h1v1h-1zM30 3h1v1h-1zM4 4h1v1h-1zM8 4h1v1h-1zM10 4h1v1h-1zM14 4h2v1h-2zM23 4h1v1h-1zM29 4h2v1h-2zM32 4h2v1h-2zM1 5h1v1h-1zM7 5h1v1h-1zM21 5h1v1h-1zM26 5h1v1h-1zM35 5h1v1h-1zM8 6h1v1h-1zM15 6h1v1h-1zM19 6h2v1h-2zM24 6h1v1h-1zM28 6h1v1h-1zM30 6h1v1h-1zM35 6h1v1h-1zM14 7h1v1h-1zM27 7h1v1h-1zM30 7h2v1h-2z"/>
<path fill="#501457" d="M10 0h3v1h-3zM14 0h1v1h-1zM17 0h1v1h-1zM26 0h1v1h-1zM33 0h2v1h-2zM12 1h1v1h-1zM17 1h1v1h-1zM22 1h2v1h-2zM26 1h1v1h-1zM28 1h5v1h-5zM35 1h1v1h-1zM6 2h1v1h-1zM9 2h1v1h-1zM31 2h1v1h-1zM7 3h1v1h-1zM15 3h1v1h-1zM18 3h1v1h-1zM23 3h2v1h-2zM31 3h1v1h-1zM33 3h1v1h-1zM2 5h2v1h-2zM6 5h1v1h-1zM8 5h1v1h-1zM10 5h2v1h-2zM14 5h3v1h-3zM18 5h1v1h-1zM20 5h1v1h-1zM24 5h1v1h-1zM28 5h2v1h-2zM33 5h1v1h-1zM2 6h2v1h-2zM12 6h1v1h-1zM14 6h1v1h-1zM16 6h1v1h-1zM18 6h1v1h-1zM21 6h1v1h-1zM1 7h2v1h-2zM8 7h1v1h-1zM12 7h2v1h-2zM17 7h1v1h-1zM23 7h2v1h-2zM28 7h2v1h-2zM32 7h1v1h-1zM34 7h1v1h-1z"/>
<path fill="#330b37" d="M20 0h1v1h-1zM22 0h1v1h-1zM25 0h1v1h-1zM30 0h3v1h-3zM7 1h2v1h-2zM10 1h2v1h-2zM13 1h1v1h-1zM18 1h1v1h-1zM21 1h1v1h-1zM8 2h1v1h-1zM13 2h1v1h-1zM0 3h1v1h-1zM9 3h2v1h-2zM19 3h1v1h-1zM22 3h1v1h-1zM29 3h1v1h-1zM35 3h1v1h-1zM0 5h1v1h-1zM4 5h2v1h-2zM9 5h1v1h-1zM19 5h1v1h-1zM27 5h1v1h-1zM30 5h3v1h-3zM5 6h2v1h-2zM9 6h1v1h-1zM25 6h3v1h-3zM31 6h1v1h-1zM6 7h2v1h-2zM16 7h1v1h-1zM19 7h1v1h-1zM22 7h1v1h-1zM33 7h1v1h-1zM35 7h1v1h-1z"/>
<path fill="#1d071e" d="M6 0h1v1h-1zM8 0h1v1h-1zM13 0h1v1h-1zM15 0h1v1h-1zM2 1h1v1h-1zM16 2h1v1h-1zM27 2h1v1h-1zM22 5h1v1h-1zM34 5h1v1h-1zM4 6h1v1h-1zM34 6h1v1h-1zM0 7h1v1h-1zM4 7h1v1h-1zM10 7h1v1h-1zM20 7h1v1h-1z"/>
<path fill="#241a14" d="M0 0h1v1h-1zM24 0h1v1h-1zM28 0h1v1h-1zM4 1h1v1h-1zM4 2h1v1h-1zM19 2h1v1h-1zM17 6h1v1h-1zM29 6h1v1h-1zM5 7h1v1h-1z"/>
<path fill="#494318" d="M20 1h1v1h-1zM1 2h1v1h-1zM17 3h1v1h-1zM32 3h1v1h-1zM34 3h1v1h-1zM13 5h1v1h-1zM9 7h1v1h-1zM11 7h1v1h-1z"/>
<path fill="#7b761e" d="M2 0h1v1h-1zM21 0h1v1h-1zM3 1h1v1h-1zM15 1h1v1h-1zM7 2h1v1h-1zM15 2h1v1h-1zM20 2h1v1h-1zM30 2h1v1h-1zM35 2h1v1h-1zM5 3h1v1h-1zM28 3h1v1h-1zM10 6h1v1h-1z"/>
<path fill="#aea923" d="M3 0h1v1h-1zM18 0h1v1h-1zM29 0h1v1h-1zM35 0h1v1h-1zM5 1h2v1h-2zM24 1h1v1h-1zM33 1h1v1h-1zM3 2h1v1h-1zM10 2h1v1h-1zM17 2h2v1h-2zM32 2h2v1h-2zM12 3h2v1h-2zM16 3h1v1h-1zM21 3h1v1h-1zM27 3h1v1h-1zM0 6h1v1h-1zM7 6h1v1h-1zM22 6h1v1h-1zM3 7h1v1h-1zM25 7h1v1h-1z"/>
<path fill="#d8d121" d="M1 0h1v1h-1zM9 0h1v1h-1zM23 0h1v1h-1zM1 1h1v1h-1zM27 1h1v1h-1zM34 1h1v1h-1zM0 2h1v1h-1zM21 2h1v1h-1zM25 2h2v1h-2zM2 3h3v1h-3zM6 3h1v1h-1zM11 6h1v1h-1zM13 6h1v1h-1z"/>
<path fill="#f2eb22" d="M5 0h1v1h-1zM16 1h1v1h-1zM2 2h1v1h-1zM22 2h1v1h-1zM34 2h1v1h-1zM23 6h1v1h-1zM26 7h1v1h-1z"/>
<path fill="#f8f228" d="M7 0h1v1h-1zM0 1h1v1h-1zM5 2h1v1h-1zM14 2h1v1h-1zM28 2h1v1h-1zM25 3h1v1h-1zM25 5h1v1h-1z"/>
</g>
<g transform="translate(355.50,389.20) scale(1.2389,5.3714)" shape-rendering="crispEdges">
<path fill="#c65abe" d="M18 1h1v1h-1zM30 6h1v1h-1z"/>
<path fill="#a642a5" d="M35 5h1v1h-1zM0 6h1v1h-1zM3 6h1v1h-1zM11 6h1v1h-1zM14 6h1v1h-1zM20 6h1v1h-1zM24 6h1v1h-1zM32 6h1v1h-1zM34 6h2v1h-2z"/>
<path fill="#862a8b" d="M7 1h1v1h-1zM11 2h1v1h-1zM2 5h1v1h-1zM1 6h1v1h-1zM5 6h2v1h-2zM9 6h2v1h-2zM12 6h2v1h-2zM16 6h1v1h-1zM18 6h1v1h-1zM23 6h1v1h-1zM25 6h5v1h-5zM31 6h1v1h-1zM33 6h1v1h-1z"/>
<path fill="#6c1e73" d="M8 0h1v1h-1zM11 0h1v1h-1zM17 0h1v1h-1zM19 0h1v1h-1zM25 0h1v1h-1zM9 1h1v1h-1zM33 1h1v1h-1zM33 2h2v1h-2zM5 3h1v1h-1zM3 4h1v1h-1zM25 4h1v1h-1zM34 4h1v1h-1zM18 5h1v1h-1zM32 5h1v1h-1zM2 6h1v1h-1zM4 6h1v1h-1zM7 6h2v1h-2zM15 6h1v1h-1zM19 6h1v1h-1zM21 6h2v1h-2z"/>
<path fill="#501457" d="M7 0h1v1h-1zM13 0h1v1h-1zM21 0h1v1h-1zM31 0h1v1h-1zM8 1h1v1h-1zM11 1h1v1h-1zM17 1h1v1h-1zM23 1h1v1h-1zM1 2h1v1h-1zM7 2h1v1h-1zM15 2h1v1h-1zM19 2h1v1h-1zM30 2h1v1h-1zM35 2h1v1h-1zM1 3h1v1h-1zM0 4h1v1h-1zM16 4h1v1h-1zM24 4h1v1h-1zM30 4h1v1h-1zM32 4h1v1h-1zM3 5h2v1h-2zM16 5h1v1h-1zM24 5h2v1h-2z"/>
<path fill="#330b37" d="M3 0h1v1h-1zM12 0h1v1h-1zM2 1h1v1h-1zM4 1h1v1h-1zM10 1h1v1h-1zM14 1h1v1h-1zM22 1h1v1h-1zM0 2h1v1h-1zM10 2h1v1h-1zM22 2h2v1h-2zM31 2h2v1h-2zM7 3h1v1h-1zM19 3h1v1h-1zM23 3h1v1h-1zM14 4h1v1h-1zM20 4h1v1h-1zM23 4h1v1h-1zM6 5h1v1h-1zM8 5h1v1h-1zM10 5h2v1h-2zM14 5h1v1h-1zM17 5h1v1h-1zM27 5h1v1h-1zM31 5h1v1h-1zM34 5h1v1h-1z"/>
<path fill="#1d071e" d="M5 0h1v1h-1zM14 0h1v1h-1zM26 0h1v1h-1zM5 1h1v1h-1zM24 1h1v1h-1zM18 2h1v1h-1zM21 2h1v1h-1zM24 2h1v1h-1zM8 3h1v1h-1zM29 3h1v1h-1zM13 4h1v1h-1zM19 4h1v1h-1zM15 5h1v1h-1zM21 5h1v1h-1z"/>
<path fill="#241a14" d="M18 0h1v1h-1zM21 1h1v1h-1zM25 1h1v1h-1zM25 2h1v1h-1zM0 3h1v1h-1zM22 3h1v1h-1zM33 4h1v1h-1zM5 5h1v1h-1zM33 5h1v1h-1z"/>
<path fill="#494318" d="M6 0h1v1h-1zM9 0h1v1h-1zM32 0h1v1h-1zM19 1h1v1h-1zM28 1h1v1h-1zM30 1h2v1h-2zM34 1h2v1h-2zM9 2h1v1h-1zM20 2h1v1h-1zM4 3h1v1h-1zM13 3h1v1h-1zM17 3h1v1h-1zM20 3h1v1h-1zM24 3h1v1h-1zM28 3h1v1h-1zM10 4h1v1h-1zM28 4h1v1h-1zM0 5h1v1h-1z"/>
<path fill="#7b761e" d="M0 0h1v1h-1zM2 0h1v1h-1zM4 0h1v1h-1zM10 0h1v1h-1zM30 0h1v1h-1zM0 1h2v1h-2zM27 2h3v1h-3zM9 3h1v1h-1zM12 3h1v1h-1zM27 3h1v1h-1zM32 3h1v1h-1zM1 4h1v1h-1zM17 4h2v1h-2zM21 4h1v1h-1zM19 5h2v1h-2zM23 5h1v1h-1zM28 5h1v1h-1z"/>
<path fill="#aea923" d="M24 0h1v1h-1zM28 0h1v1h-1zM34 0h2v1h-2zM3 1h1v1h-1zM13 1h1v1h-1zM16 1h1v1h-1zM26 1h2v1h-2zM32 1h1v1h-1zM4 2h1v1h-1zM14 2h1v1h-1zM16 2h2v1h-2zM16 3h1v1h-1zM21 3h1v1h-1zM4 4h1v1h-1zM7 4h2v1h-2zM12 4h1v1h-1zM15 4h1v1h-1zM27 4h1v1h-1zM1 5h1v1h-1zM9 5h1v1h-1zM26 5h1v1h-1z"/>
<path fill="#d8d121" d="M20 0h1v1h-1zM23 0h1v1h-1zM29 0h1v1h-1zM29 1h1v1h-1zM2 2h2v1h-2zM5 2h1v1h-1zM12 2h1v1h-1zM26 2h1v1h-1zM3 3h1v1h-1zM10 3h1v1h-1zM15 3h1v1h-1zM33 3h2v1h-2zM2 4h1v1h-1zM5 4h2v1h-2zM9 4h1v1h-1zM22 4h1v1h-1zM31 4h1v1h-1zM35 4h1v1h-1zM7 5h1v1h-1zM12 5h1v1h-1zM29 5h1v1h-1z"/>
<path fill="#f2eb22" d="M1 0h1v1h-1zM15 0h2v1h-2zM22 0h1v1h-1zM6 1h1v1h-1zM12 1h1v1h-1zM6 2h1v1h-1zM2 3h1v1h-1zM6 3h1v1h-1zM11 3h1v1h-1zM14 3h1v1h-1zM18 3h1v1h-1zM25 3h2v1h-2zM30 3h2v1h-2zM35 3h1v1h-1zM11 4h1v1h-1zM26 4h1v1h-1zM13 5h1v1h-1zM30 5h1v1h-1z"/>
<path fill="#f8f228" d="M27 0h1v1h-1zM33 0h1v1h-1zM15 1h1v1h-1zM20 1h1v1h-1zM8 2h1v1h-1zM13 2h1v1h-1zM29 4h1v1h-1zM22 5h1v1h-1zM17 6h1v1h-1z"/>
</g>
<g transform="translate(400.10,389.20) scale(1.2629,5.3714)" shape-rendering="crispEdges">
<path fill="#c65abe" d="M2 1h2v1h-2zM5 1h2v1h-2zM8 1h7v1h-7zM16 1h4v1h-4zM22 1h3v1h-3zM26 1h4v1h-4zM31 1h1v1h-1zM31 2h1v1h-1z"/>
<path fill="#a642a5" d="M1 1h1v1h-1zM4 1h1v1h-1zM7 1h1v1h-1zM15 1h1v1h-1zM20 1h2v1h-2zM25 1h1v1h-1zM30 1h1v1h-1zM32 1h3v1h-3zM1 2h2v1h-2zM11 2h2v1h-2zM14 2h1v1h-1zM25 2h1v1h-1zM27 2h1v1h-1zM5 4h1v1h-1z"/>
<path fill="#862a8b" d="M6 0h1v1h-1zM9 0h2v1h-2zM12 0h1v1h-1zM0 1h1v1h-1zM3 2h4v1h-4zM13 2h1v1h-1zM16 2h4v1h-4zM21 2h3v1h-3zM26 2h1v1h-1zM29 2h2v1h-2zM32 2h2v1h-2zM2 4h1v1h-1zM17 4h1v1h-1zM17 6h1v1h-1z"/>
<path fill="#6c1e73" d="M17 0h1v1h-1zM31 0h2v1h-2zM0 2h1v1h-1zM9 2h2v1h-2zM15 2h1v1h-1zM20 2h1v1h-1zM28 2h1v1h-1zM34 2h1v1h-1zM9 4h1v1h-1zM11 4h1v1h-1zM13 4h2v1h-2zM25 4h1v1h-1zM27 4h1v1h-1zM0 6h1v1h-1zM5 6h1v1h-1zM12 6h2v1h-2z"/>
<path fill="#501457" d="M22 0h1v1h-1zM28 0h1v1h-1zM9 3h1v1h-1zM3 4h1v1h-1zM6 4h1v1h-1zM10 4h1v1h-1zM16 4h1v1h-1zM18 4h1v1h-1zM28 4h1v1h-1zM30 4h1v1h-1zM33 4h2v1h-2zM6 5h1v1h-1zM8 5h1v1h-1zM33 5h1v1h-1zM9 6h1v1h-1zM14 6h1v1h-1zM16 6h1v1h-1zM31 6h1v1h-1z"/>
<path fill="#330b37" d="M0 0h1v1h-1zM8 0h1v1h-1zM20 0h1v1h-1zM23 0h1v1h-1zM29 0h2v1h-2zM2 3h1v1h-1zM8 3h1v1h-1zM12 3h2v1h-2zM18 3h1v1h-1zM22 3h1v1h-1zM24 3h1v1h-1zM26 3h1v1h-1zM28 3h1v1h-1zM31 3h1v1h-1zM4 4h1v1h-1zM15 4h1v1h-1zM19 4h4v1h-4zM29 4h1v1h-1zM2 5h2v1h-2zM5 5h1v1h-1zM11 5h1v1h-1zM18 5h1v1h-1zM23 5h1v1h-1zM32 5h1v1h-1zM34 5h1v1h-1zM3 6h1v1h-1z"/>
<path fill="#1d071e" d="M7 0h1v1h-1zM15 0h2v1h-2zM18 0h1v1h-1zM33 0h1v1h-1zM0 3h2v1h-2zM3 3h2v1h-2zM6 3h2v1h-2zM11 3h1v1h-1zM14 3h4v1h-4zM19 3h3v1h-3zM23 3h1v1h-1zM25 3h1v1h-1zM29 3h2v1h-2zM32 3h1v1h-1zM34 3h1v1h-1zM1 4h1v1h-1zM23 4h1v1h-1zM9 5h1v1h-1zM14 5h1v1h-1zM16 5h2v1h-2zM19 5h4v1h-4zM24 5h1v1h-1zM26 5h6v1h-6zM34 6h1v1h-1z"/>
<path fill="#241a14" d="M4 0h1v1h-1zM10 3h1v1h-1zM27 3h1v1h-1zM0 5h2v1h-2zM4 5h1v1h-1zM7 5h1v1h-1zM10 5h1v1h-1zM13 5h1v1h-1zM15 5h1v1h-1zM25 5h1v1h-1zM18 6h1v1h-1z"/>
<path fill="#494318" d="M21 0h1v1h-1zM28 6h2v1h-2zM32 6h1v1h-1z"/>
<path fill="#7b761e" d="M2 0h2v1h-2zM24 0h1v1h-1zM27 0h1v1h-1zM7 2h1v1h-1zM5 3h1v1h-1zM0 4h1v1h-1zM8 4h1v1h-1zM12 4h1v1h-1zM8 6h1v1h-1zM11 6h1v1h-1z"/>
<path fill="#aea923" d="M11 0h1v1h-1zM25 0h1v1h-1zM24 4h1v1h-1zM12 5h1v1h-1zM2 6h1v1h-1zM4 6h1v1h-1zM6 6h1v1h-1zM10 6h1v1h-1zM19 6h3v1h-3zM24 6h1v1h-1zM26 6h2v1h-2zM30 6h1v1h-1z"/>
<path fill="#d8d121" d="M1 0h1v1h-1zM5 0h1v1h-1zM13 0h1v1h-1zM8 2h1v1h-1zM24 2h1v1h-1zM31 4h2v1h-2zM1 6h1v1h-1zM7 6h1v1h-1zM25 6h1v1h-1z"/>
<path fill="#f2eb22" d="M19 0h1v1h-1zM26 0h1v1h-1zM34 0h1v1h-1zM26 4h1v1h-1zM23 6h1v1h-1zM33 6h1v1h-1z"/>
<path fill="#f8f228" d="M14 0h1v1h-1zM33 3h1v1h-1zM7 4h1v1h-1zM15 6h1v1h-1zM22 6h1v1h-1z"/>
</g>
<g transform="translate(444.30,389.20) scale(1.2417,5.3714)" shape-rendering="crispEdges">
<path fill="#c65abe" d="M1 1h1v1h-1zM30 1h1v1h-1z"/>
<path fill="#a642a5" d="M0 1h1v1h-1zM3 1h2v1h-2zM8 1h1v1h-1zM10 1h1v1h-1zM14 1h1v1h-1zM20 1h1v1h-1zM26 1h1v1h-1zM29 1h1v1h-1zM1 2h2v1h-2zM4 2h1v1h-1zM18 2h1v1h-1zM22 2h2v1h-2zM29 2h2v1h-2zM32 2h1v1h-1zM35 2h1v1h-1zM9 4h1v1h-1zM1 5h1v1h-1zM4 5h2v1h-2zM8 5h1v1h-1zM10 5h2v1h-2zM13 5h2v1h-2zM17 5h1v1h-1zM20 5h1v1h-1zM22 5h1v1h-1zM32 5h1v1h-1zM34 5h2v1h-2z"/>
<path fill="#862a8b" d="M14 0h1v1h-1zM25 0h1v1h-1zM2 1h1v1h-1zM5 1h1v1h-1zM7 1h1v1h-1zM9 1h1v1h-1zM11 1h3v1h-3zM15 1h1v1h-1zM17 1h3v1h-3zM21 1h3v1h-3zM27 1h1v1h-1zM34 1h2v1h-2zM5 2h1v1h-1zM11 2h1v1h-1zM13 2h2v1h-2zM17 2h1v1h-1zM20 2h1v1h-1zM24 2h3v1h-3zM31 2h1v1h-1zM34 2h1v1h-1zM1 3h1v1h-1zM7 3h1v1h-1zM17 3h1v1h-1zM20 3h1v1h-1zM34 3h1v1h-1zM7 4h1v1h-1zM2 5h2v1h-2zM6 5h2v1h-2zM9 5h1v1h-1zM12 5h1v1h-1zM19 5h1v1h-1zM21 5h1v1h-1zM23 5h2v1h-2zM28 5h4v1h-4zM4 6h1v1h-1zM12 6h1v1h-1zM14 6h1v1h-1z"/>
<path fill="#6c1e73" d="M1 0h1v1h-1zM4 0h1v1h-1zM10 0h1v1h-1zM22 0h1v1h-1zM34 0h1v1h-1zM6 1h1v1h-1zM24 1h2v1h-2zM28 1h1v1h-1zM31 1h3v1h-3zM3 2h1v1h-1zM6 2h1v1h-1zM8 2h2v1h-2zM12 2h1v1h-1zM15 2h2v1h-2zM19 2h1v1h-1zM21 2h1v1h-1zM27 2h1v1h-1zM33 2h1v1h-1zM0 3h1v1h-1zM3 3h2v1h-2zM9 3h1v1h-1zM11 3h2v1h-2zM14 3h2v1h-2zM18 3h2v1h-2zM21 3h1v1h-1zM23 3h2v1h-2zM26 3h1v1h-1zM28 3h1v1h-1zM30 3h3v1h-3zM35 3h1v1h-1zM4 4h1v1h-1zM19 4h1v1h-1zM0 5h1v1h-1zM26 5h1v1h-1zM33 5h1v1h-1zM11 6h1v1h-1zM23 6h1v1h-1zM25 6h1v1h-1zM29 6h1v1h-1zM35 6h1v1h-1z"/>
<path fill="#501457" d="M2 0h1v1h-1zM13 0h1v1h-1zM20 0h1v1h-1zM26 0h1v1h-1zM16 1h1v1h-1zM0 2h1v1h-1zM28 2h1v1h-1zM5 3h2v1h-2zM8 3h1v1h-1zM10 3h1v1h-1zM13 3h1v1h-1zM16 3h1v1h-1zM25 3h1v1h-1zM27 3h1v1h-1zM29 3h1v1h-1zM33 3h1v1h-1zM11 4h1v1h-1zM32 4h1v1h-1zM15 5h1v1h-1zM25 5h1v1h-1zM27 5h1v1h-1zM0 6h1v1h-1zM17 6h1v1h-1zM20 6h1v1h-1zM22 6h1v1h-1zM30 6h1v1h-1zM32 6h2v1h-2z"/>
<path fill="#330b37" d="M6 0h1v1h-1zM28 0h1v1h-1zM33 0h1v1h-1zM2 4h1v1h-1zM5 4h1v1h-1zM10 4h1v1h-1zM1 6h1v1h-1zM3 6h1v1h-1zM16 6h1v1h-1zM19 6h1v1h-1zM26 6h2v1h-2zM31 6h1v1h-1z"/>
<path fill="#1d071e" d="M12 0h1v1h-1zM17 0h1v1h-1zM21 0h1v1h-1zM24 0h1v1h-1zM27 0h1v1h-1zM35 0h1v1h-1zM16 4h1v1h-1zM23 4h1v1h-1zM26 4h1v1h-1zM6 6h1v1h-1zM8 6h1v1h-1zM15 6h1v1h-1zM24 6h1v1h-1z"/>
<path fill="#241a14" d="M3 0h1v1h-1zM16 0h1v1h-1zM32 0h1v1h-1zM12 4h1v1h-1zM9 6h1v1h-1zM18 6h1v1h-1z"/>
<path fill="#494318" d="M28 4h1v1h-1zM35 4h1v1h-1zM34 6h1v1h-1z"/>
<path fill="#7b761e" d="M0 0h1v1h-1zM7 0h1v1h-1zM19 0h1v1h-1zM30 0h1v1h-1zM1 4h1v1h-1zM14 4h2v1h-2zM17 4h1v1h-1zM22 4h1v1h-1zM25 4h1v1h-1zM30 4h1v1h-1zM7 6h1v1h-1zM21 6h1v1h-1z"/>
<path fill="#aea923" d="M11 0h1v1h-1zM23 0h1v1h-1zM29 0h1v1h-1zM2 3h1v1h-1zM22 3h1v1h-1zM3 4h1v1h-1zM13 4h1v1h-1zM24 4h1v1h-1zM29 4h1v1h-1zM33 4h2v1h-2zM16 5h1v1h-1zM2 6h1v1h-1z"/>
<path fill="#d8d121" d="M15 0h1v1h-1zM31 0h1v1h-1zM7 2h1v1h-1zM10 2h1v1h-1zM0 4h1v1h-1zM6 4h1v1h-1zM18 4h1v1h-1zM20 4h2v1h-2zM27 4h1v1h-1zM31 4h1v1h-1zM18 5h1v1h-1zM10 6h1v1h-1zM13 6h1v1h-1zM28 6h1v1h-1z"/>
<path fill="#f2eb22" d="M8 0h2v1h-2zM8 4h1v1h-1z"/>
<path fill="#f8f228" d="M5 0h1v1h-1zM18 0h1v1h-1zM5 6h1v1h-1z"/>
</g>
<g transform="translate(489.00,389.20) scale(1.2472,5.3714)" shape-rendering="crispEdges">
<path fill="#a642a5" d="M8 1h2v1h-2zM15 1h1v1h-1zM17 1h1v1h-1zM23 1h1v1h-1zM27 1h1v1h-1zM32 1h1v1h-1zM34 1h1v1h-1zM6 2h1v1h-1zM8 2h1v1h-1zM11 2h1v1h-1zM21 2h1v1h-1zM26 2h1v1h-1zM31 2h1v1h-1zM34 2h2v1h-2zM2 4h1v1h-1zM5 6h1v1h-1z"/>
<path fill="#862a8b" d="M2 1h5v1h-5zM12 1h1v1h-1zM16 1h1v1h-1zM18 1h1v1h-1zM20 1h3v1h-3zM28 1h1v1h-1zM31 1h1v1h-1zM35 1h1v1h-1zM1 2h3v1h-3zM7 2h1v1h-1zM9 2h1v1h-1zM13 2h6v1h-6zM22 2h2v1h-2zM27 2h2v1h-2zM30 2h1v1h-1zM32 2h1v1h-1zM15 4h1v1h-1zM32 4h1v1h-1zM34 4h1v1h-1zM9 5h1v1h-1zM34 5h1v1h-1zM8 6h1v1h-1z"/>
<path fill="#6c1e73" d="M6 0h1v1h-1zM28 0h1v1h-1zM31 0h1v1h-1zM34 0h1v1h-1zM0 1h2v1h-2zM7 1h1v1h-1zM10 1h2v1h-2zM13 1h2v1h-2zM19 1h1v1h-1zM24 1h2v1h-2zM29 1h2v1h-2zM33 1h1v1h-1zM0 2h1v1h-1zM5 2h1v1h-1zM12 2h1v1h-1zM20 2h1v1h-1zM24 2h2v1h-2zM29 2h1v1h-1zM33 2h1v1h-1zM11 4h1v1h-1zM20 4h2v1h-2zM25 4h1v1h-1zM31 4h1v1h-1zM3 5h1v1h-1zM8 5h1v1h-1zM21 5h2v1h-2zM27 5h1v1h-1zM2 6h1v1h-1zM6 6h1v1h-1zM12 6h1v1h-1zM15 6h1v1h-1zM33 6h3v1h-3z"/>
<path fill="#501457" d="M3 0h1v1h-1zM10 0h2v1h-2zM15 0h1v1h-1zM19 0h1v1h-1zM23 0h1v1h-1zM26 0h1v1h-1zM26 1h1v1h-1zM4 2h1v1h-1zM19 2h1v1h-1zM3 4h3v1h-3zM8 4h1v1h-1zM16 4h2v1h-2zM22 4h3v1h-3zM26 4h1v1h-1zM29 4h2v1h-2zM35 4h1v1h-1zM0 5h1v1h-1zM2 5h1v1h-1zM4 5h1v1h-1zM7 5h1v1h-1zM10 5h1v1h-1zM13 5h3v1h-3zM17 5h3v1h-3zM25 5h1v1h-1zM28 5h1v1h-1zM30 5h1v1h-1zM33 5h1v1h-1zM0 6h2v1h-2zM3 6h2v1h-2zM9 6h2v1h-2zM18 6h1v1h-1zM21 6h1v1h-1zM24 6h1v1h-1zM28 6h1v1h-1zM30 6h1v1h-1z"/>
<path fill="#330b37" d="M2 0h1v1h-1zM7 0h2v1h-2zM12 0h1v1h-1zM17 0h1v1h-1zM20 0h1v1h-1zM24 0h2v1h-2zM7 3h1v1h-1zM10 3h2v1h-2zM19 3h2v1h-2zM25 3h1v1h-1zM29 3h1v1h-1zM31 3h1v1h-1zM35 3h1v1h-1zM0 4h1v1h-1zM6 4h2v1h-2zM9 4h1v1h-1zM13 4h2v1h-2zM18 4h1v1h-1zM11 5h2v1h-2zM16 5h1v1h-1zM20 5h1v1h-1zM23 5h2v1h-2zM26 5h1v1h-1zM29 5h1v1h-1zM32 5h1v1h-1zM35 5h1v1h-1zM7 6h1v1h-1zM11 6h1v1h-1zM14 6h1v1h-1zM17 6h1v1h-1zM22 6h2v1h-2zM25 6h3v1h-3zM29 6h1v1h-1zM31 6h2v1h-2z"/>
<path fill="#1d071e" d="M29 0h1v1h-1zM33 0h1v1h-1zM0 3h4v1h-4zM5 3h2v1h-2zM8 3h2v1h-2zM12 3h2v1h-2zM15 3h1v1h-1zM23 3h1v1h-1zM26 3h1v1h-1zM30 3h1v1h-1zM33 3h1v1h-1zM27 4h2v1h-2zM33 4h1v1h-1zM1 5h1v1h-1zM5 5h2v1h-2zM16 6h1v1h-1zM20 6h1v1h-1z"/>
<path fill="#241a14" d="M27 0h1v1h-1zM4 3h1v1h-1zM14 3h1v1h-1zM16 3h2v1h-2zM21 3h1v1h-1zM24 3h1v1h-1zM32 3h1v1h-1zM19 6h1v1h-1z"/>
<path fill="#494318" d="M28 3h1v1h-1z"/>
<path fill="#7b761e" d="M14 0h1v1h-1zM18 0h1v1h-1zM32 0h1v1h-1zM10 2h1v1h-1zM18 3h1v1h-1zM27 3h1v1h-1zM31 5h1v1h-1z"/>
<path fill="#aea923" d="M22 0h1v1h-1zM35 0h1v1h-1z"/>
<path fill="#d8d121" d="M0 0h2v1h-2zM5 0h1v1h-1zM16 0h1v1h-1zM21 0h1v1h-1zM22 3h1v1h-1zM10 4h1v1h-1zM12 4h1v1h-1zM19 4h1v1h-1z"/>
<path fill="#f2eb22" d="M4 0h1v1h-1zM9 0h1v1h-1zM34 3h1v1h-1zM1 4h1v1h-1zM13 6h1v1h-1z"/>
<path fill="#f8f228" d="M13 0h1v1h-1zM30 0h1v1h-1z"/>
</g>
<g transform="translate(533.90,389.20) scale(1.2657,5.3714)" shape-rendering="crispEdges">
<path fill="#c65abe" d="M24 2h1v1h-1z"/>
<path fill="#a642a5" d="M1 2h1v1h-1zM12 2h1v1h-1zM16 2h2v1h-2zM30 2h1v1h-1zM34 2h1v1h-1zM11 6h2v1h-2zM14 6h1v1h-1zM21 6h1v1h-1zM23 6h1v1h-1zM25 6h1v1h-1zM32 6h1v1h-1z"/>
<path fill="#862a8b" d="M10 0h1v1h-1zM19 0h1v1h-1zM29 0h2v1h-2zM7 1h1v1h-1zM30 1h1v1h-1zM33 1h1v1h-1zM0 2h1v1h-1zM3 2h4v1h-4zM8 2h1v1h-1zM10 2h2v1h-2zM13 2h1v1h-1zM15 2h1v1h-1zM18 2h6v1h-6zM26 2h4v1h-4zM31 2h3v1h-3zM2 4h1v1h-1zM28 4h2v1h-2zM1 6h1v1h-1zM5 6h3v1h-3zM9 6h2v1h-2zM13 6h1v1h-1zM15 6h5v1h-5zM22 6h1v1h-1zM27 6h4v1h-4zM33 6h2v1h-2z"/>
<path fill="#6c1e73" d="M1 0h2v1h-2zM4 0h1v1h-1zM7 0h1v1h-1zM12 0h2v1h-2zM15 0h2v1h-2zM20 0h2v1h-2zM23 0h2v1h-2zM27 0h2v1h-2zM31 0h3v1h-3zM2 1h1v1h-1zM10 1h1v1h-1zM13 1h1v1h-1zM23 1h1v1h-1zM7 2h1v1h-1zM9 2h1v1h-1zM14 2h1v1h-1zM25 2h1v1h-1zM2 3h1v1h-1zM6 3h1v1h-1zM8 3h1v1h-1zM11 3h1v1h-1zM18 3h1v1h-1zM28 3h1v1h-1zM31 3h1v1h-1zM1 4h1v1h-1zM5 4h1v1h-1zM10 4h1v1h-1zM12 4h1v1h-1zM14 4h1v1h-1zM17 4h3v1h-3zM24 4h4v1h-4zM30 4h1v1h-1zM32 4h1v1h-1zM34 4h1v1h-1zM0 5h2v1h-2zM5 5h1v1h-1zM7 5h1v1h-1zM18 5h1v1h-1zM20 5h1v1h-1zM26 5h1v1h-1zM32 5h1v1h-1zM34 5h1v1h-1zM0 6h1v1h-1zM3 6h2v1h-2zM8 6h1v1h-1zM20 6h1v1h-1zM24 6h1v1h-1zM26 6h1v1h-1zM31 6h1v1h-1z"/>
<path fill="#501457" d="M5 0h2v1h-2zM8 0h1v1h-1zM11 0h1v1h-1zM14 0h1v1h-1zM17 0h2v1h-2zM22 0h1v1h-1zM25 0h2v1h-2zM34 0h1v1h-1zM0 1h2v1h-2zM9 1h1v1h-1zM12 1h1v1h-1zM18 1h1v1h-1zM20 1h1v1h-1zM24 1h1v1h-1zM27 1h1v1h-1zM31 1h1v1h-1zM0 3h2v1h-2zM4 3h1v1h-1zM7 3h1v1h-1zM9 3h2v1h-2zM13 3h1v1h-1zM15 3h2v1h-2zM19 3h1v1h-1zM22 3h3v1h-3zM26 3h1v1h-1zM29 3h1v1h-1zM34 3h1v1h-1zM3 4h2v1h-2zM6 4h4v1h-4zM11 4h1v1h-1zM13 4h1v1h-1zM15 4h2v1h-2zM20 4h4v1h-4zM33 4h1v1h-1zM6 5h1v1h-1zM10 5h4v1h-4zM15 5h1v1h-1zM19 5h1v1h-1zM21 5h4v1h-4zM27 5h1v1h-1zM33 5h1v1h-1zM2 6h1v1h-1z"/>
<path fill="#330b37" d="M0 0h1v1h-1zM3 0h1v1h-1zM3 1h2v1h-2zM17 1h1v1h-1zM19 1h1v1h-1zM21 1h1v1h-1zM25 1h1v1h-1zM3 3h1v1h-1zM12 3h1v1h-1zM14 3h1v1h-1zM17 3h1v1h-1zM20 3h1v1h-1zM25 3h1v1h-1zM27 3h1v1h-1zM32 3h2v1h-2zM0 4h1v1h-1zM2 5h3v1h-3zM8 5h1v1h-1zM14 5h1v1h-1zM17 5h1v1h-1zM25 5h1v1h-1zM28 5h1v1h-1zM31 5h1v1h-1z"/>
<path fill="#1d071e" d="M5 1h2v1h-2zM15 1h1v1h-1zM29 1h1v1h-1zM32 1h1v1h-1zM21 3h1v1h-1zM29 5h1v1h-1z"/>
<path fill="#241a14" d="M14 1h1v1h-1zM16 1h1v1h-1z"/>
<path fill="#494318" d="M31 4h1v1h-1zM16 5h1v1h-1z"/>
<path fill="#7b761e" d="M11 1h1v1h-1zM34 1h1v1h-1z"/>
<path fill="#aea923" d="M9 0h1v1h-1zM2 2h1v1h-1zM5 3h1v1h-1zM30 3h1v1h-1zM9 5h1v1h-1zM30 5h1v1h-1z"/>
<path fill="#d8d121" d="M8 1h1v1h-1zM22 1h1v1h-1zM28 1h1v1h-1z"/>
<path fill="#f2eb22" d="M26 1h1v1h-1z"/>
</g>
<g transform="translate(578.20,389.20) scale(1.2444,5.3714)" shape-rendering="crispEdges">
<path fill="#c65abe" d="M29 6h1v1h-1z"/>
<path fill="#a642a5" d="M33 2h1v1h-1zM3 6h1v1h-1zM8 6h2v1h-2zM20 6h1v1h-1zM23 6h2v1h-2zM30 6h1v1h-1zM33 6h1v1h-1z"/>
<path fill="#862a8b" d="M1 1h1v1h-1zM12 1h1v1h-1zM25 1h1v1h-1zM28 1h1v1h-1zM27 2h1v1h-1zM30 2h1v1h-1zM0 6h1v1h-1zM2 6h1v1h-1zM5 6h2v1h-2zM10 6h3v1h-3zM14 6h1v1h-1zM16 6h1v1h-1zM18 6h2v1h-2zM21 6h2v1h-2zM25 6h1v1h-1zM28 6h1v1h-1zM31 6h2v1h-2zM35 6h1v1h-1z"/>
<path fill="#6c1e73" d="M21 0h2v1h-2zM30 0h2v1h-2zM7 1h1v1h-1zM14 1h1v1h-1zM16 1h1v1h-1zM30 1h1v1h-1zM6 2h1v1h-1zM11 2h1v1h-1zM14 2h1v1h-1zM16 2h1v1h-1zM19 2h1v1h-1zM21 2h1v1h-1zM23 2h1v1h-1zM29 2h1v1h-1zM35 2h1v1h-1zM21 4h1v1h-1zM30 4h1v1h-1zM19 5h1v1h-1zM1 6h1v1h-1zM7 6h1v1h-1zM13 6h1v1h-1zM15 6h1v1h-1zM17 6h1v1h-1zM26 6h2v1h-2zM34 6h1v1h-1z"/>
<path fill="#501457" d="M0 0h1v1h-1zM2 0h1v1h-1zM5 0h2v1h-2zM10 0h2v1h-2zM14 0h1v1h-1zM19 0h2v1h-2zM23 0h2v1h-2zM29 0h1v1h-1zM32 0h1v1h-1zM5 1h1v1h-1zM17 1h1v1h-1zM19 1h1v1h-1zM21 1h2v1h-2zM26 1h2v1h-2zM1 2h1v1h-1zM5 2h1v1h-1zM9 2h1v1h-1zM15 2h1v1h-1zM20 2h1v1h-1zM25 2h1v1h-1zM32 2h1v1h-1zM9 3h1v1h-1zM19 3h1v1h-1zM23 3h1v1h-1zM0 4h4v1h-4zM5 4h1v1h-1zM7 4h2v1h-2zM10 4h1v1h-1zM12 4h1v1h-1zM14 4h2v1h-2zM18 4h2v1h-2zM22 4h1v1h-1zM24 4h4v1h-4zM32 4h2v1h-2zM35 4h1v1h-1z"/>
<path fill="#330b37" d="M1 0h1v1h-1zM3 0h1v1h-1zM7 0h1v1h-1zM9 0h1v1h-1zM12 0h2v1h-2zM15 0h2v1h-2zM18 0h1v1h-1zM25 0h2v1h-2zM33 0h3v1h-3zM0 1h1v1h-1zM2 1h3v1h-3zM9 1h1v1h-1zM13 1h1v1h-1zM29 1h1v1h-1zM34 1h1v1h-1zM2 2h1v1h-1zM4 2h1v1h-1zM8 2h1v1h-1zM10 2h1v1h-1zM17 2h1v1h-1zM22 2h1v1h-1zM24 2h1v1h-1zM31 2h1v1h-1zM34 2h1v1h-1zM0 3h4v1h-4zM14 3h1v1h-1zM17 3h2v1h-2zM21 3h2v1h-2zM26 3h1v1h-1zM29 3h3v1h-3zM6 4h1v1h-1zM9 4h1v1h-1zM11 4h1v1h-1zM16 4h2v1h-2zM20 4h1v1h-1zM28 4h2v1h-2zM31 4h1v1h-1zM34 4h1v1h-1zM3 5h1v1h-1zM5 5h6v1h-6zM12 5h1v1h-1zM14 5h2v1h-2zM23 5h2v1h-2zM29 5h3v1h-3zM34 5h1v1h-1z"/>
<path fill="#1d071e" d="M4 0h1v1h-1zM17 0h1v1h-1zM27 0h2v1h-2zM6 1h1v1h-1zM10 1h1v1h-1zM18 1h1v1h-1zM20 1h1v1h-1zM32 1h1v1h-1zM7 2h1v1h-1zM26 2h1v1h-1zM28 2h1v1h-1zM4 3h5v1h-5zM11 3h2v1h-2zM15 3h2v1h-2zM24 3h1v1h-1zM27 3h2v1h-2zM32 3h1v1h-1zM34 3h2v1h-2zM4 4h1v1h-1zM13 4h1v1h-1zM1 5h2v1h-2zM4 5h1v1h-1zM13 5h1v1h-1zM16 5h3v1h-3zM20 5h3v1h-3zM25 5h4v1h-4zM32 5h2v1h-2z"/>
<path fill="#241a14" d="M35 1h1v1h-1zM0 2h1v1h-1zM0 5h1v1h-1zM11 5h1v1h-1z"/>
<path fill="#494318" d="M31 1h1v1h-1zM33 1h1v1h-1zM25 3h1v1h-1zM35 5h1v1h-1z"/>
<path fill="#7b761e" d="M23 1h1v1h-1zM13 2h1v1h-1zM13 3h1v1h-1zM20 3h1v1h-1zM4 6h1v1h-1z"/>
<path fill="#aea923" d="M8 1h1v1h-1zM24 1h1v1h-1zM12 2h1v1h-1z"/>
<path fill="#d8d121" d="M8 0h1v1h-1zM15 1h1v1h-1zM3 2h1v1h-1zM18 2h1v1h-1zM10 3h1v1h-1zM33 3h1v1h-1zM23 4h1v1h-1z"/>
<path fill="#f2eb22" d="M11 1h1v1h-1z"/>
</g>
<g transform="translate(623.00,389.20) scale(1.2472,5.3714)" shape-rendering="crispEdges">
<path fill="#a642a5" d="M16 4h1v1h-1zM28 5h1v1h-1zM34 5h1v1h-1zM2 6h3v1h-3zM6 6h2v1h-2zM9 6h1v1h-1zM11 6h1v1h-1zM13 6h1v1h-1zM18 6h1v1h-1zM23 6h1v1h-1zM25 6h1v1h-1zM29 6h4v1h-4zM34 6h1v1h-1z"/>
<path fill="#862a8b" d="M2 1h1v1h-1zM3 3h1v1h-1zM0 4h2v1h-2zM6 4h1v1h-1zM17 4h1v1h-1zM24 4h2v1h-2zM34 4h1v1h-1zM4 5h2v1h-2zM8 5h1v1h-1zM11 5h2v1h-2zM18 5h1v1h-1zM23 5h1v1h-1zM1 6h1v1h-1zM5 6h1v1h-1zM8 6h1v1h-1zM10 6h1v1h-1zM12 6h1v1h-1zM14 6h1v1h-1zM16 6h2v1h-2zM19 6h3v1h-3zM24 6h1v1h-1zM27 6h1v1h-1zM33 6h1v1h-1zM35 6h1v1h-1z"/>
<path fill="#6c1e73" d="M6 0h1v1h-1zM12 0h2v1h-2zM27 0h1v1h-1zM31 0h1v1h-1zM34 0h1v1h-1zM20 1h1v1h-1zM35 2h1v1h-1zM1 3h2v1h-2zM4 3h1v1h-1zM9 3h2v1h-2zM17 3h1v1h-1zM30 3h5v1h-5zM3 4h2v1h-2zM13 4h1v1h-1zM15 4h1v1h-1zM19 4h1v1h-1zM21 4h2v1h-2zM27 4h3v1h-3zM32 4h1v1h-1zM35 4h1v1h-1zM0 5h3v1h-3zM6 5h1v1h-1zM9 5h1v1h-1zM14 5h1v1h-1zM17 5h1v1h-1zM19 5h2v1h-2zM22 5h1v1h-1zM26 5h1v1h-1zM29 5h1v1h-1zM31 5h3v1h-3zM35 5h1v1h-1zM0 6h1v1h-1zM15 6h1v1h-1zM26 6h1v1h-1z"/>
<path fill="#501457" d="M0 0h3v1h-3zM4 0h1v1h-1zM9 0h1v1h-1zM11 0h1v1h-1zM14 0h5v1h-5zM23 0h2v1h-2zM28 0h1v1h-1zM30 0h1v1h-1zM32 0h1v1h-1zM35 0h1v1h-1zM1 1h1v1h-1zM10 1h2v1h-2zM28 1h1v1h-1zM1 2h1v1h-1zM6 2h1v1h-1zM6 3h1v1h-1zM11 3h4v1h-4zM18 3h1v1h-1zM21 3h1v1h-1zM24 3h1v1h-1zM27 3h3v1h-3zM35 3h1v1h-1zM2 4h1v1h-1zM5 4h1v1h-1zM7 4h1v1h-1zM9 4h1v1h-1zM11 4h2v1h-2zM18 4h1v1h-1zM20 4h1v1h-1zM23 4h1v1h-1zM26 4h1v1h-1zM30 4h2v1h-2zM33 4h1v1h-1zM3 5h1v1h-1zM7 5h1v1h-1zM10 5h1v1h-1zM13 5h1v1h-1zM21 5h1v1h-1zM24 5h2v1h-2zM27 5h1v1h-1zM30 5h1v1h-1zM22 6h1v1h-1z"/>
<path fill="#330b37" d="M5 0h1v1h-1zM7 0h2v1h-2zM10 0h1v1h-1zM20 0h3v1h-3zM25 0h1v1h-1zM29 0h1v1h-1zM33 0h1v1h-1zM0 1h1v1h-1zM3 1h2v1h-2zM8 1h2v1h-2zM13 1h1v1h-1zM15 1h2v1h-2zM18 1h1v1h-1zM22 1h1v1h-1zM24 1h1v1h-1zM33 1h1v1h-1zM4 2h1v1h-1zM7 2h1v1h-1zM9 2h1v1h-1zM28 2h2v1h-2zM0 3h1v1h-1zM5 3h1v1h-1zM8 3h1v1h-1zM15 3h2v1h-2zM20 3h1v1h-1zM22 3h1v1h-1zM25 3h1v1h-1zM10 4h1v1h-1zM14 4h1v1h-1zM15 5h2v1h-2z"/>
<path fill="#1d071e" d="M3 0h1v1h-1zM19 0h1v1h-1zM26 0h1v1h-1zM17 1h1v1h-1zM19 1h1v1h-1zM23 1h1v1h-1zM25 1h1v1h-1zM30 1h1v1h-1zM19 2h1v1h-1zM25 2h3v1h-3zM7 3h1v1h-1zM23 3h1v1h-1z"/>
<path fill="#241a14" d="M7 1h1v1h-1zM0 2h1v1h-1zM10 2h1v1h-1zM28 6h1v1h-1z"/>
<path fill="#494318" d="M5 1h1v1h-1zM29 1h1v1h-1zM31 1h1v1h-1zM2 2h1v1h-1z"/>
<path fill="#7b761e" d="M14 1h1v1h-1zM32 1h1v1h-1zM35 1h1v1h-1zM15 2h2v1h-2zM31 2h1v1h-1z"/>
<path fill="#aea923" d="M12 1h1v1h-1zM27 1h1v1h-1zM3 2h1v1h-1zM5 2h1v1h-1zM8 2h1v1h-1zM24 2h1v1h-1zM32 2h3v1h-3zM19 3h1v1h-1zM26 3h1v1h-1z"/>
<path fill="#d8d121" d="M6 1h1v1h-1zM11 2h1v1h-1zM13 2h2v1h-2zM17 2h2v1h-2zM20 2h1v1h-1zM30 2h1v1h-1zM8 4h1v1h-1z"/>
<path fill="#f2eb22" d="M21 1h1v1h-1zM26 1h1v1h-1zM34 1h1v1h-1zM12 2h1v1h-1zM23 2h1v1h-1z"/>
<path fill="#f8f228" d="M21 2h2v1h-2z"/>
</g>
<g transform="translate(355.50,427.80) scale(1.2389,5.3167)" shape-rendering="crispEdges">
<path fill="#c65abe" d="M18 2h1v1h-1z"/>
<path fill="#a642a5" d="M3 2h3v1h-3zM9 2h1v1h-1zM11 2h1v1h-1zM14 2h2v1h-2zM25 2h2v1h-2zM30 2h1v1h-1zM2 5h1v1h-1z"/>
<path fill="#862a8b" d="M11 0h1v1h-1zM30 0h1v1h-1zM11 1h1v1h-1zM0 2h1v1h-1zM2 2h1v1h-1zM6 2h3v1h-3zM10 2h1v1h-1zM13 2h1v1h-1zM16 2h2v1h-2zM21 2h3v1h-3zM27 2h3v1h-3zM34 2h1v1h-1zM9 3h1v1h-1zM15 3h1v1h-1zM18 3h1v1h-1zM12 4h1v1h-1zM13 5h1v1h-1z"/>
<path fill="#6c1e73" d="M1 0h1v1h-1zM12 0h1v1h-1zM15 0h1v1h-1zM34 0h2v1h-2zM5 1h1v1h-1zM9 1h1v1h-1zM18 1h1v1h-1zM25 1h1v1h-1zM29 1h1v1h-1zM1 2h1v1h-1zM12 2h1v1h-1zM19 2h2v1h-2zM32 2h2v1h-2zM2 3h1v1h-1zM4 3h2v1h-2zM10 3h2v1h-2zM16 3h2v1h-2zM26 3h1v1h-1zM29 3h1v1h-1zM4 4h1v1h-1zM19 4h1v1h-1zM29 4h1v1h-1zM35 4h1v1h-1zM1 5h1v1h-1zM6 5h1v1h-1z"/>
<path fill="#501457" d="M0 0h1v1h-1zM7 0h1v1h-1zM14 0h1v1h-1zM17 0h2v1h-2zM33 0h1v1h-1zM20 1h1v1h-1zM24 1h1v1h-1zM30 1h1v1h-1zM24 2h1v1h-1zM14 3h1v1h-1zM24 3h2v1h-2zM1 4h1v1h-1zM3 4h1v1h-1zM30 4h1v1h-1zM32 4h1v1h-1zM3 5h1v1h-1zM8 5h1v1h-1zM12 5h1v1h-1zM15 5h1v1h-1zM29 5h1v1h-1zM31 5h1v1h-1zM33 5h1v1h-1z"/>
<path fill="#330b37" d="M20 0h1v1h-1zM23 0h4v1h-4zM2 1h2v1h-2zM7 1h2v1h-2zM12 1h1v1h-1zM14 1h1v1h-1zM21 1h2v1h-2zM35 1h1v1h-1zM22 3h1v1h-1zM28 3h1v1h-1zM30 3h1v1h-1zM33 3h1v1h-1zM0 4h1v1h-1zM5 4h1v1h-1zM11 4h1v1h-1zM13 4h1v1h-1zM15 4h2v1h-2zM22 4h1v1h-1zM24 4h1v1h-1zM0 5h1v1h-1zM9 5h1v1h-1zM20 5h1v1h-1zM25 5h1v1h-1zM28 5h1v1h-1z"/>
<path fill="#1d071e" d="M6 0h1v1h-1zM8 0h1v1h-1zM19 0h1v1h-1zM28 0h1v1h-1zM19 1h1v1h-1zM32 1h1v1h-1zM6 3h2v1h-2zM13 3h1v1h-1zM20 3h1v1h-1zM23 3h1v1h-1zM34 3h1v1h-1zM2 4h1v1h-1zM14 5h1v1h-1zM16 5h1v1h-1z"/>
<path fill="#241a14" d="M27 0h1v1h-1zM29 0h1v1h-1zM0 1h1v1h-1zM16 1h1v1h-1zM26 4h1v1h-1zM5 5h1v1h-1zM7 5h1v1h-1zM11 5h1v1h-1zM18 5h1v1h-1z"/>
<path fill="#494318" d="M4 0h1v1h-1zM13 1h1v1h-1zM0 3h1v1h-1zM10 5h1v1h-1zM35 5h1v1h-1z"/>
<path fill="#7b761e" d="M5 0h1v1h-1zM10 0h1v1h-1zM21 0h2v1h-2zM1 1h1v1h-1zM15 1h1v1h-1zM17 1h1v1h-1zM23 1h1v1h-1zM34 1h1v1h-1zM27 3h1v1h-1zM17 4h2v1h-2zM27 4h1v1h-1zM31 4h1v1h-1zM24 5h1v1h-1zM27 5h1v1h-1zM30 5h1v1h-1z"/>
<path fill="#aea923" d="M2 0h1v1h-1zM4 1h1v1h-1zM26 1h2v1h-2zM31 1h1v1h-1zM35 2h1v1h-1zM8 4h1v1h-1zM10 4h1v1h-1zM21 4h1v1h-1zM33 4h1v1h-1zM4 5h1v1h-1zM22 5h2v1h-2zM32 5h1v1h-1zM34 5h1v1h-1z"/>
<path fill="#d8d121" d="M9 0h1v1h-1zM13 0h1v1h-1zM32 0h1v1h-1zM6 1h1v1h-1zM10 1h1v1h-1zM28 1h1v1h-1zM33 1h1v1h-1zM3 3h1v1h-1zM12 3h1v1h-1zM19 3h1v1h-1zM9 4h1v1h-1zM14 4h1v1h-1zM23 4h1v1h-1zM25 4h1v1h-1zM28 4h1v1h-1zM21 5h1v1h-1zM26 5h1v1h-1z"/>
<path fill="#f2eb22" d="M3 0h1v1h-1zM31 0h1v1h-1zM31 2h1v1h-1zM1 3h1v1h-1zM21 3h1v1h-1zM31 3h1v1h-1zM35 3h1v1h-1zM6 4h2v1h-2zM20 4h1v1h-1zM17 5h1v1h-1z"/>
<path fill="#f8f228" d="M16 0h1v1h-1zM8 3h1v1h-1zM32 3h1v1h-1zM34 4h1v1h-1zM19 5h1v1h-1z"/>
</g>
<g transform="translate(400.10,427.80) scale(1.2629,5.3167)" shape-rendering="crispEdges">
<path fill="#862a8b" d="M11 2h1v1h-1zM18 2h1v1h-1zM20 2h1v1h-1zM24 2h1v1h-1zM1 4h1v1h-1zM8 4h1v1h-1zM15 5h1v1h-1zM18 5h1v1h-1zM20 5h1v1h-1zM27 5h1v1h-1z"/>
<path fill="#6c1e73" d="M9 1h1v1h-1zM27 1h1v1h-1zM2 2h1v1h-1zM21 2h1v1h-1zM2 3h1v1h-1zM6 3h1v1h-1zM23 3h1v1h-1zM27 3h1v1h-1zM31 3h1v1h-1zM9 4h1v1h-1zM25 4h1v1h-1z"/>
<path fill="#501457" d="M21 0h1v1h-1zM28 0h1v1h-1zM4 1h1v1h-1zM8 1h1v1h-1zM10 1h1v1h-1zM28 1h1v1h-1zM0 2h1v1h-1zM4 2h1v1h-1zM9 2h1v1h-1zM19 2h1v1h-1zM25 2h1v1h-1zM28 2h1v1h-1zM31 2h1v1h-1zM33 2h1v1h-1zM0 3h1v1h-1zM7 3h4v1h-4zM26 3h1v1h-1zM29 3h2v1h-2zM14 4h1v1h-1zM31 4h1v1h-1zM33 4h1v1h-1zM0 5h2v1h-2zM3 5h2v1h-2zM7 5h1v1h-1zM16 5h1v1h-1z"/>
<path fill="#330b37" d="M32 0h1v1h-1zM12 1h1v1h-1zM5 2h1v1h-1zM4 3h1v1h-1zM18 3h2v1h-2zM25 3h1v1h-1zM32 3h1v1h-1zM0 4h1v1h-1zM5 4h1v1h-1zM13 4h1v1h-1zM18 4h1v1h-1zM26 4h1v1h-1zM29 4h1v1h-1zM2 5h1v1h-1zM13 5h1v1h-1zM24 5h1v1h-1zM26 5h1v1h-1zM30 5h1v1h-1zM33 5h2v1h-2z"/>
<path fill="#1d071e" d="M14 0h1v1h-1zM17 0h1v1h-1zM31 0h1v1h-1zM14 1h1v1h-1zM7 2h1v1h-1zM12 2h3v1h-3zM16 2h2v1h-2zM26 2h2v1h-2zM32 2h1v1h-1zM3 3h1v1h-1zM5 3h1v1h-1zM11 3h1v1h-1zM15 3h1v1h-1zM20 3h1v1h-1zM32 4h1v1h-1zM5 5h1v1h-1zM17 5h1v1h-1zM21 5h1v1h-1z"/>
<path fill="#241a14" d="M9 0h1v1h-1zM34 0h1v1h-1zM13 1h1v1h-1zM15 1h1v1h-1zM34 2h1v1h-1zM22 3h1v1h-1zM11 4h1v1h-1zM27 4h1v1h-1zM8 5h1v1h-1zM12 5h1v1h-1z"/>
<path fill="#494318" d="M1 0h2v1h-2zM12 0h1v1h-1zM18 0h1v1h-1zM23 0h1v1h-1zM23 1h2v1h-2zM30 1h1v1h-1zM34 1h1v1h-1zM29 2h1v1h-1zM24 3h1v1h-1zM28 4h1v1h-1zM29 5h1v1h-1z"/>
<path fill="#7b761e" d="M15 0h2v1h-2zM33 0h1v1h-1zM0 1h1v1h-1zM16 1h2v1h-2zM19 1h1v1h-1zM33 1h1v1h-1zM23 2h1v1h-1zM33 3h2v1h-2zM19 4h2v1h-2zM22 4h3v1h-3zM9 5h1v1h-1zM28 5h1v1h-1z"/>
<path fill="#aea923" d="M0 0h1v1h-1zM3 0h2v1h-2zM6 0h3v1h-3zM20 0h1v1h-1zM22 0h1v1h-1zM25 0h1v1h-1zM27 0h1v1h-1zM30 0h1v1h-1zM1 1h1v1h-1zM7 1h1v1h-1zM11 1h1v1h-1zM21 1h2v1h-2zM25 1h2v1h-2zM29 1h1v1h-1zM31 1h1v1h-1zM10 2h1v1h-1zM22 2h1v1h-1zM1 3h1v1h-1zM13 3h2v1h-2zM21 3h1v1h-1zM2 4h1v1h-1zM12 4h1v1h-1zM6 5h1v1h-1zM25 5h1v1h-1zM32 5h1v1h-1z"/>
<path fill="#d8d121" d="M10 0h1v1h-1zM13 0h1v1h-1zM19 0h1v1h-1zM24 0h1v1h-1zM29 0h1v1h-1zM2 1h2v1h-2zM5 1h2v1h-2zM18 1h1v1h-1zM6 2h1v1h-1zM8 2h1v1h-1zM15 2h1v1h-1zM12 3h1v1h-1zM17 3h1v1h-1zM28 3h1v1h-1zM3 4h2v1h-2zM16 4h1v1h-1zM30 4h1v1h-1zM34 4h1v1h-1zM10 5h2v1h-2zM14 5h1v1h-1zM19 5h1v1h-1zM31 5h1v1h-1z"/>
<path fill="#f2eb22" d="M32 1h1v1h-1zM3 2h1v1h-1zM30 2h1v1h-1zM7 4h1v1h-1zM10 4h1v1h-1zM15 4h1v1h-1zM17 4h1v1h-1zM21 4h1v1h-1zM22 5h1v1h-1z"/>
<path fill="#f8f228" d="M5 0h1v1h-1zM11 0h1v1h-1zM26 0h1v1h-1zM20 1h1v1h-1zM1 2h1v1h-1zM16 3h1v1h-1zM6 4h1v1h-1zM23 5h1v1h-1z"/>
</g>
<g transform="translate(444.30,427.80) scale(1.2417,5.3167)" shape-rendering="crispEdges">
<path fill="#c65abe" d="M15 2h1v1h-1z"/>
<path fill="#a642a5" d="M2 1h1v1h-1zM0 2h2v1h-2zM6 2h1v1h-1zM9 2h1v1h-1zM11 2h2v1h-2zM17 2h1v1h-1zM21 2h2v1h-2zM25 2h1v1h-1zM27 2h2v1h-2z"/>
<path fill="#862a8b" d="M35 0h1v1h-1zM5 1h1v1h-1zM12 1h1v1h-1zM21 1h1v1h-1zM35 1h1v1h-1zM3 2h3v1h-3zM7 2h2v1h-2zM13 2h2v1h-2zM16 2h1v1h-1zM18 2h1v1h-1zM23 2h2v1h-2zM30 2h3v1h-3zM25 3h1v1h-1zM6 4h1v1h-1zM27 4h1v1h-1zM1 5h1v1h-1zM22 5h1v1h-1z"/>
<path fill="#6c1e73" d="M15 0h1v1h-1zM20 0h1v1h-1zM22 0h1v1h-1zM29 0h2v1h-2zM3 1h1v1h-1zM7 1h1v1h-1zM14 1h1v1h-1zM22 1h1v1h-1zM25 1h1v1h-1zM27 1h1v1h-1zM31 1h2v1h-2zM2 2h1v1h-1zM19 2h2v1h-2zM26 2h1v1h-1zM29 2h1v1h-1zM34 2h1v1h-1zM0 3h1v1h-1zM3 3h1v1h-1zM1 4h1v1h-1zM5 4h1v1h-1zM10 4h1v1h-1zM25 4h1v1h-1zM0 5h1v1h-1zM6 5h1v1h-1zM13 5h1v1h-1zM24 5h1v1h-1zM28 5h1v1h-1zM32 5h1v1h-1zM34 5h2v1h-2z"/>
<path fill="#501457" d="M1 0h2v1h-2zM8 0h1v1h-1zM10 0h1v1h-1zM18 0h1v1h-1zM32 0h1v1h-1zM0 1h2v1h-2zM9 1h3v1h-3zM26 1h1v1h-1zM29 1h2v1h-2zM34 1h1v1h-1zM10 2h1v1h-1zM1 3h1v1h-1zM6 3h2v1h-2zM12 3h1v1h-1zM21 3h2v1h-2zM2 4h1v1h-1zM4 5h1v1h-1zM8 5h1v1h-1zM14 5h1v1h-1zM16 5h2v1h-2zM20 5h1v1h-1zM23 5h1v1h-1zM25 5h3v1h-3zM33 5h1v1h-1z"/>
<path fill="#330b37" d="M5 0h1v1h-1zM11 0h1v1h-1zM28 0h1v1h-1zM31 0h1v1h-1zM33 0h1v1h-1zM4 1h1v1h-1zM8 1h1v1h-1zM13 1h1v1h-1zM15 1h2v1h-2zM18 1h2v1h-2zM28 1h1v1h-1zM2 3h1v1h-1zM11 3h1v1h-1zM14 3h1v1h-1zM16 3h1v1h-1zM20 3h1v1h-1zM23 3h1v1h-1zM26 3h2v1h-2zM32 3h1v1h-1zM22 4h1v1h-1zM2 5h1v1h-1zM5 5h1v1h-1zM11 5h1v1h-1zM15 5h1v1h-1zM19 5h1v1h-1zM30 5h1v1h-1z"/>
<path fill="#1d071e" d="M9 0h1v1h-1zM27 0h1v1h-1zM34 0h1v1h-1zM6 1h1v1h-1zM17 1h1v1h-1zM23 1h1v1h-1zM5 3h1v1h-1zM9 3h2v1h-2zM15 3h1v1h-1zM34 3h1v1h-1zM9 4h1v1h-1zM29 4h1v1h-1zM7 5h1v1h-1zM9 5h1v1h-1zM12 5h1v1h-1zM29 5h1v1h-1zM31 5h1v1h-1z"/>
<path fill="#241a14" d="M3 0h1v1h-1zM7 0h1v1h-1zM16 0h1v1h-1zM24 1h1v1h-1zM33 1h1v1h-1zM11 4h1v1h-1zM13 4h1v1h-1zM3 5h1v1h-1z"/>
<path fill="#494318" d="M0 0h1v1h-1zM12 0h1v1h-1zM33 2h1v1h-1zM19 3h1v1h-1zM33 3h1v1h-1zM12 4h1v1h-1zM28 4h1v1h-1z"/>
<path fill="#7b761e" d="M6 0h1v1h-1zM17 0h1v1h-1zM35 2h1v1h-1zM13 3h1v1h-1zM17 3h2v1h-2zM0 4h1v1h-1zM21 4h1v1h-1zM31 4h1v1h-1zM35 4h1v1h-1z"/>
<path fill="#aea923" d="M19 0h1v1h-1zM23 0h1v1h-1zM8 3h1v1h-1zM24 3h1v1h-1zM28 3h1v1h-1zM31 3h1v1h-1zM35 3h1v1h-1zM4 4h1v1h-1zM17 4h2v1h-2zM20 4h1v1h-1zM24 4h1v1h-1zM30 4h1v1h-1zM32 4h1v1h-1zM34 4h1v1h-1zM10 5h1v1h-1zM21 5h1v1h-1z"/>
<path fill="#d8d121" d="M4 0h1v1h-1zM25 0h1v1h-1zM20 1h1v1h-1zM4 3h1v1h-1zM30 3h1v1h-1zM3 4h1v1h-1zM7 4h2v1h-2zM14 4h3v1h-3zM19 4h1v1h-1zM23 4h1v1h-1zM33 4h1v1h-1zM18 5h1v1h-1z"/>
<path fill="#f2eb22" d="M13 0h2v1h-2zM21 0h1v1h-1zM24 0h1v1h-1zM26 4h1v1h-1z"/>
<path fill="#f8f228" d="M26 0h1v1h-1zM29 3h1v1h-1z"/>
</g>
<g transform="translate(489.00,427.80) scale(1.2472,5.3167)" shape-rendering="crispEdges">
<path fill="#862a8b" d="M6 0h1v1h-1zM0 1h1v1h-1zM6 1h1v1h-1zM18 1h1v1h-1zM8 2h1v1h-1zM10 2h1v1h-1zM26 2h1v1h-1zM10 3h1v1h-1zM14 3h2v1h-2zM32 4h1v1h-1zM9 5h1v1h-1zM25 5h1v1h-1zM32 5h1v1h-1z"/>
<path fill="#6c1e73" d="M0 0h1v1h-1zM18 0h2v1h-2zM14 1h2v1h-2zM24 1h1v1h-1zM30 1h2v1h-2zM35 1h1v1h-1zM3 2h1v1h-1zM11 2h1v1h-1zM15 2h1v1h-1zM31 2h1v1h-1zM7 3h1v1h-1zM9 3h1v1h-1zM18 3h1v1h-1zM34 3h1v1h-1zM4 4h1v1h-1zM10 4h2v1h-2zM15 4h1v1h-1zM23 4h1v1h-1zM0 5h1v1h-1zM5 5h1v1h-1zM10 5h1v1h-1zM18 5h3v1h-3zM22 5h2v1h-2zM27 5h2v1h-2z"/>
<path fill="#501457" d="M8 0h1v1h-1zM24 0h1v1h-1zM27 0h1v1h-1zM31 0h1v1h-1zM2 1h1v1h-1zM9 1h1v1h-1zM16 1h2v1h-2zM19 1h1v1h-1zM22 1h1v1h-1zM26 1h1v1h-1zM32 1h1v1h-1zM34 1h1v1h-1zM1 2h1v1h-1zM5 2h1v1h-1zM9 2h1v1h-1zM13 2h2v1h-2zM21 2h1v1h-1zM23 2h1v1h-1zM33 2h2v1h-2zM0 3h1v1h-1zM3 3h1v1h-1zM13 3h1v1h-1zM16 3h1v1h-1zM20 3h2v1h-2zM23 3h1v1h-1zM30 3h1v1h-1zM32 3h1v1h-1zM3 4h1v1h-1zM18 4h2v1h-2zM28 4h2v1h-2zM6 5h2v1h-2zM13 5h1v1h-1zM15 5h2v1h-2zM21 5h1v1h-1zM29 5h3v1h-3zM33 5h3v1h-3z"/>
<path fill="#330b37" d="M13 0h1v1h-1zM26 0h1v1h-1zM30 0h1v1h-1zM35 0h1v1h-1zM1 1h1v1h-1zM3 1h2v1h-2zM7 1h2v1h-2zM10 1h3v1h-3zM21 1h1v1h-1zM23 1h1v1h-1zM25 1h1v1h-1zM27 1h3v1h-3zM4 2h1v1h-1zM6 2h2v1h-2zM12 2h1v1h-1zM16 2h1v1h-1zM24 2h2v1h-2zM27 2h1v1h-1zM1 3h1v1h-1zM6 3h1v1h-1zM8 3h1v1h-1zM19 3h1v1h-1zM22 3h1v1h-1zM28 3h1v1h-1zM35 3h1v1h-1zM8 4h2v1h-2zM21 4h1v1h-1zM25 4h2v1h-2zM30 4h1v1h-1zM34 4h2v1h-2zM2 5h1v1h-1zM8 5h1v1h-1zM11 5h1v1h-1zM14 5h1v1h-1zM17 5h1v1h-1zM26 5h1v1h-1z"/>
<path fill="#1d071e" d="M3 0h2v1h-2zM7 0h1v1h-1zM14 0h1v1h-1zM34 0h1v1h-1zM30 2h1v1h-1zM11 3h2v1h-2zM17 3h1v1h-1zM25 3h3v1h-3zM33 3h1v1h-1zM1 4h2v1h-2zM12 4h2v1h-2zM20 4h1v1h-1zM27 4h1v1h-1zM1 5h1v1h-1z"/>
<path fill="#241a14" d="M5 0h1v1h-1zM11 0h1v1h-1zM23 0h1v1h-1zM4 3h1v1h-1zM16 4h1v1h-1z"/>
<path fill="#494318" d="M19 2h1v1h-1zM4 5h1v1h-1z"/>
<path fill="#7b761e" d="M10 0h1v1h-1zM15 0h1v1h-1zM17 0h1v1h-1zM20 0h1v1h-1zM33 0h1v1h-1zM33 1h1v1h-1zM0 2h1v1h-1zM17 2h2v1h-2zM28 2h1v1h-1zM32 2h1v1h-1zM24 3h1v1h-1zM29 3h1v1h-1zM0 4h1v1h-1zM7 4h1v1h-1zM24 5h1v1h-1z"/>
<path fill="#aea923" d="M1 0h1v1h-1zM12 0h1v1h-1zM16 0h1v1h-1zM29 0h1v1h-1zM32 0h1v1h-1zM29 2h1v1h-1zM35 2h1v1h-1zM5 3h1v1h-1zM31 3h1v1h-1zM5 4h1v1h-1zM14 4h1v1h-1zM17 4h1v1h-1z"/>
<path fill="#d8d121" d="M9 0h1v1h-1zM21 0h2v1h-2zM2 3h1v1h-1zM6 4h1v1h-1zM22 4h1v1h-1zM24 4h1v1h-1zM33 4h1v1h-1z"/>
<path fill="#f2eb22" d="M2 0h1v1h-1zM5 1h1v1h-1zM20 1h1v1h-1zM2 2h1v1h-1zM12 5h1v1h-1z"/>
<path fill="#f8f228" d="M25 0h1v1h-1zM28 0h1v1h-1zM13 1h1v1h-1zM20 2h1v1h-1zM22 2h1v1h-1zM31 4h1v1h-1zM3 5h1v1h-1z"/>
</g>
<g transform="translate(533.90,427.80) scale(1.2657,5.3167)" shape-rendering="crispEdges">
<path fill="#c65abe" d="M0 2h1v1h-1zM15 2h1v1h-1zM31 2h1v1h-1z"/>
<path fill="#a642a5" d="M25 0h1v1h-1zM1 2h2v1h-2zM10 2h1v1h-1zM18 2h2v1h-2zM21 2h1v1h-1zM25 2h1v1h-1zM33 2h2v1h-2zM25 3h1v1h-1z"/>
<path fill="#862a8b" d="M1 0h1v1h-1zM5 0h2v1h-2zM8 0h1v1h-1zM10 0h2v1h-2zM14 0h1v1h-1zM17 0h1v1h-1zM21 0h1v1h-1zM26 0h1v1h-1zM28 0h1v1h-1zM31 0h1v1h-1zM1 1h1v1h-1zM7 1h2v1h-2zM19 1h1v1h-1zM21 1h1v1h-1zM23 1h1v1h-1zM34 1h1v1h-1zM4 2h2v1h-2zM7 2h3v1h-3zM11 2h2v1h-2zM16 2h1v1h-1zM20 2h1v1h-1zM23 2h2v1h-2zM27 2h1v1h-1zM29 2h2v1h-2zM32 2h1v1h-1zM2 3h1v1h-1zM5 3h1v1h-1zM10 3h1v1h-1zM12 3h1v1h-1zM17 3h1v1h-1zM19 3h1v1h-1zM21 3h1v1h-1zM1 4h1v1h-1zM16 4h1v1h-1zM20 4h2v1h-2zM25 4h1v1h-1zM34 4h1v1h-1z"/>
<path fill="#6c1e73" d="M0 0h1v1h-1zM2 0h3v1h-3zM9 0h1v1h-1zM12 0h2v1h-2zM15 0h2v1h-2zM18 0h2v1h-2zM22 0h1v1h-1zM30 0h1v1h-1zM33 0h2v1h-2zM4 1h1v1h-1zM9 1h2v1h-2zM12 1h5v1h-5zM18 1h1v1h-1zM20 1h1v1h-1zM22 1h1v1h-1zM24 1h2v1h-2zM27 1h1v1h-1zM33 1h1v1h-1zM3 2h1v1h-1zM6 2h1v1h-1zM13 2h2v1h-2zM17 2h1v1h-1zM22 2h1v1h-1zM28 2h1v1h-1zM0 3h1v1h-1zM7 3h3v1h-3zM11 3h1v1h-1zM14 3h1v1h-1zM18 3h1v1h-1zM22 3h3v1h-3zM27 3h1v1h-1zM30 3h4v1h-4zM2 4h4v1h-4zM7 4h2v1h-2zM10 4h1v1h-1zM14 4h1v1h-1zM22 4h2v1h-2zM30 4h2v1h-2zM33 4h1v1h-1zM4 5h1v1h-1zM15 5h1v1h-1zM19 5h1v1h-1zM25 5h1v1h-1zM30 5h1v1h-1z"/>
<path fill="#501457" d="M7 0h1v1h-1zM20 0h1v1h-1zM24 0h1v1h-1zM29 0h1v1h-1zM0 1h1v1h-1zM3 1h1v1h-1zM5 1h2v1h-2zM11 1h1v1h-1zM26 1h1v1h-1zM28 1h2v1h-2zM32 1h1v1h-1zM1 3h1v1h-1zM3 3h2v1h-2zM6 3h1v1h-1zM13 3h1v1h-1zM16 3h1v1h-1zM20 3h1v1h-1zM26 3h1v1h-1zM28 3h2v1h-2zM34 3h1v1h-1zM0 4h1v1h-1zM6 4h1v1h-1zM9 4h1v1h-1zM11 4h3v1h-3zM15 4h1v1h-1zM17 4h3v1h-3zM24 4h1v1h-1zM26 4h4v1h-4zM0 5h3v1h-3zM5 5h1v1h-1zM8 5h1v1h-1zM12 5h1v1h-1zM16 5h2v1h-2zM21 5h1v1h-1zM24 5h1v1h-1zM27 5h1v1h-1zM31 5h1v1h-1zM33 5h1v1h-1z"/>
<path fill="#330b37" d="M17 1h1v1h-1zM32 4h1v1h-1zM6 5h2v1h-2zM9 5h3v1h-3zM13 5h1v1h-1zM20 5h1v1h-1zM23 5h1v1h-1zM26 5h1v1h-1zM28 5h2v1h-2zM32 5h1v1h-1z"/>
<path fill="#1d071e" d="M3 5h1v1h-1z"/>
<path fill="#494318" d="M30 1h1v1h-1z"/>
<path fill="#7b761e" d="M2 1h1v1h-1zM31 1h1v1h-1z"/>
<path fill="#aea923" d="M23 0h1v1h-1zM27 0h1v1h-1zM14 5h1v1h-1zM34 5h1v1h-1z"/>
<path fill="#d8d121" d="M15 3h1v1h-1zM18 5h1v1h-1z"/>
<path fill="#f2eb22" d="M32 0h1v1h-1zM26 2h1v1h-1zM22 5h1v1h-1z"/>
</g>
<g transform="translate(578.20,427.80) scale(1.2444,5.3167)" shape-rendering="crispEdges">
<path fill="#a642a5" d="M14 2h1v1h-1z"/>
<path fill="#862a8b" d="M2 1h1v1h-1zM2 2h1v1h-1zM6 2h2v1h-2zM12 2h1v1h-1zM17 2h2v1h-2zM24 2h1v1h-1zM29 2h1v1h-1zM11 4h2v1h-2zM11 5h1v1h-1zM15 5h1v1h-1z"/>
<path fill="#6c1e73" d="M4 0h1v1h-1zM7 0h1v1h-1zM24 0h1v1h-1zM35 0h1v1h-1zM1 1h1v1h-1zM15 1h1v1h-1zM26 1h1v1h-1zM28 1h2v1h-2zM0 2h2v1h-2zM4 2h2v1h-2zM11 2h1v1h-1zM15 2h2v1h-2zM19 2h1v1h-1zM21 2h3v1h-3zM25 2h4v1h-4zM30 2h6v1h-6zM3 3h1v1h-1zM14 3h1v1h-1zM23 3h1v1h-1zM25 3h1v1h-1zM32 3h2v1h-2zM2 4h1v1h-1zM5 4h1v1h-1zM8 4h2v1h-2zM13 4h1v1h-1zM18 4h1v1h-1zM27 4h1v1h-1zM1 5h1v1h-1zM7 5h1v1h-1zM23 5h1v1h-1zM33 5h2v1h-2z"/>
<path fill="#501457" d="M0 0h1v1h-1zM2 0h2v1h-2zM6 0h1v1h-1zM9 0h1v1h-1zM11 0h2v1h-2zM15 0h2v1h-2zM19 0h1v1h-1zM21 0h3v1h-3zM25 0h1v1h-1zM28 0h1v1h-1zM34 0h1v1h-1zM4 1h4v1h-4zM9 1h1v1h-1zM11 1h2v1h-2zM20 1h5v1h-5zM30 1h1v1h-1zM33 1h1v1h-1zM35 1h1v1h-1zM8 2h2v1h-2zM13 2h1v1h-1zM0 3h3v1h-3zM4 3h1v1h-1zM6 3h2v1h-2zM9 3h1v1h-1zM11 3h1v1h-1zM15 3h1v1h-1zM17 3h1v1h-1zM22 3h1v1h-1zM24 3h1v1h-1zM26 3h1v1h-1zM29 3h3v1h-3zM34 3h1v1h-1zM1 4h1v1h-1zM10 4h1v1h-1zM14 4h3v1h-3zM19 4h1v1h-1zM26 4h1v1h-1zM35 4h1v1h-1zM0 5h1v1h-1zM3 5h4v1h-4zM8 5h2v1h-2zM12 5h1v1h-1zM16 5h2v1h-2zM19 5h1v1h-1zM21 5h1v1h-1zM25 5h4v1h-4zM30 5h1v1h-1zM32 5h1v1h-1zM35 5h1v1h-1z"/>
<path fill="#330b37" d="M1 0h1v1h-1zM5 0h1v1h-1zM8 0h1v1h-1zM10 0h1v1h-1zM13 0h2v1h-2zM17 0h2v1h-2zM20 0h1v1h-1zM26 0h2v1h-2zM29 0h1v1h-1zM31 0h2v1h-2zM0 1h1v1h-1zM3 1h1v1h-1zM8 1h1v1h-1zM10 1h1v1h-1zM13 1h2v1h-2zM17 1h1v1h-1zM19 1h1v1h-1zM25 1h1v1h-1zM27 1h1v1h-1zM31 1h2v1h-2zM34 1h1v1h-1zM10 2h1v1h-1zM5 3h1v1h-1zM8 3h1v1h-1zM12 3h2v1h-2zM16 3h1v1h-1zM18 3h4v1h-4zM27 3h2v1h-2zM35 3h1v1h-1zM6 4h2v1h-2zM21 4h1v1h-1zM23 4h2v1h-2zM30 4h1v1h-1zM32 4h3v1h-3zM2 5h1v1h-1zM10 5h1v1h-1zM14 5h1v1h-1zM18 5h1v1h-1zM20 5h1v1h-1zM22 5h1v1h-1zM29 5h1v1h-1zM31 5h1v1h-1z"/>
<path fill="#1d071e" d="M33 0h1v1h-1zM16 1h1v1h-1zM10 3h1v1h-1zM0 4h1v1h-1zM4 4h1v1h-1zM17 4h1v1h-1zM28 4h1v1h-1zM31 4h1v1h-1zM13 5h1v1h-1zM24 5h1v1h-1z"/>
<path fill="#241a14" d="M25 4h1v1h-1z"/>
<path fill="#494318" d="M3 2h1v1h-1z"/>
<path fill="#aea923" d="M30 0h1v1h-1zM18 1h1v1h-1zM20 2h1v1h-1zM20 4h1v1h-1zM22 4h1v1h-1zM29 4h1v1h-1z"/>
<path fill="#d8d121" d="M3 4h1v1h-1z"/>
</g>
<g transform="translate(623.00,427.80) scale(1.2472,5.3167)" shape-rendering="crispEdges">
<path fill="#a642a5" d="M9 4h1v1h-1zM35 5h1v1h-1z"/>
<path fill="#862a8b" d="M8 0h1v1h-1zM29 0h1v1h-1zM24 1h1v1h-1zM33 1h1v1h-1zM16 2h1v1h-1zM14 3h1v1h-1zM5 4h1v1h-1zM11 4h1v1h-1zM14 4h1v1h-1zM22 4h1v1h-1zM25 4h1v1h-1zM30 4h2v1h-2zM33 4h1v1h-1zM1 5h1v1h-1zM3 5h1v1h-1zM16 5h1v1h-1zM33 5h1v1h-1z"/>
<path fill="#6c1e73" d="M2 0h1v1h-1zM10 0h1v1h-1zM33 0h1v1h-1zM27 1h1v1h-1zM32 1h1v1h-1zM0 2h1v1h-1zM6 2h1v1h-1zM9 2h1v1h-1zM26 2h1v1h-1zM19 3h2v1h-2zM23 3h1v1h-1zM26 3h1v1h-1zM0 4h5v1h-5zM7 4h1v1h-1zM10 4h1v1h-1zM12 4h2v1h-2zM23 4h2v1h-2zM26 4h2v1h-2zM32 4h1v1h-1zM4 5h1v1h-1zM9 5h1v1h-1zM12 5h3v1h-3zM20 5h2v1h-2zM24 5h1v1h-1zM28 5h2v1h-2z"/>
<path fill="#501457" d="M15 0h1v1h-1zM19 0h1v1h-1zM25 0h1v1h-1zM30 0h1v1h-1zM32 0h1v1h-1zM35 0h1v1h-1zM1 1h1v1h-1zM20 1h1v1h-1zM22 1h1v1h-1zM1 2h1v1h-1zM7 2h2v1h-2zM19 2h1v1h-1zM28 2h1v1h-1zM33 2h1v1h-1zM12 3h1v1h-1zM22 3h1v1h-1zM24 3h1v1h-1zM28 3h1v1h-1zM30 3h1v1h-1zM32 3h2v1h-2zM35 3h1v1h-1zM6 4h1v1h-1zM8 4h1v1h-1zM15 4h7v1h-7zM29 4h1v1h-1zM35 4h1v1h-1zM0 5h1v1h-1zM5 5h1v1h-1zM10 5h1v1h-1zM25 5h1v1h-1zM30 5h1v1h-1z"/>
<path fill="#330b37" d="M11 0h1v1h-1zM16 0h1v1h-1zM2 1h1v1h-1zM4 1h1v1h-1zM8 1h1v1h-1zM10 1h1v1h-1zM14 1h1v1h-1zM19 1h1v1h-1zM23 1h1v1h-1zM25 1h1v1h-1zM30 1h1v1h-1zM35 1h1v1h-1zM11 2h1v1h-1zM23 2h1v1h-1zM32 2h1v1h-1zM1 3h1v1h-1zM5 3h2v1h-2zM8 3h2v1h-2zM21 3h1v1h-1zM27 3h1v1h-1zM28 4h1v1h-1zM34 4h1v1h-1zM6 5h2v1h-2zM15 5h1v1h-1zM18 5h1v1h-1zM27 5h1v1h-1zM31 5h1v1h-1zM34 5h1v1h-1z"/>
<path fill="#1d071e" d="M0 0h1v1h-1zM18 0h1v1h-1zM6 1h1v1h-1zM28 1h1v1h-1zM31 1h1v1h-1zM5 2h1v1h-1zM13 2h1v1h-1zM15 2h1v1h-1zM24 2h1v1h-1zM34 2h1v1h-1zM0 3h1v1h-1zM4 3h1v1h-1zM11 3h1v1h-1zM13 3h1v1h-1zM18 3h1v1h-1zM34 3h1v1h-1zM2 5h1v1h-1zM8 5h1v1h-1zM11 5h1v1h-1zM19 5h1v1h-1z"/>
<path fill="#241a14" d="M3 0h1v1h-1zM5 0h1v1h-1zM27 0h1v1h-1zM31 0h1v1h-1zM26 1h1v1h-1z"/>
<path fill="#494318" d="M12 0h1v1h-1zM28 0h1v1h-1zM16 1h1v1h-1zM17 2h1v1h-1zM30 2h1v1h-1z"/>
<path fill="#7b761e" d="M7 0h1v1h-1zM9 0h1v1h-1zM21 0h1v1h-1zM3 1h1v1h-1zM7 1h1v1h-1zM4 2h1v1h-1zM20 2h1v1h-1zM29 2h1v1h-1zM2 3h1v1h-1zM16 3h2v1h-2zM25 3h1v1h-1zM32 5h1v1h-1z"/>
<path fill="#aea923" d="M1 0h1v1h-1zM6 0h1v1h-1zM14 0h1v1h-1zM20 0h1v1h-1zM24 0h1v1h-1zM26 0h1v1h-1zM34 0h1v1h-1zM11 1h1v1h-1zM13 1h1v1h-1zM15 1h1v1h-1zM17 1h1v1h-1zM21 1h1v1h-1zM34 1h1v1h-1zM10 2h1v1h-1zM22 2h1v1h-1zM27 2h1v1h-1zM31 2h1v1h-1zM29 3h1v1h-1zM31 3h1v1h-1zM22 5h2v1h-2zM26 5h1v1h-1z"/>
<path fill="#d8d121" d="M13 0h1v1h-1zM17 0h1v1h-1zM22 0h1v1h-1zM0 1h1v1h-1zM2 2h1v1h-1zM12 2h1v1h-1zM21 2h1v1h-1zM35 2h1v1h-1zM3 3h1v1h-1zM7 3h1v1h-1zM15 3h1v1h-1zM17 5h1v1h-1z"/>
<path fill="#f2eb22" d="M4 0h1v1h-1zM23 0h1v1h-1zM12 1h1v1h-1zM18 1h1v1h-1zM29 1h1v1h-1zM25 2h1v1h-1zM10 3h1v1h-1z"/>
<path fill="#f8f228" d="M5 1h1v1h-1zM9 1h1v1h-1zM3 2h1v1h-1zM14 2h1v1h-1zM18 2h1v1h-1z"/>
</g>
<g transform="translate(355.50,460.70) scale(1.2389,5.5200)" shape-rendering="crispEdges">
<path fill="#a642a5" d="M10 2h1v1h-1zM22 3h1v1h-1z"/>
<path fill="#862a8b" d="M1 0h1v1h-1zM5 0h1v1h-1zM9 0h2v1h-2zM25 0h1v1h-1zM27 0h1v1h-1zM25 1h1v1h-1zM5 2h1v1h-1zM8 2h1v1h-1zM18 2h1v1h-1zM21 2h1v1h-1zM25 2h1v1h-1zM34 2h1v1h-1zM1 3h1v1h-1zM10 3h2v1h-2zM14 3h1v1h-1zM25 3h1v1h-1zM31 3h1v1h-1zM10 4h1v1h-1zM16 4h1v1h-1zM28 4h1v1h-1zM33 4h1v1h-1z"/>
<path fill="#6c1e73" d="M0 0h1v1h-1zM2 0h2v1h-2zM7 0h2v1h-2zM11 0h2v1h-2zM15 0h2v1h-2zM19 0h2v1h-2zM22 0h1v1h-1zM24 0h1v1h-1zM26 0h1v1h-1zM29 0h6v1h-6zM6 1h1v1h-1zM29 1h2v1h-2zM0 2h4v1h-4zM7 2h1v1h-1zM9 2h1v1h-1zM12 2h1v1h-1zM14 2h1v1h-1zM16 2h1v1h-1zM19 2h1v1h-1zM23 2h1v1h-1zM27 2h1v1h-1zM29 2h3v1h-3zM33 2h1v1h-1zM4 3h3v1h-3zM13 3h1v1h-1zM15 3h2v1h-2zM19 3h1v1h-1zM21 3h1v1h-1zM24 3h1v1h-1zM27 3h4v1h-4zM34 3h2v1h-2zM0 4h1v1h-1zM7 4h1v1h-1zM13 4h1v1h-1zM18 4h1v1h-1zM21 4h2v1h-2zM25 4h1v1h-1zM34 4h1v1h-1z"/>
<path fill="#501457" d="M4 0h1v1h-1zM6 0h1v1h-1zM13 0h2v1h-2zM23 0h1v1h-1zM35 0h1v1h-1zM2 1h1v1h-1zM5 1h1v1h-1zM8 1h2v1h-2zM11 1h1v1h-1zM20 1h1v1h-1zM27 1h2v1h-2zM33 1h2v1h-2zM4 2h1v1h-1zM6 2h1v1h-1zM11 2h1v1h-1zM13 2h1v1h-1zM17 2h1v1h-1zM20 2h1v1h-1zM22 2h1v1h-1zM24 2h1v1h-1zM28 2h1v1h-1zM32 2h1v1h-1zM35 2h1v1h-1zM0 3h1v1h-1zM2 3h2v1h-2zM7 3h3v1h-3zM18 3h1v1h-1zM23 3h1v1h-1zM26 3h1v1h-1zM32 3h2v1h-2zM1 4h2v1h-2zM6 4h1v1h-1zM8 4h1v1h-1zM14 4h2v1h-2zM20 4h1v1h-1zM23 4h1v1h-1zM27 4h1v1h-1zM31 4h2v1h-2zM35 4h1v1h-1z"/>
<path fill="#330b37" d="M17 0h2v1h-2zM28 0h1v1h-1zM3 1h1v1h-1zM7 1h1v1h-1zM10 1h1v1h-1zM12 1h3v1h-3zM16 1h3v1h-3zM22 1h1v1h-1zM32 1h1v1h-1zM15 2h1v1h-1zM26 2h1v1h-1zM12 3h1v1h-1zM3 4h1v1h-1zM9 4h1v1h-1zM12 4h1v1h-1zM24 4h1v1h-1z"/>
<path fill="#1d071e" d="M15 1h1v1h-1zM19 1h1v1h-1zM24 1h1v1h-1zM17 3h1v1h-1zM11 4h1v1h-1zM29 4h1v1h-1z"/>
<path fill="#494318" d="M21 1h1v1h-1zM31 1h1v1h-1zM35 1h1v1h-1z"/>
<path fill="#7b761e" d="M0 1h1v1h-1zM17 4h1v1h-1zM30 4h1v1h-1z"/>
<path fill="#aea923" d="M26 4h1v1h-1z"/>
<path fill="#d8d121" d="M21 0h1v1h-1zM1 1h1v1h-1zM23 1h1v1h-1zM20 3h1v1h-1z"/>
<path fill="#f2eb22" d="M4 1h1v1h-1zM26 1h1v1h-1zM4 4h2v1h-2zM19 4h1v1h-1z"/>
</g>
<g transform="translate(400.10,460.70) scale(1.2629,5.5200)" shape-rendering="crispEdges">
<path fill="#c65abe" d="M5 4h1v1h-1z"/>
<path fill="#862a8b" d="M1 0h1v1h-1zM7 0h1v1h-1zM11 0h2v1h-2zM20 0h1v1h-1zM22 0h1v1h-1zM6 1h1v1h-1zM21 1h1v1h-1zM26 1h1v1h-1zM1 4h1v1h-1zM32 4h1v1h-1z"/>
<path fill="#6c1e73" d="M3 0h1v1h-1zM6 0h1v1h-1zM9 0h1v1h-1zM14 0h1v1h-1zM21 0h1v1h-1zM23 0h2v1h-2zM26 0h1v1h-1zM29 0h2v1h-2zM32 0h1v1h-1zM0 1h1v1h-1zM5 1h1v1h-1zM8 1h1v1h-1zM11 1h3v1h-3zM24 1h1v1h-1zM30 1h2v1h-2zM10 2h1v1h-1zM32 2h1v1h-1zM2 3h1v1h-1zM7 3h1v1h-1zM22 3h1v1h-1zM24 3h1v1h-1zM3 4h1v1h-1zM15 4h1v1h-1zM18 4h1v1h-1zM26 4h1v1h-1zM33 4h1v1h-1z"/>
<path fill="#501457" d="M0 0h1v1h-1zM4 0h2v1h-2zM10 0h1v1h-1zM13 0h1v1h-1zM15 0h5v1h-5zM25 0h1v1h-1zM27 0h1v1h-1zM33 0h1v1h-1zM3 1h2v1h-2zM7 1h1v1h-1zM10 1h1v1h-1zM17 1h1v1h-1zM20 1h1v1h-1zM22 1h1v1h-1zM27 1h1v1h-1zM34 1h1v1h-1zM1 2h6v1h-6zM11 2h2v1h-2zM14 2h1v1h-1zM18 2h2v1h-2zM21 2h3v1h-3zM25 2h2v1h-2zM28 2h2v1h-2zM31 2h1v1h-1zM1 3h1v1h-1zM3 3h2v1h-2zM6 3h1v1h-1zM8 3h1v1h-1zM10 3h2v1h-2zM14 3h1v1h-1zM20 3h1v1h-1zM25 3h1v1h-1zM27 3h3v1h-3zM32 3h3v1h-3zM2 4h1v1h-1zM9 4h1v1h-1zM12 4h3v1h-3zM20 4h1v1h-1zM25 4h1v1h-1zM29 4h1v1h-1zM31 4h1v1h-1z"/>
<path fill="#330b37" d="M2 0h1v1h-1zM8 0h1v1h-1zM2 1h1v1h-1zM9 1h1v1h-1zM14 1h1v1h-1zM18 1h2v1h-2zM23 1h1v1h-1zM32 1h1v1h-1zM0 2h1v1h-1zM9 2h1v1h-1zM13 2h1v1h-1zM20 2h1v1h-1zM27 2h1v1h-1zM30 2h1v1h-1zM33 2h2v1h-2zM0 3h1v1h-1zM9 3h1v1h-1zM12 3h2v1h-2zM15 3h5v1h-5zM21 3h1v1h-1zM31 3h1v1h-1zM8 4h1v1h-1zM10 4h1v1h-1zM16 4h1v1h-1zM23 4h1v1h-1zM28 4h1v1h-1zM30 4h1v1h-1z"/>
<path fill="#1d071e" d="M15 1h1v1h-1zM25 1h1v1h-1zM28 1h2v1h-2zM15 2h1v1h-1zM17 2h1v1h-1zM26 3h1v1h-1zM30 3h1v1h-1zM17 4h1v1h-1zM21 4h1v1h-1zM24 4h1v1h-1zM34 4h1v1h-1z"/>
<path fill="#241a14" d="M16 1h1v1h-1z"/>
<path fill="#494318" d="M28 0h1v1h-1zM33 1h1v1h-1zM7 2h1v1h-1zM5 3h1v1h-1z"/>
<path fill="#7b761e" d="M1 1h1v1h-1zM16 2h1v1h-1zM11 4h1v1h-1zM19 4h1v1h-1z"/>
<path fill="#aea923" d="M31 0h1v1h-1zM34 0h1v1h-1zM23 3h1v1h-1zM0 4h1v1h-1zM4 4h1v1h-1zM6 4h2v1h-2zM22 4h1v1h-1zM27 4h1v1h-1z"/>
<path fill="#d8d121" d="M8 2h1v1h-1zM24 2h1v1h-1z"/>
</g>
<g transform="translate(444.30,460.70) scale(1.2417,5.5200)" shape-rendering="crispEdges">
<path fill="#6c1e73" d="M30 1h1v1h-1z"/>
<path fill="#501457" d="M34 1h1v1h-1z"/>
<path fill="#330b37" d="M30 2h1v1h-1z"/>
<path fill="#1d071e" d="M7 0h1v1h-1zM29 0h1v1h-1zM22 1h1v1h-1zM1 3h1v1h-1zM17 4h1v1h-1zM30 4h1v1h-1z"/>
<path fill="#241a14" d="M23 1h1v1h-1zM27 3h1v1h-1zM35 3h1v1h-1zM15 4h1v1h-1z"/>
<path fill="#494318" d="M28 0h1v1h-1zM31 2h1v1h-1zM34 3h1v1h-1z"/>
<path fill="#7b761e" d="M17 0h1v1h-1zM1 1h1v1h-1zM6 1h1v1h-1zM16 1h1v1h-1zM21 1h1v1h-1zM16 2h1v1h-1zM34 2h2v1h-2zM17 3h1v1h-1zM0 4h1v1h-1zM2 4h1v1h-1zM6 4h1v1h-1zM10 4h1v1h-1zM12 4h1v1h-1zM32 4h1v1h-1zM34 4h1v1h-1z"/>
<path fill="#aea923" d="M2 0h1v1h-1zM14 0h1v1h-1zM18 0h1v1h-1zM23 0h1v1h-1zM26 0h1v1h-1zM34 0h1v1h-1zM3 1h1v1h-1zM8 1h1v1h-1zM32 1h1v1h-1zM6 2h2v1h-2zM10 2h1v1h-1zM21 2h1v1h-1zM32 2h1v1h-1zM14 3h1v1h-1zM21 3h1v1h-1zM1 4h1v1h-1zM21 4h1v1h-1zM33 4h1v1h-1zM35 4h1v1h-1z"/>
<path fill="#d8d121" d="M3 0h1v1h-1zM5 0h1v1h-1zM8 0h2v1h-2zM13 0h1v1h-1zM15 0h1v1h-1zM25 0h1v1h-1zM30 0h1v1h-1zM32 0h2v1h-2zM10 1h1v1h-1zM12 1h1v1h-1zM15 1h1v1h-1zM17 1h2v1h-2zM26 1h4v1h-4zM35 1h1v1h-1zM1 2h1v1h-1zM5 2h1v1h-1zM8 2h1v1h-1zM11 2h2v1h-2zM14 2h1v1h-1zM17 2h1v1h-1zM26 2h1v1h-1zM29 2h1v1h-1zM2 3h2v1h-2zM5 3h2v1h-2zM8 3h1v1h-1zM12 3h2v1h-2zM15 3h2v1h-2zM18 3h1v1h-1zM22 3h1v1h-1zM30 3h1v1h-1zM3 4h2v1h-2zM7 4h2v1h-2zM11 4h1v1h-1zM13 4h2v1h-2zM18 4h1v1h-1zM23 4h1v1h-1zM25 4h3v1h-3zM29 4h1v1h-1z"/>
<path fill="#f2eb22" d="M0 0h1v1h-1zM4 0h1v1h-1zM6 0h1v1h-1zM10 0h3v1h-3zM19 0h1v1h-1zM22 0h1v1h-1zM24 0h1v1h-1zM27 0h1v1h-1zM31 0h1v1h-1zM35 0h1v1h-1zM0 1h1v1h-1zM2 1h1v1h-1zM5 1h1v1h-1zM7 1h1v1h-1zM9 1h1v1h-1zM13 1h2v1h-2zM19 1h2v1h-2zM25 1h1v1h-1zM33 1h1v1h-1zM2 2h1v1h-1zM4 2h1v1h-1zM9 2h1v1h-1zM13 2h1v1h-1zM15 2h1v1h-1zM18 2h3v1h-3zM23 2h1v1h-1zM25 2h1v1h-1zM27 2h2v1h-2zM33 2h1v1h-1zM0 3h1v1h-1zM4 3h1v1h-1zM7 3h1v1h-1zM10 3h2v1h-2zM20 3h1v1h-1zM23 3h4v1h-4zM29 3h1v1h-1zM31 3h1v1h-1zM9 4h1v1h-1zM16 4h1v1h-1zM22 4h1v1h-1zM31 4h1v1h-1z"/>
<path fill="#f8f228" d="M1 0h1v1h-1zM16 0h1v1h-1zM20 0h2v1h-2zM4 1h1v1h-1zM11 1h1v1h-1zM24 1h1v1h-1zM31 1h1v1h-1zM0 2h1v1h-1zM3 2h1v1h-1zM22 2h1v1h-1zM24 2h1v1h-1zM9 3h1v1h-1zM19 3h1v1h-1zM28 3h1v1h-1zM32 3h2v1h-2zM5 4h1v1h-1zM19 4h2v1h-2zM24 4h1v1h-1zM28 4h1v1h-1z"/>
</g>
<g transform="translate(489.00,460.70) scale(1.2472,5.5200)" shape-rendering="crispEdges">
<path fill="#a642a5" d="M29 0h1v1h-1z"/>
<path fill="#862a8b" d="M15 0h1v1h-1zM26 0h1v1h-1zM32 1h1v1h-1zM35 1h1v1h-1zM7 2h1v1h-1zM15 2h1v1h-1zM20 2h1v1h-1zM25 2h2v1h-2zM28 2h1v1h-1zM15 3h1v1h-1zM22 3h1v1h-1zM15 4h1v1h-1zM20 4h1v1h-1z"/>
<path fill="#6c1e73" d="M0 0h1v1h-1zM2 0h1v1h-1zM4 0h1v1h-1zM7 0h2v1h-2zM10 0h1v1h-1zM13 0h2v1h-2zM17 0h1v1h-1zM19 0h1v1h-1zM23 0h1v1h-1zM27 0h1v1h-1zM30 0h1v1h-1zM33 0h1v1h-1zM5 1h2v1h-2zM11 1h3v1h-3zM15 1h1v1h-1zM20 1h1v1h-1zM27 1h1v1h-1zM29 1h1v1h-1zM34 1h1v1h-1zM1 2h1v1h-1zM3 2h4v1h-4zM8 2h3v1h-3zM13 2h1v1h-1zM17 2h3v1h-3zM21 2h3v1h-3zM27 2h1v1h-1zM30 2h2v1h-2zM35 2h1v1h-1zM3 3h1v1h-1zM7 3h3v1h-3zM13 3h1v1h-1zM21 3h1v1h-1zM29 3h1v1h-1zM31 3h1v1h-1zM35 3h1v1h-1zM0 4h1v1h-1zM4 4h1v1h-1zM6 4h1v1h-1zM11 4h1v1h-1zM14 4h1v1h-1zM35 4h1v1h-1z"/>
<path fill="#501457" d="M1 0h1v1h-1zM3 0h1v1h-1zM5 0h2v1h-2zM11 0h2v1h-2zM18 0h1v1h-1zM21 0h2v1h-2zM24 0h2v1h-2zM28 0h1v1h-1zM31 0h2v1h-2zM34 0h1v1h-1zM8 1h3v1h-3zM14 1h1v1h-1zM16 1h1v1h-1zM22 1h1v1h-1zM30 1h1v1h-1zM33 1h1v1h-1zM0 2h1v1h-1zM2 2h1v1h-1zM11 2h2v1h-2zM14 2h1v1h-1zM16 2h1v1h-1zM24 2h1v1h-1zM32 2h3v1h-3zM0 3h2v1h-2zM4 3h2v1h-2zM10 3h1v1h-1zM14 3h1v1h-1zM16 3h1v1h-1zM18 3h2v1h-2zM23 3h2v1h-2zM33 3h1v1h-1zM3 4h1v1h-1zM5 4h1v1h-1zM8 4h1v1h-1zM10 4h1v1h-1zM17 4h2v1h-2zM25 4h1v1h-1zM27 4h2v1h-2zM31 4h2v1h-2zM34 4h1v1h-1z"/>
<path fill="#330b37" d="M9 0h1v1h-1zM0 1h1v1h-1zM3 1h1v1h-1zM17 1h1v1h-1zM21 1h1v1h-1zM26 1h1v1h-1zM31 1h1v1h-1zM11 3h1v1h-1zM20 3h1v1h-1zM27 3h1v1h-1zM30 3h1v1h-1zM32 3h1v1h-1zM34 3h1v1h-1zM1 4h2v1h-2zM9 4h1v1h-1zM12 4h1v1h-1zM19 4h1v1h-1zM21 4h1v1h-1zM23 4h2v1h-2zM29 4h2v1h-2zM33 4h1v1h-1z"/>
<path fill="#1d071e" d="M4 1h1v1h-1zM7 1h1v1h-1zM19 1h1v1h-1zM23 1h1v1h-1zM6 3h1v1h-1zM26 3h1v1h-1zM16 4h1v1h-1zM22 4h1v1h-1z"/>
<path fill="#241a14" d="M24 1h1v1h-1zM29 2h1v1h-1zM2 3h1v1h-1z"/>
<path fill="#494318" d="M16 0h1v1h-1zM2 1h1v1h-1z"/>
<path fill="#7b761e" d="M12 3h1v1h-1zM25 3h1v1h-1zM28 3h1v1h-1z"/>
<path fill="#aea923" d="M18 1h1v1h-1zM25 1h1v1h-1zM17 3h1v1h-1zM7 4h1v1h-1zM26 4h1v1h-1z"/>
<path fill="#d8d121" d="M20 0h1v1h-1zM35 0h1v1h-1zM13 4h1v1h-1z"/>
<path fill="#f2eb22" d="M28 1h1v1h-1z"/>
<path fill="#f8f228" d="M1 1h1v1h-1z"/>
</g>
<g transform="translate(533.90,460.70) scale(1.2657,5.5200)" shape-rendering="crispEdges">
<path fill="#c65abe" d="M28 0h1v1h-1zM33 0h1v1h-1z"/>
<path fill="#a642a5" d="M14 0h1v1h-1zM20 0h1v1h-1zM24 0h1v1h-1zM7 1h1v1h-1zM34 1h1v1h-1zM26 2h1v1h-1zM9 3h1v1h-1zM13 3h1v1h-1z"/>
<path fill="#862a8b" d="M1 0h3v1h-3zM5 0h1v1h-1zM7 0h5v1h-5zM15 0h1v1h-1zM18 0h1v1h-1zM21 0h1v1h-1zM25 0h3v1h-3zM29 0h4v1h-4zM34 0h1v1h-1zM0 1h1v1h-1zM15 1h1v1h-1zM20 1h1v1h-1zM29 1h1v1h-1zM0 2h1v1h-1zM12 2h2v1h-2zM21 2h1v1h-1zM29 2h1v1h-1zM0 3h1v1h-1zM2 3h1v1h-1zM27 3h1v1h-1zM12 4h6v1h-6zM29 4h2v1h-2zM34 4h1v1h-1z"/>
<path fill="#6c1e73" d="M6 0h1v1h-1zM13 0h1v1h-1zM16 0h2v1h-2zM19 0h1v1h-1zM22 0h2v1h-2zM2 1h2v1h-2zM5 1h2v1h-2zM9 1h3v1h-3zM13 1h1v1h-1zM18 1h1v1h-1zM21 1h1v1h-1zM23 1h2v1h-2zM28 1h1v1h-1zM30 1h1v1h-1zM32 1h1v1h-1zM1 2h3v1h-3zM6 2h2v1h-2zM9 2h2v1h-2zM14 2h2v1h-2zM19 2h2v1h-2zM22 2h1v1h-1zM24 2h1v1h-1zM30 2h2v1h-2zM33 2h2v1h-2zM4 3h4v1h-4zM14 3h1v1h-1zM16 3h2v1h-2zM20 3h3v1h-3zM24 3h3v1h-3zM28 3h1v1h-1zM31 3h4v1h-4zM0 4h1v1h-1zM2 4h1v1h-1zM5 4h1v1h-1zM7 4h1v1h-1zM9 4h2v1h-2zM21 4h2v1h-2zM24 4h1v1h-1zM26 4h2v1h-2zM31 4h1v1h-1z"/>
<path fill="#501457" d="M4 0h1v1h-1zM4 1h1v1h-1zM8 1h1v1h-1zM12 1h1v1h-1zM14 1h1v1h-1zM16 1h2v1h-2zM22 1h1v1h-1zM26 1h2v1h-2zM31 1h1v1h-1zM33 1h1v1h-1zM4 2h1v1h-1zM8 2h1v1h-1zM11 2h1v1h-1zM16 2h1v1h-1zM18 2h1v1h-1zM25 2h1v1h-1zM27 2h2v1h-2zM32 2h1v1h-1zM1 3h1v1h-1zM3 3h1v1h-1zM8 3h1v1h-1zM10 3h3v1h-3zM15 3h1v1h-1zM18 3h2v1h-2zM23 3h1v1h-1zM30 3h1v1h-1zM1 4h1v1h-1zM3 4h2v1h-2zM6 4h1v1h-1zM8 4h1v1h-1zM18 4h3v1h-3zM23 4h1v1h-1zM25 4h1v1h-1zM28 4h1v1h-1zM32 4h2v1h-2z"/>
<path fill="#330b37" d="M19 1h1v1h-1zM25 1h1v1h-1zM23 2h1v1h-1zM11 4h1v1h-1z"/>
<path fill="#494318" d="M5 2h1v1h-1z"/>
<path fill="#aea923" d="M0 0h1v1h-1zM12 0h1v1h-1zM17 2h1v1h-1zM29 3h1v1h-1z"/>
<path fill="#f2eb22" d="M1 1h1v1h-1z"/>
</g>
<g transform="translate(578.20,460.70) scale(1.2444,5.5200)" shape-rendering="crispEdges">
<path fill="#862a8b" d="M21 1h1v1h-1zM30 1h1v1h-1zM22 2h1v1h-1zM17 3h1v1h-1zM20 3h1v1h-1z"/>
<path fill="#6c1e73" d="M0 1h1v1h-1zM12 1h1v1h-1zM14 1h2v1h-2zM28 1h1v1h-1zM32 1h1v1h-1zM7 2h1v1h-1zM12 2h1v1h-1zM24 2h1v1h-1zM27 2h3v1h-3zM32 2h1v1h-1zM6 3h1v1h-1zM12 3h1v1h-1zM15 3h2v1h-2zM4 4h1v1h-1zM6 4h2v1h-2zM11 4h1v1h-1zM15 4h1v1h-1zM21 4h2v1h-2zM25 4h1v1h-1zM28 4h1v1h-1zM32 4h1v1h-1zM34 4h1v1h-1z"/>
<path fill="#501457" d="M2 1h1v1h-1zM4 1h1v1h-1zM8 1h1v1h-1zM16 1h4v1h-4zM31 1h1v1h-1zM34 1h1v1h-1zM0 2h2v1h-2zM3 2h1v1h-1zM6 2h1v1h-1zM8 2h2v1h-2zM11 2h1v1h-1zM15 2h2v1h-2zM18 2h1v1h-1zM20 2h2v1h-2zM23 2h1v1h-1zM25 2h2v1h-2zM30 2h1v1h-1zM11 3h1v1h-1zM13 3h2v1h-2zM23 3h1v1h-1zM29 3h1v1h-1zM32 3h1v1h-1zM34 3h1v1h-1zM0 4h1v1h-1zM3 4h1v1h-1zM10 4h1v1h-1zM13 4h2v1h-2zM18 4h2v1h-2zM24 4h1v1h-1zM26 4h1v1h-1zM33 4h1v1h-1z"/>
<path fill="#330b37" d="M3 1h1v1h-1zM13 1h1v1h-1zM33 1h1v1h-1zM2 2h1v1h-1zM4 2h1v1h-1zM10 2h1v1h-1zM13 2h2v1h-2zM17 2h1v1h-1zM19 2h1v1h-1zM31 2h1v1h-1zM33 2h2v1h-2zM3 3h1v1h-1zM8 3h1v1h-1zM25 3h2v1h-2zM35 3h1v1h-1zM1 4h2v1h-2zM8 4h2v1h-2zM12 4h1v1h-1zM16 4h2v1h-2zM23 4h1v1h-1zM27 4h1v1h-1zM29 4h3v1h-3zM35 4h1v1h-1z"/>
<path fill="#1d071e" d="M1 1h1v1h-1zM5 1h3v1h-3zM9 1h2v1h-2zM23 1h1v1h-1zM26 1h2v1h-2zM35 2h1v1h-1zM1 3h1v1h-1zM7 3h1v1h-1zM9 3h1v1h-1zM22 3h1v1h-1zM24 3h1v1h-1zM31 3h1v1h-1zM5 4h1v1h-1zM20 4h1v1h-1z"/>
<path fill="#241a14" d="M11 1h1v1h-1zM29 1h1v1h-1zM5 2h1v1h-1z"/>
<path fill="#494318" d="M24 0h1v1h-1zM25 1h1v1h-1zM0 3h1v1h-1zM18 3h1v1h-1z"/>
<path fill="#7b761e" d="M4 0h1v1h-1zM8 0h1v1h-1zM21 0h1v1h-1zM24 1h1v1h-1zM21 3h1v1h-1zM28 3h1v1h-1z"/>
<path fill="#aea923" d="M2 0h1v1h-1zM10 0h1v1h-1zM13 0h1v1h-1zM15 0h1v1h-1zM22 0h1v1h-1zM29 0h1v1h-1zM20 1h1v1h-1zM2 3h1v1h-1zM10 3h1v1h-1zM19 3h1v1h-1zM30 3h1v1h-1zM33 3h1v1h-1z"/>
<path fill="#d8d121" d="M0 0h1v1h-1zM7 0h1v1h-1zM9 0h1v1h-1zM12 0h1v1h-1zM18 0h1v1h-1zM20 0h1v1h-1zM25 0h1v1h-1zM28 0h1v1h-1zM30 0h2v1h-2zM22 1h1v1h-1zM4 3h2v1h-2z"/>
<path fill="#f2eb22" d="M3 0h1v1h-1zM11 0h1v1h-1zM19 0h1v1h-1zM27 0h1v1h-1zM32 0h1v1h-1zM27 3h1v1h-1z"/>
<path fill="#f8f228" d="M1 0h1v1h-1zM5 0h2v1h-2zM14 0h1v1h-1zM16 0h2v1h-2zM23 0h1v1h-1zM26 0h1v1h-1zM33 0h3v1h-3zM35 1h1v1h-1z"/>
</g>
<g transform="translate(623.00,460.70) scale(1.2472,5.5200)" shape-rendering="crispEdges">
<path fill="#c65abe" d="M5 1h1v1h-1zM21 1h1v1h-1z"/>
<path fill="#a642a5" d="M1 0h1v1h-1zM3 0h1v1h-1zM6 0h1v1h-1zM12 0h2v1h-2zM15 0h1v1h-1zM29 0h1v1h-1zM31 0h1v1h-1zM9 1h1v1h-1zM11 1h1v1h-1zM13 1h1v1h-1zM15 1h2v1h-2zM18 1h1v1h-1zM24 1h1v1h-1zM26 1h3v1h-3z"/>
<path fill="#862a8b" d="M0 0h1v1h-1zM5 0h1v1h-1zM7 0h3v1h-3zM16 0h4v1h-4zM22 0h4v1h-4zM27 0h2v1h-2zM30 0h1v1h-1zM33 0h2v1h-2zM0 1h5v1h-5zM6 1h1v1h-1zM10 1h1v1h-1zM12 1h1v1h-1zM14 1h1v1h-1zM19 1h2v1h-2zM22 1h1v1h-1zM31 1h1v1h-1zM33 1h1v1h-1zM35 1h1v1h-1zM2 2h1v1h-1zM8 2h1v1h-1zM16 2h1v1h-1zM19 2h1v1h-1zM33 2h1v1h-1zM0 3h1v1h-1zM3 3h1v1h-1zM5 3h1v1h-1zM14 3h2v1h-2zM29 3h1v1h-1zM2 4h1v1h-1zM6 4h1v1h-1zM19 4h1v1h-1zM27 4h1v1h-1zM29 4h1v1h-1zM31 4h2v1h-2zM35 4h1v1h-1z"/>
<path fill="#6c1e73" d="M2 0h1v1h-1zM4 0h1v1h-1zM10 0h2v1h-2zM14 0h1v1h-1zM20 0h2v1h-2zM26 0h1v1h-1zM35 0h1v1h-1zM7 1h1v1h-1zM17 1h1v1h-1zM23 1h1v1h-1zM25 1h1v1h-1zM29 1h1v1h-1zM32 1h1v1h-1zM34 1h1v1h-1zM0 2h2v1h-2zM3 2h1v1h-1zM5 2h2v1h-2zM9 2h2v1h-2zM13 2h3v1h-3zM18 2h1v1h-1zM21 2h1v1h-1zM26 2h1v1h-1zM28 2h1v1h-1zM35 2h1v1h-1zM1 3h2v1h-2zM4 3h1v1h-1zM8 3h3v1h-3zM12 3h2v1h-2zM16 3h3v1h-3zM20 3h2v1h-2zM23 3h1v1h-1zM26 3h1v1h-1zM30 3h3v1h-3zM34 3h1v1h-1zM0 4h1v1h-1zM3 4h3v1h-3zM7 4h1v1h-1zM9 4h5v1h-5zM15 4h2v1h-2zM21 4h1v1h-1zM24 4h1v1h-1z"/>
<path fill="#501457" d="M32 0h1v1h-1zM8 1h1v1h-1zM30 1h1v1h-1zM7 2h1v1h-1zM11 2h2v1h-2zM17 2h1v1h-1zM20 2h1v1h-1zM22 2h1v1h-1zM25 2h1v1h-1zM27 2h1v1h-1zM29 2h1v1h-1zM31 2h2v1h-2zM34 2h1v1h-1zM6 3h2v1h-2zM11 3h1v1h-1zM22 3h1v1h-1zM24 3h1v1h-1zM27 3h2v1h-2zM35 3h1v1h-1zM1 4h1v1h-1zM17 4h2v1h-2zM22 4h1v1h-1zM25 4h1v1h-1zM30 4h1v1h-1zM33 4h2v1h-2z"/>
<path fill="#330b37" d="M4 2h1v1h-1zM23 2h2v1h-2zM30 2h1v1h-1zM33 3h1v1h-1zM20 4h1v1h-1zM26 4h1v1h-1z"/>
<path fill="#241a14" d="M19 3h1v1h-1z"/>
<path fill="#7b761e" d="M14 4h1v1h-1z"/>
<path fill="#aea923" d="M25 3h1v1h-1z"/>
<path fill="#d8d121" d="M8 4h1v1h-1zM28 4h1v1h-1z"/>
<path fill="#f8f228" d="M23 4h1v1h-1z"/>
</g>
<g transform="translate(355.50,489.30) scale(1.2389,5.1750)" shape-rendering="crispEdges">
<path fill="#862a8b" d="M27 1h1v1h-1zM34 1h1v1h-1zM28 2h1v1h-1z"/>
<path fill="#6c1e73" d="M1 0h1v1h-1zM15 0h2v1h-2zM27 0h1v1h-1zM33 0h1v1h-1zM5 1h1v1h-1zM28 1h1v1h-1zM31 1h1v1h-1zM1 2h1v1h-1zM3 2h2v1h-2zM12 2h1v1h-1zM19 2h2v1h-2zM30 2h1v1h-1zM32 2h1v1h-1zM6 3h1v1h-1zM14 3h1v1h-1zM27 3h2v1h-2zM33 3h1v1h-1z"/>
<path fill="#501457" d="M3 0h4v1h-4zM9 0h1v1h-1zM11 0h4v1h-4zM17 0h1v1h-1zM19 0h1v1h-1zM21 0h1v1h-1zM26 0h1v1h-1zM28 0h1v1h-1zM34 0h1v1h-1zM0 1h1v1h-1zM2 1h3v1h-3zM6 1h1v1h-1zM10 1h3v1h-3zM15 1h1v1h-1zM20 1h3v1h-3zM24 1h1v1h-1zM26 1h1v1h-1zM29 1h2v1h-2zM33 1h1v1h-1zM35 1h1v1h-1zM7 2h2v1h-2zM11 2h1v1h-1zM13 2h1v1h-1zM17 2h1v1h-1zM22 2h1v1h-1zM26 2h1v1h-1zM31 2h1v1h-1zM34 2h2v1h-2zM0 3h2v1h-2zM3 3h1v1h-1zM7 3h2v1h-2zM10 3h1v1h-1zM13 3h1v1h-1zM16 3h1v1h-1zM18 3h3v1h-3zM22 3h2v1h-2zM26 3h1v1h-1zM29 3h1v1h-1zM32 3h1v1h-1z"/>
<path fill="#330b37" d="M0 0h1v1h-1zM7 0h2v1h-2zM10 0h1v1h-1zM20 0h1v1h-1zM23 0h3v1h-3zM29 0h4v1h-4zM35 0h1v1h-1zM1 1h1v1h-1zM7 1h3v1h-3zM13 1h2v1h-2zM16 1h3v1h-3zM23 1h1v1h-1zM25 1h1v1h-1zM0 2h1v1h-1zM2 2h1v1h-1zM6 2h1v1h-1zM10 2h1v1h-1zM23 2h1v1h-1zM25 2h1v1h-1zM27 2h1v1h-1zM29 2h1v1h-1zM33 2h1v1h-1zM2 3h1v1h-1zM4 3h2v1h-2zM9 3h1v1h-1zM24 3h2v1h-2zM30 3h2v1h-2zM34 3h2v1h-2z"/>
<path fill="#1d071e" d="M18 0h1v1h-1zM22 0h1v1h-1zM15 2h2v1h-2zM11 3h2v1h-2zM21 3h1v1h-1z"/>
<path fill="#494318" d="M14 2h1v1h-1z"/>
<path fill="#7b761e" d="M32 1h1v1h-1z"/>
<path fill="#aea923" d="M2 0h1v1h-1zM5 2h1v1h-1z"/>
<path fill="#d8d121" d="M19 1h1v1h-1zM9 2h1v1h-1zM15 3h1v1h-1zM17 3h1v1h-1z"/>
<path fill="#f2eb22" d="M21 2h1v1h-1zM24 2h1v1h-1z"/>
<path fill="#f8f228" d="M18 2h1v1h-1z"/>
</g>
<g transform="translate(400.10,489.30) scale(1.2629,5.1750)" shape-rendering="crispEdges">
<path fill="#862a8b" d="M19 1h1v1h-1zM16 2h1v1h-1zM6 3h1v1h-1z"/>
<path fill="#6c1e73" d="M6 1h1v1h-1zM14 1h1v1h-1zM23 1h1v1h-1zM34 1h1v1h-1zM14 2h2v1h-2zM31 2h1v1h-1zM0 3h1v1h-1zM5 3h1v1h-1zM20 3h1v1h-1zM22 3h1v1h-1zM33 3h1v1h-1z"/>
<path fill="#501457" d="M15 0h1v1h-1zM32 0h1v1h-1zM0 1h1v1h-1zM2 1h1v1h-1zM4 1h1v1h-1zM8 1h1v1h-1zM11 1h1v1h-1zM20 1h1v1h-1zM25 1h1v1h-1zM28 1h2v1h-2zM31 1h1v1h-1zM2 2h1v1h-1zM7 2h1v1h-1zM12 2h1v1h-1zM23 2h3v1h-3zM27 2h1v1h-1zM30 2h1v1h-1zM1 3h2v1h-2zM7 3h2v1h-2zM14 3h3v1h-3zM19 3h1v1h-1zM21 3h1v1h-1zM23 3h3v1h-3zM28 3h1v1h-1zM30 3h1v1h-1zM32 3h1v1h-1z"/>
<path fill="#330b37" d="M2 0h3v1h-3zM6 0h1v1h-1zM8 0h1v1h-1zM14 0h1v1h-1zM16 0h2v1h-2zM26 0h1v1h-1zM28 0h1v1h-1zM33 0h1v1h-1zM3 1h1v1h-1zM10 1h1v1h-1zM12 1h2v1h-2zM15 1h2v1h-2zM18 1h1v1h-1zM21 1h2v1h-2zM27 1h1v1h-1zM0 2h2v1h-2zM4 2h3v1h-3zM9 2h2v1h-2zM13 2h1v1h-1zM17 2h1v1h-1zM20 2h2v1h-2zM3 3h1v1h-1zM9 3h1v1h-1zM11 3h1v1h-1zM13 3h1v1h-1zM18 3h1v1h-1zM27 3h1v1h-1zM31 3h1v1h-1z"/>
<path fill="#1d071e" d="M0 0h1v1h-1zM7 0h1v1h-1zM11 0h2v1h-2zM18 0h2v1h-2zM21 0h1v1h-1zM23 0h1v1h-1zM25 0h1v1h-1zM31 0h1v1h-1zM34 0h1v1h-1zM7 1h1v1h-1zM9 1h1v1h-1zM17 1h1v1h-1zM24 1h1v1h-1zM26 1h1v1h-1zM30 1h1v1h-1zM8 2h1v1h-1zM18 2h1v1h-1zM22 2h1v1h-1zM34 2h1v1h-1zM26 3h1v1h-1zM29 3h1v1h-1z"/>
<path fill="#241a14" d="M1 0h1v1h-1zM5 0h1v1h-1zM9 0h2v1h-2zM20 0h1v1h-1zM22 0h1v1h-1zM27 0h1v1h-1zM30 0h1v1h-1zM19 2h1v1h-1zM29 2h1v1h-1zM4 3h1v1h-1zM10 3h1v1h-1z"/>
<path fill="#494318" d="M24 0h1v1h-1z"/>
<path fill="#7b761e" d="M13 0h1v1h-1zM33 1h1v1h-1zM17 3h1v1h-1z"/>
<path fill="#aea923" d="M29 0h1v1h-1zM5 1h1v1h-1zM28 2h1v1h-1zM32 2h2v1h-2zM12 3h1v1h-1zM34 3h1v1h-1z"/>
<path fill="#d8d121" d="M1 1h1v1h-1zM11 2h1v1h-1zM26 2h1v1h-1z"/>
<path fill="#f2eb22" d="M3 2h1v1h-1z"/>
<path fill="#f8f228" d="M32 1h1v1h-1z"/>
</g>
<g transform="translate(444.30,489.30) scale(1.2417,5.1750)" shape-rendering="crispEdges">
<path fill="#862a8b" d="M12 0h1v1h-1zM4 1h1v1h-1zM6 1h3v1h-3zM12 1h1v1h-1zM19 1h1v1h-1zM24 1h1v1h-1zM26 1h1v1h-1zM30 1h1v1h-1zM6 2h1v1h-1zM10 2h1v1h-1zM14 2h1v1h-1zM21 3h1v1h-1z"/>
<path fill="#6c1e73" d="M17 0h1v1h-1zM21 0h1v1h-1zM24 0h1v1h-1zM32 0h1v1h-1zM0 1h1v1h-1zM10 1h1v1h-1zM14 1h5v1h-5zM21 1h3v1h-3zM28 1h2v1h-2zM33 1h1v1h-1zM35 1h1v1h-1zM20 2h2v1h-2zM24 2h1v1h-1zM0 3h1v1h-1zM8 3h1v1h-1zM13 3h3v1h-3zM23 3h1v1h-1zM26 3h1v1h-1zM31 3h1v1h-1z"/>
<path fill="#501457" d="M0 0h2v1h-2zM3 0h2v1h-2zM8 0h1v1h-1zM10 0h2v1h-2zM13 0h1v1h-1zM15 0h1v1h-1zM18 0h3v1h-3zM22 0h2v1h-2zM26 0h3v1h-3zM30 0h1v1h-1zM34 0h2v1h-2zM2 1h2v1h-2zM5 1h1v1h-1zM11 1h1v1h-1zM13 1h1v1h-1zM20 1h1v1h-1zM25 1h1v1h-1zM27 1h1v1h-1zM31 1h2v1h-2zM2 2h2v1h-2zM5 2h1v1h-1zM7 2h2v1h-2zM12 2h2v1h-2zM17 2h1v1h-1zM22 2h2v1h-2zM29 2h2v1h-2zM32 2h1v1h-1zM1 3h2v1h-2zM4 3h2v1h-2zM7 3h1v1h-1zM10 3h1v1h-1zM12 3h1v1h-1zM17 3h1v1h-1zM19 3h2v1h-2zM25 3h1v1h-1zM27 3h1v1h-1zM29 3h2v1h-2zM33 3h1v1h-1zM35 3h1v1h-1z"/>
<path fill="#330b37" d="M2 0h1v1h-1zM6 0h2v1h-2zM14 0h1v1h-1zM25 0h1v1h-1zM29 0h1v1h-1zM33 0h1v1h-1zM9 1h1v1h-1zM34 1h1v1h-1zM16 2h1v1h-1zM19 2h1v1h-1zM25 2h2v1h-2zM35 2h1v1h-1zM6 3h1v1h-1zM24 3h1v1h-1zM28 3h1v1h-1zM32 3h1v1h-1z"/>
<path fill="#1d071e" d="M5 0h1v1h-1zM1 2h1v1h-1zM3 3h1v1h-1zM9 3h1v1h-1zM16 3h1v1h-1zM22 3h1v1h-1zM34 3h1v1h-1z"/>
<path fill="#241a14" d="M9 0h1v1h-1zM1 1h1v1h-1zM9 2h1v1h-1zM31 2h1v1h-1zM33 2h1v1h-1z"/>
<path fill="#7b761e" d="M0 2h1v1h-1zM4 2h1v1h-1zM18 2h1v1h-1z"/>
<path fill="#aea923" d="M28 2h1v1h-1z"/>
<path fill="#d8d121" d="M27 2h1v1h-1zM34 2h1v1h-1zM18 3h1v1h-1z"/>
<path fill="#f2eb22" d="M11 2h1v1h-1zM15 2h1v1h-1z"/>
<path fill="#f8f228" d="M16 0h1v1h-1zM31 0h1v1h-1zM11 3h1v1h-1z"/>
</g>
<g transform="translate(489.00,489.30) scale(1.2472,5.1750)" shape-rendering="crispEdges">
<path fill="#1d071e" d="M10 2h1v1h-1z"/>
<path fill="#241a14" d="M14 0h1v1h-1z"/>
<path fill="#494318" d="M8 0h1v1h-1zM15 0h1v1h-1zM23 0h1v1h-1zM4 2h1v1h-1zM20 2h1v1h-1z"/>
<path fill="#7b761e" d="M0 0h1v1h-1zM4 0h1v1h-1zM17 0h1v1h-1zM30 0h1v1h-1zM17 1h1v1h-1zM32 1h1v1h-1zM17 2h1v1h-1z"/>
<path fill="#aea923" d="M5 0h1v1h-1zM7 0h1v1h-1zM21 0h1v1h-1zM25 0h1v1h-1zM2 1h1v1h-1zM6 1h1v1h-1zM12 1h2v1h-2zM15 1h1v1h-1zM21 1h1v1h-1zM24 1h1v1h-1zM3 2h1v1h-1zM6 2h1v1h-1zM22 2h1v1h-1zM24 2h1v1h-1zM6 3h2v1h-2zM11 3h2v1h-2zM15 3h1v1h-1zM17 3h1v1h-1zM24 3h1v1h-1z"/>
<path fill="#d8d121" d="M3 0h1v1h-1zM6 0h1v1h-1zM9 0h1v1h-1zM12 0h2v1h-2zM16 0h1v1h-1zM18 0h1v1h-1zM24 0h1v1h-1zM26 0h1v1h-1zM28 0h1v1h-1zM32 0h3v1h-3zM5 1h1v1h-1zM8 1h3v1h-3zM16 1h1v1h-1zM18 1h1v1h-1zM20 1h1v1h-1zM22 1h2v1h-2zM29 1h2v1h-2zM33 1h1v1h-1zM35 1h1v1h-1zM0 2h1v1h-1zM5 2h1v1h-1zM8 2h2v1h-2zM11 2h2v1h-2zM15 2h2v1h-2zM18 2h1v1h-1zM21 2h1v1h-1zM25 2h1v1h-1zM30 2h1v1h-1zM32 2h4v1h-4zM0 3h3v1h-3zM5 3h1v1h-1zM8 3h1v1h-1zM10 3h1v1h-1zM13 3h1v1h-1zM16 3h1v1h-1zM21 3h2v1h-2zM26 3h1v1h-1zM29 3h2v1h-2zM33 3h1v1h-1z"/>
<path fill="#f2eb22" d="M2 0h1v1h-1zM10 0h2v1h-2zM19 0h2v1h-2zM22 0h1v1h-1zM29 0h1v1h-1zM35 0h1v1h-1zM1 1h1v1h-1zM3 1h2v1h-2zM7 1h1v1h-1zM11 1h1v1h-1zM14 1h1v1h-1zM19 1h1v1h-1zM25 1h2v1h-2zM28 1h1v1h-1zM31 1h1v1h-1zM34 1h1v1h-1zM2 2h1v1h-1zM7 2h1v1h-1zM13 2h2v1h-2zM19 2h1v1h-1zM23 2h1v1h-1zM26 2h1v1h-1zM31 2h1v1h-1zM3 3h2v1h-2zM14 3h1v1h-1zM18 3h3v1h-3zM23 3h1v1h-1zM28 3h1v1h-1zM31 3h2v1h-2zM34 3h2v1h-2z"/>
<path fill="#f8f228" d="M1 0h1v1h-1zM27 0h1v1h-1zM31 0h1v1h-1zM0 1h1v1h-1zM27 1h1v1h-1zM1 2h1v1h-1zM27 2h3v1h-3zM9 3h1v1h-1zM25 3h1v1h-1zM27 3h1v1h-1z"/>
</g>
<g transform="translate(533.90,489.30) scale(1.2657,5.1750)" shape-rendering="crispEdges">
<path fill="#a642a5" d="M2 3h1v1h-1z"/>
<path fill="#862a8b" d="M10 1h1v1h-1zM24 1h1v1h-1zM30 1h1v1h-1zM0 2h1v1h-1zM17 2h1v1h-1zM8 3h1v1h-1zM14 3h1v1h-1zM23 3h1v1h-1zM26 3h1v1h-1zM33 3h1v1h-1z"/>
<path fill="#6c1e73" d="M2 0h1v1h-1zM7 0h1v1h-1zM12 0h1v1h-1zM19 0h1v1h-1zM26 0h1v1h-1zM28 0h1v1h-1zM30 0h1v1h-1zM32 0h1v1h-1zM0 1h1v1h-1zM2 1h1v1h-1zM23 1h1v1h-1zM25 1h1v1h-1zM28 1h1v1h-1zM34 1h1v1h-1zM3 2h1v1h-1zM6 2h3v1h-3zM10 2h2v1h-2zM16 2h1v1h-1zM22 2h1v1h-1zM26 2h2v1h-2zM29 2h1v1h-1zM3 3h1v1h-1zM7 3h1v1h-1zM12 3h2v1h-2zM15 3h1v1h-1zM21 3h1v1h-1zM25 3h1v1h-1z"/>
<path fill="#501457" d="M3 0h2v1h-2zM6 0h1v1h-1zM8 0h1v1h-1zM11 0h1v1h-1zM16 0h2v1h-2zM24 0h1v1h-1zM27 0h1v1h-1zM34 0h1v1h-1zM1 1h1v1h-1zM4 1h2v1h-2zM11 1h1v1h-1zM13 1h3v1h-3zM18 1h1v1h-1zM20 1h2v1h-2zM27 1h1v1h-1zM29 1h1v1h-1zM15 2h1v1h-1zM18 2h1v1h-1zM23 2h1v1h-1zM25 2h1v1h-1zM28 2h1v1h-1zM31 2h1v1h-1zM34 2h1v1h-1zM5 3h1v1h-1zM9 3h1v1h-1zM11 3h1v1h-1zM16 3h1v1h-1zM19 3h2v1h-2zM22 3h1v1h-1zM24 3h1v1h-1zM27 3h3v1h-3zM32 3h1v1h-1z"/>
<path fill="#330b37" d="M0 0h2v1h-2zM9 0h1v1h-1zM13 0h1v1h-1zM20 0h1v1h-1zM22 0h2v1h-2zM6 1h1v1h-1zM12 1h1v1h-1zM22 1h1v1h-1zM2 2h1v1h-1zM5 2h1v1h-1zM9 2h1v1h-1zM12 2h3v1h-3zM19 2h2v1h-2zM30 2h1v1h-1zM32 2h2v1h-2zM1 3h1v1h-1zM4 3h1v1h-1zM17 3h1v1h-1zM30 3h1v1h-1z"/>
<path fill="#1d071e" d="M21 0h1v1h-1zM29 0h1v1h-1zM31 0h1v1h-1zM8 1h1v1h-1zM17 1h1v1h-1zM21 2h1v1h-1zM24 2h1v1h-1zM0 3h1v1h-1zM18 3h1v1h-1z"/>
<path fill="#241a14" d="M14 0h1v1h-1zM7 1h1v1h-1zM26 1h1v1h-1zM33 1h1v1h-1z"/>
<path fill="#494318" d="M34 3h1v1h-1z"/>
<path fill="#7b761e" d="M15 0h1v1h-1zM3 1h1v1h-1zM9 1h1v1h-1zM32 1h1v1h-1zM6 3h1v1h-1zM10 3h1v1h-1z"/>
<path fill="#aea923" d="M18 0h1v1h-1zM33 0h1v1h-1zM19 1h1v1h-1zM31 1h1v1h-1z"/>
<path fill="#d8d121" d="M5 0h1v1h-1zM10 0h1v1h-1zM4 2h1v1h-1zM31 3h1v1h-1z"/>
<path fill="#f2eb22" d="M25 0h1v1h-1zM16 1h1v1h-1z"/>
<path fill="#f8f228" d="M1 2h1v1h-1z"/>
</g>
<g transform="translate(578.20,489.30) scale(1.2444,5.1750)" shape-rendering="crispEdges">
<path fill="#862a8b" d="M30 3h1v1h-1z"/>
<path fill="#6c1e73" d="M2 3h1v1h-1zM6 3h1v1h-1zM8 3h1v1h-1zM26 3h2v1h-2zM33 3h1v1h-1z"/>
<path fill="#501457" d="M9 0h1v1h-1zM27 0h1v1h-1zM0 3h2v1h-2zM3 3h1v1h-1zM9 3h2v1h-2zM12 3h1v1h-1zM15 3h1v1h-1zM17 3h3v1h-3zM22 3h1v1h-1zM28 3h1v1h-1zM31 3h1v1h-1zM35 3h1v1h-1z"/>
<path fill="#330b37" d="M2 0h1v1h-1zM10 0h4v1h-4zM15 0h1v1h-1zM21 0h2v1h-2zM25 0h1v1h-1zM29 0h2v1h-2zM33 0h1v1h-1zM35 0h1v1h-1zM0 1h1v1h-1zM5 1h2v1h-2zM11 1h3v1h-3zM17 1h1v1h-1zM20 1h1v1h-1zM25 1h1v1h-1zM30 1h1v1h-1zM33 1h1v1h-1zM35 1h1v1h-1zM1 2h1v1h-1zM3 2h1v1h-1zM7 2h1v1h-1zM9 2h1v1h-1zM11 2h1v1h-1zM16 2h1v1h-1zM18 2h1v1h-1zM22 2h1v1h-1zM25 2h1v1h-1zM27 2h2v1h-2zM31 2h4v1h-4zM4 3h1v1h-1zM7 3h1v1h-1zM11 3h1v1h-1zM13 3h2v1h-2zM16 3h1v1h-1zM20 3h2v1h-2zM23 3h3v1h-3zM29 3h1v1h-1zM34 3h1v1h-1z"/>
<path fill="#1d071e" d="M0 0h1v1h-1zM3 0h3v1h-3zM7 0h1v1h-1zM14 0h1v1h-1zM16 0h1v1h-1zM18 0h3v1h-3zM23 0h1v1h-1zM26 0h1v1h-1zM28 0h1v1h-1zM31 0h2v1h-2zM34 0h1v1h-1zM1 1h4v1h-4zM7 1h4v1h-4zM14 1h2v1h-2zM18 1h1v1h-1zM22 1h3v1h-3zM26 1h2v1h-2zM29 1h1v1h-1zM31 1h2v1h-2zM34 1h1v1h-1zM0 2h1v1h-1zM2 2h1v1h-1zM4 2h3v1h-3zM10 2h1v1h-1zM14 2h2v1h-2zM17 2h1v1h-1zM19 2h1v1h-1zM21 2h1v1h-1zM23 2h1v1h-1zM29 2h1v1h-1zM35 2h1v1h-1z"/>
<path fill="#241a14" d="M8 0h1v1h-1zM8 2h1v1h-1zM13 2h1v1h-1zM20 2h1v1h-1zM24 2h1v1h-1zM26 2h1v1h-1zM30 2h1v1h-1z"/>
<path fill="#494318" d="M1 0h1v1h-1zM24 0h1v1h-1z"/>
<path fill="#aea923" d="M19 1h1v1h-1zM28 1h1v1h-1zM12 2h1v1h-1z"/>
<path fill="#d8d121" d="M16 1h1v1h-1zM21 1h1v1h-1zM32 3h1v1h-1z"/>
<path fill="#f2eb22" d="M6 0h1v1h-1zM17 0h1v1h-1zM5 3h1v1h-1z"/>
</g>
<g transform="translate(623.00,489.30) scale(1.2472,5.1750)" shape-rendering="crispEdges">
<path fill="#a642a5" d="M5 2h1v1h-1z"/>
<path fill="#862a8b" d="M25 2h1v1h-1zM33 2h1v1h-1zM5 3h1v1h-1z"/>
<path fill="#6c1e73" d="M0 0h1v1h-1zM21 0h2v1h-2zM28 0h1v1h-1zM5 1h1v1h-1zM33 1h1v1h-1zM1 2h1v1h-1zM3 2h1v1h-1zM7 2h1v1h-1zM9 2h3v1h-3zM17 2h1v1h-1zM22 2h2v1h-2zM27 2h6v1h-6zM1 3h1v1h-1zM3 3h1v1h-1zM10 3h1v1h-1zM13 3h1v1h-1zM15 3h2v1h-2zM18 3h1v1h-1zM22 3h1v1h-1z"/>
<path fill="#501457" d="M2 0h1v1h-1zM5 0h1v1h-1zM8 0h1v1h-1zM11 0h1v1h-1zM13 0h2v1h-2zM17 0h2v1h-2zM23 0h1v1h-1zM25 0h1v1h-1zM27 0h1v1h-1zM30 0h1v1h-1zM33 0h1v1h-1zM0 1h1v1h-1zM4 1h1v1h-1zM7 1h2v1h-2zM10 1h2v1h-2zM14 1h1v1h-1zM16 1h1v1h-1zM21 1h1v1h-1zM23 1h1v1h-1zM25 1h1v1h-1zM29 1h1v1h-1zM31 1h2v1h-2zM34 1h1v1h-1zM2 2h1v1h-1zM4 2h1v1h-1zM6 2h1v1h-1zM8 2h1v1h-1zM12 2h2v1h-2zM15 2h2v1h-2zM18 2h1v1h-1zM20 2h2v1h-2zM34 2h2v1h-2zM0 3h1v1h-1zM9 3h1v1h-1zM12 3h1v1h-1zM14 3h1v1h-1zM17 3h1v1h-1zM19 3h1v1h-1zM21 3h1v1h-1zM23 3h2v1h-2zM27 3h4v1h-4zM34 3h2v1h-2z"/>
<path fill="#330b37" d="M1 0h1v1h-1zM3 0h1v1h-1zM9 0h2v1h-2zM12 0h1v1h-1zM15 0h2v1h-2zM19 0h2v1h-2zM24 0h1v1h-1zM26 0h1v1h-1zM31 0h2v1h-2zM35 0h1v1h-1zM2 1h1v1h-1zM6 1h1v1h-1zM9 1h1v1h-1zM13 1h1v1h-1zM17 1h4v1h-4zM22 1h1v1h-1zM24 1h1v1h-1zM26 1h3v1h-3zM35 1h1v1h-1zM26 2h1v1h-1zM2 3h1v1h-1zM4 3h1v1h-1zM8 3h1v1h-1zM25 3h2v1h-2zM31 3h3v1h-3z"/>
<path fill="#1d071e" d="M4 0h1v1h-1zM6 0h1v1h-1zM12 1h1v1h-1zM30 1h1v1h-1zM6 3h2v1h-2zM11 3h1v1h-1z"/>
<path fill="#241a14" d="M20 3h1v1h-1z"/>
<path fill="#494318" d="M3 1h1v1h-1z"/>
<path fill="#7b761e" d="M1 1h1v1h-1zM15 1h1v1h-1z"/>
<path fill="#aea923" d="M7 0h1v1h-1zM29 0h1v1h-1zM0 2h1v1h-1zM19 2h1v1h-1z"/>
<path fill="#d8d121" d="M14 2h1v1h-1z"/>
<path fill="#f2eb22" d="M24 2h1v1h-1z"/>
<path fill="#f8f228" d="M34 0h1v1h-1z"/>
</g>
<g transform="translate(355.50,511.00) scale(1.2389,5.3400)" shape-rendering="crispEdges">
<path fill="#c65abe" d="M0 0h2v1h-2zM4 0h4v1h-4zM9 0h1v1h-1zM12 0h1v1h-1zM14 0h3v1h-3zM21 0h5v1h-5zM27 0h1v1h-1zM29 0h2v1h-2zM32 0h4v1h-4zM1 1h1v1h-1zM4 1h3v1h-3zM9 1h5v1h-5zM15 1h2v1h-2zM18 1h1v1h-1zM20 1h4v1h-4zM26 1h10v1h-10zM3 2h2v1h-2zM9 2h2v1h-2zM13 2h4v1h-4zM21 2h3v1h-3zM25 2h3v1h-3zM29 2h1v1h-1zM31 2h5v1h-5zM0 3h5v1h-5zM8 3h3v1h-3zM12 3h2v1h-2zM15 3h3v1h-3zM20 3h4v1h-4zM25 3h3v1h-3zM29 3h2v1h-2zM32 3h4v1h-4zM1 4h2v1h-2zM4 4h1v1h-1zM8 4h3v1h-3zM12 4h3v1h-3zM16 4h1v1h-1zM18 4h2v1h-2zM22 4h2v1h-2zM26 4h2v1h-2zM29 4h3v1h-3zM33 4h2v1h-2z"/>
<path fill="#a642a5" d="M2 0h2v1h-2zM8 0h1v1h-1zM10 0h2v1h-2zM13 0h1v1h-1zM17 0h4v1h-4zM26 0h1v1h-1zM28 0h1v1h-1zM31 0h1v1h-1zM0 1h1v1h-1zM2 1h2v1h-2zM7 1h2v1h-2zM14 1h1v1h-1zM17 1h1v1h-1zM19 1h1v1h-1zM24 1h2v1h-2zM0 2h3v1h-3zM5 2h4v1h-4zM11 2h2v1h-2zM17 2h4v1h-4zM24 2h1v1h-1zM28 2h1v1h-1zM30 2h1v1h-1zM5 3h3v1h-3zM11 3h1v1h-1zM14 3h1v1h-1zM18 3h2v1h-2zM24 3h1v1h-1zM28 3h1v1h-1zM31 3h1v1h-1zM0 4h1v1h-1zM3 4h1v1h-1zM5 4h3v1h-3zM11 4h1v1h-1zM15 4h1v1h-1zM17 4h1v1h-1zM20 4h2v1h-2zM24 4h2v1h-2zM28 4h1v1h-1zM32 4h1v1h-1zM35 4h1v1h-1z"/>
</g>
<g transform="translate(400.10,511.00) scale(1.2629,5.3400)" shape-rendering="crispEdges">
<path fill="#c65abe" d="M10 0h1v1h-1zM0 3h6v1h-6zM8 3h4v1h-4zM13 3h6v1h-6zM20 3h2v1h-2zM24 3h1v1h-1zM27 3h4v1h-4zM0 4h4v1h-4zM7 4h1v1h-1zM9 4h3v1h-3zM14 4h4v1h-4zM19 4h1v1h-1zM21 4h1v1h-1zM24 4h2v1h-2zM27 4h3v1h-3zM32 4h2v1h-2z"/>
<path fill="#a642a5" d="M2 0h1v1h-1zM4 0h1v1h-1zM8 0h2v1h-2zM12 0h1v1h-1zM16 0h1v1h-1zM19 0h1v1h-1zM25 0h1v1h-1zM27 0h1v1h-1zM31 0h2v1h-2zM8 1h1v1h-1zM10 1h1v1h-1zM15 1h1v1h-1zM22 1h1v1h-1zM24 1h2v1h-2zM1 2h1v1h-1zM3 2h1v1h-1zM18 2h1v1h-1zM21 2h1v1h-1zM24 2h1v1h-1zM28 2h2v1h-2zM32 2h1v1h-1zM6 3h2v1h-2zM12 3h1v1h-1zM19 3h1v1h-1zM22 3h2v1h-2zM25 3h2v1h-2zM31 3h4v1h-4zM4 4h3v1h-3zM8 4h1v1h-1zM12 4h2v1h-2zM18 4h1v1h-1zM20 4h1v1h-1zM22 4h2v1h-2zM26 4h1v1h-1zM30 4h2v1h-2zM34 4h1v1h-1z"/>
<path fill="#862a8b" d="M5 0h3v1h-3zM13 0h2v1h-2zM17 0h1v1h-1zM20 0h5v1h-5zM28 0h3v1h-3zM33 0h2v1h-2zM0 1h2v1h-2zM3 1h2v1h-2zM7 1h1v1h-1zM11 1h3v1h-3zM16 1h4v1h-4zM26 1h3v1h-3zM30 1h1v1h-1zM33 1h1v1h-1zM0 2h1v1h-1zM4 2h2v1h-2zM7 2h4v1h-4zM12 2h2v1h-2zM16 2h1v1h-1zM20 2h1v1h-1zM25 2h3v1h-3zM30 2h1v1h-1z"/>
<path fill="#6c1e73" d="M0 0h2v1h-2zM26 0h1v1h-1zM2 1h1v1h-1zM5 1h2v1h-2zM20 1h1v1h-1zM23 1h1v1h-1zM29 1h1v1h-1zM32 1h1v1h-1zM34 1h1v1h-1zM2 2h1v1h-1zM6 2h1v1h-1zM11 2h1v1h-1zM14 2h2v1h-2zM17 2h1v1h-1zM19 2h1v1h-1zM22 2h2v1h-2zM31 2h1v1h-1zM33 2h1v1h-1z"/>
<path fill="#501457" d="M3 0h1v1h-1zM15 0h1v1h-1zM9 1h1v1h-1z"/>
<path fill="#7b761e" d="M11 0h1v1h-1zM21 1h1v1h-1z"/>
<path fill="#aea923" d="M31 1h1v1h-1z"/>
<path fill="#d8d121" d="M18 0h1v1h-1zM14 1h1v1h-1z"/>
<path fill="#f8f228" d="M34 2h1v1h-1z"/>
</g>
<g transform="translate(444.30,511.00) scale(1.2417,5.3400)" shape-rendering="crispEdges">
<path fill="#c65abe" d="M1 0h8v1h-8zM10 0h4v1h-4zM15 0h1v1h-1zM17 0h1v1h-1zM19 0h1v1h-1zM21 0h2v1h-2zM24 0h3v1h-3zM28 0h3v1h-3zM32 0h1v1h-1zM34 0h2v1h-2zM0 1h4v1h-4zM5 1h6v1h-6zM12 1h2v1h-2zM15 1h1v1h-1zM17 1h1v1h-1zM19 1h1v1h-1zM22 1h3v1h-3zM26 1h5v1h-5zM33 1h3v1h-3zM0 2h3v1h-3zM5 2h9v1h-9zM15 2h3v1h-3zM19 2h1v1h-1zM21 2h1v1h-1zM23 2h4v1h-4zM28 2h3v1h-3zM33 2h3v1h-3zM1 3h2v1h-2zM4 3h8v1h-8zM13 3h3v1h-3zM17 3h1v1h-1zM19 3h1v1h-1zM24 3h5v1h-5zM30 3h1v1h-1zM32 3h3v1h-3zM0 4h5v1h-5zM7 4h1v1h-1zM9 4h7v1h-7zM17 4h2v1h-2zM21 4h1v1h-1zM24 4h1v1h-1zM26 4h5v1h-5zM33 4h1v1h-1zM35 4h1v1h-1z"/>
<path fill="#a642a5" d="M0 0h1v1h-1zM9 0h1v1h-1zM14 0h1v1h-1zM16 0h1v1h-1zM18 0h1v1h-1zM20 0h1v1h-1zM23 0h1v1h-1zM27 0h1v1h-1zM31 0h1v1h-1zM33 0h1v1h-1zM4 1h1v1h-1zM11 1h1v1h-1zM14 1h1v1h-1zM16 1h1v1h-1zM18 1h1v1h-1zM20 1h2v1h-2zM25 1h1v1h-1zM31 1h2v1h-2zM3 2h2v1h-2zM14 2h1v1h-1zM18 2h1v1h-1zM20 2h1v1h-1zM22 2h1v1h-1zM27 2h1v1h-1zM31 2h2v1h-2zM0 3h1v1h-1zM3 3h1v1h-1zM12 3h1v1h-1zM16 3h1v1h-1zM18 3h1v1h-1zM20 3h4v1h-4zM29 3h1v1h-1zM31 3h1v1h-1zM35 3h1v1h-1zM5 4h2v1h-2zM8 4h1v1h-1zM19 4h2v1h-2zM22 4h2v1h-2zM25 4h1v1h-1zM31 4h1v1h-1zM34 4h1v1h-1z"/>
<path fill="#494318" d="M32 4h1v1h-1z"/>
<path fill="#d8d121" d="M16 4h1v1h-1z"/>
</g>
<g transform="translate(489.00,511.00) scale(1.2472,5.3400)" shape-rendering="crispEdges">
<path fill="#c65abe" d="M1 0h5v1h-5zM7 0h1v1h-1zM10 0h1v1h-1zM12 0h3v1h-3zM16 0h5v1h-5zM23 0h4v1h-4zM28 0h2v1h-2zM31 0h1v1h-1zM33 0h3v1h-3zM0 1h4v1h-4zM7 1h1v1h-1zM10 1h1v1h-1zM13 1h2v1h-2zM16 1h2v1h-2zM19 1h4v1h-4zM24 1h8v1h-8zM33 1h3v1h-3zM0 2h6v1h-6zM7 2h2v1h-2zM10 2h1v1h-1zM13 2h2v1h-2zM16 2h2v1h-2zM19 2h2v1h-2zM22 2h1v1h-1zM24 2h2v1h-2zM28 2h8v1h-8zM0 3h2v1h-2zM3 3h3v1h-3zM7 3h2v1h-2zM10 3h1v1h-1zM13 3h1v1h-1zM16 3h5v1h-5zM24 3h3v1h-3zM28 3h2v1h-2zM31 3h1v1h-1zM33 3h3v1h-3zM1 4h1v1h-1zM3 4h3v1h-3zM7 4h4v1h-4zM13 4h1v1h-1zM16 4h5v1h-5zM23 4h2v1h-2zM26 4h1v1h-1zM28 4h2v1h-2zM31 4h5v1h-5z"/>
<path fill="#a642a5" d="M0 0h1v1h-1zM6 0h1v1h-1zM8 0h2v1h-2zM11 0h1v1h-1zM15 0h1v1h-1zM21 0h2v1h-2zM27 0h1v1h-1zM30 0h1v1h-1zM32 0h1v1h-1zM4 1h3v1h-3zM8 1h2v1h-2zM11 1h2v1h-2zM15 1h1v1h-1zM18 1h1v1h-1zM23 1h1v1h-1zM32 1h1v1h-1zM6 2h1v1h-1zM9 2h1v1h-1zM11 2h2v1h-2zM15 2h1v1h-1zM18 2h1v1h-1zM21 2h1v1h-1zM23 2h1v1h-1zM26 2h2v1h-2zM2 3h1v1h-1zM6 3h1v1h-1zM9 3h1v1h-1zM11 3h2v1h-2zM14 3h2v1h-2zM21 3h3v1h-3zM27 3h1v1h-1zM30 3h1v1h-1zM32 3h1v1h-1zM0 4h1v1h-1zM2 4h1v1h-1zM6 4h1v1h-1zM11 4h2v1h-2zM15 4h1v1h-1zM21 4h2v1h-2zM27 4h1v1h-1zM30 4h1v1h-1z"/>
<path fill="#494318" d="M14 4h1v1h-1z"/>
<path fill="#d8d121" d="M25 4h1v1h-1z"/>
</g>
<g transform="translate(533.90,511.00) scale(1.2657,5.3400)" shape-rendering="crispEdges">
<path fill="#6c1e73" d="M10 4h1v1h-1z"/>
<path fill="#501457" d="M6 3h1v1h-1zM0 4h1v1h-1zM17 4h1v1h-1zM30 4h1v1h-1z"/>
<path fill="#330b37" d="M17 1h1v1h-1zM33 1h1v1h-1zM9 4h1v1h-1zM18 4h1v1h-1zM21 4h1v1h-1z"/>
<path fill="#1d071e" d="M17 0h1v1h-1zM4 3h1v1h-1zM1 4h2v1h-2zM22 4h1v1h-1z"/>
<path fill="#241a14" d="M18 1h1v1h-1zM29 1h1v1h-1zM5 2h1v1h-1zM22 2h1v1h-1zM24 2h1v1h-1zM5 3h1v1h-1zM10 3h1v1h-1zM34 3h1v1h-1zM8 4h1v1h-1z"/>
<path fill="#494318" d="M24 1h1v1h-1zM31 1h1v1h-1zM4 2h1v1h-1zM18 2h1v1h-1zM12 4h1v1h-1zM19 4h1v1h-1zM24 4h1v1h-1zM27 4h1v1h-1z"/>
<path fill="#7b761e" d="M11 1h1v1h-1zM19 2h1v1h-1zM29 2h1v1h-1zM1 3h1v1h-1zM8 3h1v1h-1zM7 4h1v1h-1zM14 4h1v1h-1zM16 4h1v1h-1zM23 4h1v1h-1z"/>
<path fill="#aea923" d="M1 0h1v1h-1zM4 0h1v1h-1zM19 0h1v1h-1zM25 0h1v1h-1zM1 1h1v1h-1zM8 1h1v1h-1zM10 1h1v1h-1zM21 1h1v1h-1zM25 1h1v1h-1zM1 2h1v1h-1zM10 2h2v1h-2zM21 2h1v1h-1zM9 3h1v1h-1zM17 3h1v1h-1zM32 3h1v1h-1zM4 4h1v1h-1zM11 4h1v1h-1zM13 4h1v1h-1zM25 4h1v1h-1zM28 4h2v1h-2zM31 4h2v1h-2z"/>
<path fill="#d8d121" d="M2 0h1v1h-1zM5 0h1v1h-1zM7 0h1v1h-1zM9 0h6v1h-6zM16 0h1v1h-1zM21 0h1v1h-1zM23 0h1v1h-1zM28 0h2v1h-2zM31 0h2v1h-2zM34 0h1v1h-1zM0 1h1v1h-1zM9 1h1v1h-1zM12 1h2v1h-2zM27 1h2v1h-2zM7 2h1v1h-1zM12 2h3v1h-3zM25 2h3v1h-3zM34 2h1v1h-1zM7 3h1v1h-1zM11 3h1v1h-1zM14 3h1v1h-1zM18 3h2v1h-2zM21 3h1v1h-1zM25 3h3v1h-3zM31 3h1v1h-1zM33 3h1v1h-1zM15 4h1v1h-1zM33 4h2v1h-2z"/>
<path fill="#f2eb22" d="M0 0h1v1h-1zM8 0h1v1h-1zM15 0h1v1h-1zM22 0h1v1h-1zM26 0h2v1h-2zM30 0h1v1h-1zM33 0h1v1h-1zM2 1h4v1h-4zM7 1h1v1h-1zM16 1h1v1h-1zM19 1h2v1h-2zM22 1h2v1h-2zM32 1h1v1h-1zM34 1h1v1h-1zM0 2h1v1h-1zM2 2h2v1h-2zM8 2h2v1h-2zM15 2h3v1h-3zM23 2h1v1h-1zM28 2h1v1h-1zM30 2h4v1h-4zM2 3h2v1h-2zM12 3h2v1h-2zM15 3h2v1h-2zM20 3h1v1h-1zM22 3h2v1h-2zM28 3h2v1h-2zM3 4h1v1h-1zM5 4h2v1h-2zM26 4h1v1h-1z"/>
<path fill="#f8f228" d="M3 0h1v1h-1zM6 0h1v1h-1zM18 0h1v1h-1zM20 0h1v1h-1zM24 0h1v1h-1zM6 1h1v1h-1zM14 1h2v1h-2zM26 1h1v1h-1zM30 1h1v1h-1zM6 2h1v1h-1zM20 2h1v1h-1zM0 3h1v1h-1zM24 3h1v1h-1zM30 3h1v1h-1zM20 4h1v1h-1z"/>
</g>
<g transform="translate(578.20,511.00) scale(1.2444,5.3400)" shape-rendering="crispEdges">
<path fill="#c65abe" d="M0 0h1v1h-1zM2 0h1v1h-1zM4 0h2v1h-2zM8 0h11v1h-11zM20 0h6v1h-6zM27 0h5v1h-5zM34 0h2v1h-2zM0 1h1v1h-1zM2 1h1v1h-1zM4 1h8v1h-8zM13 1h5v1h-5zM20 1h3v1h-3zM24 1h2v1h-2zM28 1h1v1h-1zM30 1h2v1h-2zM33 1h3v1h-3zM5 2h1v1h-1zM11 3h1v1h-1zM24 3h1v1h-1zM0 4h2v1h-2zM3 4h2v1h-2zM7 4h2v1h-2zM10 4h8v1h-8zM21 4h2v1h-2zM24 4h1v1h-1zM27 4h5v1h-5zM35 4h1v1h-1z"/>
<path fill="#a642a5" d="M1 0h1v1h-1zM3 0h1v1h-1zM6 0h2v1h-2zM19 0h1v1h-1zM26 0h1v1h-1zM32 0h2v1h-2zM1 1h1v1h-1zM3 1h1v1h-1zM12 1h1v1h-1zM18 1h2v1h-2zM23 1h1v1h-1zM26 1h2v1h-2zM29 1h1v1h-1zM32 1h1v1h-1zM0 2h1v1h-1zM4 2h1v1h-1zM7 2h3v1h-3zM11 2h2v1h-2zM16 2h2v1h-2zM19 2h1v1h-1zM26 2h1v1h-1zM29 2h1v1h-1zM0 3h1v1h-1zM4 3h1v1h-1zM6 3h1v1h-1zM27 3h1v1h-1zM2 4h1v1h-1zM5 4h2v1h-2zM9 4h1v1h-1zM18 4h3v1h-3zM23 4h1v1h-1zM25 4h2v1h-2zM32 4h1v1h-1zM34 4h1v1h-1z"/>
<path fill="#862a8b" d="M1 2h1v1h-1zM3 2h1v1h-1zM10 2h1v1h-1zM13 2h2v1h-2zM18 2h1v1h-1zM21 2h5v1h-5zM27 2h2v1h-2zM31 2h1v1h-1zM34 2h2v1h-2zM1 3h3v1h-3zM5 3h1v1h-1zM7 3h4v1h-4zM13 3h1v1h-1zM16 3h1v1h-1zM19 3h1v1h-1zM22 3h2v1h-2zM26 3h1v1h-1zM29 3h2v1h-2zM32 3h1v1h-1zM35 3h1v1h-1z"/>
<path fill="#6c1e73" d="M2 2h1v1h-1zM20 2h1v1h-1zM30 2h1v1h-1zM32 2h1v1h-1zM12 3h1v1h-1zM15 3h1v1h-1zM17 3h2v1h-2zM20 3h1v1h-1zM25 3h1v1h-1zM28 3h1v1h-1zM31 3h1v1h-1zM33 3h2v1h-2z"/>
<path fill="#501457" d="M6 2h1v1h-1zM15 2h1v1h-1zM21 3h1v1h-1z"/>
<path fill="#d8d121" d="M33 2h1v1h-1z"/>
<path fill="#f2eb22" d="M14 3h1v1h-1zM33 4h1v1h-1z"/>
</g>
<g transform="translate(623.00,511.00) scale(1.2472,5.3400)" shape-rendering="crispEdges">
<path fill="#c65abe" d="M0 0h2v1h-2zM4 0h2v1h-2zM7 0h3v1h-3zM11 0h2v1h-2zM14 0h1v1h-1zM16 0h1v1h-1zM19 0h1v1h-1zM21 0h2v1h-2zM24 0h2v1h-2zM28 0h1v1h-1zM31 0h5v1h-5zM0 1h3v1h-3zM4 1h2v1h-2zM7 1h2v1h-2zM10 1h3v1h-3zM14 1h1v1h-1zM16 1h1v1h-1zM18 1h6v1h-6zM25 1h1v1h-1zM27 1h1v1h-1zM29 1h1v1h-1zM32 1h1v1h-1zM34 1h2v1h-2zM0 2h2v1h-2zM4 2h6v1h-6zM11 2h2v1h-2zM14 2h3v1h-3zM18 2h5v1h-5zM24 2h2v1h-2zM27 2h4v1h-4zM32 2h4v1h-4zM0 3h1v1h-1zM3 3h1v1h-1zM5 3h8v1h-8zM14 3h2v1h-2zM17 3h9v1h-9zM27 3h4v1h-4zM32 3h4v1h-4zM0 4h2v1h-2zM3 4h1v1h-1zM5 4h2v1h-2zM8 4h2v1h-2zM11 4h2v1h-2zM14 4h3v1h-3zM18 4h6v1h-6zM25 4h5v1h-5zM33 4h3v1h-3z"/>
<path fill="#a642a5" d="M2 0h2v1h-2zM6 0h1v1h-1zM10 0h1v1h-1zM13 0h1v1h-1zM15 0h1v1h-1zM17 0h2v1h-2zM26 0h2v1h-2zM30 0h1v1h-1zM6 1h1v1h-1zM9 1h1v1h-1zM15 1h1v1h-1zM17 1h1v1h-1zM24 1h1v1h-1zM26 1h1v1h-1zM28 1h1v1h-1zM30 1h2v1h-2zM33 1h1v1h-1zM2 2h2v1h-2zM10 2h1v1h-1zM13 2h1v1h-1zM17 2h1v1h-1zM23 2h1v1h-1zM26 2h1v1h-1zM31 2h1v1h-1zM2 3h1v1h-1zM4 3h1v1h-1zM13 3h1v1h-1zM16 3h1v1h-1zM26 3h1v1h-1zM31 3h1v1h-1zM2 4h1v1h-1zM4 4h1v1h-1zM7 4h1v1h-1zM10 4h1v1h-1zM13 4h1v1h-1zM17 4h1v1h-1zM24 4h1v1h-1zM31 4h2v1h-2z"/>
<path fill="#862a8b" d="M30 4h1v1h-1z"/>
<path fill="#241a14" d="M20 0h1v1h-1z"/>
<path fill="#7b761e" d="M29 0h1v1h-1zM1 3h1v1h-1z"/>
<path fill="#f2eb22" d="M23 0h1v1h-1zM3 1h1v1h-1z"/>
<path fill="#f8f228" d="M13 1h1v1h-1z"/>
</g>
<g transform="translate(355.50,538.70) scale(1.2389,5.5000)" shape-rendering="crispEdges">
<path fill="#c65abe" d="M30 3h1v1h-1z"/>
<path fill="#a642a5" d="M8 2h1v1h-1zM12 4h1v1h-1z"/>
<path fill="#862a8b" d="M9 2h1v1h-1zM27 2h1v1h-1zM32 2h1v1h-1zM1 3h1v1h-1zM7 3h1v1h-1zM32 3h1v1h-1zM35 3h1v1h-1zM4 4h5v1h-5zM10 4h2v1h-2zM16 4h1v1h-1zM19 4h1v1h-1zM30 4h1v1h-1z"/>
<path fill="#6c1e73" d="M2 1h1v1h-1zM4 1h1v1h-1zM19 1h2v1h-2zM22 1h2v1h-2zM6 2h1v1h-1zM15 2h1v1h-1zM5 3h1v1h-1zM13 3h1v1h-1zM18 3h1v1h-1zM23 3h1v1h-1zM27 3h1v1h-1zM31 3h1v1h-1zM0 4h1v1h-1zM2 4h2v1h-2zM14 4h1v1h-1zM20 4h1v1h-1zM22 4h1v1h-1zM27 4h1v1h-1zM31 4h3v1h-3zM35 4h1v1h-1z"/>
<path fill="#501457" d="M26 0h1v1h-1zM30 0h1v1h-1zM33 0h2v1h-2zM0 1h2v1h-2zM3 1h1v1h-1zM5 1h5v1h-5zM12 1h4v1h-4zM17 1h2v1h-2zM26 1h1v1h-1zM29 1h2v1h-2zM33 1h3v1h-3zM0 2h5v1h-5zM7 2h1v1h-1zM20 2h2v1h-2zM28 2h1v1h-1zM6 3h1v1h-1zM11 3h2v1h-2zM19 3h2v1h-2zM24 3h1v1h-1zM26 3h1v1h-1zM1 4h1v1h-1zM9 4h1v1h-1zM13 4h1v1h-1zM17 4h2v1h-2zM21 4h1v1h-1zM23 4h2v1h-2zM26 4h1v1h-1zM28 4h2v1h-2zM34 4h1v1h-1z"/>
<path fill="#330b37" d="M3 0h1v1h-1zM6 0h3v1h-3zM11 0h2v1h-2zM14 0h3v1h-3zM19 0h1v1h-1zM23 0h1v1h-1zM25 0h1v1h-1zM29 0h1v1h-1zM32 0h1v1h-1zM35 0h1v1h-1zM10 1h2v1h-2zM16 1h1v1h-1zM21 1h1v1h-1zM24 1h2v1h-2zM28 1h1v1h-1zM32 1h1v1h-1zM10 2h1v1h-1zM12 2h3v1h-3zM18 2h1v1h-1zM24 2h1v1h-1zM26 2h1v1h-1zM29 2h1v1h-1zM31 2h1v1h-1zM33 2h1v1h-1zM3 3h1v1h-1zM9 3h1v1h-1zM15 3h1v1h-1zM17 3h1v1h-1zM21 3h2v1h-2zM33 3h2v1h-2zM25 4h1v1h-1z"/>
<path fill="#1d071e" d="M0 0h1v1h-1zM2 0h1v1h-1zM4 0h2v1h-2zM9 0h2v1h-2zM13 0h1v1h-1zM17 0h1v1h-1zM22 0h1v1h-1zM24 0h1v1h-1zM28 0h1v1h-1zM31 0h1v1h-1zM27 1h1v1h-1zM16 2h2v1h-2zM22 2h1v1h-1zM4 3h1v1h-1zM8 3h1v1h-1zM10 3h1v1h-1zM14 3h1v1h-1zM29 3h1v1h-1z"/>
<path fill="#241a14" d="M18 0h1v1h-1zM20 0h1v1h-1zM27 0h1v1h-1zM31 1h1v1h-1zM11 2h1v1h-1zM25 2h1v1h-1zM0 3h1v1h-1zM2 3h1v1h-1z"/>
<path fill="#494318" d="M1 0h1v1h-1zM19 2h1v1h-1zM34 2h1v1h-1z"/>
<path fill="#7b761e" d="M23 2h1v1h-1z"/>
<path fill="#aea923" d="M5 2h1v1h-1zM30 2h1v1h-1zM35 2h1v1h-1zM16 3h1v1h-1zM25 3h1v1h-1z"/>
<path fill="#d8d121" d="M21 0h1v1h-1z"/>
<path fill="#f2eb22" d="M15 4h1v1h-1z"/>
<path fill="#f8f228" d="M28 3h1v1h-1z"/>
</g>
<g transform="translate(400.10,538.70) scale(1.2629,5.5000)" shape-rendering="crispEdges">
<path fill="#c65abe" d="M23 0h1v1h-1zM27 0h1v1h-1z"/>
<path fill="#a642a5" d="M2 0h1v1h-1zM9 0h1v1h-1zM15 0h1v1h-1zM17 0h1v1h-1zM22 0h1v1h-1zM26 0h1v1h-1zM28 0h1v1h-1zM30 0h2v1h-2zM33 0h1v1h-1zM3 1h1v1h-1zM8 1h1v1h-1zM10 1h1v1h-1zM14 1h1v1h-1zM17 1h2v1h-2zM21 1h1v1h-1zM27 1h1v1h-1zM15 2h1v1h-1zM15 4h1v1h-1zM17 4h1v1h-1z"/>
<path fill="#862a8b" d="M0 0h2v1h-2zM3 0h1v1h-1zM8 0h1v1h-1zM11 0h2v1h-2zM16 0h1v1h-1zM18 0h2v1h-2zM21 0h1v1h-1zM25 0h1v1h-1zM32 0h1v1h-1zM34 0h1v1h-1zM0 1h3v1h-3zM4 1h4v1h-4zM9 1h1v1h-1zM11 1h3v1h-3zM15 1h2v1h-2zM19 1h2v1h-2zM22 1h3v1h-3zM26 1h1v1h-1zM29 1h3v1h-3zM33 1h2v1h-2zM9 2h1v1h-1zM21 3h1v1h-1zM1 4h2v1h-2zM7 4h1v1h-1zM10 4h1v1h-1zM12 4h1v1h-1zM18 4h1v1h-1zM22 4h2v1h-2zM30 4h2v1h-2zM33 4h1v1h-1z"/>
<path fill="#6c1e73" d="M4 0h4v1h-4zM10 0h1v1h-1zM14 0h1v1h-1zM20 0h1v1h-1zM24 0h1v1h-1zM25 1h1v1h-1zM28 1h1v1h-1zM32 1h1v1h-1zM0 2h2v1h-2zM3 2h1v1h-1zM12 2h1v1h-1zM17 2h1v1h-1zM19 2h2v1h-2zM27 2h1v1h-1zM7 3h1v1h-1zM13 3h1v1h-1zM16 3h1v1h-1zM18 3h1v1h-1zM23 3h1v1h-1zM26 3h1v1h-1zM28 3h1v1h-1zM30 3h1v1h-1zM34 3h1v1h-1zM0 4h1v1h-1zM3 4h1v1h-1zM6 4h1v1h-1zM8 4h1v1h-1zM11 4h1v1h-1zM13 4h1v1h-1zM20 4h2v1h-2zM24 4h3v1h-3zM34 4h1v1h-1z"/>
<path fill="#501457" d="M29 0h1v1h-1zM4 2h1v1h-1zM6 2h1v1h-1zM8 2h1v1h-1zM11 2h1v1h-1zM13 2h1v1h-1zM25 2h1v1h-1zM29 2h5v1h-5zM0 3h1v1h-1zM2 3h1v1h-1zM5 3h1v1h-1zM15 3h1v1h-1zM22 3h1v1h-1zM32 3h1v1h-1zM4 4h2v1h-2zM9 4h1v1h-1zM14 4h1v1h-1zM19 4h1v1h-1zM27 4h3v1h-3z"/>
<path fill="#330b37" d="M21 2h2v1h-2zM28 2h1v1h-1zM34 2h1v1h-1zM4 3h1v1h-1zM6 3h1v1h-1zM11 3h1v1h-1zM19 3h1v1h-1zM24 3h2v1h-2zM27 3h1v1h-1zM29 3h1v1h-1zM31 3h1v1h-1zM32 4h1v1h-1z"/>
<path fill="#1d071e" d="M5 2h1v1h-1zM16 2h1v1h-1zM23 2h2v1h-2zM8 3h2v1h-2zM12 3h1v1h-1zM14 3h1v1h-1z"/>
<path fill="#494318" d="M14 2h1v1h-1zM20 3h1v1h-1z"/>
<path fill="#7b761e" d="M7 2h1v1h-1z"/>
<path fill="#aea923" d="M13 0h1v1h-1zM2 2h1v1h-1zM10 2h1v1h-1zM17 3h1v1h-1z"/>
<path fill="#d8d121" d="M26 2h1v1h-1zM1 3h1v1h-1zM33 3h1v1h-1zM16 4h1v1h-1z"/>
<path fill="#f2eb22" d="M3 3h1v1h-1zM10 3h1v1h-1z"/>
<path fill="#f8f228" d="M18 2h1v1h-1z"/>
</g>
<g transform="translate(444.30,538.70) scale(1.2417,5.5000)" shape-rendering="crispEdges">
<path fill="#a642a5" d="M8 2h1v1h-1zM13 2h1v1h-1zM5 4h1v1h-1z"/>
<path fill="#862a8b" d="M14 0h1v1h-1zM14 2h1v1h-1zM32 2h1v1h-1zM18 3h1v1h-1zM15 4h1v1h-1z"/>
<path fill="#6c1e73" d="M10 0h1v1h-1zM16 0h1v1h-1zM22 0h1v1h-1zM30 0h1v1h-1zM9 2h1v1h-1zM20 2h1v1h-1zM25 2h2v1h-2zM1 3h1v1h-1zM5 3h1v1h-1zM13 4h1v1h-1zM17 4h1v1h-1zM20 4h1v1h-1zM27 4h1v1h-1zM29 4h1v1h-1zM31 4h2v1h-2z"/>
<path fill="#501457" d="M0 0h6v1h-6zM7 0h1v1h-1zM9 0h1v1h-1zM13 0h1v1h-1zM15 0h1v1h-1zM18 0h2v1h-2zM21 0h1v1h-1zM25 0h2v1h-2zM28 0h1v1h-1zM32 0h1v1h-1zM2 1h1v1h-1zM12 1h2v1h-2zM16 1h1v1h-1zM22 1h1v1h-1zM26 1h1v1h-1zM32 1h1v1h-1zM5 2h1v1h-1zM10 2h2v1h-2zM16 2h1v1h-1zM21 2h2v1h-2zM35 2h1v1h-1zM2 3h1v1h-1zM7 3h1v1h-1zM19 3h2v1h-2zM27 3h1v1h-1zM35 3h1v1h-1zM0 4h2v1h-2zM9 4h1v1h-1zM14 4h1v1h-1zM18 4h1v1h-1zM26 4h1v1h-1zM28 4h1v1h-1z"/>
<path fill="#330b37" d="M6 0h1v1h-1zM8 0h1v1h-1zM11 0h2v1h-2zM17 0h1v1h-1zM20 0h1v1h-1zM23 0h2v1h-2zM29 0h1v1h-1zM31 0h1v1h-1zM33 0h3v1h-3zM5 1h1v1h-1zM15 1h1v1h-1zM19 1h1v1h-1zM29 1h1v1h-1zM7 2h1v1h-1zM15 2h1v1h-1zM18 2h1v1h-1zM23 2h2v1h-2zM28 2h1v1h-1zM31 2h1v1h-1zM33 2h1v1h-1zM6 3h1v1h-1zM8 3h1v1h-1zM12 3h1v1h-1zM15 3h2v1h-2zM24 3h2v1h-2zM28 3h1v1h-1zM30 3h1v1h-1zM3 4h1v1h-1zM7 4h2v1h-2zM11 4h2v1h-2zM22 4h3v1h-3zM34 4h2v1h-2z"/>
<path fill="#1d071e" d="M1 1h1v1h-1zM3 1h2v1h-2zM6 1h2v1h-2zM9 1h3v1h-3zM14 1h1v1h-1zM17 1h2v1h-2zM20 1h1v1h-1zM23 1h3v1h-3zM30 1h2v1h-2zM33 1h3v1h-3zM1 2h2v1h-2zM6 2h1v1h-1zM12 2h1v1h-1zM17 2h1v1h-1zM9 3h1v1h-1zM10 4h1v1h-1zM25 4h1v1h-1z"/>
<path fill="#241a14" d="M8 1h1v1h-1zM21 1h1v1h-1zM0 2h1v1h-1zM27 2h1v1h-1zM34 2h1v1h-1zM0 3h1v1h-1zM13 3h1v1h-1zM17 3h1v1h-1zM22 3h1v1h-1zM2 4h1v1h-1z"/>
<path fill="#494318" d="M4 3h1v1h-1zM10 3h1v1h-1z"/>
<path fill="#7b761e" d="M27 0h1v1h-1zM27 1h1v1h-1zM4 2h1v1h-1zM14 3h1v1h-1zM29 3h1v1h-1zM31 3h1v1h-1zM4 4h1v1h-1z"/>
<path fill="#aea923" d="M0 1h1v1h-1zM28 1h1v1h-1zM30 2h1v1h-1zM3 3h1v1h-1zM21 3h1v1h-1zM26 3h1v1h-1zM6 4h1v1h-1zM21 4h1v1h-1z"/>
<path fill="#d8d121" d="M19 2h1v1h-1zM29 2h1v1h-1zM23 3h1v1h-1zM32 3h3v1h-3zM16 4h1v1h-1zM30 4h1v1h-1z"/>
<path fill="#f2eb22" d="M11 3h1v1h-1zM33 4h1v1h-1z"/>
<path fill="#f8f228" d="M3 2h1v1h-1zM19 4h1v1h-1z"/>
</g>
<g transform="translate(489.00,538.70) scale(1.2472,5.5000)" shape-rendering="crispEdges">
<path fill="#a642a5" d="M31 2h1v1h-1z"/>
<path fill="#862a8b" d="M23 0h1v1h-1zM24 1h1v1h-1zM12 2h1v1h-1zM25 2h1v1h-1zM34 2h1v1h-1zM25 3h1v1h-1zM30 3h1v1h-1zM3 4h3v1h-3zM16 4h1v1h-1zM19 4h1v1h-1zM26 4h1v1h-1zM35 4h1v1h-1z"/>
<path fill="#6c1e73" d="M6 0h2v1h-2zM12 0h1v1h-1zM15 1h1v1h-1zM21 1h1v1h-1zM26 1h1v1h-1zM34 1h1v1h-1zM6 2h1v1h-1zM13 2h1v1h-1zM17 2h1v1h-1zM33 2h1v1h-1zM14 3h1v1h-1zM20 3h1v1h-1zM24 3h1v1h-1zM26 3h1v1h-1zM28 3h1v1h-1zM0 4h1v1h-1zM2 4h1v1h-1zM6 4h1v1h-1zM8 4h1v1h-1zM11 4h1v1h-1zM13 4h1v1h-1zM15 4h1v1h-1zM17 4h2v1h-2zM21 4h2v1h-2zM25 4h1v1h-1zM30 4h1v1h-1zM33 4h1v1h-1z"/>
<path fill="#501457" d="M2 0h1v1h-1zM5 0h1v1h-1zM8 0h1v1h-1zM11 0h1v1h-1zM14 0h1v1h-1zM16 0h1v1h-1zM18 0h4v1h-4zM24 0h1v1h-1zM26 0h1v1h-1zM33 0h1v1h-1zM35 0h1v1h-1zM1 1h2v1h-2zM4 1h2v1h-2zM7 1h2v1h-2zM13 1h1v1h-1zM17 1h2v1h-2zM20 1h1v1h-1zM22 1h2v1h-2zM32 1h2v1h-2zM3 2h1v1h-1zM5 2h1v1h-1zM7 2h1v1h-1zM10 2h1v1h-1zM16 2h1v1h-1zM20 2h1v1h-1zM22 2h2v1h-2zM32 2h1v1h-1zM35 2h1v1h-1zM4 3h2v1h-2zM7 3h2v1h-2zM12 3h1v1h-1zM15 3h5v1h-5zM22 3h1v1h-1zM29 3h1v1h-1zM32 3h1v1h-1zM35 3h1v1h-1zM7 4h1v1h-1zM9 4h1v1h-1zM12 4h1v1h-1zM14 4h1v1h-1zM20 4h1v1h-1zM23 4h2v1h-2zM28 4h2v1h-2zM31 4h2v1h-2zM34 4h1v1h-1z"/>
<path fill="#330b37" d="M0 0h2v1h-2zM3 0h2v1h-2zM9 0h1v1h-1zM13 0h1v1h-1zM15 0h1v1h-1zM17 0h1v1h-1zM22 0h1v1h-1zM28 0h5v1h-5zM0 1h1v1h-1zM3 1h1v1h-1zM6 1h1v1h-1zM10 1h3v1h-3zM14 1h1v1h-1zM16 1h1v1h-1zM25 1h1v1h-1zM29 1h2v1h-2zM35 1h1v1h-1zM1 2h1v1h-1zM11 2h1v1h-1zM19 2h1v1h-1zM21 2h1v1h-1zM26 2h1v1h-1zM28 2h1v1h-1zM30 2h1v1h-1zM0 3h1v1h-1zM3 3h1v1h-1zM6 3h1v1h-1zM9 3h3v1h-3zM21 3h1v1h-1zM31 3h1v1h-1zM33 3h2v1h-2z"/>
<path fill="#1d071e" d="M27 0h1v1h-1zM9 1h1v1h-1zM19 1h1v1h-1zM28 1h1v1h-1zM31 1h1v1h-1zM2 2h1v1h-1zM8 2h1v1h-1zM27 2h1v1h-1zM1 3h2v1h-2z"/>
<path fill="#494318" d="M9 2h1v1h-1z"/>
<path fill="#7b761e" d="M27 1h1v1h-1zM4 2h1v1h-1zM14 2h1v1h-1zM18 2h1v1h-1z"/>
<path fill="#aea923" d="M25 0h1v1h-1zM34 0h1v1h-1zM0 2h1v1h-1zM24 2h1v1h-1zM23 3h1v1h-1zM27 3h1v1h-1zM1 4h1v1h-1z"/>
<path fill="#d8d121" d="M10 0h1v1h-1zM15 2h1v1h-1zM10 4h1v1h-1zM27 4h1v1h-1z"/>
<path fill="#f2eb22" d="M29 2h1v1h-1zM13 3h1v1h-1z"/>
</g>
<g transform="translate(533.90,538.70) scale(1.2657,5.5000)" shape-rendering="crispEdges">
<path fill="#c65abe" d="M14 1h1v1h-1z"/>
<path fill="#a642a5" d="M15 1h1v1h-1zM20 2h1v1h-1zM24 4h1v1h-1zM29 4h1v1h-1z"/>
<path fill="#862a8b" d="M1 0h1v1h-1zM8 0h1v1h-1zM22 0h1v1h-1zM31 0h1v1h-1zM12 1h1v1h-1zM21 1h1v1h-1zM24 1h1v1h-1zM27 1h1v1h-1zM34 1h1v1h-1zM11 2h1v1h-1zM29 2h1v1h-1zM34 2h1v1h-1zM9 4h1v1h-1zM16 4h1v1h-1zM25 4h1v1h-1zM34 4h1v1h-1z"/>
<path fill="#6c1e73" d="M13 0h1v1h-1zM16 0h1v1h-1zM23 0h2v1h-2zM29 0h2v1h-2zM4 1h1v1h-1zM6 1h2v1h-2zM16 1h1v1h-1zM20 1h1v1h-1zM23 1h1v1h-1zM28 1h1v1h-1zM31 1h1v1h-1zM4 2h1v1h-1zM13 2h2v1h-2zM19 2h1v1h-1zM22 2h1v1h-1zM24 2h1v1h-1zM26 2h2v1h-2zM31 2h1v1h-1zM6 3h1v1h-1zM9 3h1v1h-1zM23 3h1v1h-1zM28 3h1v1h-1zM30 3h1v1h-1zM4 4h1v1h-1zM12 4h2v1h-2zM20 4h1v1h-1zM23 4h1v1h-1zM32 4h1v1h-1z"/>
<path fill="#501457" d="M3 0h1v1h-1zM6 0h2v1h-2zM9 0h2v1h-2zM14 0h1v1h-1zM18 0h2v1h-2zM25 0h1v1h-1zM28 0h1v1h-1zM3 1h1v1h-1zM10 1h1v1h-1zM17 1h3v1h-3zM22 1h1v1h-1zM29 1h2v1h-2zM1 2h1v1h-1zM6 2h3v1h-3zM15 2h1v1h-1zM17 2h1v1h-1zM23 2h1v1h-1zM25 2h1v1h-1zM30 2h1v1h-1zM33 2h1v1h-1zM0 3h1v1h-1zM5 3h1v1h-1zM10 3h2v1h-2zM16 3h1v1h-1zM21 3h1v1h-1zM25 3h1v1h-1zM33 3h1v1h-1zM0 4h1v1h-1zM2 4h1v1h-1zM6 4h2v1h-2zM14 4h1v1h-1zM18 4h2v1h-2zM27 4h2v1h-2z"/>
<path fill="#330b37" d="M0 0h1v1h-1zM2 0h1v1h-1zM4 0h2v1h-2zM12 0h1v1h-1zM15 0h1v1h-1zM17 0h1v1h-1zM20 0h2v1h-2zM2 1h1v1h-1zM5 1h1v1h-1zM8 1h1v1h-1zM13 1h1v1h-1zM2 2h1v1h-1zM9 2h2v1h-2zM16 2h1v1h-1zM18 2h1v1h-1zM21 2h1v1h-1zM1 3h1v1h-1zM4 3h1v1h-1zM12 3h1v1h-1zM17 3h2v1h-2zM20 3h1v1h-1zM26 3h2v1h-2zM34 3h1v1h-1zM1 4h1v1h-1zM3 4h1v1h-1zM5 4h1v1h-1zM8 4h1v1h-1zM10 4h1v1h-1zM22 4h1v1h-1zM30 4h1v1h-1zM33 4h1v1h-1z"/>
<path fill="#1d071e" d="M32 0h1v1h-1zM0 1h1v1h-1zM9 1h1v1h-1zM26 1h1v1h-1zM32 1h2v1h-2zM2 3h2v1h-2zM22 3h1v1h-1zM31 3h1v1h-1zM31 4h1v1h-1z"/>
<path fill="#241a14" d="M21 4h1v1h-1z"/>
<path fill="#494318" d="M11 0h1v1h-1zM0 2h1v1h-1z"/>
<path fill="#7b761e" d="M29 3h1v1h-1z"/>
<path fill="#aea923" d="M26 0h1v1h-1zM11 1h1v1h-1zM25 1h1v1h-1zM3 2h1v1h-1zM12 2h1v1h-1zM28 2h1v1h-1zM7 3h1v1h-1zM32 3h1v1h-1zM11 4h1v1h-1zM15 4h1v1h-1zM17 4h1v1h-1zM26 4h1v1h-1z"/>
<path fill="#d8d121" d="M27 0h1v1h-1zM34 0h1v1h-1zM1 1h1v1h-1zM5 2h1v1h-1zM32 2h1v1h-1zM8 3h1v1h-1zM13 3h3v1h-3zM19 3h1v1h-1z"/>
<path fill="#f2eb22" d="M33 0h1v1h-1zM24 3h1v1h-1z"/>
</g>
<g transform="translate(578.20,538.70) scale(1.2444,5.5000)" shape-rendering="crispEdges">
<path fill="#6c1e73" d="M3 0h1v1h-1zM14 0h1v1h-1z"/>
<path fill="#501457" d="M1 0h1v1h-1zM4 0h1v1h-1zM6 0h1v1h-1zM18 0h1v1h-1zM21 0h1v1h-1zM24 0h1v1h-1zM30 0h2v1h-2zM34 0h1v1h-1z"/>
<path fill="#330b37" d="M7 0h1v1h-1zM9 0h2v1h-2zM12 0h1v1h-1zM15 0h1v1h-1zM19 0h1v1h-1zM22 0h1v1h-1zM35 0h1v1h-1zM26 1h1v1h-1zM20 3h1v1h-1z"/>
<path fill="#1d071e" d="M5 0h1v1h-1zM13 0h1v1h-1zM17 0h1v1h-1zM20 0h1v1h-1zM23 0h1v1h-1zM27 0h1v1h-1zM18 2h1v1h-1zM22 2h1v1h-1zM18 3h1v1h-1zM27 3h1v1h-1zM16 4h1v1h-1zM23 4h1v1h-1z"/>
<path fill="#241a14" d="M0 0h1v1h-1zM6 1h1v1h-1zM30 1h1v1h-1zM29 2h1v1h-1zM3 3h1v1h-1zM29 4h1v1h-1z"/>
<path fill="#494318" d="M4 1h1v1h-1zM11 1h1v1h-1zM2 3h1v1h-1zM17 3h1v1h-1zM33 3h1v1h-1zM26 4h1v1h-1z"/>
<path fill="#7b761e" d="M2 0h1v1h-1zM25 0h2v1h-2zM28 0h2v1h-2zM14 2h1v1h-1zM24 2h1v1h-1zM2 4h1v1h-1zM6 4h1v1h-1z"/>
<path fill="#aea923" d="M11 0h1v1h-1zM5 1h1v1h-1zM7 1h1v1h-1zM14 1h1v1h-1zM21 1h1v1h-1zM23 1h2v1h-2zM1 2h2v1h-2zM4 2h1v1h-1zM6 2h1v1h-1zM20 2h1v1h-1zM28 2h1v1h-1zM10 3h1v1h-1zM21 3h1v1h-1zM3 4h1v1h-1zM22 4h1v1h-1zM25 4h1v1h-1z"/>
<path fill="#d8d121" d="M8 0h1v1h-1zM33 0h1v1h-1zM0 1h1v1h-1zM2 1h1v1h-1zM9 1h2v1h-2zM18 1h1v1h-1zM20 1h1v1h-1zM22 1h1v1h-1zM27 1h2v1h-2zM32 1h2v1h-2zM0 2h1v1h-1zM5 2h1v1h-1zM9 2h1v1h-1zM11 2h1v1h-1zM13 2h1v1h-1zM21 2h1v1h-1zM30 2h1v1h-1zM32 2h1v1h-1zM34 2h2v1h-2zM0 3h1v1h-1zM4 3h2v1h-2zM7 3h1v1h-1zM9 3h1v1h-1zM14 3h1v1h-1zM19 3h1v1h-1zM23 3h1v1h-1zM26 3h1v1h-1zM29 3h2v1h-2zM34 3h2v1h-2zM5 4h1v1h-1zM7 4h1v1h-1zM10 4h6v1h-6zM19 4h3v1h-3zM28 4h1v1h-1zM32 4h3v1h-3z"/>
<path fill="#f2eb22" d="M16 0h1v1h-1zM32 0h1v1h-1zM1 1h1v1h-1zM3 1h1v1h-1zM8 1h1v1h-1zM12 1h2v1h-2zM15 1h3v1h-3zM19 1h1v1h-1zM25 1h1v1h-1zM29 1h1v1h-1zM31 1h1v1h-1zM34 1h2v1h-2zM3 2h1v1h-1zM8 2h1v1h-1zM10 2h1v1h-1zM16 2h2v1h-2zM19 2h1v1h-1zM23 2h1v1h-1zM25 2h3v1h-3zM33 2h1v1h-1zM8 3h1v1h-1zM11 3h3v1h-3zM15 3h1v1h-1zM22 3h1v1h-1zM24 3h2v1h-2zM28 3h1v1h-1zM31 3h2v1h-2zM0 4h1v1h-1zM4 4h1v1h-1zM8 4h2v1h-2zM17 4h2v1h-2zM27 4h1v1h-1zM30 4h1v1h-1z"/>
<path fill="#f8f228" d="M7 2h1v1h-1zM12 2h1v1h-1zM15 2h1v1h-1zM31 2h1v1h-1zM1 3h1v1h-1zM6 3h1v1h-1zM16 3h1v1h-1zM1 4h1v1h-1zM24 4h1v1h-1zM31 4h1v1h-1zM35 4h1v1h-1z"/>
</g>
<g transform="translate(623.00,538.70) scale(1.2472,5.5000)" shape-rendering="crispEdges">
<path fill="#a642a5" d="M22 1h1v1h-1zM30 1h1v1h-1zM12 3h1v1h-1zM21 3h1v1h-1zM5 4h1v1h-1z"/>
<path fill="#862a8b" d="M11 1h1v1h-1zM28 1h1v1h-1zM35 1h1v1h-1zM11 2h1v1h-1zM18 2h1v1h-1zM5 3h1v1h-1zM28 3h1v1h-1zM1 4h1v1h-1zM11 4h1v1h-1zM13 4h1v1h-1zM17 4h1v1h-1zM27 4h1v1h-1z"/>
<path fill="#6c1e73" d="M13 0h1v1h-1zM17 0h2v1h-2zM32 0h4v1h-4zM1 1h1v1h-1zM3 1h1v1h-1zM7 1h2v1h-2zM14 1h7v1h-7zM23 1h1v1h-1zM25 1h1v1h-1zM29 1h1v1h-1zM31 1h2v1h-2zM34 1h1v1h-1zM9 2h2v1h-2zM21 2h1v1h-1zM23 2h1v1h-1zM26 2h1v1h-1zM29 2h1v1h-1zM1 3h1v1h-1zM11 3h1v1h-1zM20 3h1v1h-1zM32 3h1v1h-1zM2 4h1v1h-1zM6 4h5v1h-5zM14 4h1v1h-1zM20 4h3v1h-3zM24 4h3v1h-3zM28 4h7v1h-7z"/>
<path fill="#501457" d="M2 0h1v1h-1zM8 0h3v1h-3zM12 0h1v1h-1zM16 0h1v1h-1zM22 0h1v1h-1zM24 0h1v1h-1zM26 0h1v1h-1zM28 0h3v1h-3zM0 1h1v1h-1zM2 1h1v1h-1zM4 1h2v1h-2zM9 1h2v1h-2zM12 1h1v1h-1zM21 1h1v1h-1zM24 1h1v1h-1zM26 1h2v1h-2zM1 2h1v1h-1zM5 2h1v1h-1zM8 2h1v1h-1zM12 2h1v1h-1zM14 2h1v1h-1zM16 2h2v1h-2zM25 2h1v1h-1zM27 2h1v1h-1zM30 2h3v1h-3zM2 3h1v1h-1zM4 3h1v1h-1zM6 3h1v1h-1zM10 3h1v1h-1zM24 3h1v1h-1zM26 3h1v1h-1zM29 3h3v1h-3zM33 3h3v1h-3zM0 4h1v1h-1zM3 4h2v1h-2zM12 4h1v1h-1zM15 4h2v1h-2zM18 4h2v1h-2zM23 4h1v1h-1zM35 4h1v1h-1z"/>
<path fill="#330b37" d="M1 0h1v1h-1zM3 0h3v1h-3zM7 0h1v1h-1zM11 0h1v1h-1zM14 0h2v1h-2zM20 0h2v1h-2zM23 0h1v1h-1zM25 0h1v1h-1zM31 0h1v1h-1zM6 1h1v1h-1zM13 1h1v1h-1zM3 2h1v1h-1zM6 2h2v1h-2zM19 2h1v1h-1zM24 2h1v1h-1zM33 2h1v1h-1zM0 3h1v1h-1zM3 3h1v1h-1zM17 3h1v1h-1zM23 3h1v1h-1zM27 3h1v1h-1z"/>
<path fill="#1d071e" d="M0 0h1v1h-1zM6 0h1v1h-1zM19 0h1v1h-1zM27 0h1v1h-1zM13 2h1v1h-1zM22 2h1v1h-1zM34 2h1v1h-1zM19 3h1v1h-1zM22 3h1v1h-1z"/>
<path fill="#241a14" d="M16 3h1v1h-1z"/>
<path fill="#494318" d="M9 3h1v1h-1z"/>
<path fill="#7b761e" d="M33 1h1v1h-1zM0 2h1v1h-1zM7 3h2v1h-2zM13 3h2v1h-2z"/>
<path fill="#aea923" d="M4 2h1v1h-1zM20 2h1v1h-1zM28 2h1v1h-1zM35 2h1v1h-1zM25 3h1v1h-1z"/>
<path fill="#d8d121" d="M18 3h1v1h-1z"/>
<path fill="#f2eb22" d="M2 2h1v1h-1zM15 3h1v1h-1z"/>
<path fill="#f8f228" d="M15 2h1v1h-1z"/>
</g>
<g transform="translate(355.50,567.20) scale(1.2389,5.4222)" shape-rendering="crispEdges">
<path fill="#c65abe" d="M23 0h1v1h-1z"/>
<path fill="#a642a5" d="M4 0h1v1h-1zM6 0h1v1h-1zM8 0h2v1h-2zM12 0h2v1h-2zM15 0h1v1h-1zM19 0h1v1h-1zM22 0h1v1h-1zM26 0h1v1h-1zM8 1h1v1h-1zM14 2h1v1h-1zM16 7h1v1h-1zM35 8h1v1h-1z"/>
<path fill="#862a8b" d="M0 0h4v1h-4zM5 0h1v1h-1zM10 0h2v1h-2zM14 0h1v1h-1zM18 0h1v1h-1zM20 0h2v1h-2zM24 0h2v1h-2zM27 0h5v1h-5zM33 0h1v1h-1zM35 0h1v1h-1zM12 1h1v1h-1zM17 1h1v1h-1zM22 1h1v1h-1zM25 1h1v1h-1zM28 1h1v1h-1zM33 1h1v1h-1zM13 2h1v1h-1zM0 3h1v1h-1zM4 3h2v1h-2zM8 3h1v1h-1zM12 3h2v1h-2zM29 3h1v1h-1zM1 4h1v1h-1zM8 4h3v1h-3zM15 4h1v1h-1zM24 4h2v1h-2zM28 4h1v1h-1zM0 6h1v1h-1zM9 6h1v1h-1zM13 6h1v1h-1zM23 6h1v1h-1zM34 6h1v1h-1zM0 7h1v1h-1zM8 7h2v1h-2zM30 7h1v1h-1zM27 8h1v1h-1z"/>
<path fill="#6c1e73" d="M7 0h1v1h-1zM16 0h2v1h-2zM32 0h1v1h-1zM34 0h1v1h-1zM0 1h4v1h-4zM5 1h1v1h-1zM7 1h1v1h-1zM13 1h4v1h-4zM18 1h2v1h-2zM23 1h1v1h-1zM27 1h1v1h-1zM29 1h1v1h-1zM32 1h1v1h-1zM34 1h1v1h-1zM2 2h1v1h-1zM8 2h1v1h-1zM10 2h1v1h-1zM12 2h1v1h-1zM16 2h1v1h-1zM20 2h2v1h-2zM23 2h1v1h-1zM31 2h1v1h-1zM2 3h1v1h-1zM6 3h2v1h-2zM9 3h3v1h-3zM14 3h1v1h-1zM18 3h2v1h-2zM21 3h2v1h-2zM24 3h3v1h-3zM32 3h3v1h-3zM4 4h3v1h-3zM11 4h1v1h-1zM13 4h1v1h-1zM17 4h4v1h-4zM22 4h2v1h-2zM27 4h1v1h-1zM31 4h1v1h-1zM33 4h2v1h-2zM1 6h4v1h-4zM6 6h3v1h-3zM10 6h1v1h-1zM14 6h2v1h-2zM20 6h2v1h-2zM25 6h2v1h-2zM28 6h2v1h-2zM31 6h1v1h-1zM33 6h1v1h-1zM1 7h1v1h-1zM3 7h3v1h-3zM10 7h1v1h-1zM12 7h1v1h-1zM17 7h5v1h-5zM23 7h2v1h-2zM28 7h2v1h-2zM31 7h1v1h-1zM33 7h3v1h-3zM4 8h1v1h-1zM9 8h1v1h-1zM11 8h1v1h-1zM16 8h1v1h-1zM29 8h1v1h-1z"/>
<path fill="#501457" d="M4 1h1v1h-1zM9 1h3v1h-3zM20 1h2v1h-2zM24 1h1v1h-1zM26 1h1v1h-1zM30 1h2v1h-2zM35 1h1v1h-1zM0 2h1v1h-1zM5 2h1v1h-1zM7 2h1v1h-1zM17 2h1v1h-1zM30 2h1v1h-1zM35 2h1v1h-1zM1 3h1v1h-1zM3 3h1v1h-1zM15 3h1v1h-1zM20 3h1v1h-1zM28 3h1v1h-1zM30 3h2v1h-2zM35 3h1v1h-1zM0 4h1v1h-1zM7 4h1v1h-1zM12 4h1v1h-1zM14 4h1v1h-1zM26 4h1v1h-1zM29 4h2v1h-2zM32 4h1v1h-1zM35 4h1v1h-1zM10 5h1v1h-1zM5 6h1v1h-1zM11 6h2v1h-2zM16 6h4v1h-4zM24 6h1v1h-1zM30 6h1v1h-1zM32 6h1v1h-1zM2 7h1v1h-1zM6 7h2v1h-2zM13 7h3v1h-3zM22 7h1v1h-1zM25 7h3v1h-3zM32 7h1v1h-1zM6 8h2v1h-2zM12 8h1v1h-1zM18 8h1v1h-1zM25 8h2v1h-2zM33 8h1v1h-1z"/>
<path fill="#330b37" d="M4 2h1v1h-1zM6 2h1v1h-1zM9 2h1v1h-1zM15 2h1v1h-1zM18 2h2v1h-2zM24 2h3v1h-3zM28 2h2v1h-2zM17 3h1v1h-1zM2 4h2v1h-2zM2 5h1v1h-1zM4 5h1v1h-1zM6 5h1v1h-1zM9 5h1v1h-1zM11 5h3v1h-3zM15 5h2v1h-2zM25 5h2v1h-2zM29 5h5v1h-5zM35 5h1v1h-1zM27 6h1v1h-1zM1 8h2v1h-2zM5 8h1v1h-1zM10 8h1v1h-1zM13 8h1v1h-1zM15 8h1v1h-1zM21 8h1v1h-1zM23 8h1v1h-1zM28 8h1v1h-1zM32 8h1v1h-1zM34 8h1v1h-1z"/>
<path fill="#1d071e" d="M1 2h1v1h-1zM3 2h1v1h-1zM22 2h1v1h-1zM27 2h1v1h-1zM34 2h1v1h-1zM0 5h2v1h-2zM3 5h1v1h-1zM7 5h2v1h-2zM14 5h1v1h-1zM18 5h1v1h-1zM20 5h1v1h-1zM22 5h3v1h-3zM27 5h2v1h-2zM34 5h1v1h-1zM0 8h1v1h-1zM17 8h1v1h-1zM22 8h1v1h-1zM31 8h1v1h-1z"/>
<path fill="#241a14" d="M32 2h1v1h-1zM17 5h1v1h-1zM30 8h1v1h-1z"/>
<path fill="#494318" d="M23 3h1v1h-1zM19 5h1v1h-1zM35 6h1v1h-1z"/>
<path fill="#7b761e" d="M20 8h1v1h-1z"/>
<path fill="#aea923" d="M33 2h1v1h-1zM21 4h1v1h-1zM21 5h1v1h-1zM22 6h1v1h-1zM24 8h1v1h-1z"/>
<path fill="#d8d121" d="M11 2h1v1h-1zM27 3h1v1h-1zM16 4h1v1h-1zM3 8h1v1h-1zM8 8h1v1h-1zM19 8h1v1h-1z"/>
<path fill="#f2eb22" d="M16 3h1v1h-1zM11 7h1v1h-1zM14 8h1v1h-1z"/>
<path fill="#f8f228" d="M6 1h1v1h-1zM5 5h1v1h-1z"/>
</g>
<g transform="translate(400.10,567.20) scale(1.2629,5.4222)" shape-rendering="crispEdges">
<path fill="#c65abe" d="M15 0h1v1h-1z"/>
<path fill="#a642a5" d="M3 0h1v1h-1zM16 0h1v1h-1zM23 0h1v1h-1zM27 0h1v1h-1zM29 0h1v1h-1zM6 6h1v1h-1zM7 8h1v1h-1z"/>
<path fill="#862a8b" d="M1 0h1v1h-1zM4 0h7v1h-7zM12 0h3v1h-3zM18 0h2v1h-2zM24 0h2v1h-2zM28 0h1v1h-1zM31 0h2v1h-2zM34 0h1v1h-1zM10 1h1v1h-1zM33 1h1v1h-1zM23 2h1v1h-1zM33 3h1v1h-1zM3 6h1v1h-1zM24 6h1v1h-1zM26 6h1v1h-1zM9 7h4v1h-4zM23 7h1v1h-1zM26 7h1v1h-1zM3 8h3v1h-3zM10 8h1v1h-1zM29 8h1v1h-1z"/>
<path fill="#6c1e73" d="M0 0h1v1h-1zM2 0h1v1h-1zM11 0h1v1h-1zM20 0h1v1h-1zM22 0h1v1h-1zM30 0h1v1h-1zM33 0h1v1h-1zM4 1h1v1h-1zM11 1h1v1h-1zM17 1h1v1h-1zM20 1h1v1h-1zM26 1h1v1h-1zM31 1h2v1h-2zM4 2h1v1h-1zM13 2h1v1h-1zM25 2h1v1h-1zM29 2h2v1h-2zM33 2h1v1h-1zM14 3h1v1h-1zM19 3h1v1h-1zM4 4h1v1h-1zM21 4h2v1h-2zM26 4h1v1h-1zM30 4h2v1h-2zM4 6h1v1h-1zM10 6h1v1h-1zM13 6h4v1h-4zM22 6h2v1h-2zM29 6h1v1h-1zM1 7h2v1h-2zM4 7h1v1h-1zM7 7h1v1h-1zM13 7h1v1h-1zM16 7h5v1h-5zM24 7h2v1h-2zM27 7h1v1h-1zM29 7h3v1h-3zM0 8h1v1h-1zM12 8h1v1h-1zM18 8h2v1h-2zM22 8h3v1h-3zM34 8h1v1h-1z"/>
<path fill="#501457" d="M17 0h1v1h-1zM0 1h2v1h-2zM3 1h1v1h-1zM8 1h2v1h-2zM16 1h1v1h-1zM19 1h1v1h-1zM22 1h2v1h-2zM29 1h2v1h-2zM2 2h1v1h-1zM5 2h1v1h-1zM7 2h2v1h-2zM11 2h1v1h-1zM14 2h1v1h-1zM17 2h1v1h-1zM20 2h3v1h-3zM24 2h1v1h-1zM26 2h1v1h-1zM28 2h1v1h-1zM31 2h1v1h-1zM6 3h1v1h-1zM18 3h1v1h-1zM26 3h1v1h-1zM29 3h1v1h-1zM32 3h1v1h-1zM0 4h1v1h-1zM2 4h1v1h-1zM5 4h2v1h-2zM8 4h1v1h-1zM10 4h1v1h-1zM14 4h1v1h-1zM16 4h2v1h-2zM24 4h2v1h-2zM27 4h1v1h-1zM29 4h1v1h-1zM32 4h3v1h-3zM16 5h1v1h-1zM30 5h1v1h-1zM0 6h1v1h-1zM5 6h1v1h-1zM9 6h1v1h-1zM11 6h2v1h-2zM17 6h2v1h-2zM25 6h1v1h-1zM27 6h1v1h-1zM31 6h1v1h-1zM33 6h1v1h-1zM0 7h1v1h-1zM3 7h1v1h-1zM5 7h2v1h-2zM8 7h1v1h-1zM15 7h1v1h-1zM21 7h2v1h-2zM32 7h2v1h-2zM2 8h1v1h-1zM9 8h1v1h-1zM13 8h2v1h-2zM17 8h1v1h-1zM25 8h3v1h-3zM30 8h1v1h-1z"/>
<path fill="#330b37" d="M5 1h1v1h-1zM12 1h3v1h-3zM18 1h1v1h-1zM25 1h1v1h-1zM28 1h1v1h-1zM34 1h1v1h-1zM3 2h1v1h-1zM6 2h1v1h-1zM16 2h1v1h-1zM19 2h1v1h-1zM27 2h1v1h-1zM0 3h1v1h-1zM3 3h1v1h-1zM9 3h2v1h-2zM13 3h1v1h-1zM17 3h1v1h-1zM20 3h1v1h-1zM25 3h1v1h-1zM3 4h1v1h-1zM7 4h1v1h-1zM23 4h1v1h-1zM28 4h1v1h-1zM0 5h1v1h-1zM7 5h2v1h-2zM10 5h3v1h-3zM15 5h1v1h-1zM20 5h3v1h-3zM31 5h1v1h-1zM33 5h2v1h-2zM1 6h1v1h-1zM8 6h1v1h-1zM21 6h1v1h-1zM14 7h1v1h-1zM28 7h1v1h-1zM6 8h1v1h-1zM11 8h1v1h-1zM28 8h1v1h-1zM33 8h1v1h-1z"/>
<path fill="#1d071e" d="M2 1h1v1h-1zM24 1h1v1h-1zM32 2h1v1h-1zM1 3h1v1h-1zM8 3h1v1h-1zM15 3h1v1h-1zM23 3h1v1h-1zM11 4h3v1h-3zM1 5h1v1h-1zM3 5h3v1h-3zM13 5h2v1h-2zM17 5h1v1h-1zM19 5h1v1h-1zM24 5h3v1h-3zM29 5h1v1h-1zM32 5h1v1h-1zM19 6h1v1h-1zM30 6h1v1h-1zM34 6h1v1h-1zM15 8h2v1h-2zM31 8h1v1h-1z"/>
<path fill="#241a14" d="M7 1h1v1h-1zM34 2h1v1h-1zM11 3h1v1h-1zM20 4h1v1h-1zM2 5h1v1h-1zM6 5h1v1h-1zM9 5h1v1h-1zM27 5h2v1h-2zM2 6h1v1h-1zM21 8h1v1h-1z"/>
<path fill="#494318" d="M26 0h1v1h-1zM10 2h1v1h-1zM2 3h1v1h-1zM4 3h1v1h-1zM24 3h1v1h-1zM27 3h1v1h-1zM18 4h1v1h-1zM32 6h1v1h-1z"/>
<path fill="#7b761e" d="M15 1h1v1h-1zM27 1h1v1h-1zM0 2h1v1h-1zM5 3h1v1h-1zM12 3h1v1h-1zM16 3h1v1h-1zM34 3h1v1h-1zM1 4h1v1h-1zM9 4h1v1h-1zM18 5h1v1h-1zM7 6h1v1h-1zM28 6h1v1h-1zM34 7h1v1h-1z"/>
<path fill="#aea923" d="M21 0h1v1h-1zM21 1h1v1h-1zM9 2h1v1h-1zM12 2h1v1h-1zM22 3h1v1h-1zM31 3h1v1h-1zM20 6h1v1h-1z"/>
<path fill="#d8d121" d="M6 1h1v1h-1zM15 2h1v1h-1zM18 2h1v1h-1zM7 3h1v1h-1zM21 3h1v1h-1zM28 3h1v1h-1zM30 3h1v1h-1zM15 4h1v1h-1zM23 5h1v1h-1z"/>
<path fill="#f2eb22" d="M1 2h1v1h-1zM19 4h1v1h-1zM1 8h1v1h-1zM32 8h1v1h-1z"/>
<path fill="#f8f228" d="M8 8h1v1h-1zM20 8h1v1h-1z"/>
</g>
<g transform="translate(444.30,567.20) scale(1.2417,5.4222)" shape-rendering="crispEdges">
<path fill="#c65abe" d="M23 0h1v1h-1z"/>
<path fill="#a642a5" d="M9 0h1v1h-1zM22 0h1v1h-1zM25 0h1v1h-1zM35 0h1v1h-1zM19 2h1v1h-1zM0 3h1v1h-1zM25 3h1v1h-1zM18 7h1v1h-1z"/>
<path fill="#862a8b" d="M1 0h8v1h-8zM14 0h3v1h-3zM19 0h3v1h-3zM24 0h1v1h-1zM26 0h1v1h-1zM28 0h1v1h-1zM30 0h1v1h-1zM32 0h1v1h-1zM34 0h1v1h-1zM6 1h1v1h-1zM11 1h1v1h-1zM6 2h2v1h-2zM29 2h1v1h-1zM32 2h2v1h-2zM3 3h1v1h-1zM7 3h1v1h-1zM13 3h2v1h-2zM17 3h1v1h-1zM19 3h1v1h-1zM29 3h1v1h-1zM31 3h1v1h-1zM35 3h1v1h-1zM13 4h1v1h-1zM28 5h1v1h-1zM19 6h1v1h-1zM30 6h1v1h-1zM8 7h1v1h-1zM11 7h1v1h-1zM13 7h2v1h-2zM26 7h1v1h-1z"/>
<path fill="#6c1e73" d="M11 0h3v1h-3zM27 0h1v1h-1zM33 0h1v1h-1zM1 1h1v1h-1zM8 1h1v1h-1zM10 1h1v1h-1zM13 1h1v1h-1zM19 1h2v1h-2zM27 1h1v1h-1zM32 1h1v1h-1zM0 2h1v1h-1zM2 2h1v1h-1zM5 2h1v1h-1zM8 2h1v1h-1zM10 2h3v1h-3zM14 2h3v1h-3zM18 2h1v1h-1zM20 2h4v1h-4zM25 2h1v1h-1zM27 2h2v1h-2zM31 2h1v1h-1zM35 2h1v1h-1zM4 3h1v1h-1zM6 3h1v1h-1zM9 3h1v1h-1zM15 3h2v1h-2zM18 3h1v1h-1zM21 3h3v1h-3zM28 3h1v1h-1zM32 3h2v1h-2zM4 4h1v1h-1zM6 4h1v1h-1zM15 4h1v1h-1zM19 4h1v1h-1zM21 4h1v1h-1zM24 4h1v1h-1zM26 4h1v1h-1zM32 4h2v1h-2zM0 5h4v1h-4zM9 5h1v1h-1zM14 5h1v1h-1zM19 5h1v1h-1zM25 5h1v1h-1zM27 5h1v1h-1zM29 5h2v1h-2zM6 6h1v1h-1zM8 6h1v1h-1zM23 6h1v1h-1zM29 6h1v1h-1zM32 6h1v1h-1zM0 7h4v1h-4zM6 7h2v1h-2zM9 7h2v1h-2zM16 7h1v1h-1zM19 7h6v1h-6zM29 7h1v1h-1zM34 7h2v1h-2zM2 8h1v1h-1zM7 8h1v1h-1zM10 8h2v1h-2zM18 8h1v1h-1zM23 8h1v1h-1zM26 8h1v1h-1zM32 8h1v1h-1z"/>
<path fill="#501457" d="M10 0h1v1h-1zM2 1h1v1h-1zM5 1h1v1h-1zM14 1h2v1h-2zM21 1h2v1h-2zM24 1h3v1h-3zM30 1h1v1h-1zM3 2h2v1h-2zM13 2h1v1h-1zM17 2h1v1h-1zM24 2h1v1h-1zM26 2h1v1h-1zM30 2h1v1h-1zM1 3h2v1h-2zM5 3h1v1h-1zM8 3h1v1h-1zM10 3h3v1h-3zM20 3h1v1h-1zM24 3h1v1h-1zM26 3h2v1h-2zM30 3h1v1h-1zM34 3h1v1h-1zM0 4h1v1h-1zM14 4h1v1h-1zM16 4h1v1h-1zM18 4h1v1h-1zM23 4h1v1h-1zM28 4h2v1h-2zM31 4h1v1h-1zM34 4h1v1h-1zM6 5h2v1h-2zM16 5h1v1h-1zM18 5h1v1h-1zM20 5h1v1h-1zM22 5h1v1h-1zM31 5h2v1h-2zM5 6h1v1h-1zM9 6h1v1h-1zM12 6h1v1h-1zM18 6h1v1h-1zM28 6h1v1h-1zM4 7h1v1h-1zM27 7h2v1h-2zM30 7h3v1h-3zM0 8h1v1h-1zM3 8h2v1h-2zM12 8h1v1h-1zM14 8h4v1h-4zM19 8h3v1h-3zM25 8h1v1h-1zM27 8h1v1h-1zM29 8h1v1h-1zM31 8h1v1h-1zM33 8h1v1h-1zM35 8h1v1h-1z"/>
<path fill="#330b37" d="M31 0h1v1h-1zM3 1h1v1h-1zM7 1h1v1h-1zM16 1h1v1h-1zM18 1h1v1h-1zM23 1h1v1h-1zM28 1h1v1h-1zM31 1h1v1h-1zM33 1h2v1h-2zM1 2h1v1h-1zM9 2h1v1h-1zM3 4h1v1h-1zM5 4h1v1h-1zM7 4h1v1h-1zM9 4h3v1h-3zM17 4h1v1h-1zM20 4h1v1h-1zM27 4h1v1h-1zM4 5h1v1h-1zM8 5h1v1h-1zM10 5h2v1h-2zM13 5h1v1h-1zM15 5h1v1h-1zM17 5h1v1h-1zM21 5h1v1h-1zM23 5h2v1h-2zM26 5h1v1h-1zM34 5h2v1h-2zM14 6h1v1h-1zM21 6h1v1h-1zM24 6h1v1h-1zM27 6h1v1h-1zM33 6h2v1h-2zM5 7h1v1h-1zM15 7h1v1h-1zM17 7h1v1h-1zM25 7h1v1h-1zM1 8h1v1h-1zM5 8h2v1h-2zM8 8h2v1h-2zM13 8h1v1h-1zM22 8h1v1h-1zM24 8h1v1h-1zM28 8h1v1h-1zM34 8h1v1h-1z"/>
<path fill="#1d071e" d="M9 1h1v1h-1zM17 1h1v1h-1zM1 4h2v1h-2zM30 4h1v1h-1zM33 5h1v1h-1zM15 6h2v1h-2zM22 6h1v1h-1zM25 6h1v1h-1zM31 6h1v1h-1z"/>
<path fill="#241a14" d="M22 4h1v1h-1zM12 5h1v1h-1zM1 6h1v1h-1zM11 6h1v1h-1zM26 6h1v1h-1z"/>
<path fill="#494318" d="M29 0h1v1h-1zM0 1h1v1h-1z"/>
<path fill="#7b761e" d="M8 4h1v1h-1zM4 6h1v1h-1zM20 6h1v1h-1zM35 6h1v1h-1z"/>
<path fill="#aea923" d="M29 1h1v1h-1zM35 1h1v1h-1zM34 2h1v1h-1zM12 4h1v1h-1zM25 4h1v1h-1zM5 5h1v1h-1zM7 6h1v1h-1zM10 6h1v1h-1zM12 7h1v1h-1zM33 7h1v1h-1z"/>
<path fill="#d8d121" d="M0 0h1v1h-1zM17 0h2v1h-2zM4 1h1v1h-1zM2 6h2v1h-2z"/>
<path fill="#f2eb22" d="M12 1h1v1h-1zM35 4h1v1h-1zM0 6h1v1h-1zM13 6h1v1h-1zM17 6h1v1h-1zM30 8h1v1h-1z"/>
</g>
<g transform="translate(489.00,567.20) scale(1.2472,5.4222)" shape-rendering="crispEdges">
<path fill="#a642a5" d="M2 0h2v1h-2zM9 0h1v1h-1zM17 0h1v1h-1zM27 0h2v1h-2zM32 0h1v1h-1zM14 1h1v1h-1zM1 4h1v1h-1zM8 4h1v1h-1zM23 4h1v1h-1zM23 5h1v1h-1zM1 6h1v1h-1zM8 7h1v1h-1zM17 7h1v1h-1zM2 8h1v1h-1z"/>
<path fill="#862a8b" d="M0 0h2v1h-2zM6 0h2v1h-2zM10 0h2v1h-2zM14 0h1v1h-1zM18 0h2v1h-2zM21 0h6v1h-6zM29 0h3v1h-3zM33 0h3v1h-3zM0 1h1v1h-1zM2 1h1v1h-1zM23 1h1v1h-1zM0 2h1v1h-1zM8 2h1v1h-1zM21 2h1v1h-1zM33 2h1v1h-1zM2 3h1v1h-1zM18 3h1v1h-1zM32 3h1v1h-1zM0 4h1v1h-1zM4 4h1v1h-1zM7 4h1v1h-1zM15 4h2v1h-2zM18 4h1v1h-1zM20 4h1v1h-1zM22 4h1v1h-1zM25 4h1v1h-1zM30 4h1v1h-1zM32 4h1v1h-1zM34 4h1v1h-1zM2 5h1v1h-1zM7 5h2v1h-2zM17 5h1v1h-1zM33 5h1v1h-1zM0 6h1v1h-1zM2 6h1v1h-1zM7 6h1v1h-1zM17 6h1v1h-1zM20 6h1v1h-1zM23 6h1v1h-1zM33 6h2v1h-2zM5 7h1v1h-1zM9 7h1v1h-1zM16 7h1v1h-1zM18 7h1v1h-1zM22 7h3v1h-3zM4 8h1v1h-1z"/>
<path fill="#6c1e73" d="M4 0h2v1h-2zM8 0h1v1h-1zM12 0h2v1h-2zM15 0h2v1h-2zM20 0h1v1h-1zM5 1h1v1h-1zM17 1h1v1h-1zM19 1h2v1h-2zM22 1h1v1h-1zM26 1h1v1h-1zM32 1h1v1h-1zM2 2h3v1h-3zM6 2h1v1h-1zM11 2h1v1h-1zM15 2h1v1h-1zM26 2h1v1h-1zM29 2h1v1h-1zM0 3h2v1h-2zM4 3h1v1h-1zM6 3h6v1h-6zM13 3h4v1h-4zM19 3h2v1h-2zM23 3h1v1h-1zM25 3h5v1h-5zM31 3h1v1h-1zM33 3h2v1h-2zM2 4h1v1h-1zM6 4h1v1h-1zM9 4h2v1h-2zM14 4h1v1h-1zM17 4h1v1h-1zM19 4h1v1h-1zM21 4h1v1h-1zM26 4h4v1h-4zM33 4h1v1h-1zM1 5h1v1h-1zM20 5h1v1h-1zM25 5h1v1h-1zM5 6h2v1h-2zM9 6h3v1h-3zM15 6h2v1h-2zM18 6h2v1h-2zM24 6h6v1h-6zM32 6h1v1h-1zM35 6h1v1h-1zM0 7h5v1h-5zM7 7h1v1h-1zM10 7h1v1h-1zM12 7h1v1h-1zM14 7h1v1h-1zM27 7h1v1h-1zM30 7h1v1h-1zM33 7h1v1h-1zM35 7h1v1h-1zM11 8h1v1h-1zM17 8h1v1h-1zM21 8h3v1h-3zM28 8h1v1h-1zM33 8h1v1h-1z"/>
<path fill="#501457" d="M1 1h1v1h-1zM8 1h1v1h-1zM15 1h2v1h-2zM28 1h1v1h-1zM33 1h3v1h-3zM5 2h1v1h-1zM7 2h1v1h-1zM9 2h2v1h-2zM12 2h1v1h-1zM14 2h1v1h-1zM16 2h2v1h-2zM19 2h1v1h-1zM23 2h2v1h-2zM27 2h1v1h-1zM31 2h2v1h-2zM3 3h1v1h-1zM17 3h1v1h-1zM21 3h2v1h-2zM24 3h1v1h-1zM30 3h1v1h-1zM35 3h1v1h-1zM3 4h1v1h-1zM5 4h1v1h-1zM11 4h1v1h-1zM13 4h1v1h-1zM24 4h1v1h-1zM31 4h1v1h-1zM35 4h1v1h-1zM3 5h2v1h-2zM6 5h1v1h-1zM11 5h1v1h-1zM14 5h1v1h-1zM18 5h2v1h-2zM22 5h1v1h-1zM34 5h2v1h-2zM3 6h2v1h-2zM8 6h1v1h-1zM12 6h1v1h-1zM21 6h2v1h-2zM30 6h1v1h-1zM11 7h1v1h-1zM13 7h1v1h-1zM15 7h1v1h-1zM19 7h3v1h-3zM25 7h2v1h-2zM28 7h2v1h-2zM32 7h1v1h-1zM34 7h1v1h-1zM5 8h1v1h-1zM7 8h1v1h-1zM13 8h4v1h-4zM20 8h1v1h-1zM25 8h1v1h-1zM30 8h1v1h-1zM34 8h1v1h-1z"/>
<path fill="#330b37" d="M3 1h2v1h-2zM7 1h1v1h-1zM10 1h1v1h-1zM12 1h2v1h-2zM24 1h2v1h-2zM27 1h1v1h-1zM30 1h2v1h-2zM1 2h1v1h-1zM13 2h1v1h-1zM18 2h1v1h-1zM20 2h1v1h-1zM22 2h1v1h-1zM0 5h1v1h-1zM5 5h1v1h-1zM9 5h2v1h-2zM12 5h1v1h-1zM15 5h2v1h-2zM21 5h1v1h-1zM27 5h2v1h-2zM32 5h1v1h-1zM13 6h1v1h-1zM31 6h1v1h-1zM6 7h1v1h-1zM31 7h1v1h-1zM1 8h1v1h-1zM3 8h1v1h-1zM6 8h1v1h-1zM8 8h1v1h-1zM18 8h2v1h-2zM24 8h1v1h-1zM26 8h2v1h-2zM29 8h1v1h-1zM31 8h1v1h-1z"/>
<path fill="#1d071e" d="M6 1h1v1h-1zM11 1h1v1h-1zM21 1h1v1h-1zM28 2h1v1h-1zM34 2h1v1h-1zM0 8h1v1h-1zM32 8h1v1h-1z"/>
<path fill="#241a14" d="M18 1h1v1h-1zM29 1h1v1h-1zM35 2h1v1h-1z"/>
<path fill="#494318" d="M5 3h1v1h-1zM26 5h1v1h-1z"/>
<path fill="#7b761e" d="M9 1h1v1h-1zM29 5h2v1h-2zM14 6h1v1h-1z"/>
<path fill="#aea923" d="M24 5h1v1h-1zM31 5h1v1h-1zM9 8h2v1h-2zM12 8h1v1h-1z"/>
<path fill="#d8d121" d="M12 3h1v1h-1zM35 8h1v1h-1z"/>
<path fill="#f2eb22" d="M30 2h1v1h-1z"/>
<path fill="#f8f228" d="M25 2h1v1h-1zM12 4h1v1h-1zM13 5h1v1h-1z"/>
</g>
<g transform="translate(533.90,567.20) scale(1.2657,5.4222)" shape-rendering="crispEdges">
<path fill="#a642a5" d="M0 0h1v1h-1zM9 0h3v1h-3zM15 0h1v1h-1zM18 0h1v1h-1zM25 0h1v1h-1zM32 0h1v1h-1zM20 1h1v1h-1zM20 2h1v1h-1z"/>
<path fill="#862a8b" d="M1 0h1v1h-1zM3 0h1v1h-1zM5 0h1v1h-1zM12 0h3v1h-3zM16 0h1v1h-1zM19 0h2v1h-2zM22 0h2v1h-2zM26 0h4v1h-4zM31 0h1v1h-1zM34 0h1v1h-1zM13 1h1v1h-1zM25 1h1v1h-1zM16 2h2v1h-2zM19 2h1v1h-1zM27 2h1v1h-1zM31 2h1v1h-1zM1 3h1v1h-1zM9 3h2v1h-2zM20 3h2v1h-2zM32 3h1v1h-1zM1 4h1v1h-1zM20 4h1v1h-1zM24 4h1v1h-1zM1 6h1v1h-1zM3 6h1v1h-1zM17 6h1v1h-1zM19 6h1v1h-1zM30 6h1v1h-1zM32 6h1v1h-1zM6 7h1v1h-1zM9 7h1v1h-1zM17 7h1v1h-1zM20 7h1v1h-1zM31 7h1v1h-1zM33 7h1v1h-1zM19 8h1v1h-1zM27 8h1v1h-1z"/>
<path fill="#6c1e73" d="M2 0h1v1h-1zM7 0h2v1h-2zM17 0h1v1h-1zM21 0h1v1h-1zM24 0h1v1h-1zM30 0h1v1h-1zM33 0h1v1h-1zM1 1h1v1h-1zM6 1h1v1h-1zM9 1h1v1h-1zM14 1h1v1h-1zM16 1h1v1h-1zM21 1h1v1h-1zM26 1h2v1h-2zM29 1h1v1h-1zM34 1h1v1h-1zM0 2h3v1h-3zM4 2h4v1h-4zM9 2h3v1h-3zM14 2h1v1h-1zM18 2h1v1h-1zM21 2h1v1h-1zM23 2h4v1h-4zM29 2h2v1h-2zM32 2h3v1h-3zM3 3h1v1h-1zM5 3h1v1h-1zM11 3h1v1h-1zM14 3h2v1h-2zM18 3h2v1h-2zM23 3h1v1h-1zM25 3h2v1h-2zM28 3h2v1h-2zM34 3h1v1h-1zM9 4h1v1h-1zM11 4h1v1h-1zM17 4h1v1h-1zM19 4h1v1h-1zM23 4h1v1h-1zM25 4h1v1h-1zM27 4h1v1h-1zM31 4h1v1h-1zM34 4h1v1h-1zM4 6h3v1h-3zM8 6h5v1h-5zM15 6h2v1h-2zM20 6h1v1h-1zM24 6h1v1h-1zM26 6h3v1h-3zM33 6h2v1h-2zM3 7h1v1h-1zM5 7h1v1h-1zM8 7h1v1h-1zM13 7h1v1h-1zM15 7h2v1h-2zM18 7h2v1h-2zM21 7h1v1h-1zM23 7h1v1h-1zM25 7h3v1h-3zM29 7h2v1h-2zM34 7h1v1h-1zM6 8h1v1h-1zM17 8h1v1h-1zM26 8h1v1h-1zM28 8h1v1h-1zM33 8h1v1h-1z"/>
<path fill="#501457" d="M4 0h1v1h-1zM6 0h1v1h-1zM5 1h1v1h-1zM17 1h3v1h-3zM28 1h1v1h-1zM31 1h1v1h-1zM3 2h1v1h-1zM8 2h1v1h-1zM12 2h2v1h-2zM15 2h1v1h-1zM22 2h1v1h-1zM28 2h1v1h-1zM2 3h1v1h-1zM4 3h1v1h-1zM6 3h3v1h-3zM12 3h2v1h-2zM16 3h2v1h-2zM22 3h1v1h-1zM24 3h1v1h-1zM27 3h1v1h-1zM30 3h2v1h-2zM2 4h1v1h-1zM4 4h1v1h-1zM10 4h1v1h-1zM15 4h1v1h-1zM21 4h1v1h-1zM28 4h2v1h-2zM32 4h2v1h-2zM32 5h1v1h-1zM0 6h1v1h-1zM2 6h1v1h-1zM7 6h1v1h-1zM13 6h2v1h-2zM21 6h2v1h-2zM25 6h1v1h-1zM29 6h1v1h-1zM31 6h1v1h-1zM0 7h3v1h-3zM4 7h1v1h-1zM10 7h3v1h-3zM14 7h1v1h-1zM22 7h1v1h-1zM24 7h1v1h-1zM28 7h1v1h-1zM32 7h1v1h-1zM4 8h1v1h-1zM8 8h6v1h-6zM16 8h1v1h-1zM23 8h1v1h-1zM25 8h1v1h-1zM31 8h1v1h-1z"/>
<path fill="#330b37" d="M2 1h1v1h-1zM4 1h1v1h-1zM8 1h1v1h-1zM10 1h1v1h-1zM12 1h1v1h-1zM15 1h1v1h-1zM33 1h1v1h-1zM33 3h1v1h-1zM0 4h1v1h-1zM6 4h1v1h-1zM8 4h1v1h-1zM13 4h2v1h-2zM22 4h1v1h-1zM1 5h1v1h-1zM3 5h1v1h-1zM5 5h2v1h-2zM8 5h2v1h-2zM11 5h1v1h-1zM13 5h1v1h-1zM21 5h1v1h-1zM27 5h1v1h-1zM23 6h1v1h-1zM7 7h1v1h-1zM5 8h1v1h-1zM14 8h1v1h-1zM18 8h1v1h-1zM21 8h1v1h-1zM24 8h1v1h-1zM30 8h1v1h-1zM32 8h1v1h-1zM34 8h1v1h-1z"/>
<path fill="#1d071e" d="M22 1h3v1h-3zM7 4h1v1h-1zM16 4h1v1h-1zM0 5h1v1h-1zM2 5h1v1h-1zM4 5h1v1h-1zM10 5h1v1h-1zM12 5h1v1h-1zM14 5h1v1h-1zM17 5h4v1h-4zM22 5h1v1h-1zM26 5h1v1h-1zM30 5h2v1h-2zM1 8h2v1h-2zM15 8h1v1h-1z"/>
<path fill="#241a14" d="M30 1h1v1h-1zM32 1h1v1h-1zM7 5h1v1h-1zM15 5h2v1h-2zM24 5h2v1h-2zM28 5h1v1h-1zM33 5h2v1h-2zM7 8h1v1h-1zM20 8h1v1h-1z"/>
<path fill="#494318" d="M18 6h1v1h-1z"/>
<path fill="#7b761e" d="M0 3h1v1h-1zM26 4h1v1h-1zM0 8h1v1h-1z"/>
<path fill="#aea923" d="M3 1h1v1h-1zM7 1h1v1h-1zM5 4h1v1h-1zM18 4h1v1h-1zM23 5h1v1h-1zM29 5h1v1h-1zM3 8h1v1h-1zM22 8h1v1h-1zM29 8h1v1h-1z"/>
<path fill="#d8d121" d="M0 1h1v1h-1zM3 4h1v1h-1zM30 4h1v1h-1z"/>
<path fill="#f2eb22" d="M12 4h1v1h-1z"/>
<path fill="#f8f228" d="M11 1h1v1h-1z"/>
</g>
<g transform="translate(578.20,567.20) scale(1.2444,5.4222)" shape-rendering="crispEdges">
<path fill="#c65abe" d="M21 0h1v1h-1z"/>
<path fill="#a642a5" d="M4 0h1v1h-1zM10 0h1v1h-1zM13 0h1v1h-1zM15 0h1v1h-1zM19 0h1v1h-1zM27 0h3v1h-3zM32 0h3v1h-3zM6 3h1v1h-1zM33 3h1v1h-1zM34 6h1v1h-1z"/>
<path fill="#862a8b" d="M1 0h1v1h-1zM5 0h5v1h-5zM11 0h2v1h-2zM16 0h1v1h-1zM18 0h1v1h-1zM20 0h1v1h-1zM24 0h2v1h-2zM30 0h2v1h-2zM35 0h1v1h-1zM0 1h1v1h-1zM6 1h3v1h-3zM10 1h1v1h-1zM27 1h1v1h-1zM35 1h1v1h-1zM11 3h1v1h-1zM13 3h1v1h-1zM16 3h1v1h-1zM25 3h1v1h-1zM29 3h1v1h-1zM1 5h1v1h-1zM11 5h2v1h-2zM18 6h1v1h-1zM33 6h1v1h-1zM7 7h1v1h-1zM10 7h1v1h-1zM14 7h4v1h-4zM28 7h1v1h-1zM33 7h3v1h-3zM26 8h1v1h-1zM32 8h1v1h-1zM34 8h1v1h-1z"/>
<path fill="#6c1e73" d="M2 0h1v1h-1zM14 0h1v1h-1zM22 0h2v1h-2zM26 0h1v1h-1zM1 1h5v1h-5zM11 1h2v1h-2zM15 1h2v1h-2zM22 1h1v1h-1zM24 1h1v1h-1zM28 1h4v1h-4zM33 1h1v1h-1zM8 2h1v1h-1zM11 2h1v1h-1zM15 2h1v1h-1zM18 2h1v1h-1zM22 2h2v1h-2zM25 2h1v1h-1zM32 2h1v1h-1zM34 2h1v1h-1zM2 3h1v1h-1zM4 3h1v1h-1zM8 3h1v1h-1zM10 3h1v1h-1zM12 3h1v1h-1zM14 3h1v1h-1zM19 3h1v1h-1zM21 3h1v1h-1zM30 3h1v1h-1zM35 3h1v1h-1zM20 4h1v1h-1zM29 4h1v1h-1zM32 4h2v1h-2zM7 5h1v1h-1zM15 5h2v1h-2zM19 5h1v1h-1zM35 5h1v1h-1zM5 6h1v1h-1zM13 6h1v1h-1zM20 6h1v1h-1zM22 6h1v1h-1zM24 6h1v1h-1zM35 6h1v1h-1zM0 7h2v1h-2zM4 7h3v1h-3zM8 7h1v1h-1zM11 7h1v1h-1zM13 7h1v1h-1zM19 7h2v1h-2zM22 7h2v1h-2zM25 7h1v1h-1zM27 7h1v1h-1zM29 7h3v1h-3zM0 8h2v1h-2zM11 8h1v1h-1zM13 8h1v1h-1zM21 8h1v1h-1zM33 8h1v1h-1z"/>
<path fill="#501457" d="M0 0h1v1h-1zM17 0h1v1h-1zM14 1h1v1h-1zM17 1h4v1h-4zM23 1h1v1h-1zM25 1h2v1h-2zM32 1h1v1h-1zM7 2h1v1h-1zM9 2h1v1h-1zM16 2h1v1h-1zM20 2h2v1h-2zM31 2h1v1h-1zM33 2h1v1h-1zM0 3h2v1h-2zM5 3h1v1h-1zM9 3h1v1h-1zM17 3h2v1h-2zM22 3h3v1h-3zM26 3h1v1h-1zM28 3h1v1h-1zM31 3h2v1h-2zM34 3h1v1h-1zM0 4h3v1h-3zM4 4h1v1h-1zM11 4h2v1h-2zM14 4h2v1h-2zM19 4h1v1h-1zM24 4h1v1h-1zM27 4h1v1h-1zM30 4h2v1h-2zM2 5h3v1h-3zM18 5h1v1h-1zM21 5h2v1h-2zM27 5h2v1h-2zM30 5h1v1h-1zM33 5h1v1h-1zM0 6h1v1h-1zM4 6h1v1h-1zM8 6h2v1h-2zM11 6h1v1h-1zM19 6h1v1h-1zM23 6h1v1h-1zM25 6h1v1h-1zM28 6h1v1h-1zM31 6h2v1h-2zM2 7h2v1h-2zM9 7h1v1h-1zM12 7h1v1h-1zM18 7h1v1h-1zM21 7h1v1h-1zM24 7h1v1h-1zM26 7h1v1h-1zM32 7h1v1h-1zM2 8h1v1h-1zM4 8h1v1h-1zM8 8h3v1h-3zM12 8h1v1h-1zM15 8h1v1h-1zM17 8h1v1h-1zM20 8h1v1h-1zM24 8h1v1h-1zM27 8h2v1h-2z"/>
<path fill="#330b37" d="M9 1h1v1h-1zM1 2h2v1h-2zM4 2h1v1h-1zM12 2h1v1h-1zM19 2h1v1h-1zM27 2h2v1h-2zM3 3h1v1h-1zM3 4h1v1h-1zM5 4h1v1h-1zM10 4h1v1h-1zM13 4h1v1h-1zM17 4h1v1h-1zM21 4h1v1h-1zM23 4h1v1h-1zM25 4h2v1h-2zM28 4h1v1h-1zM35 4h1v1h-1zM6 5h1v1h-1zM13 5h2v1h-2zM24 5h3v1h-3zM31 5h2v1h-2zM34 5h1v1h-1zM1 6h2v1h-2zM6 6h1v1h-1zM10 6h1v1h-1zM12 6h1v1h-1zM14 6h1v1h-1zM16 6h1v1h-1zM21 6h1v1h-1zM26 6h2v1h-2zM29 6h1v1h-1zM3 8h1v1h-1zM6 8h2v1h-2zM14 8h1v1h-1zM19 8h1v1h-1zM22 8h2v1h-2zM25 8h1v1h-1zM29 8h1v1h-1zM35 8h1v1h-1z"/>
<path fill="#1d071e" d="M3 2h1v1h-1zM13 2h1v1h-1zM17 2h1v1h-1zM24 2h1v1h-1zM26 2h1v1h-1zM20 3h1v1h-1zM8 4h1v1h-1zM16 4h1v1h-1zM18 4h1v1h-1zM34 4h1v1h-1zM0 5h1v1h-1zM5 5h1v1h-1zM17 5h1v1h-1zM20 5h1v1h-1zM7 6h1v1h-1zM17 6h1v1h-1zM18 8h1v1h-1z"/>
<path fill="#241a14" d="M7 3h1v1h-1zM3 6h1v1h-1zM30 6h1v1h-1z"/>
<path fill="#494318" d="M13 1h1v1h-1zM6 2h1v1h-1zM35 2h1v1h-1z"/>
<path fill="#7b761e" d="M14 2h1v1h-1zM7 4h1v1h-1zM22 4h1v1h-1zM31 8h1v1h-1z"/>
<path fill="#aea923" d="M3 0h1v1h-1zM10 2h1v1h-1zM15 3h1v1h-1zM9 4h1v1h-1zM10 5h1v1h-1zM23 5h1v1h-1zM29 5h1v1h-1zM5 8h1v1h-1z"/>
<path fill="#d8d121" d="M21 1h1v1h-1zM34 1h1v1h-1zM0 2h1v1h-1zM29 2h1v1h-1zM27 3h1v1h-1zM8 5h1v1h-1zM15 6h1v1h-1zM16 8h1v1h-1z"/>
<path fill="#f2eb22" d="M30 2h1v1h-1zM6 4h1v1h-1zM30 8h1v1h-1z"/>
<path fill="#f8f228" d="M5 2h1v1h-1zM9 5h1v1h-1z"/>
</g>
<g transform="translate(623.00,567.20) scale(1.2472,5.4222)" shape-rendering="crispEdges">
<path fill="#862a8b" d="M5 2h1v1h-1z"/>
<path fill="#6c1e73" d="M2 2h1v1h-1zM31 2h1v1h-1zM3 3h1v1h-1zM11 3h1v1h-1zM1 7h2v1h-2zM5 7h1v1h-1zM8 7h1v1h-1zM10 7h1v1h-1zM32 7h1v1h-1z"/>
<path fill="#501457" d="M11 0h2v1h-2zM10 2h2v1h-2zM21 2h1v1h-1zM24 2h1v1h-1zM32 2h3v1h-3zM10 3h1v1h-1zM18 3h1v1h-1zM20 3h1v1h-1zM30 3h1v1h-1zM27 4h1v1h-1zM32 4h1v1h-1zM19 5h1v1h-1zM24 5h1v1h-1zM4 7h1v1h-1zM14 7h1v1h-1z"/>
<path fill="#330b37" d="M1 2h1v1h-1zM3 2h2v1h-2zM7 2h1v1h-1zM9 2h1v1h-1zM12 2h3v1h-3zM17 2h2v1h-2zM20 2h1v1h-1zM23 2h1v1h-1zM25 2h1v1h-1zM35 2h1v1h-1zM24 3h1v1h-1zM27 3h1v1h-1zM31 3h2v1h-2zM6 5h3v1h-3zM10 5h1v1h-1zM27 5h1v1h-1zM32 5h1v1h-1z"/>
<path fill="#1d071e" d="M5 0h1v1h-1zM32 1h1v1h-1zM0 2h1v1h-1zM8 2h1v1h-1zM29 2h2v1h-2zM6 3h1v1h-1zM0 5h1v1h-1zM28 5h1v1h-1zM3 6h1v1h-1zM13 7h1v1h-1zM27 7h1v1h-1zM13 8h1v1h-1zM30 8h1v1h-1z"/>
<path fill="#241a14" d="M14 1h1v1h-1zM7 3h1v1h-1zM13 3h1v1h-1zM35 4h1v1h-1zM11 5h1v1h-1zM16 5h1v1h-1zM30 5h1v1h-1zM14 6h1v1h-1zM35 6h1v1h-1z"/>
<path fill="#494318" d="M13 0h1v1h-1zM19 1h1v1h-1zM22 1h1v1h-1zM19 2h1v1h-1zM7 4h1v1h-1zM16 7h1v1h-1zM34 8h1v1h-1z"/>
<path fill="#7b761e" d="M2 0h1v1h-1zM30 0h1v1h-1zM32 0h1v1h-1zM6 1h1v1h-1zM18 1h1v1h-1zM6 2h1v1h-1zM16 2h1v1h-1zM4 3h1v1h-1zM34 3h1v1h-1zM3 4h1v1h-1zM1 5h1v1h-1zM12 5h1v1h-1zM25 5h1v1h-1zM32 6h1v1h-1zM6 7h1v1h-1zM9 7h1v1h-1zM17 7h1v1h-1zM20 7h1v1h-1zM22 7h1v1h-1zM31 7h1v1h-1zM33 7h1v1h-1zM32 8h1v1h-1z"/>
<path fill="#aea923" d="M1 0h1v1h-1zM18 0h1v1h-1zM31 0h1v1h-1zM34 0h1v1h-1zM28 1h1v1h-1zM15 2h1v1h-1zM22 2h1v1h-1zM8 3h1v1h-1zM17 3h1v1h-1zM25 3h2v1h-2zM28 3h1v1h-1zM33 3h1v1h-1zM2 4h1v1h-1zM19 4h1v1h-1zM2 5h1v1h-1zM13 5h2v1h-2zM18 5h1v1h-1zM34 5h1v1h-1zM10 6h1v1h-1zM13 6h1v1h-1zM18 6h1v1h-1zM3 7h1v1h-1zM12 7h1v1h-1zM15 7h1v1h-1zM19 7h1v1h-1zM24 7h1v1h-1zM28 7h1v1h-1zM34 7h2v1h-2zM2 8h1v1h-1zM14 8h1v1h-1zM19 8h1v1h-1z"/>
<path fill="#d8d121" d="M0 0h1v1h-1zM6 0h1v1h-1zM8 0h2v1h-2zM20 0h1v1h-1zM22 0h2v1h-2zM27 0h1v1h-1zM2 1h2v1h-2zM5 1h1v1h-1zM8 1h1v1h-1zM11 1h1v1h-1zM23 1h1v1h-1zM30 1h1v1h-1zM33 1h1v1h-1zM26 2h3v1h-3zM0 3h1v1h-1zM2 3h1v1h-1zM9 3h1v1h-1zM14 3h1v1h-1zM16 3h1v1h-1zM22 3h2v1h-2zM29 3h1v1h-1zM1 4h1v1h-1zM5 4h2v1h-2zM9 4h1v1h-1zM12 4h2v1h-2zM16 4h1v1h-1zM18 4h1v1h-1zM22 4h1v1h-1zM31 4h1v1h-1zM3 5h2v1h-2zM17 5h1v1h-1zM20 5h2v1h-2zM23 5h1v1h-1zM31 5h1v1h-1zM35 5h1v1h-1zM2 6h1v1h-1zM6 6h1v1h-1zM9 6h1v1h-1zM11 6h2v1h-2zM16 6h1v1h-1zM23 6h1v1h-1zM27 6h1v1h-1zM34 6h1v1h-1zM7 7h1v1h-1zM18 7h1v1h-1zM25 7h1v1h-1zM29 7h1v1h-1zM0 8h2v1h-2zM7 8h3v1h-3zM11 8h2v1h-2zM18 8h1v1h-1zM20 8h2v1h-2zM24 8h2v1h-2zM27 8h2v1h-2zM35 8h1v1h-1z"/>
<path fill="#f2eb22" d="M3 0h2v1h-2zM10 0h1v1h-1zM14 0h2v1h-2zM17 0h1v1h-1zM19 0h1v1h-1zM21 0h1v1h-1zM24 0h3v1h-3zM28 0h2v1h-2zM33 0h1v1h-1zM0 1h1v1h-1zM4 1h1v1h-1zM7 1h1v1h-1zM9 1h2v1h-2zM13 1h1v1h-1zM15 1h2v1h-2zM20 1h2v1h-2zM25 1h1v1h-1zM29 1h1v1h-1zM31 1h1v1h-1zM34 1h1v1h-1zM1 3h1v1h-1zM5 3h1v1h-1zM12 3h1v1h-1zM15 3h1v1h-1zM19 3h1v1h-1zM35 3h1v1h-1zM0 4h1v1h-1zM4 4h1v1h-1zM11 4h1v1h-1zM20 4h2v1h-2zM23 4h1v1h-1zM25 4h2v1h-2zM28 4h1v1h-1zM30 4h1v1h-1zM5 5h1v1h-1zM9 5h1v1h-1zM29 5h1v1h-1zM33 5h1v1h-1zM0 6h1v1h-1zM4 6h2v1h-2zM7 6h2v1h-2zM17 6h1v1h-1zM19 6h2v1h-2zM22 6h1v1h-1zM24 6h1v1h-1zM26 6h1v1h-1zM30 6h2v1h-2zM0 7h1v1h-1zM11 7h1v1h-1zM21 7h1v1h-1zM23 7h1v1h-1zM26 7h1v1h-1zM30 7h1v1h-1zM3 8h1v1h-1zM5 8h2v1h-2zM10 8h1v1h-1zM16 8h1v1h-1zM22 8h2v1h-2zM26 8h1v1h-1zM31 8h1v1h-1z"/>
<path fill="#f8f228" d="M7 0h1v1h-1zM16 0h1v1h-1zM35 0h1v1h-1zM1 1h1v1h-1zM12 1h1v1h-1zM17 1h1v1h-1zM24 1h1v1h-1zM26 1h2v1h-2zM35 1h1v1h-1zM21 3h1v1h-1zM8 4h1v1h-1zM10 4h1v1h-1zM14 4h2v1h-2zM17 4h1v1h-1zM24 4h1v1h-1zM29 4h1v1h-1zM33 4h2v1h-2zM15 5h1v1h-1zM22 5h1v1h-1zM26 5h1v1h-1zM1 6h1v1h-1zM15 6h1v1h-1zM21 6h1v1h-1zM25 6h1v1h-1zM28 6h2v1h-2zM33 6h1v1h-1zM4 8h1v1h-1zM15 8h1v1h-1zM17 8h1v1h-1zM29 8h1v1h-1zM33 8h1v1h-1z"/>
</g>
</g>
<text x="354.2" y="349.87" font-size="7.3" font-style="italic" text-anchor="end" fill="#231f20">S100b</text>
<text x="354.2" y="355.41" font-size="7.3" font-style="italic" text-anchor="end" fill="#231f20">Plp1</text>
<text x="354.2" y="360.94" font-size="7.3" font-style="italic" text-anchor="end" fill="#231f20">Gpm6b</text>
<text x="354.2" y="366.48" font-size="7.3" font-style="italic" text-anchor="end" fill="#231f20">Itih5</text>
<text x="354.2" y="372.02" font-size="7.3" font-style="italic" text-anchor="end" fill="#231f20">Postn</text>
<text x="354.2" y="377.56" font-size="7.3" font-style="italic" text-anchor="end" fill="#231f20">Tnc</text>
<text x="354.2" y="383.09" font-size="7.3" font-style="italic" text-anchor="end" fill="#231f20">Mcam</text>
<text x="354.2" y="388.63" font-size="7.3" font-style="italic" text-anchor="end" fill="#231f20">Adam23</text>
<text x="354.2" y="395.09" font-size="7.3" font-style="italic" text-anchor="end" fill="#79aee0">Vcan</text>
<text x="354.2" y="400.46" font-size="7.3" font-style="italic" text-anchor="end" fill="#79aee0">Fosb</text>
<text x="354.2" y="405.83" font-size="7.3" font-style="italic" text-anchor="end" fill="#79aee0">Jun</text>
<text x="354.2" y="411.20" font-size="7.3" font-style="italic" text-anchor="end" fill="#79aee0">Has2</text>
<text x="354.2" y="416.57" font-size="7.3" font-style="italic" text-anchor="end" fill="#79aee0">Col20a1</text>
<text x="354.2" y="421.94" font-size="7.3" font-style="italic" text-anchor="end" fill="#79aee0">Itga8</text>
<text x="354.2" y="427.31" font-size="7.3" font-style="italic" text-anchor="end" fill="#2f6db3">Dcn</text>
<text x="354.2" y="433.66" font-size="7.3" font-style="italic" text-anchor="end" fill="#2f6db3">Lars2</text>
<text x="354.2" y="438.97" font-size="7.3" font-style="italic" text-anchor="end" fill="#2f6db3">Tgfbi</text>
<text x="354.2" y="444.29" font-size="7.3" font-style="italic" text-anchor="end" fill="#2f6db3">Fn1</text>
<text x="354.2" y="449.61" font-size="7.3" font-style="italic" text-anchor="end" fill="#2f6db3">Dpysl3</text>
<text x="354.2" y="454.93" font-size="7.3" font-style="italic" text-anchor="end" fill="#2f6db3">Myl9</text>
<text x="354.2" y="460.24" font-size="7.3" font-style="italic" text-anchor="end" fill="#2f6db3">Loxl2</text>
<text x="354.2" y="466.66" font-size="7.3" font-style="italic" text-anchor="end" fill="#8cc760">Kcnq1</text>
<text x="354.2" y="472.18" font-size="7.3" font-style="italic" text-anchor="end" fill="#8cc760">Scn7a</text>
<text x="354.2" y="477.70" font-size="7.3" font-style="italic" text-anchor="end" fill="#8cc760">Aldh1a1</text>
<text x="354.2" y="483.22" font-size="7.3" font-style="italic" text-anchor="end" fill="#8cc760">Reln</text>
<text x="354.2" y="488.74" font-size="7.3" font-style="italic" text-anchor="end" fill="#8cc760">Rarres2</text>
<text x="354.2" y="495.09" font-size="7.3" font-style="italic" text-anchor="end" fill="#f7b37c">Mki67</text>
<text x="354.2" y="500.26" font-size="7.3" font-style="italic" text-anchor="end" fill="#f7b37c">Top2a</text>
<text x="354.2" y="505.44" font-size="7.3" font-style="italic" text-anchor="end" fill="#f7b37c">Hmgb2</text>
<text x="354.2" y="510.61" font-size="7.3" font-style="italic" text-anchor="end" fill="#f7b37c">Stmn1</text>
<text x="354.2" y="516.87" font-size="7.3" font-style="italic" text-anchor="end" fill="#8a70b8">Ptgds</text>
<text x="354.2" y="522.21" font-size="7.3" font-style="italic" text-anchor="end" fill="#8a70b8">Pmel</text>
<text x="354.2" y="527.55" font-size="7.3" font-style="italic" text-anchor="end" fill="#8a70b8">Mlana</text>
<text x="354.2" y="532.89" font-size="7.3" font-style="italic" text-anchor="end" fill="#8a70b8">Dct</text>
<text x="354.2" y="538.23" font-size="7.3" font-style="italic" text-anchor="end" fill="#8a70b8">Tyrp1</text>
<text x="354.2" y="544.65" font-size="7.3" font-style="italic" text-anchor="end" fill="#f08e94">Mpz</text>
<text x="354.2" y="550.15" font-size="7.3" font-style="italic" text-anchor="end" fill="#f08e94">Mbp</text>
<text x="354.2" y="555.65" font-size="7.3" font-style="italic" text-anchor="end" fill="#f08e94">Pmp22</text>
<text x="354.2" y="561.15" font-size="7.3" font-style="italic" text-anchor="end" fill="#f08e94">Gatm</text>
<text x="354.2" y="566.65" font-size="7.3" font-style="italic" text-anchor="end" fill="#f08e94">Ndrg1</text>
<text x="354.2" y="573.11" font-size="7.3" font-style="italic" text-anchor="end" fill="#d12a36">Aqp1</text>
<text x="354.2" y="578.53" font-size="7.3" font-style="italic" text-anchor="end" fill="#d12a36">Ptn</text>
<text x="354.2" y="583.96" font-size="7.3" font-style="italic" text-anchor="end" fill="#d12a36">Scd1</text>
<text x="354.2" y="589.38" font-size="7.3" font-style="italic" text-anchor="end" fill="#d12a36">Igf1</text>
<text x="354.2" y="594.80" font-size="7.3" font-style="italic" text-anchor="end" fill="#d12a36">Mfge8</text>
<text x="354.2" y="600.22" font-size="7.3" font-style="italic" text-anchor="end" fill="#d12a36">Dhh</text>
<text x="354.2" y="605.64" font-size="7.3" font-style="italic" text-anchor="end" fill="#d12a36">Sema3b</text>
<text x="354.2" y="611.07" font-size="7.3" font-style="italic" text-anchor="end" fill="#d12a36">Cavin2</text>
<text x="354.2" y="616.49" font-size="7.3" font-style="italic" text-anchor="end" fill="#d12a36">Bche</text>
<rect x="355.5" y="388.20" width="312.4" height="1" fill="#fff" fill-opacity="0.85"/>
<rect x="355.5" y="426.80" width="312.4" height="1" fill="#fff" fill-opacity="0.85"/>
<rect x="355.5" y="459.70" width="312.4" height="1" fill="#fff" fill-opacity="0.85"/>
<rect x="355.5" y="488.30" width="312.4" height="1" fill="#fff" fill-opacity="0.85"/>
<rect x="355.5" y="510.00" width="312.4" height="1" fill="#fff" fill-opacity="0.85"/>
<rect x="355.5" y="537.70" width="312.4" height="1" fill="#fff" fill-opacity="0.85"/>
<rect x="355.5" y="566.20" width="312.4" height="1" fill="#fff" fill-opacity="0.85"/>
<rect x="399.60" y="343.9" width="1" height="272.1" fill="#fff" fill-opacity="0.75"/>
<rect x="443.80" y="343.9" width="1" height="272.1" fill="#fff" fill-opacity="0.75"/>
<rect x="488.50" y="343.9" width="1" height="272.1" fill="#fff" fill-opacity="0.75"/>
<rect x="533.40" y="343.9" width="1" height="272.1" fill="#fff" fill-opacity="0.75"/>
<rect x="577.70" y="343.9" width="1" height="272.1" fill="#fff" fill-opacity="0.75"/>
<rect x="622.50" y="343.9" width="1" height="272.1" fill="#fff" fill-opacity="0.75"/>
<g transform="translate(380,319) rotate(-15)">
<text x="0" y="0.0" font-size="8" fill="#231f20" text-anchor="middle"><tspan font-style="italic">Braf<tspan font-size="5" dy="-3">CA/+</tspan><tspan dy="3">Pten</tspan><tspan font-size="5" dy="-3">Δ/+</tspan></tspan></text>
<text x="0" y="7.6" font-size="8" fill="#231f20" text-anchor="middle">enriched</text>
</g>
<g transform="translate(420.5,328.5) rotate(-15)">
<text x="0" y="0.0" font-size="8" fill="#231f20" text-anchor="middle">Shared</text>
</g>
<g transform="translate(467.5,319) rotate(-15)">
<text x="0" y="0.0" font-size="8" fill="#231f20" text-anchor="middle"><tspan font-style="italic">Braf<tspan font-size="5" dy="-3">CA/+</tspan><tspan dy="3">Pten</tspan><tspan font-size="5" dy="-3">+/+</tspan></tspan></text>
<text x="0" y="7.6" font-size="8" fill="#231f20" text-anchor="middle">enriched</text>
</g>
<g transform="translate(512,327) rotate(-15)">
<text x="0" y="0.0" font-size="8" fill="#231f20" text-anchor="middle">Proliferating</text>
</g>
<g transform="translate(557,326.5) rotate(-15)">
<text x="0" y="0.0" font-size="8" fill="#231f20" text-anchor="middle">Melanocyte</text>
</g>
<g transform="translate(601.5,321.5) rotate(-15)">
<text x="0" y="0.0" font-size="8" fill="#231f20" text-anchor="middle">Schwann</text>
<text x="0" y="7.6" font-size="8" fill="#231f20" text-anchor="middle">cell</text>
</g>
<g transform="translate(645.5,326.5) rotate(-15)">
<text x="0" y="0.0" font-size="8" fill="#231f20" text-anchor="middle">LNM cell</text>
</g>
</svg></body></html>
